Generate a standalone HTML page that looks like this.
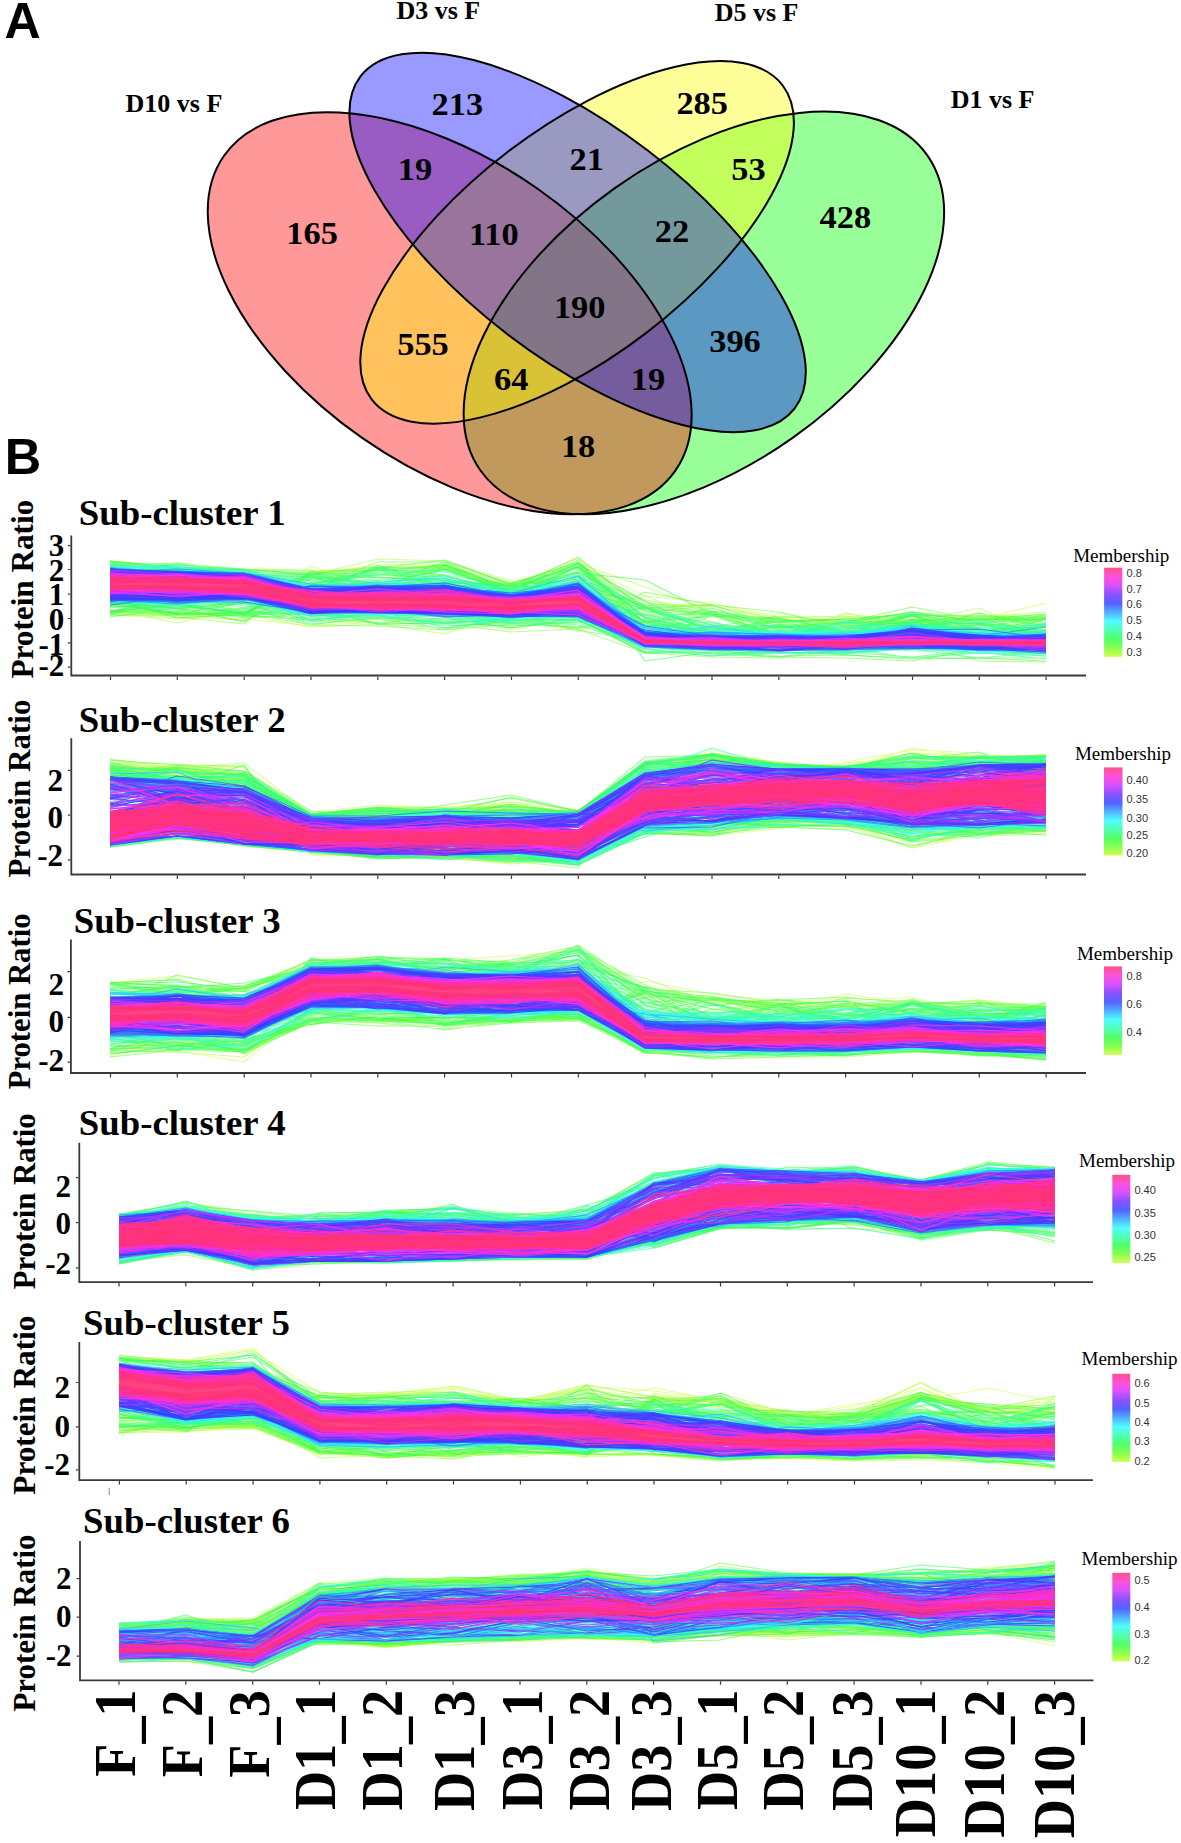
<!DOCTYPE html><html><head><meta charset="utf-8"><style>html,body{margin:0;padding:0;background:#fff;overflow:hidden}svg{display:block}g.l path{fill:none;stroke-width:1.1;stroke-linejoin:round}</style></head><body><svg width="1181" height="1843" viewBox="0 0 1181 1843"><rect width="100%" height="100%" fill="#fff"/><ellipse cx="703.9" cy="312.9" rx="273.4" ry="153.3" transform="rotate(-35.2 703.9 312.9)" fill="#00ff00" fill-opacity="0.4"/>
<ellipse cx="449.7" cy="313.2" rx="275.2" ry="152.4" transform="rotate(34.9 449.7 313.2)" fill="#ff0000" fill-opacity="0.4"/>
<ellipse cx="577.1" cy="242.3" rx="258.6" ry="114.0" transform="rotate(-37.4 577.1 242.3)" fill="#ffff00" fill-opacity="0.4"/>
<ellipse cx="577.6" cy="242.4" rx="273.3" ry="115.6" transform="rotate(37.4 577.6 242.4)" fill="#0000ff" fill-opacity="0.4"/>
<ellipse cx="703.9" cy="312.9" rx="273.4" ry="153.3" transform="rotate(-35.2 703.9 312.9)" fill="none" stroke="#000" stroke-width="2"/>
<ellipse cx="449.7" cy="313.2" rx="275.2" ry="152.4" transform="rotate(34.9 449.7 313.2)" fill="none" stroke="#000" stroke-width="2"/>
<ellipse cx="577.1" cy="242.3" rx="258.6" ry="114.0" transform="rotate(-37.4 577.1 242.3)" fill="none" stroke="#000" stroke-width="2"/>
<ellipse cx="577.6" cy="242.4" rx="273.3" ry="115.6" transform="rotate(37.4 577.6 242.4)" fill="none" stroke="#000" stroke-width="2"/>
<text x="0" y="0" font-size="32.5" style="font-family:'Liberation Serif',serif;font-weight:bold" text-anchor="middle" transform="translate(457.4 115.1) scale(1.06 1)">213</text>
<text x="0" y="0" font-size="32.5" style="font-family:'Liberation Serif',serif;font-weight:bold" text-anchor="middle" transform="translate(702.2 113.9) scale(1.06 1)">285</text>
<text x="0" y="0" font-size="32.5" style="font-family:'Liberation Serif',serif;font-weight:bold" text-anchor="middle" transform="translate(415.0 180.4) scale(1.06 1)">19</text>
<text x="0" y="0" font-size="32.5" style="font-family:'Liberation Serif',serif;font-weight:bold" text-anchor="middle" transform="translate(586.8 170.4) scale(1.06 1)">21</text>
<text x="0" y="0" font-size="32.5" style="font-family:'Liberation Serif',serif;font-weight:bold" text-anchor="middle" transform="translate(748.5 179.9) scale(1.06 1)">53</text>
<text x="0" y="0" font-size="32.5" style="font-family:'Liberation Serif',serif;font-weight:bold" text-anchor="middle" transform="translate(312.1 243.8) scale(1.06 1)">165</text>
<text x="0" y="0" font-size="32.5" style="font-family:'Liberation Serif',serif;font-weight:bold" text-anchor="middle" transform="translate(493.9 245.3) scale(1.06 1)">110</text>
<text x="0" y="0" font-size="32.5" style="font-family:'Liberation Serif',serif;font-weight:bold" text-anchor="middle" transform="translate(672.0 242.4) scale(1.06 1)">22</text>
<text x="0" y="0" font-size="32.5" style="font-family:'Liberation Serif',serif;font-weight:bold" text-anchor="middle" transform="translate(845.4 227.9) scale(1.06 1)">428</text>
<text x="0" y="0" font-size="32.5" style="font-family:'Liberation Serif',serif;font-weight:bold" text-anchor="middle" transform="translate(579.7 318.1) scale(1.06 1)">190</text>
<text x="0" y="0" font-size="32.5" style="font-family:'Liberation Serif',serif;font-weight:bold" text-anchor="middle" transform="translate(423.0 354.7) scale(1.06 1)">555</text>
<text x="0" y="0" font-size="32.5" style="font-family:'Liberation Serif',serif;font-weight:bold" text-anchor="middle" transform="translate(735.0 351.7) scale(1.06 1)">396</text>
<text x="0" y="0" font-size="32.5" style="font-family:'Liberation Serif',serif;font-weight:bold" text-anchor="middle" transform="translate(511.2 390.1) scale(1.06 1)">64</text>
<text x="0" y="0" font-size="32.5" style="font-family:'Liberation Serif',serif;font-weight:bold" text-anchor="middle" transform="translate(648.0 390.0) scale(1.06 1)">19</text>
<text x="0" y="0" font-size="32.5" style="font-family:'Liberation Serif',serif;font-weight:bold" text-anchor="middle" transform="translate(578.1 456.6) scale(1.06 1)">18</text>
<text x="125.5" y="112.2" font-size="26.0" style="font-family:'Liberation Serif',serif;font-weight:bold" text-anchor="start" fill="#000" >D10 vs F</text>
<text x="396.4" y="19.3" font-size="26.0" style="font-family:'Liberation Serif',serif;font-weight:bold" text-anchor="start" fill="#000" >D3 vs F</text>
<text x="714.7" y="20.8" font-size="26.0" style="font-family:'Liberation Serif',serif;font-weight:bold" text-anchor="start" fill="#000" >D5 vs F</text>
<text x="950.7" y="107.6" font-size="26.0" style="font-family:'Liberation Serif',serif;font-weight:bold" text-anchor="start" fill="#000" >D1 vs F</text>
<text x="4.5" y="38.0" font-size="50.0" style="font-family:'Liberation Sans',sans-serif;font-weight:bold" text-anchor="start" fill="#000" >A</text>
<text x="4.7" y="474.2" font-size="50.5" style="font-family:'Liberation Sans',sans-serif;font-weight:bold" text-anchor="start" fill="#000" >B</text>
<text x="78.8" y="524.7" font-size="36.8" style="font-family:'Liberation Serif',serif;font-weight:bold" text-anchor="start" fill="#000" >Sub-cluster 1</text>
<text x="0" y="0" font-size="31.20" style="font-family:'Liberation Serif',serif;font-weight:bold" transform="translate(32.5 678.5) rotate(-90)">Protein Ratio</text>
<text x="64.3" y="556.1" font-size="31.0" style="font-family:'Liberation Serif',serif;font-weight:bold" text-anchor="end" fill="#000" >3</text>
<text x="64.3" y="581.0" font-size="31.0" style="font-family:'Liberation Serif',serif;font-weight:bold" text-anchor="end" fill="#000" >2</text>
<text x="64.3" y="604.6" font-size="31.0" style="font-family:'Liberation Serif',serif;font-weight:bold" text-anchor="end" fill="#000" >1</text>
<text x="64.3" y="629.6" font-size="31.0" style="font-family:'Liberation Serif',serif;font-weight:bold" text-anchor="end" fill="#000" >0</text>
<text x="64.3" y="654.8" font-size="31.0" style="font-family:'Liberation Serif',serif;font-weight:bold" text-anchor="end" fill="#000" >-1</text>
<text x="64.3" y="676.2" font-size="31.0" style="font-family:'Liberation Serif',serif;font-weight:bold" text-anchor="end" fill="#000" >-2</text>
<g class="l">
<path d="M110 614l67-21 67 22 67-43 67-5 67-1 66 25 67-5 67 28 67-11 67 14 67 0 66-2 67 1 67-1M110 612l67 3 67 4 67 7 67-5 67-3 66 12 67-13 67 23 67-37 67 14 67 14 66-2 67-10 67-16M110 615l67 4 67-4 67-49 67 22 67-24 66 19 67-19 67 32 67 7 67 18 67-4 66 0 67 3 67 15M110 607l67 6 67 1 67-40 67-9 67-1 66 29 67-31 67 63 67 17 67-7 67-21 66 9 67 1 67 0" stroke="#ccff32" stroke-opacity="0.50"/>
<path d="M110 614l67 2 67 4 67-24 67 7 67-17 66-3 67-20 67 44 67 35 67-15 67 7 66-19 67 10 67 1M110 614l67 4 67-3 67 12 67-3 67 10 66-24 67 22 67-27 67 27 67-13 67 6 66 2 67-7 67-4M110 609l67 14 67-15 67-36 67-5 67 2 66 19 67-31 67 54 67 31 67-29 67 13 66-3 67-3 67-3M110 561l67 6 67 2 67 6 67-16 67 2 66 20 67 7 67 17 67 1 67 14 67 12 66-18 67 3 67 1M110 602l67 6 67 8 67-43 67-5 67-3 66 23 67-20 67 44 67-6 67 12 67-2 66 6 67-14 67 28M110 579l67-16 67 6 67 1 67 26 67-13 66 1 67-21 67 24 67 24 67 25 67-23 66 12 67-1 67 12M110 614l67 4 67-3 67 5 67 5 67-15 66 17 67-6 67-25 67 26 67 20 67-7 66-13 67-5 67-5M110 604l67 10 67 0 67-35 67-10 67-5 66 32 67-8 67 16 67 1 67 37 67-25 66 7 67-11 67 26" stroke="#a4ff32" stroke-opacity="0.52"/>
<path d="M110 599l67 18 67 7 67-53 67-1 67 5 66 10 67-9 67 24 67 11 67 9 67 2 66 0 67 11 67-14M110 611l67 2 67-1 67-3 67 14 67 1 66 8 67-3 67 24 67 4 67 1 67-8 66-7 67 18 67 1" stroke="#7dff32" stroke-opacity="0.54"/>
<path d="M110 612l67 3 67-14 67 8 67 5 67 16 66-6 67 4 67-6 67 12 67-13 67 3 66 2 67-7 67-3M110 615l67 0 67-7 67 17 67 1 67 4 66-11 67 11 67 12 67 12 67 3 67 1 66 3 67-12 67 7M110 565l67-2 67 11 67 14 67-19 67-2 66 24 67-31 67 69 67 6 67-10 67-2 66-11 67 6 67 7M110 610l67 2 67 5 67-43 67-7 67 2 66 18 67 0 67 18 67 7 67 18 67-1 66-15 67 6 67-5M110 568l67-3 67 5 67 1 67 10 67-17 66 32 67-29 67 69 67-9 67-11 67 6 66 1 67 14 67-18M110 613l67-9 67 14 67-27 67-21 67 1 66 16 67-29 67 51 67 5 67 14 67-6 66-15 67 13 67-2M110 599l67 10 67 12 67-50 67 18 67-23 66 18 67-3 67 26 67 6 67 22 67 6 66-20 67-4 67-1M110 599l67 5 67 11 67-40 67-5 67 17 66 11 67-1 67 36 67-3 67-9 67-1 66 2 67 1 67 12M110 600l67 15 67 1 67 4 67-7 67-7 66 18 67-5 67 34 67-3 67 6 67-1 66 4 67-1 67 3M110 562l67 7 67 4 67 14 67-25 67 0 66 21 67-17 67 36 67 11 67 9 67 12 66-7 67-8 67 1M110 604l67 10 67-1 67-29 67-14 67-5 66 32 67-27 67 45 67 7 67 14 67-3 66-4 67-14 67 10M110 613l67-24 67 24 67 12 67-9 67 7 66-4 67 8 67-35 67 13 67 7 67 15 66 3 67 6 67-5M110 603l67 12 67-3 67 1 67 11 67 4 66-9 67-14 67 15 67 7 67 7 67-4 66-14 67 0 67 6M110 613l67 0 67-10 67 18 67-2 67 10 66-8 67 7 67-13 67-1 67 20 67-10 66-4 67-2 67 18M110 561l67 7 67 5 67 7 67-3 67 4 66 5 67-18 67 55 67 11 67-4 67 12 66-23 67 16 67 1" stroke="#56ff32" stroke-opacity="0.55"/>
<path d="M110 599l67 16 67-2 67-39 67 9 67 4 66-3 67-5 67 32 67 4 67 3 67 13 66-2 67-2 67-9M110 617l67-9 67 14 67-40 67 3 67-2 66 1 67-22 67 61 67-12 67 11 67-3 66-4 67 21 67-4M110 612l67-8 67-6 67-22 67 10 67-21 66 23 67-16 67 36 67 6 67 11 67 3 66 3 67-18 67 14M110 613l67-5 67-5 67-17 67-18 67-8 66 25 67-12 67 7 67 34 67 9 67-4 66-5 67 6 67-1M110 599l67 19 67-4 67-36 67-3 67-6 66 23 67-15 67 31 67-3 67 21 67 5 66-6 67-2 67 7M110 562l67 6 67 2 67 4 67-1 67 3 66 15 67-10 67 59 67-24 67 21 67-10 66-5 67 11 67-15M110 565l67 0 67 4 67 7 67 21 67-31 66 23 67-25 67 54 67 15 67-9 67 9 66-6 67 3 67 9M110 561l67 6 67 3 67 3 67-3 67-4 66 22 67-13 67 48 67 15 67-1 67-16 66-5 67 23 67-15M110 603l67 11 67-1 67-24 67 10 67-31 66 18 67-7 67 44 67-7 67 3 67 23 66-20 67-3 67-5M110 611l67-6 67 8 67-31 67 2 67-15 66 22 67-1 67 27 67 17 67-7 67 1 66-12 67 27 67-7M110 605l67-1 67 11 67-7 67 16 67-1 66 3 67-4 67-2 67 16 67-1 67-5 66-10 67 0 67-3M110 612l67 0 67-13 67-26 67 4 67 6 66 1 67-17 67 44 67 14 67 11 67-11 66 4 67-4 67 11" stroke="#32ff36" stroke-opacity="0.57"/>
<path d="M110 563l67 8 67 0 67 6 67 6 67 1 66 7 67-28 67 98 67-9 67-4 67 7 66 3 67 0 67 0M110 615l67-19 67 12 67-19 67-5 67-9 66 24 67-32 67 39 67 26 67-11 67-2 66 10 67 5 67 0M110 600l67 11 67-17 67 2 67-31 67 24 66 0 67-25 67 37 67 33 67-7 67-5 66 2 67 3 67 7M110 567l67 2 67 4 67 5 67 11 67-14 66 20 67-29 67 52 67 14 67 1 67 4 66-7 67-6 67 9M110 611l67-5 67 7 67-37 67 9 67-7 66 18 67-14 67 26 67 20 67 9 67-15 66-10 67 10 67-3M110 605l67 8 67 1 67-30 67-15 67 16 66 4 67-10 67 56 67-23 67 17 67-6 66 3 67 7 67-1M110 601l67 1 67-3 67 17 67-1 67 6 66 1 67-13 67 24 67-1 67 5 67 1 66 1 67-2 67-7M110 565l67 3 67 4 67 3 67 9 67-2 66 4 67 1 67 49 67-22 67 21 67 2 66-8 67-6 67-4M110 606l67-1 67 7 67 7 67-3 67 10 66-4 67 6 67-21 67 23 67 1 67 1 66-17 67 17 67-6M110 603l67 11 67-11 67 21 67-6 67 5 66-2 67-5 67 18 67 4 67-5 67-1 66-8 67 10 67 3M110 601l67 4 67-1 67 11 67-5 67 2 66 7 67 6 67 21 67 4 67 2 67 3 66 3 67-5 67 1M110 566l67 2 67 2 67 19 67-3 67-17 66 24 67-8 67 36 67 11 67-2 67 4 66-18 67 18 67-8M110 607l67-1 67 5 67 4 67 0 67 6 66 2 67-6 67 34 67 2 67 0 67-2 66-2 67 9 67-6M110 602l67 2 67-10 67 20 67 2 67-1 66 3 67 2 67 33 67-1 67 5 67-9 66 10 67-6 67 7M110 601l67 8 67-7 67-15 67 2 67-7 66 12 67-21 67 60 67-4 67 3 67-9 66-4 67 6 67 6M110 600l67 13 67 3 67 1 67 6 67-5 66 10 67-10 67 35 67 0 67-1 67 1 66-4 67 0 67 2M110 578l67-7 67 3 67 15 67-21 67 7 66 21 67-29 67 61 67 5 67 4 67-6 66-1 67 1 67 8M110 600l67 3 67 7 67-27 67-9 67 6 66 14 67-28 67 56 67-14 67 21 67 7 66-14 67 7 67 2M110 565l67 6 67 1 67 12 67 0 67-22 66 31 67-9 67 41 67 1 67 0 67 8 66-8 67 4 67-4M110 607l67 0 67-5 67 12 67-1 67 3 66 2 67-1 67 32 67 1 67-3 67 7 66-6 67-2 67 5M110 612l67-15 67 16 67 2 67-3 67 5 66 7 67-10 67 38 67 1 67-9 67 8 66 5 67-7 67-6M110 593l67 9 67 2 67 9 67-1 67 11 66-5 67-1 67 5 67-7 67 21 67 2 66-8 67 9 67-20" stroke="#32ff5d" stroke-opacity="0.59"/>
<path d="M110 567l67-1 67 9 67 13 67-16 67 0 66 18 67 1 67 18 67 20 67 4 67-7 66-2 67 15 67-2M110 567l67 1 67 6 67 15 67-22 67 15 66 4 67 1 67 41 67 6 67-8 67 15 66 0 67-17 67 10M110 603l67 1 67-4 67-12 67-2 67-2 66 6 67-4 67 35 67 15 67-10 67 11 66-22 67 8 67 7M110 568l67 4 67 1 67 5 67 5 67 4 66 9 67-10 67 48 67-6 67 7 67 1 66-9 67 7 67-10M110 576l67-3 67-3 67 15 67 16 67-18 66 12 67-11 67 41 67 0 67 10 67 0 66-6 67 8 67-12M110 568l67 0 67 6 67 7 67-1 67 0 66 6 67-19 67 51 67 19 67-1 67-1 66-23 67 18 67 3M110 607l67-2 67-6 67 14 67-2 67 4 66 4 67 2 67 25 67 8 67-3 67-6 66 6 67-2 67 2M110 603l67 5 67-13 67 25 67-8 67 4 66 4 67-1 67-5 67 18 67-14 67 14 66-7 67 14 67-8M110 611l67-9 67 12 67-30 67-9 67 2 66 12 67-8 67 49 67 3 67 3 67-4 66-9 67 14 67-14M110 607l67-4 67-5 67-24 67 4 67 1 66 14 67-11 67 44 67 8 67 3 67-6 66-3 67 2 67 6M110 563l67 12 67-4 67 13 67 3 67 1 66 3 67-9 67 44 67 12 67 4 67-20 66 8 67-11 67 14M110 598l67 1 67 3 67 11 67 5 67 4 66-2 67 0 67 29 67 7 67-6 67 1 66-4 67 2 67 4M110 600l67 4 67 11 67-2 67 0 67 7 66-4 67 0 67 9 67 6 67 5 67 0 66-16 67 11 67-4" stroke="#32ff85" stroke-opacity="0.61"/>
<path d="M110 569l67-2 67 6 67 7 67 2 67 3 66 6 67 3 67 21 67 23 67-5 67 2 66-12 67 13 67-1M110 564l67 7 67 2 67 15 67-18 67 0 66 23 67-1 67 25 67 6 67 10 67 2 66-10 67 9 67-11M110 602l67-9 67 13 67 10 67 2 67-2 66 5 67-6 67 34 67 7 67-3 67 0 66-5 67 3 67 2M110 569l67 1 67 3 67 16 67-6 67-2 66 10 67-18 67 35 67 22 67 2 67 10 66-17 67 3 67 13M110 600l67 3 67-5 67 24 67-8 67 2 66 7 67 0 67-16 67 31 67-13 67 7 66-5 67 3 67 9M110 566l67 5 67 2 67 15 67-7 67 16 66-1 67-19 67 31 67 17 67 10 67 0 66-5 67 5 67-5M110 599l67 4 67-9 67 26 67-6 67 3 66 11 67-8 67 14 67-1 67 1 67-7 66 3 67 3 67 0M110 567l67 2 67 4 67 15 67-2 67-4 66 6 67 3 67 35 67 4 67-5 67 11 66-10 67 3 67 8M110 569l67 1 67 3 67 14 67 1 67-8 66 14 67-22 67 66 67-4 67-1 67 1 66-4 67 3 67 2" stroke="#32ffac" stroke-opacity="0.63"/>
<path d="M110 568l67 2 67 4 67 12 67 0 67-3 66 14 67-12 67 42 67 9 67-5 67 11 66-16 67 8 67 5M110 602l67 2 67-5 67 11 67 5 67 9 66-7 67 0 67 29 67 5 67-4 67 6 66-5 67 5 67 3M110 569l67 7 67-2 67 15 67-3 67 3 66 3 67-5 67 42 67 3 67 3 67-1 66-8 67-4 67 9M110 568l67 3 67 4 67 15 67 1 67 3 66 2 67-20 67 57 67 1 67 1 67-2 66-7 67 11 67 0M110 600l67-10 67 10 67 13 67 0 67 2 66 5 67-4 67 32 67 2 67-1 67 1 66-3 67 3 67 2M110 568l67-1 67 3 67 16 67 0 67 2 66 9 67-16 67 51 67 8 67-3 67 0 66-2 67 1 67-1M110 578l67-7 67 2 67 16 67-6 67 2 66 10 67-8 67 41 67 6 67 1 67 2 66-7 67 6 67 0M110 569l67 3 67 1 67 14 67 1 67-2 66 12 67-16 67 54 67-3 67 3 67-8 66 2 67 1 67 7M110 600l67 4 67-3 67 15 67-5 67 17 66-9 67-9 67 28 67 4 67-10 67 3 66 1 67-8 67-3" stroke="#32ffd3" stroke-opacity="0.65"/>
<path d="M110 568l67-4 67 8 67 15 67-3 67-8 66 19 67-7 67 47 67-4 67 2 67-2 66-1 67 10 67-7M110 568l67-1 67 11 67 8 67 2 67-4 66 13 67-20 67 61 67 1 67-6 67-10 66 7 67 1 67 7M110 602l67-1 67-2 67 14 67 2 67-3 66 3 67 3 67 10 67 7 67-4 67 4 66-2 67 3 67 0M110 601l67 5 67-10 67 17 67-1 67 4 66 1 67-1 67 11 67 8 67-1 67 1 66-6 67 8 67-4M110 602l67-12 67 7 67 16 67 0 67 2 66 1 67 2 67 24 67 8 67-4 67 3 66-1 67 5 67-3" stroke="#32fffa" stroke-opacity="0.66"/>
<path d="M110 597l67 3 67 0 67-15 67-2 67 5 66 13 67-15 67 41 67 13 67-3 67-4 66-3 67 7 67 1M110 569l67 2 67 3 67 14 67-6 67-4 66 18 67-15 67 51 67-5 67 9 67 1 66-8 67 8 67-4M110 601l67-1 67-1 67 17 67-4 67 2 66 3 67-6 67 14 67 10 67 0 67-3 66 1 67 4 67-1M110 567l67 6 67 0 67 13 67-3 67 3 66 13 67-18 67 53 67-8 67 10 67 2 66-9 67 5 67 2M110 591l67 9 67-2 67-9 67-3 67 9 66-1 67-9 67 54 67-2 67 0 67-2 66-10 67 11 67 0M110 602l67-2 67-2 67-7 67-5 67 1 66 6 67-7 67 49 67-2 67 2 67 5 66-10 67 5 67-2M110 602l67 0 67 1 67 7 67 3 67 2 66 1 67 0 67 31 67 2 67 4 67-1 66-4 67 3 67 2M110 568l67 4 67 1 67 17 67-5 67 5 66 7 67-13 67 54 67-3 67 1 67 3 66-5 67 1 67 2" stroke="#32dcff" stroke-opacity="0.68"/>
<path d="M110 569l67 2 67 2 67 11 67 7 67-4 66 8 67-10 67 43 67 9 67 3 67-1 66-13 67 14 67-6M110 600l67 0 67 0 67-13 67 0 67 1 66 5 67-17 67 57 67 3 67 3 67-3 66-7 67 4 67 3M110 599l67 1 67-1 67-12 67-2 67 3 66 7 67-10 67 50 67 2 67-2 67 0 66-4 67 7 67-1M110 600l67 2 67-3 67 14 67-2 67 2 66 4 67-1 67 27 67 6 67 2 67-2 66-3 67 1 67 7M110 569l67 3 67 2 67 15 67-2 67-4 66 14 67-12 67 45 67 8 67 2 67-3 66-7 67 5 67 7M110 602l67-1 67-6 67-9 67-1 67 6 66 4 67-10 67 50 67-3 67 2 67 3 66-7 67 6 67 1M110 599l67 1 67-2 67 11 67 3 67 2 66 2 67 1 67 27 67 3 67 3 67 0 66-2 67 2 67-5" stroke="#32b5ff" stroke-opacity="0.70"/>
<path d="M110 568l67 6 67 2 67 13 67 3 67-2 66 4 67-8 67 47 67 3 67 1 67-1 66-6 67 8 67-1M110 600l67 4 67-6 67-12 67 1 67-1 66 11 67-11 67 49 67-3 67 3 67 2 66-7 67 7 67 3M110 572l67 3 67 0 67 17 67-5 67 2 66 5 67-10 67 51 67-2 67 5 67-1 66-1 67 3 67-3M110 568l67 4 67 2 67 15 67-2 67 0 66 8 67-9 67 51 67 2 67-2 67 2 66-6 67 2 67 5M110 599l67-7 67 7 67-10 67 5 67-5 66 6 67-12 67 54 67-3 67 4 67-2 66 5 67-4 67 3M110 571l67 0 67 3 67 14 67-1 67 6 66 3 67-5 67 44 67 1 67 3 67-1 66 0 67 1 67-4M110 572l67-3 67 4 67 18 67-3 67 3 66 5 67-8 67 45 67 0 67 1 67 2 66-6 67 6 67-9M110 599l67 2 67-2 67-7 67-6 67 3 66 7 67-13 67 53 67 1 67-1 67 2 66-3 67 1 67 2M110 569l67 4 67 0 67 16 67-2 67-2 66 16 67-17 67 48 67 2 67 5 67-3 66-3 67 5 67-1M110 571l67 1 67 2 67 16 67-3 67 1 66 8 67-13 67 50 67 1 67 4 67-4 66 7 67-4 67 0M110 597l67 4 67-2 67-9 67-2 67 0 66 10 67-4 67 42 67 1 67-2 67 1 66-6 67 10 67-6M110 594l67 4 67 1 67-8 67-3 67-1 66 8 67 0 67 36 67 9 67-3 67 1 66-6 67 5 67 1M110 592l67 8 67-2 67 12 67 2 67 0 66 6 67-8 67 34 67 4 67 2 67-1 66-1 67 1 67-4" stroke="#328dff" stroke-opacity="0.72"/>
<path d="M110 605l67-9 67 1 67-8 67-3 67 6 66 3 67-8 67 49 67 2 67-1 67 0 66-7 67-1 67 9M110 592l67 4 67 2 67 12 67 2 67 0 66 5 67-2 67 20 67 4 67-3 67 1 66-4 67 5 67-1M110 572l67-1 67 7 67 16 67-8 67 4 66 5 67-1 67 38 67 5 67 0 67 4 66-12 67 9 67 1M110 596l67 3 67 1 67-10 67 0 67-4 66 10 67-9 67 47 67 2 67-1 67 6 66-10 67 4 67 4M110 593l67 5 67 1 67 12 67-1 67 7 66-2 67 2 67 29 67 3 67 2 67-3 66-2 67 3 67 2M110 599l67 1 67-4 67-5 67-6 67 2 66 6 67-6 67 47 67 3 67 1 67 2 66-11 67 8 67-3M110 573l67-1 67 1 67 16 67-1 67-1 66 10 67-7 67 45 67 7 67-6 67 3 66-9 67 6 67 2M110 601l67-7 67 5 67 7 67 4 67 3 66 1 67 2 67 29 67 4 67 1 67-1 66-3 67 4 67 0M110 600l67 2 67-6 67 16 67-2 67 0 66 5 67 0 67 32 67 1 67 3 67-2 66-1 67 0 67-1M110 570l67 1 67 5 67 13 67-1 67 0 66 8 67-4 67 48 67-2 67-3 67 2 66-7 67 9 67-2M110 599l67-6 67 6 67-8 67-4 67 1 66 8 67-9 67 48 67 3 67-1 67-1 66-6 67 7 67 1M110 596l67 7 67-4 67 13 67-2 67 1 66 5 67 0 67 29 67 4 67 1 67 0 66-6 67 5 67 2M110 602l67-12 67 5 67 18 67 0 67 1 66 2 67-4 67 35 67 3 67 0 67-1 66 0 67-2 67 1M110 576l67-4 67 2 67 15 67-1 67-1 66 14 67-9 67 34 67 10 67 2 67 4 66-14 67 9 67 3M110 596l67 2 67 1 67-10 67 3 67-3 66 8 67-14 67 53 67 0 67 3 67-2 66-2 67 4 67-2M110 599l67-2 67 1 67-7 67-2 67-1 66 9 67-11 67 49 67 2 67 2 67-2 66-7 67 6 67 1M110 573l67-1 67 4 67 13 67-2 67-1 66 9 67-6 67 47 67 1 67 2 67-2 66-6 67 5 67 0M110 598l67 3 67-2 67-9 67-2 67 2 66 7 67-8 67 48 67 0 67 4 67-4 66-6 67 10 67-2M110 600l67 1 67 1 67 10 67-2 67 4 66 1 67 0 67 32 67 1 67 2 67-5 66 3 67 1 67 1M110 570l67 1 67 3 67 19 67-7 67 2 66 13 67-12 67 56 67-1 67 6 67-4 66 1 67 0 67-1M110 600l67 0 67-1 67 12 67-1 67 6 66-1 67 0 67 31 67 4 67-5 67 3 66-2 67 2 67-3M110 570l67 2 67 6 67 13 67 3 67-6 66 8 67-6 67 46 67 2 67 1 67 0 66-1 67-1 67 2M110 600l67 0 67-1 67-10 67-2 67-4 66 13 67-10 67 60 67 3 67 1 67-1 66-3 67 0 67 6M110 596l67-3 67 1 67 18 67 0 67 2 66 1 67 0 67 27 67 4 67 2 67 1 66-1 67 0 67 2M110 600l67 1 67-2 67-10 67 4 67-5 66 8 67-4 67 44 67 3 67-2 67 0 66-3 67 5 67 0M110 597l67-4 67 4 67-6 67-6 67 7 66 4 67-10 67 46 67 4 67 1 67 2 66-10 67 9 67 1M110 596l67 5 67-3 67-9 67-2 67 3 66 10 67-13 67 52 67-1 67-1 67 3 66-10 67 7 67-3M110 599l67 1 67-2 67-6 67 3 67-8 66 9 67-7 67 50 67-1 67 1 67-1 66-5 67 5 67 2M110 599l67 1 67-4 67 17 67 0 67-3 66 6 67-5 67 22 67 5 67-1 67 3 66-10 67 6 67 0M110 576l67-4 67 2 67 18 67-1 67 2 66 4 67-10 67 50 67 5 67-4 67 4 66-12 67 7 67 1" stroke="#3266ff" stroke-opacity="0.74"/>
<path d="M110 600l67-2 67 0 67 10 67 4 67 1 66 3 67 0 67 14 67 9 67-3 67 3 66-9 67 7 67 1M110 600l67-3 67 2 67-13 67 2 67-1 66 9 67-4 67 46 67 0 67 2 67-4 66-2 67 4 67-3M110 596l67 4 67-6 67-5 67 5 67-3 66 5 67-2 67 41 67 7 67-5 67 2 66-5 67 8 67-3M110 598l67-5 67 5 67 12 67 0 67 0 66 5 67-5 67 25 67 2 67 2 67-1 66-9 67 9 67 1M110 591l67 8 67-1 67-9 67 5 67-7 66 8 67-9 67 48 67 7 67-5 67 6 66-8 67 6 67-1M110 599l67 1 67-2 67 16 67-4 67 3 66 3 67 0 67 26 67 5 67 1 67-2 66 2 67 0 67 0M110 569l67 5 67 0 67 19 67-3 67-3 66 11 67-11 67 53 67-1 67-2 67 2 66-6 67 8 67-2M110 599l67-4 67 3 67 11 67 4 67 0 66 2 67-3 67 24 67 2 67-1 67 4 66-13 67 8 67 1M110 572l67 2 67 3 67 15 67-5 67 0 66 12 67-15 67 52 67 4 67 1 67 0 66-2 67 3 67-7M110 599l67-4 67 1 67-5 67-4 67-2 66 12 67-7 67 47 67 0 67 2 67 0 66-10 67 6 67 4M110 570l67 7 67-2 67 18 67-4 67 4 66 4 67-5 67 43 67 0 67 6 67-5 66-6 67 12 67-5M110 594l67-4 67 8 67-7 67 3 67-6 66 14 67-15 67 50 67 2 67 2 67-3 66-8 67 7 67 3M110 600l67 0 67-4 67 14 67 1 67 3 66 3 67-2 67 24 67-3 67 0 67 1 66-7 67 10 67-2M110 600l67 0 67-2 67 15 67-2 67 2 66 3 67 0 67 27 67 3 67 2 67 1 66-5 67 5 67-2M110 569l67 4 67 4 67 18 67-8 67 4 66 6 67-4 67 44 67 5 67-2 67-3 66-6 67 8 67 0M110 596l67 4 67-3 67 13 67-1 67 1 66 5 67-9 67 37 67 1 67 4 67-3 66 1 67 4 67-1M110 591l67-1 67 9 67-7 67-6 67 9 66 1 67-5 67 46 67 2 67 1 67-4 66-2 67 4 67 0M110 574l67 0 67 0 67 20 67-6 67 1 66 9 67-11 67 48 67 4 67-2 67 2 66 2 67-4 67-1M110 574l67 0 67 1 67 14 67 5 67-6 66 8 67-7 67 48 67 0 67 0 67-1 66 3 67-2 67 0M110 599l67-9 67 1 67 20 67 0 67-1 66 7 67-7 67 36 67 3 67-5 67 4 66-4 67 4 67 0M110 597l67-3 67 0 67 15 67 2 67 0 66 1 67-3 67 36 67 4 67 1 67-6 66 1 67 3 67 0M110 592l67 2 67 4 67 12 67-1 67 4 66 2 67-2 67 31 67 3 67 0 67 0 66-1 67 3 67 3M110 594l67-5 67 6 67-3 67-5 67 0 66 9 67-6 67 47 67 5 67-4 67 2 66-10 67 8 67 3M110 595l67 6 67-6 67 13 67 2 67 2 66 0 67 0 67 21 67 9 67-3 67-2 66-7 67 8 67 0M110 591l67 7 67 0 67-9 67-3 67 9 66 2 67-11 67 53 67 2 67-1 67-2 66-8 67 6 67 4M110 577l67-2 67-1 67 18 67 1 67 1 66 5 67-13 67 49 67 4 67 0 67-2 66 3 67 0 67-4M110 593l67 2 67-3 67 19 67-2 67 0 66 3 67 3 67 27 67 2 67 7 67-5 66-1 67-1 67 7M110 575l67-1 67 1 67 37 67-1 67 0 66 3 67-3 67 25 67 5 67 1 67-4 66-4 67 3 67 0M110 573l67 1 67 1 67 18 67-2 67-3 66 8 67-8 67 47 67 7 67 0 67-1 66-4 67 1 67 1M110 596l67 2 67-2 67-7 67 3 67-2 66 10 67-13 67 52 67 1 67 2 67-5 66 4 67-3 67-1M110 592l67 5 67-1 67-5 67 1 67 5 66 3 67-14 67 53 67 1 67-3 67 4 66-6 67 7 67-4M110 591l67-1 67 3 67 14 67 3 67 2 66 5 67-5 67 31 67 4 67 3 67-4 66-2 67 4 67 2M110 574l67 2 67-1 67 14 67 2 67-5 66 14 67-11 67 44 67 7 67 2 67-4 66-3 67 5 67-3M110 577l67-5 67 2 67 15 67-2 67 0 66 9 67-9 67 53 67 0 67-3 67-1 66-4 67 10 67-4M110 591l67 10 67-3 67-5 67-3 67 1 66 6 67-7 67 42 67 7 67 0 67 1 66-3 67 5 67-3M110 594l67 3 67-2 67-5 67 4 67 2 66 3 67-4 67 51 67 1 67 0 67-2 66 1 67 2 67-3M110 593l67-4 67 8 67-6 67 5 67-7 66 8 67-6 67 46 67 0 67-1 67 2 66-5 67 8 67 0M110 592l67-1 67 2 67 17 67-1 67 4 66-2 67 4 67 22 67 5 67-1 67-2 66-4 67 1 67 3M110 569l67 3 67 3 67 18 67-3 67 3 66 7 67-13 67 53 67 0 67-1 67 3 66-3 67-2 67 2M110 599l67-9 67 3 67 0 67 2 67-5 66 9 67-7 67 48 67 0 67 2 67-4 66-2 67 4 67 1" stroke="#323fff" stroke-opacity="0.76"/>
<path d="M110 597l67-1 67-1 67 17 67-4 67 2 66 2 67-2 67 33 67 3 67-1 67 0 66-2 67 3 67 2M110 598l67 2 67-6 67 12 67 1 67 7 66-2 67-2 67 32 67 3 67 2 67 0 66-2 67-1 67 3M110 576l67-1 67 3 67 17 67-2 67 2 66 2 67-6 67 46 67 4 67 0 67-3 66 1 67 1 67-3M110 599l67-1 67-3 67 18 67-2 67 2 66 0 67 0 67 30 67 3 67-2 67 0 66 2 67 0 67 2M110 592l67 6 67-3 67 14 67-1 67 2 66 2 67 0 67 30 67 6 67-1 67-2 66-1 67 3 67 1M110 593l67 2 67 3 67 10 67 0 67 4 66 3 67-2 67 29 67 5 67 0 67-1 66-2 67 3 67 0M110 578l67-6 67 5 67 16 67-6 67 8 66 5 67-8 67 42 67 5 67 3 67-1 66-8 67 4 67 3M110 599l67-1 67 1 67-10 67 8 67-5 66 5 67-5 67 46 67 1 67-2 67 2 66-8 67 9 67-3M110 592l67-3 67 7 67-5 67 5 67-7 66 10 67-7 67 45 67 2 67 1 67 0 66-1 67 1 67 0M110 597l67-6 67 5 67 15 67 1 67 2 66-2 67-6 67 31 67 5 67-4 67-1 66-6 67 6 67 4M110 574l67 7 67-4 67 17 67 0 67-1 66 4 67-3 67 44 67 4 67 0 67-2 66 1 67-3 67 2M110 570l67 4 67 6 67 12 67 1 67 3 66 3 67-7 67 45 67 5 67 0 67 0 66 0 67-5 67 4M110 575l67 2 67 0 67 15 67-5 67 5 66 6 67-8 67 48 67 3 67 0 67-2 66-5 67 6 67-1M110 595l67 0 67-1 67 16 67 1 67-1 66 4 67 1 67 27 67 3 67-1 67 5 66-6 67 3 67 3M110 590l67 8 67-4 67 14 67 2 67 1 66 3 67 0 67 30 67 2 67 4 67-4 66-1 67 3 67-3M110 590l67 4 67 1 67-3 67-2 67 2 66 6 67-9 67 49 67 2 67-4 67 4 66-3 67 3 67-3M110 594l67-1 67-1 67 18 67-1 67 5 66 1 67-6 67 34 67 1 67 0 67 2 66-3 67 5 67 1M110 590l67 4 67 0 67 19 67-2 67-2 66 4 67 2 67 27 67 2 67 2 67-1 66-1 67 2 67-1M110 596l67-2 67 0 67 14 67 2 67 3 66-2 67-5 67 31 67-1 67 3 67 2 66 0 67 1 67-2" stroke="#4d32ff" stroke-opacity="0.77"/>
<path d="M110 593l67 2 67-2 67 17 67-3 67 2 66 5 67-8 67 40 67 0 67 2 67 0 66-4 67 1 67 3M110 570l67 6 67 5 67 11 67 3 67-2 66 10 67-16 67 53 67-2 67 1 67 1 66 2 67-3 67-2M110 591l67-1 67 6 67-5 67 5 67-6 66 7 67-2 67 45 67 2 67-3 67 2 66-3 67 2 67 1M110 578l67 0 67 1 67 13 67 1 67-2 66 11 67-7 67 45 67-3 67 4 67-3 66 4 67-2 67-1M110 579l67-2 67-1 67 15 67 2 67 3 66 5 67-6 67 41 67 4 67 2 67 0 66-1 67 1 67-2M110 572l67 6 67 1 67 10 67 1 67 4 66 6 67-7 67 44 67 5 67-5 67 4 66-2 67 2 67-2M110 575l67 2 67-3 67 20 67 2 67 1 66 0 67-2 67 44 67 3 67-3 67-3 66 4 67 2 67-1M110 596l67 0 67-3 67 15 67 1 67 5 66-1 67-8 67 39 67 5 67-2 67 0 66-3 67 0 67 0M110 574l67 1 67 3 67 11 67 10 67-6 66 6 67-3 67 42 67 4 67 0 67 0 66-1 67 1 67-1M110 578l67 1 67-1 67 14 67 7 67-2 66 3 67-9 67 48 67 3 67 0 67 0 66-1 67 1 67-2M110 578l67 0 67-1 67 28 67 7 67-3 66 2 67 1 67 33 67-1 67 4 67-3 66-1 67 0 67 7" stroke="#7432ff" stroke-opacity="0.79"/>
<path d="M110 581l67-2 67-3 67 18 67-1 67 2 66 4 67-6 67 47 67 1 67 1 67-2 66 2 67 0 67-1M110 576l67 3 67-3 67 17 67 2 67 2 66 5 67-10 67 45 67 1 67 4 67-1 66-4 67 4 67-4M110 591l67 1 67 0 67 17 67-1 67 0 66 4 67-3 67 34 67 1 67 2 67-2 66-1 67 1 67 0M110 590l67 0 67 5 67 15 67-1 67 1 66 1 67 0 67 31 67 4 67 0 67-1 66-1 67 1 67 2M110 577l67-1 67-2 67 21 67-3 67 0 66 8 67-9 67 47 67-1 67 5 67 0 66-3 67 3 67 0M110 578l67 0 67 4 67 12 67 3 67-3 66 5 67-9 67 52 67 3 67-1 67 3 66-3 67 0 67 1M110 571l67 6 67 1 67 16 67-2 67 4 66 6 67-7 67 44 67 3 67 0 67 0 66-4 67 4 67-1M110 588l67 0 67 5 67 15 67 0 67 4 66-3 67 0 67 34 67 1 67 1 67-1 66 2 67-2 67 3" stroke="#9b32ff" stroke-opacity="0.81"/>
<path d="M110 591l67 2 67-2 67-1 67 6 67-1 66 6 67-6 67 41 67 6 67 0 67 0 66-5 67 3 67 0M110 578l67 2 67 0 67 16 67 1 67-3 66 3 67-3 67 49 67 2 67-1 67 2 66-2 67 0 67 1M110 594l67-5 67 3 67 15 67 3 67-2 66 3 67-4 67 36 67 1 67 0 67 0 66 0 67 0 67 6M110 589l67 1 67 2 67 15 67 0 67 2 66 2 67-4 67 36 67 1 67 2 67-2 66 0 67 0 67 1M110 590l67 7 67-6 67 14 67 7 67-4 66 3 67-1 67 32 67 2 67 0 67 3 66-4 67 1 67 1M110 570l67 4 67 4 67 19 67 2 67-5 66 8 67-5 67 43 67 2 67-3 67 2 66-8 67 9 67-1M110 579l67-1 67-2 67 19 67-3 67-3 66 11 67-3 67 43 67 2 67-2 67 0 66-3 67 4 67-1M110 574l67 3 67 1 67 18 67-2 67 2 66 6 67-5 67 42 67 3 67-1 67-1 66 2 67 0 67-2M110 590l67-1 67 8 67 8 67 5 67-3 66 4 67-2 67 34 67 1 67 4 67-3 66 0 67-1 67 1M110 577l67 1 67 0 67 16 67 2 67-4 66 8 67-6 67 46 67 2 67 0 67 0 66-1 67 1 67-1M110 578l67 0 67-2 67 30 67 3 67 2 66-2 67-4 67 39 67 0 67 0 67 0 66 1 67-1 67 4M110 593l67-4 67 6 67 1 67-4 67 4 66 4 67-2 67 42 67 1 67 1 67-2 66 1 67 1 67-1" stroke="#c332ff" stroke-opacity="0.83"/>
<path d="M110 574l67 6 67 0 67 15 67-6 67 6 66 4 67-3 67 43 67 3 67-2 67 1 66 1 67-3 67 1M110 575l67-1 67 7 67 15 67-2 67-3 66 9 67-10 67 49 67-1 67 4 67-4 66 3 67 1 67-1M110 578l67-3 67 4 67 26 67 3 67 2 66 2 67-4 67 31 67 3 67-1 67-1 66-4 67 6 67-1M110 589l67 1 67 0 67 16 67 3 67 0 66 3 67-5 67 36 67 2 67 0 67-1 66 0 67-1 67 2M110 593l67 3 67-3 67 12 67 3 67 2 66 2 67 0 67 30 67 2 67 0 67 1 66-2 67 1 67 0M110 580l67-3 67 4 67 13 67 3 67-1 66 2 67-4 67 46 67-1 67 3 67-1 66-2 67 3 67-1M110 592l67 4 67-4 67 14 67 4 67-5 66 8 67-7 67 37 67 3 67-1 67 0 66 0 67-1 67 1M110 589l67 3 67-2 67 14 67 3 67 5 66 2 67-8 67 34 67 2 67 0 67 0 66-2 67 2 67 0" stroke="#ea32ff" stroke-opacity="0.85"/>
<path d="M110 589l67 5 67-1 67 14 67 0 67 2 66 3 67 3 67 28 67 1 67 1 67-1 66-1 67 1 67 1M110 580l67-1 67 2 67 16 67-1 67-1 66 6 67-5 67 42 67 4 67 0 67 0 66 0 67 0 67 0M110 590l67-1 67 2 67 4 67 4 67-5 66 6 67-4 67 44 67 2 67 0 67 0 66-2 67 1 67 0M110 577l67-2 67 7 67 15 67-2 67 2 66 3 67-5 67 42 67 5 67 0 67 0 66 0 67 0 67 0" stroke="#ff32ec" stroke-opacity="0.87"/>
<path d="M110 591l67 0 67 4 67 11 67 1 67 2 66 2 67-4 67 36 67 1 67 0 67 0 66-1 67 1 67 0M110 578l67 1 67 0 67 16 67-1 67 2 66 5 67-6 67 45 67 0 67 2 67-2 66 2 67 1 67-1M110 575l67 4 67 7 67 7 67 2 67 3 66 4 67-5 67 43 67 2 67 0 67-1 66 1 67-1 67 1M110 586l67 0 67 5 67 14 67 4 67-3 66 5 67-4 67 33 67 2 67 0 67 0 66-1 67 1 67-1M110 581l67-1 67-1 67 18 67-1 67-2 66 8 67-6 67 44 67 2 67 0 67 0 66 0 67 0 67-1M110 590l67 1 67 1 67 14 67 1 67 3 66-2 67-2 67 36 67 2 67 0 67 0 66 0 67 0 67 1M110 578l67 2 67-2 67 20 67-2 67-3 66 8 67-4 67 41 67 4 67-1 67 1 66 0 67 0 67 0M110 573l67 6 67-2 67 20 67 1 67-5 66 8 67-5 67 42 67 3 67 1 67 0 66 0 67-2 67 1M110 588l67 1 67 1 67 17 67 2 67 0 66 1 67-4 67 36 67 2 67 0 67 0 66-1 67 1 67 1M110 573l67 5 67 4 67 9 67 8 67-1 66 4 67-5 67 43 67 2 67 0 67-1 66-4 67 3 67 1M110 588l67 2 67 3 67 14 67 1 67-1 66 3 67-1 67 34 67 0 67 1 67 0 66-1 67 1 67 1M110 579l67-2 67 1 67 17 67-2 67 3 66 8 67-8 67 44 67 2 67 0 67-2 66 2 67 0 67 0M110 590l67-2 67 3 67 15 67 3 67 0 66 2 67-6 67 39 67 0 67 0 67 0 66 0 67 0 67 2M110 591l67 0 67 0 67 5 67 1 67 0 66 5 67-6 67 44 67 2 67 0 67-1 66 1 67 0 67-1M110 578l67 1 67 4 67 10 67 4 67-1 66 5 67-6 67 45 67 2 67-1 67 1 66-2 67 2 67-1M110 587l67 4 67 1 67 12 67 2 67 2 66 6 67-8 67 38 67 0 67 0 67 1 66-2 67 1 67 1M110 579l67 2 67-1 67 16 67-4 67 3 66 7 67-9 67 46 67 3 67 0 67-1 66 0 67 1 67 0M110 588l67 0 67 4 67 14 67 1 67 3 66 0 67-6 67 38 67 2 67 0 67 0 66 0 67 1 67 0M110 575l67 6 67 1 67 22 67 0 67 0 66 7 67-5 67 37 67 1 67 1 67 0 66-2 67 1 67 0M110 590l67-2 67 4 67 11 67 7 67-2 66 2 67-6 67 38 67 2 67 0 67 1 66-2 67 1 67 1M110 580l67 1 67 0 67 16 67 0 67-2 66 8 67-6 67 45 67 2 67 0 67 0 66 0 67 0 67 0M110 587l67 3 67 4 67 11 67 1 67-1 66 7 67-7 67 37 67 2 67 0 67 0 66 0 67 0 67 0" stroke="#ff32c5" stroke-opacity="0.88"/>
<path d="M110 577l67 2 67 4 67 21 67 2 67 4 66 0 67-4 67 36 67 2 67 0 67 0 66 0 67 0 67 1M110 579l67 1 67 1 67 12 67 2 67-5 66 13 67-6 67 43 67 2 67 0 67 0 66-1 67 1 67-1M110 589l67 0 67 4 67 13 67 0 67 2 66 4 67-6 67 36 67 2 67 0 67 0 66 0 67 0 67 0M110 579l67-1 67 2 67 16 67 2 67-2 66 3 67-2 67 43 67 2 67 0 67-1 66 1 67 0 67 0M110 588l67 2 67 3 67 15 67-1 67-2 66 6 67-6 67 37 67 2 67 1 67-1 66-1 67 1 67 0M110 580l67 0 67 3 67 8 67 6 67-7 66 12 67-6 67 44 67 2 67 0 67 0 66 0 67 0 67-1M110 576l67 4 67 2 67 12 67 6 67-5 66 5 67-3 67 43 67 2 67 0 67 0 66 0 67 0 67-2M110 585l67 2 67 5 67 12 67 5 67-2 66 5 67-8 67 38 67 2 67 0 67 4 66-4 67 0 67 1M110 580l67 0 67 2 67 15 67 2 67-2 66 6 67-5 67 42 67 2 67 0 67-1 66 0 67 1 67 0M110 579l67 1 67 4 67 12 67 2 67-1 66 5 67-6 67 44 67 3 67-1 67 0 66-1 67 1 67 0M110 588l67 0 67 3 67 5 67 3 67-1 66 4 67-5 67 43 67 2 67 0 67 0 66 0 67 0 67 0M110 579l67 0 67 3 67 11 67 2 67 0 66 5 67-3 67 43 67 2 67 0 67-1 66-4 67 6 67-1M110 578l67 1 67 2 67 17 67-2 67 1 66 4 67-3 67 43 67 1 67 1 67-1 66-1 67 1 67-1M110 579l67 1 67 1 67 12 67 0 67 5 66 3 67-4 67 45 67 2 67 0 67 0 66 0 67 0 67 1M110 589l67-1 67 4 67 12 67 1 67 5 66-1 67-4 67 35 67 2 67 0 67 0 66 0 67 0 67 0M110 590l67-2 67 4 67 12 67 3 67 3 66 0 67-5 67 37 67 2 67 0 67 0 66-1 67 1 67 1M110 589l67-1 67 1 67 15 67 6 67-2 66 0 67-2 67 36 67 2 67 0 67 0 66-1 67 1 67 0M110 576l67 5 67 0 67 14 67 2 67-4 66 8 67-4 67 43 67 2 67 0 67 0 66 0 67 0 67 0M110 588l67 0 67 2 67 14 67 2 67 1 66 6 67-9 67 38 67 1 67 1 67 0 66-1 67 1 67 1M110 588l67 0 67 1 67 16 67-1 67 1 66 4 67-4 67 37 67 2 67 0 67 0 66-1 67 1 67 1M110 589l67-3 67 4 67 17 67-1 67 1 66 2 67-6 67 39 67 2 67 0 67 1 66-2 67 0 67 1M110 587l67 2 67 1 67 13 67 5 67-1 66 0 67-3 67 38 67 2 67 0 67 0 66-1 67 1 67 1M110 589l67 0 67 2 67 13 67 1 67 4 66 1 67-2 67 34 67 1 67 1 67 0 66-1 67 0 67 2M110 579l67 2 67 1 67 15 67 1 67 5 66 0 67-7 67 44 67 2 67 0 67 0 66 0 67 0 67-1M110 587l67 5 67-1 67 4 67 2 67-1 66 9 67-8 67 43 67 1 67 1 67 0 66-1 67 1 67-1M110 588l67-1 67 4 67 13 67 2 67 1 66 4 67-5 67 36 67 2 67 0 67 0 66-1 67 2 67-1M110 589l67-1 67 0 67 16 67 3 67-1 66 3 67-5 67 36 67 2 67 0 67-1 66 1 67 0 67 0M110 579l67-1 67 2 67 15 67 2 67 1 66 6 67-8 67 44 67 3 67-1 67-1 66 1 67 0 67 0M110 582l67-3 67 3 67 13 67 0 67 1 66 6 67-6 67 44 67 2 67 0 67 1 66-1 67 0 67 1M110 581l67 2 67-1 67 16 67 1 67-4 66 6 67-1 67 40 67 2 67 0 67 0 66-1 67 1 67 0M110 580l67-1 67 3 67 19 67-1 67-3 66 6 67-4 67 41 67 2 67 0 67 0 66 0 67 1 67 0M110 578l67 0 67 4 67 13 67 2 67 1 66 4 67-6 67 46 67 2 67 0 67 0 66-1 67 1 67 0M110 588l67-1 67 3 67 15 67 0 67 0 66 4 67-6 67 37 67 2 67 0 67-1 66 1 67 0 67-1M110 581l67-2 67 5 67 13 67 0 67 2 66 3 67-4 67 42 67 2 67 0 67 0 66 0 67 0 67 0M110 580l67 2 67 2 67 11 67 2 67-1 66 7 67-6 67 43 67 2 67 0 67 0 66-1 67 1 67 0M110 586l67 0 67 2 67 19 67-3 67 2 66 6 67-6 67 36 67 2 67 0 67 2 66-3 67 1 67 0M110 580l67 1 67 2 67 13 67 2 67-1 66 7 67-6 67 44 67 2 67 0 67 0 66 0 67 0 67 1M110 583l67-3 67 1 67 18 67-3 67 1 66 7 67-8 67 44 67 2 67 0 67 0 66 0 67 0 67 0M110 582l67-3 67 5 67 12 67 3 67-2 66 6 67-5 67 44 67 1 67 1 67 0 66-1 67 1 67 0M110 588l67-2 67 5 67 7 67 1 67-2 66 5 67-5 67 44 67 2 67-1 67 0 66 0 67 0 67 0M110 588l67 1 67-1 67 10 67 2 67-1 66 3 67-3 67 43 67 1 67 1 67 0 66-1 67 1 67 0M110 587l67 1 67 5 67 13 67-1 67 0 66 5 67-7 67 38 67 2 67 0 67 0 66 0 67 0 67 1M110 586l67 1 67 6 67 12 67 0 67 0 66 3 67-5 67 39 67 2 67 0 67 0 66-1 67 1 67 0M110 584l67-5 67 5 67 13 67 1 67 3 66 3 67-7 67 43 67 3 67-1 67 0 66 0 67 0 67 0M110 588l67-1 67 3 67 7 67 2 67-1 66 5 67-6 67 43 67 2 67 1 67 0 66-2 67 0 67 1M110 579l67-1 67 5 67 16 67-1 67-1 66 2 67 1 67 40 67 2 67 0 67 0 66 0 67 1 67-1M110 582l67-4 67 5 67 13 67 3 67-2 66 4 67-3 67 43 67 2 67 1 67 0 66 0 67 0 67-1M110 588l67-1 67 0 67 10 67 2 67-3 66 8 67-7 67 43 67 2 67 0 67 0 66-1 67 2 67-1M110 586l67 0 67 5 67 11 67 6 67-2 66 2 67-4 67 38 67 2 67 0 67 0 66 0 67 0 67 0M110 580l67 0 67 2 67 15 67 4 67-2 66 3 67-6 67 44 67 2 67 0 67 0 66 0 67 0 67 0M110 581l67-2 67 3 67 23 67 3 67-1 66-1 67-2 67 38 67 2 67 0 67 0 66-1 67 1 67 0M110 580l67 2 67 1 67 16 67 1 67-1 66 5 67-7 67 44 67 1 67 0 67 0 66 0 67 1 67 0M110 588l67-1 67 4 67 13 67 3 67 2 66 1 67-6 67 38 67 2 67 0 67 0 66-1 67 1 67 1M110 588l67 1 67 2 67 14 67 0 67 0 66 5 67-5 67 37 67 2 67 0 67-1 66 0 67 0 67 1M110 580l67 0 67 3 67 16 67 1 67 0 66 4 67-5 67 42 67 1 67 1 67-1 66-1 67 1 67 0M110 586l67 0 67 4 67 7 67 2 67 0 66 4 67-5 67 42 67 2 67 1 67-1 66 0 67 0 67 0" stroke="#ff329e" stroke-opacity="0.90"/>
<path d="M110 580l67 1 67 2 67 13 67 2 67 3 66 1 67-4 67 43 67 1 67 0 67 0 66 0 67 1 67-1M110 578l67-1 67 5 67 24 67-1 67 1 66 3 67-4 67 37 67 1 67 0 67 1 66-1 67 0 67 1M110 586l67 3 67 2 67 13 67 3 67-1 66 2 67-4 67 38 67 2 67-1 67 1 66-1 67 1 67-1M110 586l67 0 67 5 67 11 67 3 67 2 66 1 67-3 67 37 67 2 67 0 67-1 66 1 67-1 67 1M110 581l67-3 67 4 67 15 67 0 67 2 66 5 67-7 67 43 67 3 67 0 67-1 66 0 67 1 67-1M110 579l67 4 67-1 67 21 67 1 67 2 66 2 67-4 67 37 67 3 67-1 67 1 66-1 67 1 67 0M110 588l67-1 67-1 67 17 67 2 67-1 66 3 67-2 67 37 67 1 67 1 67 0 66-1 67 0 67 0M110 585l67 2 67 1 67 17 67-2 67 3 66 2 67-5 67 39 67 2 67-1 67 1 66-1 67 1 67-1M110 580l67 2 67 1 67 14 67 1 67 0 66 5 67-5 67 42 67 2 67 1 67-1 66 0 67 0 67 0M110 586l67-1 67 5 67 14 67-2 67 3 66 3 67-5 67 37 67 2 67 0 67 1 66-1 67 0 67 0M110 580l67 2 67 3 67 11 67 4 67-1 66 5 67-6 67 43 67 2 67 0 67 0 66-1 67 0 67 0M110 585l67 2 67 1 67 17 67-2 67 4 66 2 67-5 67 36 67 2 67 0 67 0 66 0 67 1 67-1M110 588l67-1 67 0 67 16 67 2 67-2 66 4 67-3 67 38 67 1 67 1 67-1 66 0 67 1 67 0M110 584l67 4 67-1 67 18 67 1 67-4 66 6 67-3 67 37 67 2 67-1 67 1 66-1 67 0 67 1M110 581l67-1 67 3 67 21 67 1 67-2 66 6 67-5 67 37 67 3 67 0 67 0 66-2 67 2 67-1M110 586l67 1 67-2 67 22 67-3 67 0 66 5 67-6 67 38 67 3 67 0 67-1 66 0 67 1 67-1M110 587l67 0 67 2 67 14 67 1 67 0 66 3 67-5 67 40 67 2 67-1 67 1 66-1 67 0 67 1M110 588l67-2 67 2 67 17 67-1 67 1 66 5 67-6 67 36 67 2 67 1 67-1 66 0 67 1 67-1M110 586l67-1 67 3 67 14 67 2 67 1 66 3 67-3 67 37 67 1 67 1 67 0 66-1 67 0 67 1M110 581l67 1 67 0 67 17 67-1 67-1 66 5 67-5 67 43 67 2 67 1 67-1 66 1 67 0 67-1M110 581l67 0 67 2 67 15 67 4 67-3 66 6 67-4 67 41 67 2 67 0 67-1 66 0 67 0 67 1M110 583l67-1 67-1 67 18 67 0 67-2 66 8 67-6 67 41 67 3 67-1 67 1 66-1 67 1 67-1M110 587l67 0 67 3 67 13 67 2 67 0 66 4 67-6 67 38 67 1 67 1 67-1 66 0 67 0 67 1M110 586l67 1 67 1 67 14 67 3 67 0 66 2 67-3 67 36 67 3 67 0 67-1 66 0 67 1 67-1M110 581l67 3 67-3 67 16 67 2 67 3 66 3 67-4 67 40 67 1 67 0 67 0 66 0 67 0 67 0M110 588l67-3 67 4 67 11 67 6 67-1 66 3 67-6 67 38 67 3 67 0 67 0 66-1 67 1 67-1M110 581l67 1 67-1 67 15 67 4 67 0 66 4 67-6 67 42 67 3 67 0 67-1 66 0 67 1 67-1M110 588l67-1 67 3 67 13 67 2 67-1 66 3 67-3 67 38 67 1 67 1 67-1 66 0 67 0 67 0M110 585l67-1 67 4 67 15 67 2 67 1 66 3 67-4 67 36 67 2 67 1 67 0 66-1 67 1 67 0M110 587l67-1 67 2 67 12 67 5 67-1 66 4 67-6 67 40 67 2 67-1 67 0 66 0 67 0 67 0M110 580l67 3 67 0 67 15 67 3 67-1 66 4 67-5 67 42 67 2 67 0 67 1 66-1 67 0 67 1M110 581l67 2 67 1 67 14 67 3 67-1 66 5 67-6 67 42 67 2 67 0 67-1 66 1 67 0 67 0M110 582l67-1 67 1 67 17 67-1 67 0 66 7 67-5 67 41 67 2 67 0 67-1 66 0 67 0 67 1M110 581l67 1 67 0 67 14 67 4 67-1 66 6 67-6 67 41 67 3 67 0 67-1 66 0 67 0 67 0M110 586l67 0 67 3 67 16 67 0 67-3 66 7 67-8 67 40 67 2 67 1 67-1 66 0 67 0 67 1M110 590l67-3 67 2 67 14 67 2 67-2 66 5 67-6 67 40 67 1 67 1 67 0 66-1 67 0 67 0M110 582l67-3 67 5 67 14 67 1 67 1 66 5 67-6 67 41 67 3 67-1 67 1 66-1 67 0 67 1M110 586l67-2 67 5 67 13 67 4 67-3 66 5 67-7 67 40 67 2 67 0 67 1 66-1 67 1 67-1M110 586l67 0 67 1 67 15 67 1 67 1 66 5 67-6 67 39 67 1 67 0 67 0 66 0 67 0 67 0M110 582l67 0 67 0 67 17 67 1 67-1 66 6 67-7 67 42 67 3 67 0 67-1 66 0 67 1 67 0M110 586l67 0 67 5 67 12 67 3 67 0 66 3 67-6 67 38 67 2 67 0 67 1 66-1 67 1 67-1M110 583l67 6 67-2 67 18 67 1 67-1 66 2 67-4 67 38 67 2 67 0 67 1 66-1 67 1 67-1M110 582l67 0 67 1 67 14 67 5 67-5 66 8 67-6 67 41 67 2 67 0 67 1 66-1 67 1 67 0M110 583l67 2 67 3 67 15 67 1 67-2 66 4 67-3 67 38 67 3 67-1 67 0 66 0 67 0 67 0M110 582l67 1 67 2 67 13 67 2 67 3 66 1 67-3 67 40 67 2 67 0 67-1 66 0 67 1 67-1M110 586l67 0 67-2 67 19 67 0 67-1 66 6 67-6 67 40 67 1 67 0 67 0 66 0 67 0 67 1M110 582l67 1 67 2 67 15 67 0 67-1 66 4 67-3 67 41 67 2 67 0 67 0 66-1 67 1 67-1M110 582l67 0 67 4 67 12 67 1 67 0 66 5 67-1 67 37 67 3 67 0 67 0 66-1 67 1 67 0M110 583l67 1 67 4 67 13 67-1 67-1 66 6 67-6 67 41 67 3 67 0 67-1 66 0 67 1 67 0M110 585l67 0 67 2 67 17 67-1 67 1 66 4 67-7 67 40 67 2 67 0 67 0 66 0 67 0 67 1M110 586l67-1 67 2 67 16 67 0 67-1 66 5 67-5 67 39 67 2 67 1 67 0 66-1 67 0 67 1M110 582l67 0 67 2 67 16 67-1 67 0 66 5 67-5 67 41 67 3 67 0 67 0 66-1 67 1 67-1M110 585l67 2 67-1 67 16 67 2 67 2 66 1 67-4 67 38 67 2 67 0 67 0 66 0 67 0 67 0M110 586l67-4 67 1 67 17 67 1 67-1 66 7 67-6 67 40 67 2 67 0 67 0 66-1 67 1 67 0M110 584l67 1 67 3 67 14 67 1 67-1 66 5 67-4 67 38 67 2 67 0 67 1 66-1 67 0 67 0M110 586l67-1 67 3 67 15 67 1 67-1 66 4 67-3 67 37 67 2 67 0 67 0 66 0 67 0 67 1M110 583l67 1 67 0 67 14 67 3 67 0 66 5 67-7 67 41 67 3 67 0 67 0 66-1 67 0 67 0M110 586l67-1 67 2 67 17 67-2 67 3 66 3 67-5 67 38 67 2 67 0 67 0 66 0 67 0 67 0M110 582l67-1 67 5 67 14 67 0 67 2 66 3 67-5 67 41 67 2 67 0 67 0 66-1 67 1 67-1M110 583l67 2 67 2 67 16 67 0 67 0 66 3 67-5 67 40 67 2 67 0 67 0 66 0 67 0 67 0M110 585l67 1 67 3 67 14 67 0 67 0 66 7 67-7 67 38 67 2 67 0 67 0 66 0 67 1 67-1M110 583l67 0 67 1 67 15 67 1 67-1 66 6 67-5 67 42 67 1 67 0 67 0 66 0 67 0 67 1M110 584l67 0 67 5 67 13 67 2 67-3 66 7 67-5 67 38 67 3 67-1 67 0 66 0 67 0 67 1M110 583l67 1 67 1 67 16 67-1 67 0 66 5 67-2 67 38 67 2 67 0 67 0 66-1 67 1 67 0M110 586l67 0 67 1 67 15 67 2 67-1 66 4 67-6 67 40 67 2 67 0 67 0 66-1 67 1 67 0M110 583l67-1 67 2 67 19 67 1 67-1 66 6 67-9 67 41 67 2 67 0 67 0 66 0 67 1 67 0M110 582l67-1 67 3 67 19 67-2 67-2 66 6 67-6 67 42 67 2 67-1 67 1 66 0 67 0 67-1M110 585l67 0 67 3 67 12 67 4 67 1 66 3 67-8 67 41 67 2 67 0 67 0 66-1 67 1 67 0M110 582l67 1 67 0 67 19 67-1 67 0 66 4 67-7 67 44 67 1 67 0 67 1 66-1 67 0 67 0M110 585l67-2 67 4 67 15 67 0 67 1 66 3 67-3 67 38 67 2 67 0 67 0 66 0 67 0 67 0M110 586l67-2 67 3 67 12 67 2 67-1 66 8 67-8 67 41 67 2 67 0 67 0 66 0 67 0 67 0M110 584l67 1 67 2 67 17 67-2 67 1 66 3 67-5 67 40 67 2 67 0 67 1 66-2 67 1 67 0M110 584l67-3 67 2 67 17 67 0 67 0 66 5 67-4 67 40 67 2 67 0 67 0 66-1 67 1 67-1M110 583l67 1 67 2 67 12 67 5 67-2 66 5 67-4 67 39 67 2 67 0 67 1 66-1 67 0 67 1M110 584l67 0 67 3 67 11 67 4 67 0 66 1 67-2 67 40 67 2 67 0 67 0 66-1 67 1 67-1M110 583l67 1 67 3 67 12 67 2 67-2 66 5 67-4 67 41 67 2 67 0 67 0 66 0 67 0 67 1M110 584l67 1 67 3 67 14 67 2 67-1 66 5 67-6 67 39 67 2 67 0 67 0 66 0 67 0 67 0M110 584l67 0 67 0 67 15 67 3 67-2 66 5 67-7 67 43 67 2 67 0 67 0 66 0 67 0 67-1M110 584l67 0 67 3 67 15 67 1 67 0 66 3 67-5 67 40 67 2 67 1 67-1 66-1 67 1 67 0M110 586l67-1 67 4 67 12 67 2 67 0 66 3 67-6 67 41 67 2 67 0 67 0 66 0 67 0 67 1M110 585l67-1 67 5 67 11 67 2 67 0 66 6 67-6 67 40 67 1 67 0 67 0 66 0 67 0 67 0M110 585l67-2 67 4 67 16 67 1 67 1 66 2 67-6 67 40 67 2 67 0 67 1 66-1 67 0 67 0M110 586l67 0 67 0 67 15 67 5 67-2 66 4 67-4 67 37 67 2 67 0 67 0 66-1 67 1 67 0M110 584l67 0 67 3 67 13 67 3 67-1 66 4 67-4 67 39 67 2 67 0 67 1 66-1 67 0 67 0M110 585l67-1 67 1 67 16 67-2 67 1 66 5 67-4 67 41 67 1 67 0 67 1 66-1 67 0 67 0M110 583l67 3 67 0 67 14 67 2 67 0 66 5 67-4 67 38 67 2 67 0 67 0 66 0 67 0 67 1M110 581l67 4 67 3 67 11 67 3 67 0 66 3 67-6 67 42 67 2 67 0 67 0 66-1 67 1 67 0M110 584l67 0 67 3 67 14 67 2 67 0 66 3 67-5 67 40 67 2 67 0 67 0 66 0 67 0 67 0M110 584l67 1 67 0 67 14 67 3 67-1 66 5 67-5 67 40 67 2 67 0 67 0 66-1 67 1 67 0M110 587l67-1 67-1 67 15 67 3 67-1 66 5 67-6 67 40 67 2 67 0 67 0 66 0 67 0 67 0M110 583l67-1 67 6 67 14 67-2 67 1 66 5 67-6 67 41 67 2 67 0 67 0 66-1 67 1 67 0M110 584l67 3 67-2 67 15 67 2 67 0 66 5 67-5 67 40 67 1 67 0 67 0 66 0 67 0 67 0M110 584l67-1 67 2 67 16 67 1 67 1 66 3 67-5 67 40 67 2 67 0 67 0 66-1 67 1 67-1M110 585l67 0 67 1 67 16 67 2 67-1 66 5 67-4 67 37 67 2 67 0 67 0 66 0 67 0 67 0M110 583l67 2 67 2 67 14 67 0 67 2 66 4 67-8 67 42 67 2 67 0 67 0 66-1 67 1 67 0M110 584l67 1 67 4 67 13 67 0 67 2 66 4 67-6 67 39 67 3 67-1 67 0 66 0 67 1 67-1M110 582l67 1 67 4 67 16 67 0 67-3 66 5 67-3 67 39 67 3 67-1 67 0 66 0 67 0 67 0M110 583l67 1 67 3 67 13 67 2 67 0 66 4 67-5 67 39 67 3 67 0 67-1 66 0 67 1 67-1M110 582l67 2 67 1 67 15 67 2 67 1 66 2 67-5 67 41 67 2 67 0 67-1 66 0 67 1 67 0M110 584l67-2 67 4 67 16 67 1 67 1 66 2 67-4 67 39 67 2 67 0 67 0 66 0 67 0 67 0M110 586l67-2 67 2 67 13 67 3 67 3 66-1 67-3 67 40 67 2 67 0 67 0 66-1 67 1 67 0M110 584l67 0 67 1 67 15 67 2 67-1 66 4 67-4 67 40 67 2 67 0 67 0 66-1 67 1 67 1M110 583l67 0 67 6 67 15 67-2 67 1 66 1 67-4 67 42 67 1 67 0 67 0 66-1 67 1 67 0M110 584l67 0 67 0 67 14 67 6 67-5 66 7 67-6 67 41 67 2 67 0 67 0 66-1 67 1 67 0M110 586l67-5 67 6 67 11 67 4 67 2 66 1 67-6 67 42 67 2 67 0 67 0 66-1 67 1 67 1M110 584l67 0 67 3 67 14 67 1 67 0 66 4 67-6 67 41 67 2 67 0 67 0 66 0 67 0 67 0M110 583l67-1 67 6 67 13 67 1 67 0 66 4 67-4 67 39 67 2 67 0 67 0 66-1 67 1 67 0M110 583l67 2 67 1 67 15 67 1 67 0 66 3 67-3 67 39 67 2 67 0 67 0 66-1 67 1 67 0M110 584l67 0 67 1 67 16 67 0 67 0 66 4 67-6 67 42 67 2 67 0 67 0 66 0 67 0 67 0M110 583l67 0 67 3 67 15 67 1 67 0 66 4 67-7 67 42 67 2 67 0 67 0 66 0 67 0 67 0M110 585l67-1 67 2 67 15 67 2 67-2 66 6 67-7 67 41 67 2 67 0 67 0 66-1 67 1 67 0M110 584l67 0 67 3 67 14 67 1 67 2 66 3 67-5 67 39 67 2 67 0 67 0 66-1 67 1 67 0M110 584l67-1 67 4 67 9 67 6 67 0 66 3 67-3 67 39 67 2 67 0 67 1 66-2 67 1 67 0" stroke="#ff3276" stroke-opacity="0.92"/>
</g>
<path d="M71.3 535.5 V675.5 H1086.0" fill="none" stroke="#3a3a3a" stroke-width="1.8"/>
<path d="M70.4 545.6h-2.5M70.4 569.5h-2.5M70.4 594.2h-2.5M70.4 618.5h-2.5M70.4 642.8h-2.5M70.4 667.1h-2.5M110.5 676.4v3.5M177.3 676.4v3.5M244.2 676.4v3.5M311.0 676.4v3.5M377.8 676.4v3.5M444.6 676.4v3.5M511.5 676.4v3.5M578.3 676.4v3.5M645.1 676.4v3.5M712.0 676.4v3.5M778.8 676.4v3.5M845.6 676.4v3.5M912.5 676.4v3.5M979.3 676.4v3.5M1046.1 676.4v3.5" stroke="#3a3a3a" stroke-width="1.2" fill="none"/>
<text x="1073.2" y="561.9" font-size="19.0" style="font-family:'Liberation Serif',serif;font-weight:normal" text-anchor="start" fill="#000" >Membership</text>
<defs><linearGradient id="g0" x1="0" y1="0" x2="0" y2="1"><stop offset="0.00" stop-color="#ff3276"/><stop offset="0.10" stop-color="#ff32d1"/><stop offset="0.20" stop-color="#d232ff"/><stop offset="0.30" stop-color="#7832ff"/><stop offset="0.40" stop-color="#3247ff"/><stop offset="0.50" stop-color="#32a1ff"/><stop offset="0.60" stop-color="#32fbff"/><stop offset="0.70" stop-color="#32ffa8"/><stop offset="0.80" stop-color="#32ff4e"/><stop offset="0.90" stop-color="#71ff32"/><stop offset="1.00" stop-color="#ccff32"/></linearGradient></defs>
<rect x="1104.1" y="567.7" width="18.2" height="89.2" fill="url(#g0)" opacity="0.85"/>
<text x="1126.6" y="577.1" font-size="11.0" style="font-family:'Liberation Sans',sans-serif;font-weight:normal" text-anchor="start" fill="#333" >0.8</text>
<text x="1126.6" y="592.6" font-size="11.0" style="font-family:'Liberation Sans',sans-serif;font-weight:normal" text-anchor="start" fill="#333" >0.7</text>
<text x="1126.6" y="608.4" font-size="11.0" style="font-family:'Liberation Sans',sans-serif;font-weight:normal" text-anchor="start" fill="#333" >0.6</text>
<text x="1126.6" y="624.1" font-size="11.0" style="font-family:'Liberation Sans',sans-serif;font-weight:normal" text-anchor="start" fill="#333" >0.5</text>
<text x="1126.6" y="639.8" font-size="11.0" style="font-family:'Liberation Sans',sans-serif;font-weight:normal" text-anchor="start" fill="#333" >0.4</text>
<text x="1126.6" y="655.9" font-size="11.0" style="font-family:'Liberation Sans',sans-serif;font-weight:normal" text-anchor="start" fill="#333" >0.3</text>
<text x="78.8" y="731.9" font-size="36.8" style="font-family:'Liberation Serif',serif;font-weight:bold" text-anchor="start" fill="#000" >Sub-cluster 2</text>
<text x="0" y="0" font-size="31.05" style="font-family:'Liberation Serif',serif;font-weight:bold" transform="translate(30.4 877.5) rotate(-90)">Protein Ratio</text>
<text x="63.0" y="790.7" font-size="31.0" style="font-family:'Liberation Serif',serif;font-weight:bold" text-anchor="end" fill="#000" >2</text>
<text x="63.0" y="827.7" font-size="31.0" style="font-family:'Liberation Serif',serif;font-weight:bold" text-anchor="end" fill="#000" >0</text>
<text x="63.0" y="865.7" font-size="31.0" style="font-family:'Liberation Serif',serif;font-weight:bold" text-anchor="end" fill="#000" >-2</text>
<g class="l">
<path d="M110 762l67 14 67-4 67 42 67-5 67 22 66-25 67 7 67 14 67 2 67-2 67-2 66 23 67-13 67-4M110 763l67 12 67 27 67 10 67-7 67 3 66 2 67 2 67-40 67-22 67 13 67 6 66-21 67 10 67-3M110 765l67 5 67 4 67 40 67-5 67 5 66 6 67-8 67-49 67-8 67 14 67-1 66 10 67 3 67-17M110 778l67-12 67 6 67 81 67 5 67-1 66-18 67 24 67-98 67-11 67 33 67-25 66-12 67 3 67 8M110 763l67 0 67 9 67 46 67-10 67-1 66-2 67 9 67-42 67-17 67 13 67-3 66-12 67 2 67 6M110 764l67 4 67 8 67 38 67-7 67 0 66-5 67 8 67-38 67-18 67 12 67-1 66-8 67 1 67-3M110 774l67-9 67 2 67 84 67 4 67 3 66 5 67-4 67-27 67 3 67-6 67-11 66 27 67-11 67-3M110 767l67-1 67 8 67 43 67 0 67-2 66-11 67 10 67-50 67-2 67 2 67 3 66-5 67-3 67-1M110 780l67 2 67-6 67 74 67 4 67 3 66-2 67-9 67-13 67 3 67-13 67 4 66 21 67-15 67-3M110 767l67 8 67 7 67 71 67 5 67-3 66-1 67 10 67-36 67-9 67 8 67 2 66-8 67 12 67 0M110 770l67 12 67-2 67 35 67-4 67 1 66 12 67-12 67-48 67-9 67 8 67 4 66-13 67 14 67-6M110 767l67 2 67 6 67 40 67-5 67 5 66-4 67 1 67-41 67-18 67 10 67 18 66-27 67 3 67 5M110 763l67 18 67 6 67 27 67 8 67-13 66-4 67 9 67-40 67-18 67 12 67-5 66-6 67 0 67 8M110 776l67 7 67-3 67 35 67-5 67 3 66 9 67-8 67 13 67-3 67-6 67 3 66 12 67-6 67 0" stroke="#ccff32" stroke-opacity="0.50"/>
<path d="M110 759l67 9 67-5 67 51 67-5 67 7 66 3 67-8 67 21 67 2 67-15 67 3 66 26 67-21 67 5M110 763l67 4 67 0 67 86 67 5 67-1 66 7 67-5 67-26 67-1 67-17 67 2 66 14 67 5 67-2M110 777l67-8 67 7 67 39 67-7 67 5 66-11 67 12 67-40 67-20 67 15 67-2 66 15 67-24 67-3M110 768l67 0 67 19 67 28 67-1 67-3 66 1 67-1 67 18 67 0 67-4 67 0 66 16 67-10 67 0M110 777l67-7 67 14 67 31 67 1 67-6 66-5 67 8 67 1 67 20 67-24 67-10 66 38 67-14 67 7M110 785l67-15 67 10 67 34 67-4 67 13 66-7 67-2 67-50 67-3 67 2 67 5 66 0 67 9 67-16M110 760l67 10 67 12 67 34 67 3 67-9 66 1 67 1 67-49 67-1 67 6 67 1 66-1 67-3 67 0" stroke="#a4ff32" stroke-opacity="0.52"/>
<path d="M110 773l67-8 67 1 67 86 67 6 67 1 66 2 67 7 67-101 67 36 67-41 67 7 66-12 67 0 67-2M110 773l67-4 67 6 67 80 67 0 67 3 66 0 67 7 67-31 67 1 67-15 67 4 66 17 67-8 67-43M110 773l67 2 67-1 67 41 67-4 67-2 66 15 67-13 67-46 67-10 67 7 67 7 66-8 67-5 67 0M110 846l67-9 67 9 67 6 67 3 67 0 66-2 67 9 67-29 67-19 67 10 67 3 66-3 67 3 67-1M110 771l67-3 67 13 67 35 67-7 67 6 66-2 67-3 67 22 67-11 67 6 67-1 66-1 67 1 67 4M110 768l67 37 67-11 67 20 67-2 67-1 66-2 67 4 67-48 67-5 67 4 67 3 66-9 67 5 67-6M110 847l67-8 67 5 67 8 67 4 67-1 66 3 67 1 67-29 67-2 67-22 67 19 66 7 67 1 67-5" stroke="#7dff32" stroke-opacity="0.54"/>
<path d="M110 770l67-2 67 3 67 40 67 4 67-10 66-10 67 16 67-36 67-22 67 11 67 2 66-7 67-7 67 26M110 771l67 9 67 11 67 28 67-9 67 0 66-12 67 14 67-55 67-2 67 14 67-1 66-14 67 9 67-3M110 775l67 5 67 0 67 34 67-6 67 2 66-4 67 6 67 17 67-4 67 0 67 1 66 14 67-15 67 2M110 764l67 7 67 4 67 76 67 8 67-3 66 4 67 2 67-87 67-20 67 23 67-12 66 2 67-4 67-6M110 765l67 6 67 3 67 44 67-10 67 7 66 3 67-4 67-52 67-8 67 10 67 3 66-8 67-1 67-2M110 772l67 4 67 3 67 35 67-4 67 4 66-8 67 7 67-50 67-6 67 9 67 1 66 4 67-14 67 3M110 767l67 1 67 5 67 46 67-8 67 0 66 5 67-4 67-49 67-8 67 9 67 5 66-11 67-1 67 4M110 768l67 3 67 15 67 29 67-7 67 3 66 13 67-7 67-48 67-10 67 5 67 5 66-2 67-2 67-9M110 777l67 4 67 6 67 57 67 10 67 1 66-2 67 6 67-27 67-2 67-9 67-26 66 45 67-31 67 21M110 845l67-8 67 9 67 6 67 5 67-1 66 6 67-22 67-12 67 5 67-14 67-1 66 8 67 7 67-3M110 768l67 2 67 44 67 0 67-1 67 3 66-6 67 2 67-47 67-2 67 7 67-4 66 2 67-8 67 5M110 780l67-3 67 1 67 39 67-6 67 1 66-2 67 4 67 17 67-10 67-4 67 3 66 10 67-4 67 2M110 844l67-6 67 6 67 6 67 6 67-1 66 3 67 4 67-92 67-6 67 18 67-14 66 6 67-8 67-5" stroke="#56ff32" stroke-opacity="0.55"/>
<path d="M110 760l67 5 67 6 67 43 67-7 67 6 66-16 67 14 67-48 67-8 67 9 67 4 66-15 67 13 67-6M110 805l67-29 67 30 67 30 67-24 67-3 66 8 67-5 67-48 67-10 67 21 67-8 66-11 67 1 67-1M110 768l67 11 67 4 67 34 67-7 67 3 66-3 67 2 67 18 67-8 67 3 67-6 66 18 67-7 67 0M110 845l67-8 67 8 67 7 67-3 67 7 66 2 67 7 67-38 67-5 67-1 67 1 66 20 67-7 67-4M110 778l67 0 67 5 67 31 67 3 67-1 66-12 67 10 67-49 67-9 67 9 67 4 66-4 67-3 67-5M110 779l67 9 67-8 67 71 67 6 67 1 66-2 67 9 67-100 67-9 67 11 67 1 66-6 67 19 67-25M110 766l67 7 67 3 67 39 67 1 67-4 66 2 67-1 67 13 67 6 67-10 67 1 66-9 67-1 67 13M110 845l67-8 67 7 67 6 67 7 67-2 66 4 67 3 67-36 67 0 67-10 67 8 66 1 67 9 67-3M110 778l67 2 67 4 67 39 67-6 67-5 66 5 67-3 67-39 67-17 67 10 67 1 66-2 67-10 67 0" stroke="#32ff36" stroke-opacity="0.57"/>
<path d="M110 847l67-9 67 7 67 6 67 5 67-1 66-3 67 12 67-31 67 1 67-7 67 3 66 16 67-15 67 4M110 779l67-7 67 3 67 40 67-7 67 0 66 14 67-10 67-51 67-7 67 10 67 17 66-23 67 4 67 5M110 777l67-10 67 9 67 38 67 5 67-3 66 5 67-7 67-46 67-3 67 5 67-2 66-2 67-9 67 0M110 783l67-2 67-7 67 76 67 6 67-1 66 0 67 9 67-31 67 3 67-13 67-5 66 16 67 1 67-14M110 775l67 6 67 10 67 25 67 2 67-3 66 3 67-5 67-48 67-5 67 4 67 3 66-11 67 5 67-4M110 845l67-9 67 9 67 6 67 3 67 2 66-1 67 5 67-88 67-9 67 20 67-14 66-1 67-6 67-4M110 775l67 2 67-1 67 40 67-2 67-5 66 11 67-8 67-15 67-36 67 7 67-1 66 5 67-14 67 5" stroke="#32ff5d" stroke-opacity="0.59"/>
<path d="M110 768l67 19 67-22 67 84 67 9 67 0 66-8 67 15 67-32 67-7 67-9 67 8 66 8 67 1 67-9M110 768l67 14 67 5 67 27 67 0 67-3 66 11 67-10 67-50 67-4 67 27 67-19 66-5 67 1 67-3M110 847l67-9 67 0 67 14 67 4 67-1 66 7 67-3 67-30 67 3 67-11 67 1 66 17 67-11 67-13M110 847l67-9 67 6 67-28 67-3 67 2 66 2 67-6 67-47 67-8 67 8 67 3 66-5 67 2 67 1M110 768l67 2 67 14 67 56 67-21 67-9 66 10 67-8 67 20 67-16 67 4 67 3 66 0 67 3 67 0M110 847l67-9 67 7 67 5 67 4 67 1 66 5 67 5 67-33 67-4 67-1 67-3 66 4 67 0 67 0M110 845l67-9 67 3 67 11 67 5 67 0 66 5 67 0 67-30 67-10 67 5 67 1 66 10 67-6 67-2M110 765l67 16 67-1 67 37 67 5 67-10 66 16 67-16 67-48 67 1 67 2 67 0 66-5 67 11 67 4" stroke="#32ff85" stroke-opacity="0.61"/>
<path d="M110 770l67 13 67-10 67 42 67 1 67-7 66-2 67 7 67-46 67-8 67 5 67 3 66 0 67-11 67-1M110 845l67-7 67 6 67-30 67-6 67 6 66 0 67 0 67-52 67-6 67 11 67 0 66-10 67 1 67 13M110 762l67 17 67 3 67 34 67 6 67-7 66-4 67 14 67-48 67 10 67-19 67 0 66-1 67-5 67-3" stroke="#32ffac" stroke-opacity="0.63"/>
<path d="M110 779l67 4 67 25 67 43 67 4 67 1 66-3 67-4 67-24 67-4 67-1 67-2 66 9 67 3 67-4M110 768l67 40 67-2 67 45 67 6 67-2 66 3 67 1 67-31 67-7 67-13 67 11 66 6 67 4 67 2" stroke="#7dff32" stroke-opacity="0.54"/>
<path d="M110 770l67 28 67-23 67 77 67 2 67 3 66-1 67 4 67-27 67-11 67 5 67-4 66 8 67-4 67 4M110 768l67 14 67-4 67 48 67-10 67-4 66-6 67 8 67-48 67-7 67 9 67 0 66 1 67-4 67-1M110 777l67-4 67 13 67 38 67-3 67-5 66-7 67 4 67 16 67-3 67-8 67-10 66 23 67 7 67-16M110 845l67-8 67-1 67 15 67-7 67 8 66 1 67 6 67-34 67 2 67-13 67 8 66 15 67-7 67-10" stroke="#56ff32" stroke-opacity="0.55"/>
<path d="M110 777l67-8 67 22 67 27 67-1 67 6 66-16 67 15 67-52 67 3 67-8 67 2 66-9 67 0 67 4M110 845l67-8 67 7 67 7 67 6 67-2 66 2 67 5 67-39 67 6 67-14 67 0 66 11 67 0 67 0M110 779l67 8 67 1 67 31 67 3 67-9 66 0 67 1 67-41 67-11 67 6 67 0 66-5 67 1 67-3M110 780l67-2 67 18 67 21 67 5 67-7 66 5 67-7 67-37 67-11 67 1 67 2 66-4 67-1 67 1M110 775l67 5 67 1 67 36 67 9 67-12 66 17 67-20 67-34 67-10 67 5 67-3 66-7 67 6 67-2" stroke="#32ff36" stroke-opacity="0.57"/>
<path d="M110 773l67 7 67 5 67 34 67-6 67 3 66 2 67-5 67-43 67-5 67 8 67-4 66 23 67-27 67-4M110 846l67-10 67 8 67 7 67-1 67 5 66-2 67 9 67-92 67-6 67 6 67 10 66-10 67-7 67 0M110 774l67 10 67 7 67 26 67 2 67-3 66 2 67-4 67-43 67-9 67 7 67 0 66 2 67-7 67-1" stroke="#32ff5d" stroke-opacity="0.59"/>
<path d="M110 778l67 5 67-10 67 45 67-8 67 5 66-3 67 2 67-51 67-1 67 6 67-2 66-1 67 9 67-9M110 767l67 12 67 22 67 50 67-7 67 12 66-4 67 8 67-82 67-23 67 15 67-1 66 16 67-27 67-1M110 778l67 4 67 7 67 28 67-6 67 3 66-1 67 1 67-39 67-13 67 5 67 1 66-7 67 5 67-4M110 771l67 7 67 5 67 68 67 3 67 1 66 1 67 8 67-97 67-4 67 4 67 2 66 2 67 5 67-13M110 769l67 7 67 1 67 42 67-8 67 3 66 5 67-5 67-38 67-14 67 9 67 6 66-6 67-3 67-4M110 778l67 5 67 0 67 34 67 3 67-5 66 5 67-6 67-42 67-7 67 0 67 2 66 2 67-3 67-4M110 845l67-8 67 7 67-26 67 2 67-5 66 1 67-3 67-47 67-2 67 4 67 1 66 4 67-10 67-2M110 770l67 16 67 6 67 24 67 5 67-2 66-1 67-4 67 18 67-9 67-7 67 1 66 24 67-17 67-2M110 778l67-1 67 19 67 51 67 9 67-1 66-9 67-1 67-20 67-4 67-3 67-6 66 28 67-13 67-5M110 845l67-9 67 8 67 6 67 4 67-6 66-3 67 3 67-14 67-4 67-12 67 0 66 8 67 0 67-4M110 845l67-8 67 7 67 6 67 5 67 0 66-5 67 11 67-35 67-1 67-6 67-1 66 5 67 5 67 0M110 780l67 4 67 3 67 31 67 6 67 3 66 0 67-13 67-38 67-7 67 3 67-3 66 6 67-10 67-2M110 779l67 0 67 11 67 28 67 4 67-6 66 0 67 12 67-56 67-8 67 4 67 3 66 4 67-10 67-5" stroke="#32ff85" stroke-opacity="0.61"/>
<path d="M110 784l67-13 67 5 67 42 67-8 67 5 66-3 67 0 67 14 67-5 67-2 67 2 66 18 67-12 67-2M110 780l67 3 67 8 67 60 67 7 67-3 66 1 67 3 67-22 67-21 67-5 67 9 66 12 67-2 67-16M110 797l67-16 67 8 67 62 67 4 67 1 66 4 67 2 67-30 67-5 67-7 67-3 66 9 67-2 67 3M110 774l67 19 67-2 67 27 67 0 67-5 66 1 67 0 67-42 67-9 67 6 67 0 66-2 67 5 67-10M110 772l67 9 67-5 67 75 67 4 67 0 66-9 67 14 67-29 67-6 67-9 67 2 66 12 67-5 67 1M110 776l67 8 67 10 67 22 67 4 67-5 66 2 67-4 67 15 67-7 67-5 67-16 66 25 67-19 67 19M110 777l67 12 67 1 67 27 67 1 67 12 66-20 67 3 67 15 67-7 67-13 67 5 66 14 67 1 67-2M110 845l67-9 67 8 67 6 67 4 67-9 66 8 67 6 67-33 67-5 67-7 67 5 66 10 67-4 67-4M110 781l67 2 67 13 67 21 67 5 67-6 66-2 67 3 67-45 67-7 67 3 67 2 66 13 67-18 67-1M110 780l67 13 67 5 67 21 67 2 67 5 66-6 67-6 67-38 67-11 67 7 67-3 66 3 67-7 67-2" stroke="#32ffac" stroke-opacity="0.63"/>
<path d="M110 839l67-2 67 7 67 8 67 3 67 0 66-3 67 9 67-32 67-7 67-10 67 7 66 11 67-2 67-9M110 779l67 6 67 6 67 25 67 7 67-10 66 7 67-8 67-37 67-12 67 5 67 9 66-16 67 2 67 6M110 778l67-8 67 21 67 28 67 2 67-5 66 1 67 4 67-6 67 6 67-5 67 2 66-7 67 14 67-13M110 780l67 4 67 5 67 30 67-4 67 0 66 15 67-16 67-39 67-10 67 14 67-10 66 4 67-18 67 9M110 778l67 3 67 7 67 31 67 3 67-7 66 5 67-6 67 11 67-2 67-5 67 2 66 10 67-4 67-12" stroke="#32ffd3" stroke-opacity="0.65"/>
<path d="M110 780l67 3 67-2 67 43 67-6 67-8 66 3 67 1 67 15 67 0 67-4 67-2 66 10 67-6 67-1M110 845l67-8 67 7 67 6 67 4 67-2 66 1 67 8 67-32 67-8 67-11 67 11 66 14 67 1 67-27M110 846l67-9 67 1 67-20 67 6 67-6 66 0 67-4 67-42 67-24 67 20 67 1 66-13 67 5 67-2M110 845l67-9 67 8 67 7 67 3 67 1 66-1 67-9 67-17 67-12 67-4 67 8 66 14 67-14 67 4M110 793l67-10 67 8 67 28 67 3 67-7 66 3 67-4 67 14 67-3 67-9 67 7 66 3 67 3 67 1M110 780l67 27 67-16 67 59 67 5 67 0 66-2 67 11 67-31 67-10 67-10 67 7 66 4 67 2 67 0M110 778l67 1 67 9 67 62 67 4 67 1 66-3 67 10 67-33 67-17 67 6 67 1 66 5 67 1 67 3M110 796l67-13 67 15 67 20 67 1 67-6 66 13 67-12 67 12 67-3 67-7 67 0 66-10 67 18 67-1M110 779l67 1 67 9 67 29 67 4 67-6 66 2 67-4 67-44 67-5 67 5 67 1 66 6 67-12 67-1M110 780l67 4 67 22 67 12 67 4 67-8 66 6 67-6 67-39 67-11 67 8 67 6 66-6 67-7 67-1" stroke="#32fffa" stroke-opacity="0.66"/>
<path d="M110 796l67-12 67 6 67 28 67 1 67-3 66-2 67-1 67-39 67-11 67 2 67 4 66 1 67-5 67-1M110 845l67-8 67 5 67 10 67-8 67 11 66-11 67 15 67-33 67-14 67 5 67 3 66 7 67-3 67 1M110 845l67-9 67 9 67 5 67 5 67 0 66-3 67 7 67-31 67-3 67-9 67-8 66 17 67-2 67-8M110 844l67-7 67 7 67 7 67 4 67 0 66-2 67 4 67-30 67 3 67-14 67 3 66 4 67 4 67-4M110 843l67-7 67 8 67 6 67 3 67 7 66-8 67 7 67-34 67-4 67-2 67 5 66 6 67-3 67-8" stroke="#32dcff" stroke-opacity="0.68"/>
<path d="M110 774l67-2 67 29 67 16 67 3 67-4 66 2 67-6 67 19 67-6 67-7 67-14 66 21 67-7 67 6M110 780l67 5 67 5 67 28 67 3 67-5 66 7 67-9 67 11 67-4 67-5 67 1 66 6 67 2 67-3M110 779l67 5 67 9 67 25 67 3 67-5 66 3 67 6 67-2 67-2 67-21 67 17 66 7 67 1 67-4" stroke="#32b5ff" stroke-opacity="0.70"/>
<path d="M110 780l67 3 67 4 67 32 67 1 67-4 66 4 67-6 67 12 67-3 67-5 67 2 66 8 67-3 67-3M110 780l67 24 67-7 67 20 67 12 67-13 66 3 67-5 67-41 67 10 67-14 67-1 66 5 67-7 67 5M110 779l67 11 67-2 67 31 67 3 67 5 66-9 67-4 67-40 67-11 67 6 67 4 66 4 67-12 67-2M110 780l67 2 67 9 67 60 67 3 67-4 66 4 67-7 67-21 67-6 67-3 67-3 66 13 67-3 67-12" stroke="#328dff" stroke-opacity="0.72"/>
<path d="M110 798l67-22 67 10 67 30 67 0 67-5 66 2 67 1 67 14 67-1 67-15 67 7 66 8 67-4 67 3M110 780l67 15 67-4 67 26 67 2 67-3 66 9 67-11 67-38 67-3 67-4 67 0 66 2 67-9 67 3M110 777l67 3 67 12 67 27 67-1 67-2 66-1 67-1 67-39 67-10 67 4 67 0 66 0 67-4 67-1M110 845l67-9 67 8 67 0 67 10 67-9 66 6 67 7 67-33 67-2 67-10 67 5 66 0 67 6 67-3" stroke="#3266ff" stroke-opacity="0.74"/>
<path d="M110 778l67 17 67-3 67 31 67-1 67-6 66 2 67-4 67-27 67-27 67 10 67 7 66-2 67-6 67-5" stroke="#7432ff" stroke-opacity="0.79"/>
<path d="M110 780l67 3 67 8 67 59 67 4 67 1 66 0 67 4 67-32 67-6 67-17 67 6 66 3 67-5 67 15" stroke="#32ffac" stroke-opacity="0.63"/>
<path d="M110 777l67 6 67 26 67 41 67-2 67 7 66-4 67 8 67-33 67-1 67-17 67 10 66 5 67-1 67 0M110 845l67-14 67 12 67 2 67 9 67 1 66-3 67 9 67-36 67-4 67-5 67 2 66 6 67 0 67-2M110 778l67 24 67-11 67 30 67 1 67-7 66 4 67-5 67-35 67-16 67 7 67 5 66-3 67 8 67-18" stroke="#32ffd3" stroke-opacity="0.65"/>
<path d="M110 791l67-11 67 10 67 29 67 3 67-3 66 0 67-5 67-36 67-11 67 4 67-1 66 9 67-13 67 2M110 845l67-9 67 7 67-23 67 4 67-8 66 7 67-6 67-42 67-5 67 4 67-5 66 9 67-12 67-2M110 813l67-26 67 23 67 11 67 2 67-7 66 5 67 6 67-1 67-5 67-5 67-7 66 11 67-9 67 7M110 807l67-15 67-2 67 29 67 2 67 3 66 4 67-14 67-33 67-16 67 4 67 0 66 3 67-6 67 1" stroke="#32fffa" stroke-opacity="0.66"/>
<path d="M110 780l67 3 67 18 67 17 67 4 67-6 66 8 67-10 67-39 67-11 67 8 67-2 66 3 67-7 67 11M110 779l67 10 67 6 67 56 67 1 67 3 66-5 67 9 67-32 67-5 67-7 67-15 66 22 67 1 67-1M110 780l67 2 67 20 67 21 67-1 67-4 66 5 67-8 67-39 67-12 67 8 67-3 66 10 67-13 67 10M110 785l67-1 67 10 67 28 67 0 67-2 66 1 67 10 67-10 67-3 67-11 67 5 66 3 67 0 67 0" stroke="#32dcff" stroke-opacity="0.68"/>
<path d="M110 779l67 4 67 17 67 18 67 6 67-8 66 4 67 0 67 4 67-3 67-6 67 2 66 5 67-16 67 11M110 790l67-7 67 8 67 28 67 6 67-9 66 4 67 0 67-41 67-14 67 4 67 3 66 0 67-1 67-6M110 796l67-12 67 14 67 52 67 2 67 3 66-4 67 8 67-33 67-18 67 7 67-12 66 19 67-11 67 10M110 845l67-14 67 13 67 6 67-1 67 3 66-4 67 9 67-37 67 1 67-9 67-7 66 16 67 2 67-4M110 779l67 11 67 1 67 28 67 8 67-1 66-3 67-9 67-38 67-10 67 15 67-8 66 0 67-8 67 0M110 780l67 6 67 18 67 19 67 1 67-4 66 6 67-2 67-36 67-23 67 9 67-4 66 10 67-14 67 4" stroke="#32b5ff" stroke-opacity="0.70"/>
<path d="M110 796l67-12 67 6 67 29 67 1 67-4 66 4 67-5 67-29 67-21 67 5 67 4 66 2 67-11 67-1M110 780l67 4 67 6 67 60 67 4 67-2 66 1 67 6 67-33 67-20 67 9 67 3 66 5 67 0 67-1M110 788l67-5 67 17 67 19 67 8 67-9 66 2 67-6 67-38 67-11 67 4 67 6 66 2 67-2 67-11M110 787l67-4 67 13 67 28 67-1 67-7 66 4 67-4 67-41 67-10 67 5 67-1 66 5 67-9 67 0M110 780l67 4 67 5 67 31 67 2 67-4 66 6 67-7 67-42 67-7 67 1 67 0 66 15 67-18 67 7M110 784l67 20 67-13 67 28 67 4 67-7 66 11 67-13 67-39 67-7 67 2 67 3 66-2 67-5 67-1M110 844l67-8 67 4 67 9 67-1 67-6 66 3 67 1 67-23 67-13 67 2 67 2 66 10 67-7 67 0M110 797l67-14 67 9 67 30 67 5 67-7 66 1 67-5 67-39 67-12 67 7 67 4 66 3 67-14 67 2M110 789l67 0 67 7 67 23 67 8 67-12 66 5 67-6 67-30 67-9 67 1 67-5 66 10 67-15 67 1" stroke="#328dff" stroke-opacity="0.72"/>
<path d="M110 789l67-6 67 7 67 29 67 1 67-4 66 8 67-10 67 12 67-19 67 8 67 2 66 6 67 5 67-9M110 784l67 7 67 5 67 27 67-2 67-5 66 3 67-5 67-38 67-11 67 5 67-1 66 2 67-6 67-1M110 845l67-9 67 3 67 12 67 4 67-8 66-5 67 17 67-34 67-4 67-6 67 2 66 0 67 6 67-2M110 779l67 2 67 10 67 59 67 4 67 1 66-5 67 1 67-26 67-16 67 7 67-3 66 14 67-17 67 13M110 780l67 3 67 8 67 27 67 4 67-7 66 6 67-7 67 7 67-4 67-1 67 3 66-5 67 11 67-3M110 779l67 2 67 9 67 28 67 12 67-14 66 3 67 12 67-6 67-4 67-6 67 3 66 5 67 1 67-1M110 780l67 7 67 4 67 28 67 6 67-2 66-4 67-5 67-40 67-10 67 6 67-1 66 0 67-1 67-4M110 779l67 2 67 13 67 36 67-10 67-4 66 5 67-7 67-38 67-12 67 12 67-7 66 4 67-3 67-5M110 798l67-13 67 5 67 30 67 11 67-15 66 4 67-6 67-38 67-5 67 3 67-5 66 10 67-1 67-14M110 786l67 11 67 6 67 24 67-3 67 0 66-4 67 0 67-37 67 4 67-16 67-2 66 13 67-16 67-1M110 780l67 2 67 9 67 32 67 3 67-10 66 9 67-11 67 11 67-13 67-10 67 6 66 16 67-19 67 7M110 793l67-9 67 9 67 32 67-3 67 5 66-7 67 1 67-40 67-13 67 4 67 0 66-2 67 0 67 1M110 781l67 17 67 10 67 11 67 3 67-6 66 5 67-5 67-40 67 6 67-12 67-1 66 4 67 2 67-10" stroke="#3266ff" stroke-opacity="0.74"/>
<path d="M110 778l67 5 67 8 67 28 67 2 67-4 66 1 67-4 67-38 67-12 67 10 67-5 66 15 67-19 67-1M110 845l67-9 67 6 67 8 67-1 67 6 66-3 67 7 67-33 67-17 67 6 67 1 66-1 67 7 67 0M110 779l67 16 67-4 67 32 67 6 67-13 66 3 67-5 67-40 67-9 67 4 67 0 66 10 67-9 67-6M110 780l67 14 67-3 67 59 67 4 67-4 66 2 67 7 67-43 67 6 67-14 67 9 66 7 67-7 67-1M110 780l67 10 67 1 67 39 67-8 67-6 66 2 67 5 67 2 67-3 67-7 67 3 66 7 67-4 67 0M110 845l67-9 67 8 67 6 67 3 67 2 66-8 67 3 67-27 67-2 67-6 67 2 66 0 67 6 67-1M110 799l67-15 67 7 67 28 67 3 67-4 66 4 67-5 67-41 67-11 67 8 67-4 66 3 67-6 67 0M110 842l67-6 67 6 67 8 67 1 67 4 66-1 67-8 67-21 67-5 67-5 67-5 66 7 67 7 67-3M110 779l67 3 67 8 67 35 67-1 67 1 66 0 67-7 67-39 67-13 67 10 67-7 66 4 67-4 67 7M110 843l67-7 67 7 67-24 67 5 67-3 66 6 67-6 67-39 67-17 67 12 67-8 66 4 67-7 67-1M110 780l67 10 67 0 67 31 67 7 67-12 66 6 67 9 67-51 67-5 67-5 67 1 66 2 67 3 67-11M110 843l67-7 67 5 67 6 67-2 67 9 66-2 67 7 67-34 67-9 67-8 67 1 66 7 67 7 67-1M110 845l67-9 67 8 67-24 67 3 67 3 66-5 67-5 67-38 67-8 67 0 67-1 66 7 67-11 67 1" stroke="#323fff" stroke-opacity="0.76"/>
<path d="M110 777l67 4 67 5 67 33 67-2 67-1 66 7 67-9 67-41 67-8 67 4 67 0 66 4 67-6 67 3M110 777l67 7 67 6 67 28 67 3 67-5 66 4 67-4 67 9 67-4 67-6 67-15 66 24 67-1 67-1M110 788l67 2 67 1 67 59 67-2 67-2 66 5 67 3 67-29 67-4 67-6 67 2 66 6 67 0 67-4M110 780l67 4 67 8 67 38 67-7 67-7 66 4 67 5 67-11 67 2 67-4 67-12 66 20 67 4 67-3M110 777l67 6 67 8 67 32 67-2 67-2 66 1 67-6 67-31 67-2 67-8 67-4 66 1 67 8 67-13M110 815l67-22 67 2 67 54 67-2 67 1 66 1 67 3 67-27 67-5 67-5 67 3 66 5 67-4 67-9M110 804l67-20 67 17 67 17 67 4 67-1 66 4 67-11 67-34 67-5 67 2 67-4 66 7 67-7 67-4M110 813l67-16 67 12 67 37 67 8 67-1 66-1 67-3 67-27 67-4 67-13 67 13 66-3 67 1 67-1" stroke="#4d32ff" stroke-opacity="0.77"/>
<path d="M110 780l67 3 67 7 67 56 67 8 67-9 66 6 67 9 67-35 67-4 67-10 67-11 66 24 67 0 67-4M110 843l67-7 67 8 67 3 67 6 67-10 66 9 67 0 67-31 67 0 67-6 67-5 66 15 67 0 67-3" stroke="#7432ff" stroke-opacity="0.79"/>
<path d="M110 781l67 12 67-2 67 28 67 10 67-14 66 6 67-7 67-40 67-9 67 5 67 2 66 0 67 0 67-5M110 794l67 10 67-14 67 29 67 8 67-12 66 8 67-9 67 11 67-4 67-8 67 4 66 0 67 7 67-1M110 844l67-11 67 7 67 10 67 4 67 1 66-10 67 7 67-26 67-5 67-6 67-5 66 13 67 0 67-10M110 780l67 4 67 28 67 6 67 4 67-6 66 6 67-3 67-39 67-5 67 1 67-2 66-2 67-6 67 6M110 797l67-2 67 15 67 15 67 0 67-3 66-2 67 3 67-43 67 7 67-7 67-11 66 4 67 3 67-12" stroke="#9b32ff" stroke-opacity="0.81"/>
<path d="M110 786l67 2 67 3 67 59 67 3 67 2 66-9 67 9 67-38 67 2 67-5 67 0 66 4 67 6 67-9" stroke="#c332ff" stroke-opacity="0.83"/>
<path d="M110 843l67-16 67 15 67 6 67 0 67 2 66-3 67-2 67-20 67-11 67-9 67 10 66 2 67-14 67 18" stroke="#32fffa" stroke-opacity="0.66"/>
<path d="M110 842l67-6 67 3 67-17 67 9 67-12 66 1 67-3 67-36 67 0 67 0 67-6 66 14 67-23 67 0" stroke="#32dcff" stroke-opacity="0.68"/>
<path d="M110 782l67 14 67-5 67 28 67 5 67-5 66 2 67-1 67-37 67-18 67 8 67-4 66 17 67-21 67 1M110 787l67-3 67 7 67 34 67-1 67 7 66-11 67-6 67 12 67-5 67-19 67 1 66 9 67 11 67-6M110 802l67-18 67 25 67 17 67 2 67-4 66 3 67 5 67-43 67-2 67-10 67 1 66 1 67 2 67-8" stroke="#32b5ff" stroke-opacity="0.70"/>
<path d="M110 788l67 12 67 13 67 6 67 4 67 3 66-4 67 5 67-51 67 9 67-8 67-3 66 5 67 2 67-16M110 786l67 17 67-13 67 29 67 3 67-6 66 4 67-6 67 11 67-10 67-7 67 9 66 5 67-6 67 4M110 781l67 12 67 14 67 16 67 3 67-5 66 4 67 0 67-9 67-4 67-1 67-5 66 14 67 2 67-5M110 845l67-12 67 8 67 5 67 2 67 6 66-11 67 16 67-39 67 2 67-7 67-8 66 16 67-5 67 1M110 845l67-16 67 15 67-1 67 7 67-6 66-1 67 11 67-29 67-17 67 6 67-7 66 10 67-4 67 4M110 780l67 4 67 24 67 13 67 6 67-11 66 4 67 12 67-41 67-4 67-16 67 1 66 8 67 1 67-13M110 844l67-17 67 14 67 9 67-7 67 1 66 2 67 4 67-30 67-15 67 8 67-3 66 6 67-5 67 1M110 843l67-10 67 7 67 6 67 7 67-7 66 2 67 8 67-40 67-12 67 6 67 6 66 2 67-15 67 15M110 794l67 0 67-2 67 33 67-3 67-6 66 13 67-4 67-12 67-2 67-10 67-1 66 23 67 2 67-5" stroke="#328dff" stroke-opacity="0.72"/>
<path d="M110 813l67-10 67-12 67 28 67 4 67 8 66-7 67-2 67-5 67 4 67-6 67-15 66 15 67-11 67 7M110 788l67 14 67 12 67 13 67 3 67-8 66 6 67 4 67-48 67-17 67 7 67 3 66-1 67 7 67-18M110 799l67 5 67 11 67 12 67 2 67-5 66 4 67 3 67-48 67-6 67-3 67-5 66 17 67-6 67-3M110 803l67-5 67 3 67 23 67-2 67 2 66 6 67-11 67-32 67-1 67-16 67 6 66 1 67-6 67-5M110 798l67-16 67 22 67 27 67-4 67-11 66 5 67 6 67-46 67-10 67 3 67-5 66 5 67 7 67-15M110 787l67 11 67 3 67 21 67 4 67-8 66 12 67-11 67-41 67-12 67 5 67-1 66 2 67-4 67 5M110 844l67-19 67 19 67 6 67-2 67 4 66-3 67-5 67-19 67-9 67-16 67 6 66 17 67-4 67-10M110 837l67-15 67 18 67 8 67 6 67-10 66-1 67 13 67-43 67-8 67-4 67-3 66 25 67-6 67-7M110 811l67-6 67-11 67 39 67-8 67-6 66 8 67-6 67 4 67-17 67-6 67 12 66 8 67-17 67 7M110 791l67-6 67 16 67 23 67 4 67-4 66 8 67-12 67-27 67-18 67 2 67 6 66-3 67-14 67 3M110 808l67-18 67 27 67 5 67 6 67-5 66 5 67-8 67-30 67-11 67-6 67 8 66-2 67 6 67-17" stroke="#3266ff" stroke-opacity="0.74"/>
<path d="M110 780l67 4 67 17 67 47 67 1 67 0 66-1 67 11 67-45 67 8 67-10 67 5 66 5 67 2 67-5M110 789l67 11 67 3 67 18 67 4 67-9 66 9 67 2 67-52 67-5 67 0 67 1 66 4 67-9 67 4M110 780l67 15 67-2 67 56 67 4 67-9 66 1 67 14 67-74 67-17 67 7 67 4 66 5 67-19 67 2M110 784l67 16 67-9 67 28 67 8 67-6 66 8 67-13 67-32 67-11 67 1 67-5 66 10 67-14 67 0M110 786l67 7 67-1 67 30 67 0 67-6 66 6 67-6 67-29 67-1 67-12 67 2 66-2 67-8 67 2M110 799l67-13 67 6 67 32 67 4 67-4 66-4 67 2 67-3 67 2 67-13 67 0 66 15 67-14 67 12M110 789l67 10 67-8 67 28 67 5 67 6 66-10 67 0 67-35 67-2 67-5 67-4 66 4 67 1 67-1M110 843l67-10 67 5 67 12 67-6 67 11 66-9 67-2 67-24 67-8 67-10 67-2 66 19 67-5 67 1M110 842l67-17 67 19 67 2 67-3 67 3 66 2 67 5 67-41 67 0 67-6 67-3 66 11 67-1 67 1" stroke="#323fff" stroke-opacity="0.76"/>
<path d="M110 845l67-11 67 7 67 9 67 4 67-10 66 6 67 8 67-33 67-17 67-1 67-1 66 17 67 2 67-4M110 842l67-11 67 9 67 10 67-2 67-5 66 6 67 6 67-71 67-8 67-6 67 3 66 10 67-5 67-13M110 845l67-11 67 5 67 7 67 4 67-7 66-1 67 16 67-46 67 3 67-5 67 7 66 6 67-13 67-7M110 813l67-8 67-4 67 27 67-4 67-6 66 11 67-7 67-34 67-5 67-6 67-5 66 20 67-26 67 9M110 806l67-11 67 0 67 27 67 6 67 1 66-6 67-3 67 3 67-20 67 8 67-3 66 1 67 12 67-10M110 818l67-30 67 29 67 6 67 1 67-4 66 5 67-3 67-38 67-11 67 6 67-4 66-1 67-2 67-7M110 841l67-13 67 16 67 2 67 1 67 4 66-1 67 2 67-64 67-2 67-4 67-6 66-3 67-7 67-1M110 842l67-14 67 12 67 7 67 3 67 3 66-2 67 5 67-35 67-9 67-12 67 8 66 15 67-5 67 3M110 809l67-7 67 2 67 24 67-2 67 1 66-2 67-11 67 2 67 5 67-9 67 5 66-1 67-7 67 0M110 842l67-6 67 7 67 1 67 10 67-8 66-3 67 14 67-38 67 2 67-17 67 4 66 12 67-6 67-2M110 842l67-8 67 6 67 6 67 0 67 0 66-4 67 17 67-47 67-8 67 5 67-1 66 5 67-10 67 5M110 814l67-23 67 0 67 36 67 0 67-4 66 3 67-2 67-36 67-9 67-1 67 1 66 8 67-9 67-6M110 813l67-15 67-3 67 36 67-4 67 0 66-3 67 7 67-11 67-6 67 1 67-7 66 4 67 1 67 1" stroke="#4d32ff" stroke-opacity="0.77"/>
<path d="M110 799l67-6 67-5 67 36 67-2 67-6 66 14 67-5 67-47 67 5 67-13 67 8 66 0 67-12 67 9M110 813l67-16 67 3 67 48 67-8 67 12 66-9 67 6 67-25 67-7 67-18 67 16 66 8 67-5 67 2M110 795l67 6 67-10 67 30 67 10 67-11 66 1 67-1 67-9 67-1 67-10 67 8 66 15 67 2 67-4M110 843l67-7 67 1 67 13 67-7 67 6 66 0 67 10 67-45 67-10 67 8 67-9 66 20 67-15 67 3M110 779l67 20 67 4 67 25 67 1 67-12 66 8 67-3 67-38 67-19 67 15 67-8 66 13 67-20 67 0M110 844l67-15 67 9 67 6 67 10 67-2 66-5 67 1 67-37 67 3 67-5 67-9 66 23 67-4 67-9M110 812l67-13 67 1 67 24 67-2 67 2 66 1 67-11 67 0 67 1 67-8 67 2 66 4 67 6 67-5M110 798l67 8 67 12 67 8 67 5 67-5 66-6 67 7 67-34 67-22 67 7 67 0 66-3 67 5 67-7" stroke="#7432ff" stroke-opacity="0.79"/>
<path d="M110 780l67 8 67 8 67 23 67 13 67-6 66 1 67-2 67-4 67-8 67-11 67 5 66 6 67 5 67 3M110 814l67-12 67 10 67 31 67 0 67 6 66-1 67-2 67-25 67-3 67-7 67 6 66-5 67 3 67 7M110 789l67 0 67 17 67 19 67 4 67-8 66-1 67 11 67-41 67-11 67 2 67-9 66 15 67-18 67 6M110 785l67 13 67 15 67 37 67-4 67-5 66 5 67 8 67-40 67-11 67-2 67 11 66 7 67-14 67 10M110 795l67-1 67 12 67 14 67 10 67-1 66-9 67 10 67-46 67-11 67 2 67-2 66 12 67-13 67 7" stroke="#9b32ff" stroke-opacity="0.81"/>
<path d="M110 792l67-8 67 22 67 43 67-5 67 4 66 4 67-6 67-30 67-6 67-9 67-1 66 23 67-4 67-5M110 781l67 9 67 24 67 30 67 0 67 2 66-2 67 4 67-28 67-14 67-1 67-4 66 20 67-7 67 7M110 841l67-14 67 5 67 16 67 3 67 3 66-8 67 9 67-46 67 0 67-7 67-4 66 16 67 4 67-9M110 843l67-13 67 11 67 0 67 5 67-1 66 7 67-6 67-34 67-9 67-3 67 3 66 13 67-9 67 14M110 845l67-12 67 11 67-13 67-3 67-10 66 11 67 2 67-45 67-15 67 11 67-6 66 14 67-15 67 1M110 786l67 19 67 6 67 19 67 1 67-2 66 3 67-5 67-39 67-1 67-17 67 9 66 8 67-11 67-4M110 839l67-9 67 8 67 6 67-2 67 4 66 0 67-4 67-24 67-5 67-12 67 4 66 8 67-9 67 7M110 815l67-20 67-1 67 32 67 7 67-5 66 0 67 3 67-53 67-5 67 8 67-5 66-1 67-6 67 6" stroke="#c332ff" stroke-opacity="0.83"/>
<path d="M110 793l67-6 67 22 67 24 67-6 67 4 66-9 67 10 67-51 67-7 67 5 67 2 66-1 67 2 67-7" stroke="#ff32ec" stroke-opacity="0.87"/>
<path d="M110 843l67-16 67 11 67 5 67 4 67-4 66 0 67 3 67-27 67-2 67-17 67 10 66 4 67 5 67-10M110 783l67 9 67 21 67 15 67 4 67-5 66 2 67 6 67-48 67-1 67-4 67 0 66 2 67 1 67-6" stroke="#3266ff" stroke-opacity="0.74"/>
<path d="M110 813l67-13 67 11 67 23 67-9 67 1 66 1 67-3 67-44 67 9 67-8 67-11 66 10 67 1 67-5M110 813l67-17 67 17 67 11 67 6 67 0 66-2 67-3 67-40 67 1 67-8 67-6 66 10 67-10 67 9M110 841l67-18 67 21 67 0 67 0 67 5 66-2 67 9 67-43 67-7 67 1 67 6 66 4 67-7 67-2" stroke="#323fff" stroke-opacity="0.76"/>
<path d="M110 837l67-7 67 5 67 8 67 2 67 2 66-7 67 5 67-30 67-10 67-5 67 0 66 20 67-15 67 10M110 805l67-14 67 21 67 13 67 4 67-6 66 0 67 9 67-41 67-11 67 0 67-8 66 6 67 1 67-1M110 843l67-17 67 8 67 12 67-3 67 11 66-3 67-6 67-30 67-11 67-1 67-3 66 9 67 0 67-5M110 838l67-7 67 3 67 12 67 2 67 3 66-10 67 3 67-34 67 0 67-2 67-8 66 15 67-10 67 3M110 815l67-9 67 8 67 15 67 1 67 1 66-9 67 5 67-51 67 11 67-4 67 1 66 3 67-6 67 0M110 813l67-9 67-5 67 29 67 5 67 1 66-2 67 0 67-40 67-3 67-2 67-4 66 6 67-4 67-3" stroke="#4d32ff" stroke-opacity="0.77"/>
<path d="M110 803l67 6 67 2 67 20 67-3 67 1 66-3 67 7 67-44 67-4 67 3 67-16 66 14 67-6 67-4M110 805l67 0 67 3 67 22 67 0 67-1 66 2 67 2 67-42 67-17 67 7 67-6 66 15 67-9 67-7M110 837l67-7 67 0 67 11 67-1 67 1 66 0 67 5 67-36 67-8 67-3 67 0 66 11 67-7 67 5" stroke="#7432ff" stroke-opacity="0.79"/>
<path d="M110 840l67-17 67 8 67 17 67-2 67 0 66 1 67 1 67-39 67 3 67-3 67-2 66 14 67 2 67-15M110 844l67-11 67-1 67 12 67 7 67 1 66-3 67-5 67-32 67 4 67-12 67-3 66 15 67 0 67-4M110 837l67-8 67 10 67 4 67 6 67 6 66-14 67 8 67-30 67-12 67-7 67 17 66-6 67-5 67 3M110 807l67-7 67 15 67 10 67 5 67-4 66 3 67-2 67-48 67-1 67-1 67 5 66-7 67 11 67-16M110 839l67-13 67 12 67 12 67 3 67-10 66 2 67 1 67-35 67-6 67 3 67-10 66 21 67-15 67 8M110 837l67-9 67 10 67 8 67 6 67-8 66 5 67-4 67-31 67-1 67 1 67-15 66 13 67-4 67 3M110 821l67-19 67 10 67 34 67 0 67-2 66-1 67 3 67-34 67 3 67-17 67 2 66 11 67-8 67 12M110 816l67-10 67 1 67 24 67 0 67 0 66-6 67 7 67-39 67-13 67-2 67 3 66-1 67 1 67-5M110 814l67-5 67-3 67 24 67 3 67-8 66 5 67-11 67-26 67-3 67-8 67 0 66 6 67-5 67-7M110 818l67-17 67 13 67 16 67 2 67-3 66 2 67 2 67-40 67-18 67 9 67-1 66 0 67-4 67-1M110 805l67 0 67 8 67 18 67-3 67 2 66-3 67 3 67-36 67-9 67-4 67-1 66 8 67-3 67-8" stroke="#9b32ff" stroke-opacity="0.81"/>
<path d="M110 803l67-9 67 6 67 24 67 6 67 1 66-4 67 6 67-50 67-2 67 3 67-4 66 6 67-5 67-9M110 837l67-17 67 17 67 5 67 2 67 5 66-6 67 12 67-47 67-2 67-4 67 3 66 4 67-4 67 5M110 842l67-13 67 4 67 11 67 1 67-1 66-3 67 3 67-23 67-20 67-2 67 1 66 12 67-11 67 6M110 815l67-10 67 3 67 17 67 4 67 2 66 0 67 1 67-42 67-9 67 4 67-3 66 7 67-11 67-3M110 816l67-12 67 8 67 30 67 2 67 2 66-5 67 10 67-39 67-14 67 2 67 1 66 15 67-13 67-4" stroke="#c332ff" stroke-opacity="0.83"/>
<path d="M110 780l67 25 67 7 67 14 67 0 67 1 66 4 67 1 67-42 67-5 67-5 67 3 66 3 67-5 67-1M110 840l67-14 67 16 67 1 67 5 67-7 66 4 67-1 67-25 67-9 67 2 67-9 66 9 67-3 67-1M110 839l67-10 67 8 67 7 67 1 67-1 66-2 67 2 67-34 67-6 67 3 67 0 66 9 67-12 67 3M110 814l67-12 67 15 67 32 67-6 67 1 66-2 67 9 67-37 67 0 67-2 67-11 66 13 67-15 67 14M110 842l67-19 67 14 67 8 67-3 67-2 66 4 67 8 67-40 67-11 67-2 67-1 66 16 67-11 67 11M110 838l67-14 67 11 67-13 67 7 67 0 66 3 67-2 67-41 67-2 67-4 67 2 66 3 67-7 67 1M110 839l67-15 67 12 67 7 67 2 67-1 66-2 67 2 67-27 67-5 67-13 67 3 66 5 67-7 67 8M110 817l67-12 67 11 67 14 67 4 67-3 66-4 67 6 67-40 67-25 67 13 67 0 66-2 67-1 67-3M110 842l67-18 67 11 67 6 67 2 67-3 66 8 67-3 67-34 67-9 67-5 67 2 66 8 67-5 67 2M110 814l67-8 67 11 67 26 67 0 67 0 66-1 67 2 67-32 67-10 67-4 67 2 66 7 67-2 67 0M110 840l67-8 67 7 67 3 67 1 67-1 66 0 67 4 67-36 67-6 67-8 67 4 66 9 67-5 67 7" stroke="#ea32ff" stroke-opacity="0.85"/>
<path d="M110 841l67-13 67 7 67-9 67 7 67-5 66-5 67 10 67-40 67-7 67-11 67 10 66 4 67-5 67-9M110 841l67-14 67 9 67 7 67-3 67 5 66 4 67-3 67-36 67-9 67 6 67-8 66 10 67-8 67 4M110 814l67-2 67-3 67 23 67-2 67 0 66 1 67-4 67-37 67-3 67-5 67 1 66 7 67-6 67-6M110 813l67-18 67 2 67 35 67-2 67 5 66-4 67 2 67-28 67-4 67-1 67-1 66 20 67-21 67 9M110 815l67-10 67 5 67 21 67-1 67 2 66 2 67-3 67-40 67-4 67-4 67-1 66-5 67 6 67-5M110 814l67-5 67 8 67 17 67-4 67-5 66 8 67 1 67-42 67-20 67 15 67-1 66 6 67-17 67 4M110 819l67-12 67 8 67 14 67 6 67-2 66-3 67 2 67-25 67 2 67-9 67 0 66 9 67-6 67 4M110 839l67-13 67 6 67 11 67 0 67 0 66-2 67 14 67-44 67-3 67-9 67 1 66 10 67-7 67 5M110 814l67-5 67 7 67 16 67-2 67 2 66 0 67-1 67-51 67 9 67-6 67-9 66 18 67-5 67-15" stroke="#ff32ec" stroke-opacity="0.87"/>
<path d="M110 780l67 26 67-2 67 27 67-1 67-1 66 3 67 1 67-47 67-13 67 11 67-7 66 10 67-15 67 4M110 821l67-13 67 10 67 13 67 0 67 1 66 1 67 0 67-48 67 5 67-3 67-2 66 3 67-6 67-6M110 812l67-18 67 17 67 20 67 0 67-1 66 0 67 3 67-39 67-3 67-7 67-1 66 8 67-13 67-8M110 808l67-2 67 9 67 17 67 0 67-3 66-1 67 4 67-39 67-6 67-4 67 4 66 1 67-3 67-3M110 809l67-5 67 10 67 18 67 0 67-1 66-1 67 2 67-39 67-5 67-5 67-2 66 14 67-8 67-10" stroke="#ff32c5" stroke-opacity="0.88"/>
<path d="M110 814l67-8 67 1 67 36 67 4 67 5 66-5 67 9 67-44 67-7 67 4 67-9 66 13 67-11 67 10M110 840l67-6 67 2 67 7 67-1 67-1 66-1 67 6 67-35 67-9 67-5 67 3 66 9 67-8 67 9M110 836l67-12 67 14 67 5 67-1 67 0 66-2 67 5 67-35 67-8 67-5 67 8 66 3 67-6 67 14" stroke="#ff329e" stroke-opacity="0.90"/>
<path d="M110 831l67-6 67 11 67 8 67 1 67-1 66-1 67 2 67-56 67-4 67 0 67 0 66-1 67-2 67-14M110 842l67-11 67 1 67 12 67-1 67-3 66 2 67 4 67-39 67-6 67 4 67-5 66 11 67-11 67 5M110 834l67-4 67 8 67 6 67 1 67-1 66-2 67 4 67-60 67 6 67-14 67 7 66 1 67-3 67-3M110 820l67-19 67 14 67 14 67 6 67-8 66 5 67 0 67-39 67-6 67-9 67-2 66 12 67-6 67-6M110 836l67-11 67 7 67 13 67-4 67 0 66 2 67 0 67-32 67-10 67-1 67 3 66 0 67 2 67 4M110 814l67-7 67 7 67 14 67 7 67-3 66 0 67 2 67-41 67-7 67-6 67 4 66 2 67-4 67-7M110 840l67-19 67 9 67 14 67 1 67-2 66 0 67-1 67-35 67-5 67 3 67-7 66 12 67-9 67 11M110 840l67-17 67 11 67 10 67 2 67 3 66-4 67 1 67-39 67-5 67-3 67-1 66 13 67-9 67 12M110 819l67-25 67 21 67 19 67-2 67 1 66 0 67-1 67-38 67-4 67-4 67-3 66 0 67 1 67 6M110 837l67-14 67 8 67 11 67 1 67 0 66-3 67 1 67-33 67 1 67-12 67 1 66 11 67-11 67 10" stroke="#ff3276" stroke-opacity="0.92"/>
<path d="M110 819l67-11 67 13 67 11 67 2 67-4 66 2 67 0 67-24 67-8 67-1 67-1 66 14 67-11 67 2" stroke="#7432ff" stroke-opacity="0.79"/>
<path d="M110 834l67-7 67 10 67 5 67 0 67-3 66 4 67-1 67-31 67-7 67-5 67 4 66 5 67-5 67 5" stroke="#9b32ff" stroke-opacity="0.81"/>
<path d="M110 814l67-7 67 13 67 16 67 0 67-5 66 1 67 0 67-42 67-3 67-2 67-3 66 7 67-4 67-5M110 816l67-8 67 7 67 18 67 0 67 1 66 1 67-3 67-40 67-3 67-1 67-5 66 10 67-8 67-3M110 833l67-12 67 9 67 14 67-1 67-4 66-1 67 5 67-38 67 1 67-6 67-2 66 4 67-3 67 8M110 820l67-10 67 7 67 16 67 1 67 1 66-2 67 0 67-39 67-3 67-4 67-3 66 10 67-9 67 5" stroke="#c332ff" stroke-opacity="0.83"/>
<path d="M110 834l67-13 67 16 67 5 67-2 67 1 66-1 67 2 67-50 67 0 67-2 67-3 66 2 67-1 67-9M110 830l67-9 67 10 67 1 67 3 67-3 66 3 67-2 67-40 67-7 67 1 67 0 66 6 67-7 67-5" stroke="#ea32ff" stroke-opacity="0.85"/>
<path d="M110 840l67-14 67 9 67-6 67 5 67-2 66 0 67 2 67-41 67-4 67-8 67 0 66 8 67-1 67-7M110 831l67-8 67 12 67 6 67 1 67-2 66 3 67 6 67-37 67-10 67-5 67 8 66 11 67-11 67 1M110 838l67-12 67 9 67 9 67-3 67-2 66 2 67 4 67-36 67-5 67-5 67 0 66 11 67-10 67 9M110 792l67 14 67 4 67 21 67-2 67 3 66 0 67 1 67-39 67-6 67-3 67 3 66 2 67-7 67 3M110 818l67-12 67 11 67 17 67-2 67-2 66 1 67 1 67-37 67-5 67-3 67-3 66 8 67-12 67-4M110 833l67-14 67 7 67 16 67-2 67 3 66-2 67 3 67-40 67-1 67-4 67 1 66 6 67-5 67 4M110 814l67-6 67 11 67 12 67 2 67-1 66 1 67 2 67-37 67-9 67-4 67-2 66 10 67-8 67-1" stroke="#ff32ec" stroke-opacity="0.87"/>
<path d="M110 831l67-8 67 10 67 10 67-2 67 1 66-1 67 0 67-24 67-15 67-3 67-1 66 10 67-6 67-4M110 839l67-17 67 8 67 14 67-2 67 2 66-1 67 2 67-37 67-4 67-7 67 2 66 8 67-10 67 6M110 816l67-12 67 12 67 16 67 1 67-5 66 6 67 1 67-23 67-11 67-4 67-2 66 15 67-10 67 10M110 817l67-10 67 12 67 13 67-5 67-5 66 8 67 1 67-38 67-7 67-3 67 4 66 0 67 0 67-5M110 838l67-15 67 9 67 9 67 0 67-1 66 2 67-1 67-34 67-10 67 0 67 1 66 8 67-8 67 5M110 820l67-11 67 8 67 17 67 0 67-1 66 1 67 0 67-42 67-4 67-4 67 0 66 8 67-1 67-10M110 823l67-16 67 10 67 23 67 2 67 1 66-4 67 4 67-34 67-9 67-3 67 2 66 16 67-14 67 1M110 834l67-13 67 10 67 11 67 0 67-3 66 4 67 0 67-44 67-11 67-1 67 2 66 6 67-8 67-5M110 837l67-19 67 16 67 5 67 3 67-1 66 0 67 2 67-38 67-5 67-1 67-1 66 14 67-10 67 2" stroke="#ff32c5" stroke-opacity="0.88"/>
<path d="M110 835l67-14 67 12 67 10 67 1 67-3 66 1 67 1 67-33 67-5 67-3 67-6 66 15 67-10 67 4M110 815l67-6 67 4 67 18 67 1 67 1 66-2 67 2 67-38 67-12 67 5 67-2 66 2 67-5 67 3M110 835l67-15 67 12 67 15 67-2 67-4 66 2 67 1 67-34 67-9 67-2 67 0 66 7 67-3 67-1M110 816l67-9 67 8 67 17 67 2 67 0 66-2 67 2 67-41 67-4 67-4 67-1 66 4 67-3 67-7M110 818l67-9 67-7 67 32 67 0 67-2 66-1 67 0 67-40 67 0 67-5 67-1 66 8 67-10 67-5M110 839l67-20 67 16 67 8 67-1 67-4 66 1 67 5 67-34 67-11 67-1 67 0 66 5 67-2 67 0M110 832l67-11 67 6 67 17 67-2 67-2 66 0 67 3 67-37 67-5 67-6 67 1 66 7 67 0 67-2M110 836l67-17 67 8 67 15 67-1 67-1 66 0 67 5 67-33 67-12 67 1 67-8 66 14 67-8 67 3M110 820l67-9 67 6 67 15 67 2 67-3 66 0 67 4 67-40 67-5 67-6 67 4 66 5 67-10 67 2M110 818l67-8 67 9 67 14 67 2 67-3 66 0 67 2 67-40 67-3 67-4 67-5 66 7 67-3 67-2" stroke="#ff329e" stroke-opacity="0.90"/>
<path d="M110 835l67-12 67 16 67 5 67-2 67 1 66-2 67 6 67-40 67-2 67-6 67 0 66 7 67-5 67 2M110 837l67-14 67 11 67 8 67-1 67-2 66 2 67 1 67-36 67-5 67-2 67 1 66 5 67-3 67 6M110 816l67-11 67 13 67 16 67 1 67-2 66-1 67 3 67-44 67-3 67-4 67-4 66 11 67-4 67-7M110 820l67-16 67 11 67 19 67-3 67 0 66-3 67 7 67-42 67-3 67-9 67 0 66 14 67-11 67-5M110 832l67-10 67 13 67 5 67 3 67 0 66-1 67 2 67-33 67-8 67-3 67-1 66 7 67-7 67 5M110 823l67-15 67 5 67 19 67 3 67-3 66 1 67 3 67-44 67-3 67-6 67 1 66 8 67-11 67 1M110 835l67-12 67 14 67 4 67 2 67-2 66 0 67 1 67-35 67-7 67-1 67 3 66 8 67-6 67-2M110 815l67-6 67 0 67 26 67-3 67-1 66 2 67-1 67-36 67-10 67 1 67 0 66 5 67-11 67 2M110 838l67-14 67 10 67 6 67 4 67 0 66-5 67 11 67-40 67-9 67-7 67 5 66 10 67-9 67-2M110 813l67-7 67 12 67 14 67 0 67 1 66 0 67 2 67-42 67-4 67-2 67 1 66 2 67-4 67-5M110 815l67-5 67 9 67 23 67 0 67 0 66-2 67 3 67-37 67-1 67-9 67-1 66 13 67-6 67 1M110 816l67-7 67 10 67 13 67 3 67-4 66 2 67 1 67-27 67-7 67-3 67-2 66 12 67-6 67 4M110 837l67-17 67 11 67 10 67 0 67-1 66-1 67 7 67-37 67-8 67 2 67-5 66 12 67-9 67 1M110 815l67-8 67 10 67 27 67-2 67-3 66 0 67 6 67-39 67-5 67-2 67-4 66 16 67-8 67 6M110 814l67-8 67 6 67 14 67 9 67-1 66-3 67 2 67-41 67-3 67-5 67-2 66 8 67-8 67-1M110 836l67-11 67 7 67 12 67 0 67-4 66 6 67-4 67-34 67-4 67-11 67 7 66 10 67-9 67 4M110 833l67-12 67 14 67 9 67-1 67-3 66 3 67 0 67-36 67-6 67-2 67-1 66 12 67-6 67 2M110 834l67-11 67 5 67 14 67 1 67 4 66-5 67 0 67-34 67-8 67-5 67 4 66 4 67-5 67 8M110 819l67-11 67 5 67 18 67 5 67-4 66 1 67 0 67-41 67-1 67-6 67-2 66 8 67-8 67 0M110 824l67-14 67 9 67 14 67 0 67-2 66 3 67 3 67-30 67-3 67-10 67-1 66 14 67-5 67 5M110 838l67-19 67 13 67 7 67 4 67-2 66-1 67 5 67-38 67-4 67-4 67-3 66 14 67-11 67 3M110 835l67-16 67 11 67 12 67 1 67-3 66 1 67 3 67-36 67-4 67-4 67-3 66 7 67-4 67 8M110 834l67-14 67 14 67 6 67 0 67 1 66-3 67 5 67-40 67-3 67-3 67-2 66 10 67-3 67-1M110 818l67-17 67 19 67 11 67 3 67-3 66 4 67 1 67-37 67-10 67-3 67 1 66 4 67 1 67-6M110 829l67-10 67 12 67 8 67 1 67 3 66-4 67 5 67-41 67-1 67-4 67 0 66 11 67-5 67-6M110 814l67-7 67 12 67 14 67 1 67-2 66 1 67 2 67-35 67-9 67-4 67 0 66 6 67-7 67-7M110 837l67-13 67 9 67 7 67 2 67 0 66 0 67 2 67-40 67-7 67-1 67-3 66 19 67-14 67 10M110 820l67-6 67 2 67 15 67 4 67-2 66-2 67 1 67-36 67-7 67-6 67 0 66 7 67-10 67 7M110 822l67-13 67 11 67 13 67 0 67-2 66 2 67 4 67-43 67-6 67-3 67 1 66 9 67-9 67-1M110 837l67-12 67 6 67 11 67-2 67 2 66 1 67 3 67-42 67-3 67-3 67-3 66 12 67-6 67 0M110 831l67-9 67 7 67 12 67-1 67 1 66-3 67 2 67-36 67-4 67-1 67-1 66 8 67-7 67 7M110 819l67-10 67 6 67 26 67-1 67 1 66-5 67 7 67-37 67-7 67-3 67-1 66 13 67-6 67 3M110 839l67-18 67 10 67 11 67-1 67-1 66 1 67 3 67-36 67-10 67-2 67 0 66 11 67-10 67 1M110 816l67-7 67 12 67 11 67 1 67-1 66 0 67 1 67-39 67-2 67-5 67-2 66 8 67-10 67 4M110 819l67-10 67 5 67 20 67 0 67-1 66-1 67 2 67-43 67 0 67-5 67 0 66 4 67 0 67-2" stroke="#ff3276" stroke-opacity="0.92"/>
<path d="M110 835l67-12 67 4 67 14 67 2 67-2 66 0 67 2 67-40 67-4 67-1 67 1 66 7 67-8 67 3M110 818l67-9 67 10 67 17 67-3 67 2 66-2 67 1 67-41 67-1 67-3 67-2 66 2 67-2 67 2M110 825l67-14 67 8 67 17 67 0 67-1 66 0 67 3 67-39 67-4 67-9 67 3 66 8 67-8 67 2M110 825l67-15 67 10 67 14 67 0 67 0 66 1 67-1 67-36 67-8 67-3 67 1 66 9 67-9 67 4M110 830l67-12 67 11 67 7 67-2 67-3 66 5 67 2 67-38 67-7 67-2 67-4 66 6 67 4 67-10" stroke="#ea32ff" stroke-opacity="0.85"/>
<path d="M110 817l67-8 67 10 67 15 67 1 67-3 66-2 67 4 67-37 67-4 67-11 67 5 66 9 67-12 67 7M110 832l67-13 67 7 67 15 67-1 67 1 66 0 67 0 67-35 67-3 67-7 67-1 66 6 67-7 67 9M110 829l67-11 67 9 67 14 67 0 67 0 66-1 67 2 67-37 67-6 67-4 67 0 66 11 67-8 67 4M110 831l67-12 67 9 67 11 67 0 67-2 66-1 67 5 67-33 67-8 67-2 67-3 66 5 67-6 67 6" stroke="#ff32ec" stroke-opacity="0.87"/>
<path d="M110 821l67-12 67 11 67 14 67 0 67 0 66 1 67 0 67-38 67-8 67-2 67-4 66 12 67-9 67 4M110 825l67-16 67 2 67 32 67 1 67-3 66-3 67 3 67-41 67-3 67-3 67 1 66 8 67-3 67 2M110 819l67-5 67 3 67 17 67 2 67-5 66 3 67 3 67-41 67-5 67-3 67 0 66 4 67-4 67-6M110 832l67-11 67 9 67 10 67-1 67 1 66-4 67 6 67-40 67-4 67-6 67 1 66 14 67-13 67 5M110 832l67-11 67 10 67 5 67-3 67 2 66-1 67 4 67-40 67-3 67-10 67 7 66 3 67-5 67-3M110 832l67-13 67 13 67 6 67-1 67 1 66 0 67 2 67-35 67-6 67-4 67 0 66 6 67 0 67-4M110 823l67-10 67 10 67 14 67-3 67 0 66-2 67 7 67-44 67-2 67-8 67 2 66 11 67-10 67 2M110 831l67-12 67 11 67 10 67-2 67 2 66-1 67 0 67-33 67-7 67-4 67-2 66 13 67-7 67 8M110 823l67-13 67 13 67 13 67-1 67 1 66-2 67-1 67-37 67-3 67-5 67-2 66 11 67-9 67 3M110 829l67-10 67 7 67 10 67 3 67-2 66 3 67 2 67-38 67-7 67-2 67-2 66 12 67-6 67-2" stroke="#ff32c5" stroke-opacity="0.88"/>
<path d="M110 822l67-13 67 8 67 15 67 2 67 0 66-3 67 4 67-40 67-6 67-3 67-1 66 3 67-6 67-5M110 811l67-3 67 13 67 11 67 3 67-1 66-3 67 4 67-39 67-5 67-8 67 4 66 5 67-3 67-3M110 833l67-10 67 5 67 14 67-1 67 1 66-1 67-1 67-36 67-3 67-3 67 0 66 5 67-3 67-1M110 830l67-15 67 17 67 9 67 0 67-2 66 2 67-1 67-39 67-1 67-3 67-1 66 14 67-10 67 0M110 824l67-12 67 5 67 17 67 1 67 0 66-1 67 3 67-37 67-4 67-9 67 2 66 6 67-7 67-1M110 820l67-11 67 8 67 16 67 3 67-4 66-1 67 5 67-40 67-3 67-4 67-2 66 6 67-5 67-1M110 821l67-8 67 8 67 15 67-5 67 2 66-2 67 5 67-33 67-4 67-2 67-2 66 9 67-6 67 0M110 831l67-14 67 10 67 13 67-5 67 5 66-4 67 5 67-38 67-6 67-3 67-2 66 15 67-14 67 0M110 830l67-10 67 9 67 9 67 3 67-3 66 0 67 2 67-35 67-7 67-3 67-2 66 10 67-8 67 6M110 821l67-13 67 14 67 12 67 1 67-2 66 0 67 3 67-39 67-2 67-7 67-4 66 14 67-9 67 0M110 836l67-19 67 12 67 11 67 0 67-1 66 0 67 1 67-39 67-3 67-5 67 0 66 10 67-8 67 7M110 833l67-13 67 6 67 11 67 1 67 0 66 0 67 3 67-35 67-8 67-1 67-5 66 12 67-8 67 4" stroke="#ff329e" stroke-opacity="0.90"/>
<path d="M110 821l67-11 67 8 67 14 67 3 67-3 66-1 67 5 67-40 67-6 67-5 67 1 66 6 67-5 67-4M110 829l67-12 67 12 67 10 67 1 67-2 66 5 67 2 67-43 67-1 67-3 67-3 66 9 67-3 67 2M110 833l67-11 67 11 67 7 67 1 67-3 66 0 67 6 67-41 67-1 67-5 67 0 66 10 67-7 67-6M110 821l67-8 67 7 67 15 67 1 67-2 66-1 67 0 67-39 67-4 67-1 67-2 66 7 67-7 67-7M110 837l67-14 67 8 67 9 67-1 67 4 66-1 67 1 67-34 67-9 67-7 67 4 66 5 67-5 67 6M110 832l67-10 67 6 67 12 67 1 67 1 66-1 67 2 67-38 67-3 67-2 67-6 66 11 67-6 67 4M110 819l67-10 67 7 67 25 67-3 67 3 66-2 67 1 67-33 67-7 67-7 67 2 66 14 67-11 67 2M110 817l67-6 67 11 67 15 67-5 67 6 66-3 67 0 67-39 67-5 67-6 67 5 66 3 67-8 67-1M110 817l67-7 67 16 67 7 67 3 67-3 66-1 67 4 67-44 67-3 67-3 67 0 66 10 67-9 67-1M110 830l67-9 67 8 67 6 67-1 67-2 66 3 67 0 67-40 67-5 67-7 67 1 66 11 67-6 67-3M110 833l67-16 67 14 67 7 67 2 67-3 66 3 67 1 67-34 67-8 67-6 67 1 66 11 67-7 67 1M110 833l67-15 67 12 67 11 67-2 67 0 66 1 67 0 67-34 67-5 67-4 67 0 66 9 67-7 67-4M110 817l67-2 67 9 67 8 67 4 67-4 66 1 67 4 67-43 67-3 67-4 67-3 66 8 67-5 67-3M110 830l67-9 67 10 67 8 67 1 67 3 66-8 67 8 67-37 67-7 67-5 67 0 66 16 67-13 67 2M110 831l67-10 67 10 67 10 67-2 67 0 66 0 67 2 67-36 67-3 67-7 67 2 66 7 67-11 67 2M110 830l67-10 67 6 67 15 67-1 67 0 66-2 67 1 67-32 67-7 67-5 67 1 66 8 67-5 67 1M110 837l67-19 67 12 67 10 67 1 67-3 66 1 67 2 67-38 67-4 67-3 67-2 66 7 67-4 67 1M110 833l67-14 67 10 67 11 67 0 67-2 66 1 67 3 67-39 67-6 67-2 67-3 66 15 67-9 67 7M110 816l67-6 67 8 67 20 67-4 67 0 66 0 67 3 67-40 67-4 67-5 67 1 66 6 67-7 67 0M110 822l67-15 67 14 67 12 67 3 67-2 66 4 67-4 67-36 67-9 67 1 67-2 66 9 67-8 67-6M110 826l67-6 67 9 67 10 67 1 67-2 66 1 67 1 67-33 67-7 67-4 67-3 66 15 67-6 67-3M110 821l67-8 67 9 67 13 67 2 67-4 66-1 67 2 67-36 67-9 67 0 67-1 66 9 67-9 67-3M110 823l67-14 67 12 67 13 67 1 67-2 66 2 67 3 67-43 67-1 67-10 67 0 66 11 67-6 67 0M110 822l67-12 67 9 67 17 67 0 67-1 66 0 67 1 67-36 67-9 67-2 67-2 66 6 67 1 67-7M110 830l67-10 67 8 67 10 67 1 67-1 66 1 67 1 67-36 67-5 67 0 67-3 66 0 67 0 67 1M110 829l67-10 67 7 67 13 67 2 67-3 66 1 67 1 67-36 67-4 67-5 67 0 66 6 67-3 67-8M110 820l67-13 67 11 67 18 67 0 67-2 66-1 67 1 67-37 67-3 67-4 67 3 66-2 67-1 67-1M110 824l67-8 67 13 67 11 67-2 67 2 66-1 67 4 67-44 67 0 67-5 67 0 66 8 67-7 67 2M110 820l67-6 67 6 67 15 67 1 67 0 66 0 67 0 67-39 67-4 67-7 67 4 66 7 67-11 67 11M110 825l67-7 67 13 67 4 67 2 67-5 66 4 67-1 67-36 67-2 67-9 67 0 66 9 67-9 67-3M110 822l67-11 67 10 67 18 67-1 67-1 66 4 67 1 67-39 67-5 67-5 67 2 66 7 67-6 67 3M110 829l67-12 67 8 67 16 67 0 67-3 66-1 67 4 67-40 67-2 67-8 67 2 66 7 67-5 67-1M110 822l67-12 67 12 67 18 67 2 67-1 66 0 67 0 67-35 67-8 67-6 67 4 66 5 67-3 67 5M110 836l67-19 67 8 67 15 67-2 67-1 66 4 67-2 67-37 67-7 67-6 67-1 66 4 67-3 67-2M110 820l67-8 67 11 67 12 67 0 67-3 66 2 67 5 67-43 67-7 67-1 67 3 66 7 67-8 67-1M110 821l67-11 67 10 67 17 67-1 67-2 66 1 67 1 67-37 67-4 67-3 67-3 66 4 67-1 67-6M110 829l67-9 67 9 67 11 67-1 67 0 66-3 67 2 67-34 67-7 67-1 67-3 66 5 67-2 67 0M110 828l67-11 67 9 67 14 67 1 67-2 66 0 67 1 67-36 67-7 67-4 67-1 66 11 67-5 67 0" stroke="#ff3276" stroke-opacity="0.92"/>
<path d="M110 826l67-13 67 10 67 13 67 0 67-1 66 0 67 3 67-39 67-6 67-2 67-3 66 8 67-5 67-7" stroke="#9b32ff" stroke-opacity="0.81"/>
<path d="M110 830l67-14 67 10 67 13 67-1 67-1 66 0 67 3 67-37 67-6 67-4 67 0 66 9 67-6 67-4M110 829l67-13 67 6 67 13 67 0 67 1 66-2 67 3 67-39 67-5 67-2 67 1 66 5 67-6 67-4M110 831l67-15 67 14 67 9 67 0 67-2 66 1 67 2 67-35 67-8 67-3 67-1 66 8 67-10 67 4" stroke="#c332ff" stroke-opacity="0.83"/>
<path d="M110 821l67-9 67 11 67 13 67 2 67-2 66-1 67 3 67-35 67-6 67-10 67 3 66 10 67-9 67 1M110 822l67-8 67 5 67 16 67 1 67-1 66 0 67 3 67-37 67-5 67 0 67-6 66 9 67-4 67-2M110 834l67-17 67 10 67 12 67-1 67-2 66 1 67 3 67-39 67-7 67-3 67-2 66 15 67-13 67 6M110 826l67-12 67 13 67 10 67 2 67-4 66 1 67 1 67-37 67-4 67-3 67 2 66 3 67-3 67-1M110 828l67-14 67 6 67 16 67 2 67 0 66-1 67 0 67-35 67-5 67-5 67-1 66 9 67-8 67 2" stroke="#ea32ff" stroke-opacity="0.85"/>
<path d="M110 823l67-6 67 5 67 12 67 6 67-4 66 0 67 1 67-39 67-7 67 0 67-3 66 11 67-7 67 1M110 827l67-6 67 4 67 13 67 0 67 0 66-3 67 4 67-38 67-3 67-9 67 0 66 9 67-5 67 2M110 831l67-14 67 8 67 14 67 0 67-2 66 1 67 2 67-37 67-9 67 0 67-1 66 7 67-5 67 1M110 830l67-16 67 8 67 15 67 0 67-3 66 1 67 4 67-39 67-5 67-4 67 0 66 8 67-8 67 4M110 821l67-7 67 8 67 14 67 0 67 2 66-1 67 3 67-37 67-6 67-5 67 2 66 10 67-12 67 2M110 822l67-5 67 9 67 11 67 1 67-2 66 0 67 0 67-32 67-5 67-7 67 0 66 4 67-4 67-3" stroke="#ff32ec" stroke-opacity="0.87"/>
<path d="M110 832l67-13 67 9 67 11 67 1 67 0 66-3 67 3 67-37 67-7 67-3 67-2 66 8 67-2 67 0M110 831l67-13 67 8 67 14 67-3 67 0 66-1 67 3 67-36 67-7 67-4 67 3 66 3 67-5 67 3M110 827l67-11 67 5 67 17 67 0 67 0 66 0 67 2 67-40 67-4 67-4 67-5 66 12 67-3 67 0M110 827l67-16 67 14 67 13 67-2 67-1 66 1 67 2 67-35 67-11 67-1 67 2 66 6 67-3 67 3" stroke="#ff32c5" stroke-opacity="0.88"/>
<path d="M110 823l67-14 67 17 67 14 67-1 67-2 66 0 67 2 67-37 67-3 67-11 67 3 66 7 67-3 67-2M110 829l67-14 67 11 67 12 67 2 67 0 66 0 67-5 67-31 67-5 67-8 67 2 66 7 67-8 67 1M110 826l67-11 67 7 67 15 67-3 67 1 66-1 67 1 67-39 67-1 67-5 67 0 66 9 67-10 67-2M110 827l67-12 67 9 67 13 67 0 67-1 66 0 67 4 67-41 67-2 67-3 67-3 66 10 67-4 67 0M110 829l67-11 67 10 67 10 67 1 67-1 66 0 67 3 67-43 67 0 67-6 67 0 66 8 67-7 67 4M110 827l67-13 67 9 67 14 67-1 67 0 66 1 67 1 67-36 67-9 67-4 67 2 66 11 67-8 67 3M110 825l67-10 67 12 67 10 67 0 67-1 66-2 67 4 67-38 67-4 67-7 67 0 66 5 67-3 67 0M110 822l67-9 67 11 67 12 67 1 67 0 66-1 67 1 67-39 67-4 67-2 67-2 66 8 67-4 67 0M110 828l67-13 67 11 67 12 67 0 67-4 66 4 67 0 67-39 67 0 67-5 67-4 66 10 67-6 67-4M110 828l67-12 67 9 67 12 67 1 67 0 66-3 67 4 67-41 67-2 67-6 67-2 66 13 67-11 67 1M110 821l67-9 67 14 67 11 67-1 67 0 66-1 67 5 67-39 67-5 67-2 67-4 66 11 67-8 67 1" stroke="#ff329e" stroke-opacity="0.90"/>
<path d="M110 827l67-8 67 8 67 12 67-1 67 1 66-3 67 4 67-33 67-10 67-5 67 2 66 7 67-6 67 4M110 821l67-9 67 11 67 13 67 0 67-3 66 3 67 1 67-39 67-6 67-5 67 2 66 6 67-3 67-9M110 824l67-10 67 5 67 16 67 1 67-1 66 0 67 2 67-40 67-3 67-1 67-5 66 12 67-12 67-1M110 839l67-22 67 10 67 13 67-2 67 1 66-3 67 4 67-36 67-6 67-3 67-2 66 9 67-4 67-1M110 824l67-13 67 11 67 13 67 1 67 0 66-2 67 0 67-36 67-5 67-5 67 3 66 3 67-2 67 3M110 822l67-11 67 13 67 9 67 3 67 2 66-3 67 4 67-38 67-8 67-5 67 4 66 7 67-7 67-6M110 823l67-9 67 4 67 19 67 1 67-4 66 1 67-1 67-30 67-5 67-8 67 3 66 5 67 0 67-9M110 823l67-7 67 7 67 16 67-2 67-4 66-3 67 6 67-32 67-10 67-4 67-2 66 7 67-1 67 2M110 830l67-11 67 6 67 12 67 4 67-2 66 0 67 3 67-34 67-5 67-14 67 5 66 10 67-13 67 0M110 831l67-15 67 9 67 13 67-1 67 3 66-5 67 5 67-36 67-9 67-1 67 1 66 8 67-8 67 5M110 825l67-14 67 7 67 17 67 2 67 0 66-1 67 2 67-41 67 0 67-5 67-4 66 9 67-8 67 6M110 826l67-13 67 12 67 12 67-2 67 2 66-2 67 0 67-36 67-4 67-4 67 0 66 7 67-3 67-8M110 823l67-9 67 7 67 16 67 1 67 0 66-1 67 3 67-36 67-7 67-7 67 1 66 9 67-4 67-1M110 829l67-14 67 15 67 6 67 0 67 1 66 3 67 1 67-38 67-6 67-4 67 0 66 8 67-7 67-3M110 826l67-14 67 9 67 12 67 2 67 1 66-3 67 4 67-37 67-7 67-5 67 3 66 7 67-9 67 5M110 825l67-12 67 14 67 11 67-3 67 0 66 0 67 2 67-39 67-6 67-3 67 0 66 10 67-6 67 0M110 830l67-16 67 12 67 14 67-1 67 1 66-3 67 2 67-34 67-12 67 1 67-2 66 11 67-11 67 4M110 828l67-10 67 9 67 11 67 3 67-4 66-2 67 6 67-37 67-7 67-5 67-1 66 11 67-6 67 3M110 823l67-7 67 7 67 13 67 2 67-4 66 3 67 3 67-37 67-7 67-6 67-2 66 13 67-11 67 5M110 828l67-14 67 8 67 14 67 0 67 2 66-2 67 4 67-43 67 0 67-6 67 1 66 4 67-3 67-1M110 830l67-17 67 13 67 13 67 0 67 0 66 0 67 1 67-39 67-1 67-7 67-1 66 7 67-4 67-2M110 825l67-8 67 4 67 18 67 0 67 0 66-1 67 0 67-38 67-2 67-6 67 1 66 8 67-10 67 0M110 825l67-7 67 6 67 12 67 1 67 2 66-3 67 3 67-37 67-8 67-2 67 0 66 10 67-9 67-1M110 827l67-11 67 11 67 10 67 1 67-2 66 2 67 1 67-34 67-7 67-4 67-3 66 8 67-3 67 1M110 831l67-15 67 11 67 10 67 2 67-2 66 0 67 2 67-37 67-7 67-1 67-2 66 8 67-9 67 3M110 828l67-13 67 11 67 12 67-2 67 3 66-2 67 1 67-37 67-3 67-7 67 1 66 10 67-6 67-2M110 828l67-12 67 4 67 16 67 3 67-4 66-1 67 5 67-39 67-6 67-1 67-1 66 6 67-3 67-3M110 832l67-13 67 6 67 14 67-3 67 1 66 1 67-2 67-36 67-3 67-3 67-3 66 9 67-3 67-4M110 828l67-13 67 10 67 13 67-2 67 1 66-1 67 3 67-35 67-8 67-6 67 4 66 7 67-8 67-5M110 830l67-17 67 11 67 12 67 2 67-1 66-2 67 5 67-38 67-8 67-1 67 1 66 4 67-4 67-2M110 828l67-14 67 8 67 16 67 0 67-2 66 2 67 2 67-38 67-5 67-6 67 1 66 7 67-6 67 0M110 829l67-14 67 6 67 16 67-2 67 2 66 0 67 1 67-36 67-3 67-9 67 1 66 7 67-11 67 10M110 827l67-13 67 9 67 14 67 2 67 0 66-4 67 4 67-39 67-4 67-7 67 3 66 8 67-5 67 1M110 826l67-9 67 9 67 11 67-1 67 0 66 0 67 2 67-40 67-1 67-8 67 3 66 6 67-9 67 8M110 828l67-14 67 14 67 8 67-1 67 2 66 1 67 0 67-36 67-6 67-2 67-2 66 7 67-7 67-4M110 825l67-14 67 15 67 9 67 3 67-1 66 1 67 1 67-35 67-8 67-8 67 5 66 8 67-7 67 2M110 827l67-9 67 6 67 13 67 1 67-1 66 0 67 0 67-32 67-11 67-5 67 2 66 10 67-5 67 3M110 824l67-8 67 13 67 7 67 0 67 0 66 2 67 1 67-43 67-1 67-6 67 1 66 9 67-8 67 3M110 828l67-7 67 3 67 11 67 2 67 1 66-2 67 2 67-35 67-7 67-6 67 2 66 5 67-4 67 6" stroke="#ff3276" stroke-opacity="0.92"/>
</g>
<path d="M71.3 738.2 V874.5 H1086.0" fill="none" stroke="#3a3a3a" stroke-width="1.8"/>
<path d="M70.4 770.4h-2.5M70.4 815.1h-2.5M70.4 859.8h-2.5M110.5 875.4v3.5M177.3 875.4v3.5M244.2 875.4v3.5M311.0 875.4v3.5M377.8 875.4v3.5M444.6 875.4v3.5M511.5 875.4v3.5M578.3 875.4v3.5M645.1 875.4v3.5M712.0 875.4v3.5M778.8 875.4v3.5M845.6 875.4v3.5M912.5 875.4v3.5M979.3 875.4v3.5M1046.1 875.4v3.5" stroke="#3a3a3a" stroke-width="1.2" fill="none"/>
<text x="1074.9" y="760.2" font-size="19.0" style="font-family:'Liberation Serif',serif;font-weight:normal" text-anchor="start" fill="#000" >Membership</text>
<defs><linearGradient id="g1" x1="0" y1="0" x2="0" y2="1"><stop offset="0.00" stop-color="#ff3276"/><stop offset="0.10" stop-color="#ff32d1"/><stop offset="0.20" stop-color="#d232ff"/><stop offset="0.30" stop-color="#7832ff"/><stop offset="0.40" stop-color="#3247ff"/><stop offset="0.50" stop-color="#32a1ff"/><stop offset="0.60" stop-color="#32fbff"/><stop offset="0.70" stop-color="#32ffa8"/><stop offset="0.80" stop-color="#32ff4e"/><stop offset="0.90" stop-color="#71ff32"/><stop offset="1.00" stop-color="#ccff32"/></linearGradient></defs>
<rect x="1104.0" y="767.4" width="18.5" height="88.1" fill="url(#g1)" opacity="0.85"/>
<text x="1126.6" y="784.1" font-size="11.0" style="font-family:'Liberation Sans',sans-serif;font-weight:normal" text-anchor="start" fill="#333" >0.40</text>
<text x="1126.6" y="802.5" font-size="11.0" style="font-family:'Liberation Sans',sans-serif;font-weight:normal" text-anchor="start" fill="#333" >0.35</text>
<text x="1126.6" y="821.5" font-size="11.0" style="font-family:'Liberation Sans',sans-serif;font-weight:normal" text-anchor="start" fill="#333" >0.30</text>
<text x="1126.6" y="839.4" font-size="11.0" style="font-family:'Liberation Sans',sans-serif;font-weight:normal" text-anchor="start" fill="#333" >0.25</text>
<text x="1126.6" y="857.4" font-size="11.0" style="font-family:'Liberation Sans',sans-serif;font-weight:normal" text-anchor="start" fill="#333" >0.20</text>
<text x="73.7" y="933.2" font-size="36.8" style="font-family:'Liberation Serif',serif;font-weight:bold" text-anchor="start" fill="#000" >Sub-cluster 3</text>
<text x="0" y="0" font-size="30.70" style="font-family:'Liberation Serif',serif;font-weight:bold" transform="translate(30.4 1089.3) rotate(-90)">Protein Ratio</text>
<text x="64.0" y="994.5" font-size="31.0" style="font-family:'Liberation Serif',serif;font-weight:bold" text-anchor="end" fill="#000" >2</text>
<text x="64.0" y="1031.7" font-size="31.0" style="font-family:'Liberation Serif',serif;font-weight:bold" text-anchor="end" fill="#000" >0</text>
<text x="64.0" y="1071.1" font-size="31.0" style="font-family:'Liberation Serif',serif;font-weight:bold" text-anchor="end" fill="#000" >-2</text>
<g class="l">
<path d="M110 1056l67-14 67 7 67-25 67-15 67-26 66 40 67-10 67-32 67 13 67 7 67-2 66 21 67-18 67 8M110 983l67-7 67 12 67-27 67-4 67 3 66-4 67-5 67 40 67 10 67-1 67 24 66-15 67 15 67-23M110 1033l67 18 67 11 67-53 67 9 67 10 66-11 67 3 67-33 67 11 67 8 67-5 66-4 67 18 67-7M110 1057l67-23 67 19 67-33 67 1 67-2 66 2 67-2 67 9 67-18 67-3 67-13 66 10 67-4 67 7" stroke="#ccff32" stroke-opacity="0.50"/>
<path d="M110 1051l67 1 67 5 67-46 67 8 67-2 66 4 67-5 67 37 67 3 67 1 67 0 66-5 67 0 67 8M110 983l67 8 67 0 67-28 67-4 67 15 66-7 67-1 67 12 67 27 67-5 67 6 66-1 67-5 67 9M110 1051l67-18 67 21 67-45 67 11 67-3 66 4 67-14 67-14 67 16 67-4 67 20 66-20 67 10 67-3" stroke="#a4ff32" stroke-opacity="0.52"/>
<path d="M110 1054l67-8 67 1 67-48 67 10 67 15 66-8 67-8 67-14 67 8 67 6 67-3 66-1 67-3 67 17" stroke="#7dff32" stroke-opacity="0.54"/>
<path d="M110 1052l67-14 67 4 67-20 67 4 67 0 66-4 67-6 67 18 67-21 67-4 67 6 66-16 67 21 67-7M110 1029l67 21 67-1 67-28 67 2 67 6 66-6 67-2 67-34 67 11 67 15 67-8 66 6 67-6 67 12M110 998l67-2 67-8 67-28 67 0 67 8 66 5 67-28 67 44 67 4 67 10 67 20 66 9 67-13 67-10M110 1050l67 1 67-8 67-22 67-1 67 10 66-9 67-3 67-15 67-7 67 12 67 0 66-7 67 5 67 7M110 1041l67 2 67 3 67-88 67 11 67-9 66 2 67-14 67 55 67-5 67 7 67-2 66 10 67-9 67 9M110 1038l67-1 67 3 67-18 67 0 67-5 66 5 67-12 67 40 67 1 67-3 67 7 66-4 67 2 67 2M110 1050l67-5 67 4 67-39 67 2 67 12 66-2 67-8 67 38 67 7 67-2 67-2 66-3 67 3 67 4M110 1034l67 1 67 10 67-28 67 2 67 4 66-4 67-9 67-3 67-9 67 19 67-13 66 27 67-28 67 13M110 1057l67-7 67-9 67-76 67-3 67 2 66 8 67-8 67 24 67 16 67 16 67-2 66-14 67 2 67 3M110 984l67 8 67-1 67-32 67 1 67 10 66-6 67-15 67 47 67 3 67 4 67 5 66-6 67 15 67 1M110 1023l67 21 67 3 67-38 67 3 67 13 66-2 67-3 67-23 67 23 67-16 67 9 66-11 67 17 67-13M110 1053l67-3 67-29 67-2 67 1 67-11 66 1 67 9 67-27 67 4 67 13 67 4 66-11 67 2 67 0M110 982l67 4 67 0 67-25 67-4 67 2 66 10 67-14 67 97 67 5 67-2 67-3 66-2 67 6 67 1M110 982l67 5 67 5 67-32 67 3 67 4 66-7 67-14 67 59 67 15 67-6 67-16 66 4 67 15 67-10M110 1040l67 9 67-2 67-31 67-2 67 11 66-5 67 0 67 33 67 4 67-5 67-1 66-1 67 4 67 3M110 983l67 11 67-6 67-19 67-10 67 12 66-11 67-10 67 68 67-2 67-17 67 17 66-5 67-4 67 0M110 991l67-5 67 1 67-27 67 3 67 5 66-4 67-13 67 46 67 0 67 14 67 2 66 14 67-25 67 5M110 1052l67-19 67 17 67-30 67 2 67 0 66-1 67-5 67-29 67 13 67 5 67 14 66-16 67 7 67 10M110 983l67-4 67 17 67-27 67-4 67 8 66-11 67-14 67 43 67 15 67-7 67 9 66 3 67-7 67 2M110 1003l67-28 67 13 67 37 67-10 67 9 66-12 67 8 67 28 67 8 67-1 67-4 66 0 67 0 67 3M110 1050l67-34 67 38 67-32 67-3 67-2 66 2 67-6 67-22 67 34 67-25 67-3 66 7 67 17 67-14M110 1051l67-10 67-6 67-27 67 3 67 14 66-12 67-2 67-9 67 17 67-8 67-7 66-4 67 16 67 6M110 1050l67-13 67 12 67-27 67-5 67 6 66-2 67-2 67 28 67 3 67 6 67-1 66-16 67 12 67 7M110 988l67 1 67 0 67-29 67 5 67 11 66-1 67-27 67 37 67 32 67 6 67-20 66 1 67 7 67-1M110 1045l67 5 67 2 67-34 67-4 67-2 66 4 67 3 67-29 67 41 67-31 67 7 66 6 67 3 67 12" stroke="#56ff32" stroke-opacity="0.55"/>
<path d="M110 1046l67-1 67 7 67-39 67 7 67 5 66-5 67-4 67 37 67-12 67 12 67 1 66-3 67 3 67 5M110 1033l67 14 67-7 67-20 67-12 67 15 66-10 67 4 67-6 67 25 67-18 67 0 66 12 67-6 67-16M110 984l67 1 67 23 67-40 67-2 67 8 66-9 67-2 67 49 67-12 67 11 67 7 66-15 67 18 67-3M110 1042l67 0 67 8 67-32 67 1 67 5 66-26 67 13 67 41 67 0 67 2 67 2 66-9 67 7 67 6M110 994l67-7 67 2 67-22 67-1 67 9 66-4 67-25 67 79 67-27 67 6 67-3 66 12 67 23 67-22M110 1039l67 5 67 1 67-27 67 3 67-4 66 1 67-4 67 38 67 1 67-1 67 2 66-3 67 2 67 2M110 992l67 4 67-7 67-22 67-4 67 0 66 3 67-11 67 61 67 18 67-20 67-8 66 14 67 0 67-11M110 1046l67 4 67-18 67-20 67 7 67 2 66-27 67 23 67-24 67 44 67-26 67 9 66-17 67 17 67-17M110 989l67-3 67 5 67 34 67-18 67 12 66-8 67 4 67 36 67 7 67-7 67 3 66-5 67 4 67 1M110 1049l67-2 67 3 67-30 67-12 67 15 66-6 67 0 67 35 67 1 67-1 67 0 66-3 67 6 67-1M110 983l67-3 67 20 67-34 67-10 67 11 66-4 67-1 67 26 67 29 67 0 67-7 66 7 67-5 67 15M110 992l67-1 67-5 67-20 67-2 67 5 66-5 67 20 67 7 67 8 67 7 67 16 66-6 67-1 67-1M110 984l67-2 67 7 67-24 67 1 67-7 66 27 67-27 67 39 67 23 67-6 67 21 66-19 67-7 67 1M110 1031l67 17 67 4 67-30 67-15 67 13 66 2 67-4 67 31 67 4 67 1 67 1 66-7 67 5 67 6" stroke="#32ff36" stroke-opacity="0.57"/>
<path d="M110 1034l67 12 67 4 67-90 67 1 67 9 66-4 67 10 67 15 67 28 67-13 67 21 66-15 67 0 67-5M110 990l67 4 67 5 67-22 67-10 67-8 66 11 67-6 67 56 67-1 67 15 67-10 66-20 67 5 67-3M110 1005l67-9 67 5 67-38 67-4 67 15 66-10 67-11 67 79 67 4 67-33 67 12 66-11 67-1 67 7M110 1031l67 8 67 12 67-42 67 8 67 1 66-6 67 7 67 3 67 4 67-20 67 10 66-2 67 6 67-7M110 985l67 8 67-5 67-16 67-9 67-5 66 5 67-3 67 73 67-12 67-16 67-4 66 33 67-23 67-3M110 1032l67 6 67 8 67-82 67-5 67 4 66 10 67-24 67 43 67 31 67-5 67-2 66-6 67 10 67 2M110 1023l67 19 67-1 67-70 67-12 67 14 66-5 67-13 67 50 67 19 67-18 67 17 66-11 67 1 67 1M110 985l67 10 67 0 67-29 67-8 67 2 66 5 67-9 67 37 67 10 67 15 67-4 66-11 67 24 67-12M110 1038l67 12 67-7 67-23 67-9 67 2 66 9 67-12 67-18 67 17 67 11 67 8 66-16 67 4 67 4M110 1034l67-14 67 23 67-19 67-7 67 8 66-11 67 0 67 27 67 10 67 2 67 2 66-4 67 4 67 1M110 985l67 4 67 9 67-28 67 0 67-2 66-1 67 5 67 15 67 16 67 20 67 13 66-27 67 10 67-9M110 1025l67 14 67 5 67-32 67 2 67-3 66-8 67 15 67 33 67-5 67 7 67-1 66-3 67 3 67 1M110 1045l67-12 67-8 67-62 67 3 67 10 66 1 67-5 67 31 67 10 67 9 67 2 66-16 67 3 67-2M110 987l67 1 67-5 67-15 67-6 67 6 66 3 67-7 67 64 67-19 67 8 67-14 66 7 67-5 67 17" stroke="#32ff5d" stroke-opacity="0.59"/>
<path d="M110 995l67-9 67 13 67-31 67-1 67 8 66 0 67-25 67 72 67-17 67 19 67-4 66-17 67 14 67 2M110 1037l67-1 67 16 67-42 67-3 67 15 66-2 67-9 67 2 67 4 67 6 67 8 66-30 67 13 67 22M110 1040l67-6 67 4 67-76 67 5 67-6 66 12 67-1 67 51 67-20 67 18 67-5 66-2 67 17 67-23M110 1033l67 1 67 2 67-22 67-13 67 4 66 7 67-10 67 47 67 3 67 3 67-4 66-7 67 7 67 6M110 993l67 2 67 2 67-28 67-4 67 18 66-11 67-2 67 39 67 12 67 0 67 0 66 0 67-4 67-9M110 1044l67-5 67 3 67-36 67-11 67 31 66-14 67 1 67 37 67 1 67-2 67 3 66-3 67 2 67 5M110 993l67-1 67 8 67 13 67 6 67-4 66-3 67-2 67 2 67 7 67-3 67-7 66 1 67 14 67-8M110 1048l67-12 67 6 67-84 67 17 67 0 66-6 67 6 67 45 67 4 67-1 67-7 66-2 67 10 67-4M110 1000l67-9 67 4 67-29 67 7 67 1 66-3 67-11 67 30 67 14 67 15 67-3 66-3 67 9 67 0M110 1032l67 3 67 4 67-72 67-8 67 16 66 3 67-26 67 48 67 28 67-19 67 12 66-5 67 2 67 3M110 1035l67 2 67 5 67-27 67-5 67 8 66-2 67-6 67-12 67 34 67-19 67 8 66-2 67-5 67-2M110 1049l67-15 67 4 67-34 67 10 67-1 66-17 67 17 67 0 67 0 67 23 67-16 66-12 67 8 67 5M110 1054l67-8 67-9 67-72 67-2 67 24 66-12 67-15 67 57 67 3 67 5 67-9 66-10 67 10 67 6M110 1000l67-11 67 11 67-33 67 0 67 7 66-2 67-1 67 39 67 8 67 1 67-5 66 7 67 4 67-5" stroke="#32ff85" stroke-opacity="0.61"/>
<path d="M110 989l67 16 67-6 67-36 67-2 67 13 66-4 67 1 67 39 67 10 67 2 67-9 66-8 67 8 67 3M110 996l67 0 67 3 67-31 67-1 67 4 66 2 67-6 67 53 67 0 67-7 67 6 66-6 67 18 67-3M110 1038l67-2 67 0 67-25 67-23 67 29 66 2 67-7 67 38 67 4 67 1 67-3 66-5 67 4 67 2M110 1005l67-17 67 10 67-31 67-4 67 1 66 6 67 4 67 36 67 14 67 0 67 0 66-19 67 13 67-8" stroke="#32ffac" stroke-opacity="0.63"/>
<path d="M110 989l67 10 67 0 67-33 67-1 67 11 66-5 67-22 67 63 67 13 67-8 67 7 66-7 67 18 67-16M110 1039l67-12 67 9 67-30 67 3 67 7 66-17 67 19 67-6 67 13 67 0 67 0 66-6 67-13 67 11M110 993l67 1 67 4 67-30 67 6 67 2 66 1 67-8 67 46 67-3 67 9 67-13 66 8 67 9 67 5M110 993l67 12 67-9 67-31 67 0 67-1 66 7 67-5 67 54 67 9 67-5 67-4 66-2 67-2 67 12M110 1034l67-3 67 8 67-34 67-10 67 18 66-1 67-1 67 35 67 6 67 0 67 2 66-7 67 4 67 2M110 1042l67-5 67-2 67-14 67-11 67 6 66-5 67-14 67 27 67-6 67-4 67 11 66-5 67-3 67 4M110 997l67-1 67 4 67-31 67-3 67 0 66 0 67 2 67 50 67-6 67 3 67-7 66 15 67-14 67 3M110 994l67 2 67 3 67-25 67-7 67 18 66-16 67-10 67 57 67 0 67 7 67-4 66 6 67-2 67 0M110 1040l67 0 67-7 67-59 67 3 67-1 66-5 67 1 67 44 67 14 67-7 67 0 66-7 67 7 67-1M110 994l67-1 67 16 67-8 67 9 67 3 66-2 67 2 67-8 67 30 67-10 67 0 66-7 67 7 67 0" stroke="#32ffd3" stroke-opacity="0.65"/>
<path d="M110 1029l67 21 67-6 67-32 67-8 67 8 66 6 67-8 67 40 67-7 67 8 67-1 66-2 67 4 67 2M110 1040l67-4 67 13 67-37 67-6 67 7 66 0 67-2 67 36 67 5 67-1 67-1 66 0 67-3 67 6M110 1039l67-1 67-5 67-24 67 3 67-4 66 1 67 0 67 4 67 9 67-3 67 6 66-11 67 9 67-3M110 998l67-2 67 2 67-29 67-2 67 5 66 2 67 8 67 35 67-3 67 11 67 0 66-4 67 2 67 2M110 1035l67-1 67 2 67-31 67 2 67 5 66 0 67-1 67 0 67 5 67 2 67-1 66 4 67-3 67 3M110 1027l67 11 67-1 67-35 67 7 67 5 66 2 67-7 67 16 67-2 67 2 67-16 66 10 67 6 67-14M110 1026l67 11 67-16 67-12 67-8 67 7 66 6 67-14 67 17 67 2 67 3 67 6 66 2 67-14 67 3M110 993l67 3 67 1 67 14 67-1 67 4 66-2 67-1 67 14 67-1 67 1 67 1 66-7 67 9 67-6M110 1032l67 2 67 4 67-31 67 1 67-7 66 4 67 5 67 38 67 3 67 2 67-2 66-3 67 3 67 3M110 1030l67 8 67-3 67-27 67-12 67 18 66 0 67-3 67 4 67 4 67 6 67-6 66-5 67 10 67-5" stroke="#32fffa" stroke-opacity="0.66"/>
<path d="M110 992l67 4 67 0 67-29 67 0 67 12 66-7 67-6 67 48 67 21 67-10 67 0 66 6 67-6 67-10M110 1034l67-6 67 10 67-32 67 3 67 3 66 3 67-4 67 11 67 1 67 0 67 4 66-8 67 10 67-6M110 1033l67 1 67-9 67-18 67 0 67 4 66 1 67-6 67 42 67 5 67-2 67 1 66-4 67 3 67 2M110 1002l67-7 67 4 67-31 67-1 67 8 66-2 67 6 67 42 67 2 67 6 67-7 66-2 67 5 67 1M110 1003l67-7 67 2 67-29 67-3 67 7 66 2 67-10 67 59 67-1 67 6 67-8 66-1 67 2 67 1" stroke="#32dcff" stroke-opacity="0.68"/>
<path d="M110 993l67 1 67 8 67-33 67-2 67 3 66 9 67-15 67 60 67 2 67 2 67 4 66-14 67 4 67 0M110 998l67-2 67 3 67-31 67-1 67 7 66 4 67 0 67 46 67-1 67-1 67 3 66-5 67-2 67 12M110 994l67 2 67-1 67-20 67-5 67 3 66 5 67-7 67 53 67 4 67-3 67 0 66-3 67 2 67-2M110 1002l67-13 67 10 67-32 67 11 67-11 66 5 67-3 67 57 67 2 67-3 67-1 66 7 67-8 67 0M110 1004l67-11 67 10 67-35 67-3 67 10 66-2 67-1 67 46 67 15 67-8 67-4 66 0 67 7 67-6M110 1033l67-5 67 8 67-31 67-9 67 18 66-3 67-1 67 4 67 14 67-5 67 4 66-9 67 12 67-8M110 1034l67 0 67 1 67-26 67-2 67 6 66-1 67-6 67 8 67 5 67 5 67 1 66-9 67 7 67 7M110 1037l67-2 67 3 67-33 67 3 67 6 66-3 67-3 67 16 67 1 67-1 67-1 66-6 67 8 67-4" stroke="#32b5ff" stroke-opacity="0.70"/>
<path d="M110 1033l67 0 67 3 67-31 67 3 67 4 66 0 67-8 67 17 67 5 67-2 67 4 66-7 67 3 67-1M110 1034l67-1 67-1 67-27 67 2 67 6 66-2 67-1 67 11 67 3 67 8 67-7 66-7 67 10 67-4M110 998l67 2 67-1 67-30 67-2 67 5 66 5 67-6 67 57 67-3 67 6 67-6 66 0 67-3 67 0M110 1033l67 3 67-4 67-61 67-4 67 8 66 2 67-9 67 56 67 1 67 1 67 2 66-10 67 7 67-4" stroke="#328dff" stroke-opacity="0.72"/>
<path d="M110 1028l67 5 67 1 67-27 67 0 67-2 66-7 67 12 67 20 67-3 67 2 67-4 66-6 67 10 67-6M110 1001l67-1 67 0 67-31 67-4 67 11 66 1 67-5 67 50 67 9 67-6 67 3 66-4 67 6 67-4M110 1034l67-7 67 8 67-30 67 1 67-1 66-7 67 9 67 18 67-1 67 1 67 7 66-13 67 18 67-12M110 1035l67-1 67 1 67-33 67 3 67 5 66 0 67-5 67 22 67-2 67-3 67 1 66-2 67 3 67-5M110 999l67-5 67 6 67-31 67-3 67 7 66 2 67-6 67 61 67-2 67-2 67-2 66-5 67 7 67-1M110 1032l67-10 67 14 67-35 67 6 67 5 66 0 67-2 67 18 67-4 67 0 67 7 66-8 67-1 67-2M110 1031l67 3 67 1 67-66 67 1 67 4 66 0 67-2 67 52 67 10 67 1 67-11 66-4 67 5 67-4M110 1028l67 5 67 1 67-34 67 7 67 5 66-1 67-12 67 32 67-4 67 0 67 1 66-9 67 10 67-4M110 1001l67-3 67 5 67-34 67-2 67 13 66 3 67-9 67 53 67-2 67 10 67-10 66-2 67 10 67-14M110 998l67-3 67 4 67-30 67 2 67 5 66 1 67-5 67 54 67 0 67-1 67-2 66-4 67 6 67-3M110 1032l67-10 67 10 67-27 67-2 67 9 66-13 67 7 67 42 67 2 67 1 67-2 66-4 67 6 67-1M110 1032l67 1 67 3 67-35 67 2 67 6 66 3 67-2 67 38 67 2 67 0 67 1 66-5 67 5 67 2M110 1025l67 3 67 6 67-31 67 4 67 0 66-5 67 7 67 39 67-2 67 5 67 0 66-4 67 4 67-3M110 1032l67 3 67-3 67-27 67 3 67 6 66-1 67-9 67 17 67 6 67-3 67-4 66 8 67 0 67 1M110 1001l67-5 67 4 67 0 67-6 67 18 66 0 67-2 67 36 67 4 67-1 67-1 66-6 67 4 67 5M110 1000l67 1 67-1 67-33 67 0 67 11 66-3 67-3 67 50 67 6 67-2 67 1 66-6 67 11 67-7M110 1033l67 3 67 1 67-35 67 5 67 5 66-1 67-7 67 43 67-3 67 7 67-3 66-1 67 4 67-5M110 1029l67-3 67 3 67-28 67 7 67 4 66-1 67-4 67 22 67-2 67-3 67 1 66-3 67 10 67-9M110 1033l67 0 67 0 67-27 67 1 67 4 66-5 67 4 67 13 67 6 67-5 67 2 66-6 67 5 67 7M110 1032l67 2 67 1 67-33 67 5 67 6 66-7 67 4 67 18 67 0 67 5 67-8 66 1 67-2 67-1M110 1034l67-2 67-5 67-23 67-8 67 10 66 5 67-1 67 12 67-1 67 7 67-5 66 2 67 4 67-4M110 998l67 2 67 0 67-31 67 6 67-2 66 3 67-4 67 52 67 2 67-3 67 4 66-7 67 15 67-12M110 1036l67-2 67 4 67-33 67-1 67 9 66-1 67-6 67 42 67-4 67 5 67 2 66-5 67 2 67-2M110 1030l67 3 67-2 67-29 67 5 67 5 66-6 67 4 67 18 67 2 67-4 67-2 66 1 67 5 67-7M110 1033l67 1 67 1 67-29 67 1 67 6 66-7 67 2 67 22 67-5 67 0 67 2 66-6 67 3 67-2M110 1005l67-6 67 4 67-33 67 7 67 2 66-4 67-4 67 52 67 3 67 7 67-5 66-1 67-2 67-2M110 997l67-2 67 5 67-27 67-5 67 7 66 0 67 1 67 48 67 2 67 1 67 3 66-10 67 5 67-1M110 998l67 0 67 2 67-31 67 4 67 9 66-7 67 0 67 73 67 2 67-7 67 8 66-6 67 6 67 1M110 998l67-2 67 9 67 1 67-10 67 16 66-1 67-4 67 35 67 7 67-4 67 6 66-4 67 4 67-1M110 1000l67 1 67-2 67-26 67-6 67 7 66 4 67-6 67 52 67 2 67 1 67-1 66-5 67 3 67-1M110 1032l67 1 67 1 67-29 67-6 67 12 66 0 67-1 67 36 67 4 67-2 67 3 66-9 67 2 67 8M110 998l67-2 67 4 67-25 67-5 67 4 66 1 67 0 67 47 67 7 67-5 67 2 66-3 67 1 67-1M110 1032l67 0 67-2 67-25 67-5 67 7 66 5 67-2 67 12 67 1 67 2 67 2 66-3 67 2 67 8M110 1001l67-5 67 4 67-31 67 2 67 6 66-1 67-5 67 53 67 13 67-11 67 3 66-5 67 0 67 7M110 1032l67 1 67 2 67-32 67 4 67 5 66-6 67 4 67 21 67 3 67-9 67 0 66-5 67 5 67-3M110 1030l67 3 67 1 67-29 67 0 67 6 66 1 67-2 67 38 67-2 67 5 67-1 66-8 67 7 67-3M110 1003l67-1 67 0 67 3 67-12 67 14 66-2 67-5 67 48 67 3 67-7 67 3 66 0 67 1 67 3M110 998l67 5 67-5 67-28 67-3 67 9 66-2 67-2 67 55 67-1 67 5 67-9 66 0 67 13 67-12M110 1025l67 8 67-3 67-25 67-4 67 11 66 0 67-2 67 38 67 2 67 1 67-3 66-3 67 4 67 4M110 999l67 0 67 1 67-32 67 0 67 7 66 5 67-5 67 49 67 4 67 6 67-1 66-9 67 5 67-5" stroke="#3266ff" stroke-opacity="0.74"/>
<path d="M110 1031l67-3 67 6 67-33 67 4 67 8 66-8 67 5 67 16 67 6 67-7 67 5 66-10 67 3 67 0M110 1002l67-6 67 8 67-32 67-5 67 11 66-3 67-8 67 61 67 1 67 6 67-9 66 1 67-2 67-2M110 1005l67-9 67 11 67-36 67-4 67 9 66 1 67 1 67 42 67 14 67-2 67-1 66-11 67 4 67 7M110 1022l67 11 67-3 67-30 67 9 67-6 66 5 67-9 67 45 67 6 67-3 67 4 66-10 67 4 67-1M110 999l67 5 67-2 67-33 67-2 67 10 66 1 67 1 67 55 67 1 67-4 67-3 66-7 67 10 67 2M110 1032l67-9 67 8 67-24 67-3 67 8 66-6 67 4 67 17 67 6 67 0 67-8 66-1 67 8 67-9M110 1030l67 4 67 1 67-30 67-1 67 1 66 6 67-4 67 19 67 4 67-5 67 3 66-2 67 6 67-5M110 1032l67-10 67 13 67-28 67 0 67 7 66-13 67 7 67 35 67 1 67-2 67 1 66 4 67 4 67 2M110 999l67 2 67 3 67-27 67-1 67 4 66 1 67-1 67 50 67-5 67 7 67-4 66 3 67-3 67 1M110 1003l67-4 67 5 67-34 67-2 67 7 66 8 67-8 67 50 67 0 67 2 67 8 66-9 67-1 67 8M110 998l67 4 67-2 67-28 67-5 67 9 66 5 67-6 67 72 67 1 67-2 67 4 66-4 67 3 67-2M110 1003l67-5 67 5 67-34 67-2 67 11 66-3 67-3 67 76 67 0 67-4 67-1 66 4 67-6 67 7M110 1031l67-4 67 8 67-30 67-6 67 12 66-10 67 6 67 41 67 2 67 1 67 0 66-4 67-4 67 5M110 1029l67-3 67 7 67-40 67 10 67 9 66-1 67-9 67 41 67 7 67-8 67 5 66-4 67 6 67 4M110 1030l67-2 67 3 67-26 67-2 67-2 66 3 67 1 67 36 67 9 67 1 67-7 66 3 67 3 67 1M110 1004l67-3 67 1 67-33 67-2 67 13 66 1 67-1 67 52 67 1 67-6 67-2 66 0 67 6 67-4M110 1000l67 4 67 2 67-34 67 3 67 2 66-2 67 2 67 53 67-2 67-3 67 5 66-12 67 14 67-3M110 1023l67-2 67 5 67-26 67 3 67-2 66 8 67-2 67 19 67 5 67-6 67 0 66 6 67-4 67 5M110 1005l67 0 67-1 67 1 67 1 67 7 66-5 67-10 67 50 67-1 67-4 67 2 66-6 67 8 67-2M110 1023l67-4 67 17 67-42 67 11 67 7 66 1 67-6 67 20 67 4 67 0 67 4 66-7 67-3 67-3M110 998l67 3 67-1 67-26 67-5 67 5 66 1 67-1 67 60 67-5 67-4 67 8 66-12 67 4 67 3M110 1020l67-1 67 17 67-31 67-6 67 9 66 2 67-10 67 48 67-5 67 1 67-3 66 6 67 1 67 5M110 1021l67 9 67 5 67-41 67 13 67 2 66-9 67 7 67 41 67-3 67 4 67 0 66-6 67 8 67 2M110 1007l67-11 67 5 67-30 67 4 67 0 66 1 67 3 67 44 67 10 67 3 67-4 66-11 67 6 67-4M110 1006l67-11 67 3 67-26 67-3 67 17 66-8 67-2 67 55 67 0 67 1 67-7 66-2 67 12 67-12M110 1030l67 3 67 2 67-35 67-4 67 9 66-4 67 1 67 24 67 6 67-2 67-4 66 1 67-3 67 3M110 1021l67 7 67 2 67-31 67-7 67 17 66 0 67-11 67 32 67-4 67 6 67-4 66 1 67 2 67-8M110 1028l67-5 67 11 67-31 67-9 67 19 66-4 67-11 67 44 67-1 67 0 67 5 66-8 67 10 67-5M110 1006l67-3 67-2 67-32 67 3 67 3 66 4 67 0 67 50 67 2 67-3 67-2 66-5 67 14 67-11M110 1000l67-4 67 14 67-37 67 2 67 9 66-2 67-6 67 58 67-9 67 10 67-2 66-7 67 8 67 0M110 1002l67-1 67 4 67-7 67 2 67 3 66 1 67-4 67 41 67 5 67-4 67 0 66 3 67 2 67 6M110 1008l67-3 67-1 67 0 67-9 67 6 66-4 67 3 67 34 67-2 67 1 67 2 66-15 67 9 67 0M110 1028l67-8 67 10 67-34 67-5 67 15 66-4 67-3 67 25 67 4 67 0 67-2 66-3 67 6 67-5M110 998l67 1 67 11 67-39 67 6 67 2 66-3 67-2 67 51 67 11 67-11 67 0 66 1 67 9 67-12M110 998l67-2 67 6 67-27 67-3 67 11 66-8 67 1 67 52 67-1 67-3 67 3 66 3 67-5 67 8M110 1026l67 5 67 4 67-37 67 3 67 10 66-13 67 12 67 35 67 5 67-5 67-3 66 0 67 5 67-3M110 1024l67 9 67-7 67-32 67-3 67 16 66 0 67-6 67 25 67 5 67 5 67-11 66 1 67 6 67-1M110 999l67-1 67 10 67-37 67 4 67 7 66-1 67-1 67 42 67 10 67-3 67 7 66-8 67 1 67 0M110 1001l67-3 67 2 67-29 67-2 67 14 66-2 67 0 67 52 67 3 67-5 67 1 66-5 67 2 67 3M110 1028l67 4 67-7 67-27 67 2 67 3 66-1 67-4 67 49 67 0 67-5 67 4 66-7 67 7 67 4M110 998l67 3 67 10 67-42 67 4 67 3 66 0 67 1 67 56 67 1 67-1 67 2 66-14 67 13 67-4M110 998l67 4 67 5 67-29 67-8 67 11 66 4 67-9 67 52 67 6 67-5 67 2 66-7 67 3 67 6" stroke="#323fff" stroke-opacity="0.76"/>
<path d="M110 1004l67 1 67 2 67-33 67 1 67 2 66 0 67-1 67 53 67 6 67-8 67 8 66-14 67 7 67 1M110 1022l67-3 67 9 67-34 67-2 67 16 66 3 67-9 67 28 67 2 67 0 67-7 66 7 67-7 67 1M110 1025l67-2 67 6 67-33 67-4 67 7 66 8 67 0 67 24 67 0 67 5 67-2 66-7 67 8 67-6M110 1029l67-4 67 9 67-36 67-6 67 15 66-7 67 2 67 42 67 0 67 0 67-2 66 0 67-1 67 5M110 1004l67-1 67 6 67-6 67-4 67 3 66-5 67 6 67 45 67 2 67-10 67 2 66-1 67 1 67 6M110 1025l67 9 67-7 67-50 67-3 67 8 66-6 67 7 67 47 67 2 67-4 67 1 66 1 67 5 67-1M110 1033l67-13 67 15 67-35 67 0 67 4 66 3 67-9 67 44 67 0 67 4 67 2 66-4 67 2 67-2M110 1007l67-7 67 0 67-28 67 8 67 6 66-11 67 6 67 53 67-3 67 4 67-8 66-1 67 9 67-5M110 1022l67 11 67 2 67-33 67-10 67 9 66-2 67-1 67 44 67 7 67-4 67-3 66-3 67 2 67 10M110 1027l67-4 67 2 67-26 67-8 67 15 66-2 67 6 67 36 67 3 67 0 67-6 66 2 67 3 67-5M110 1005l67-2 67 6 67-37 67 5 67 0 66 3 67 2 67 52 67 2 67 0 67-1 66-8 67 4 67-4M110 1003l67-5 67 13 67-42 67 0 67 9 66 5 67-11 67 60 67-3 67 0 67 5 66-3 67 5 67-11M110 1003l67-1 67-2 67-25 67-1 67 3 66 6 67-11 67 58 67 3 67-6 67 8 66-4 67-5 67-2M110 1007l67-8 67 8 67-13 67 4 67 2 66-4 67 6 67 28 67 5 67-6 67 7 66-8 67 8 67-7M110 1004l67-8 67 13 67-37 67-3 67 7 66-1 67 3 67 48 67 0 67 0 67 3 66-8 67 7 67 5M110 1025l67-4 67 5 67-33 67 4 67 8 66 0 67-6 67 46 67 2 67-6 67 4 66 2 67-5 67 3M110 997l67 4 67 5 67-5 67-4 67 4 66-2 67 1 67 42 67 7 67-3 67-2 66 1 67 6 67-6M110 1001l67-1 67 9 67-29 67-1 67-1 66 4 67-4 67 53 67-1 67 4 67-2 66-1 67 1 67 4M110 1021l67 7 67-4 67-19 67-15 67 13 66 4 67-3 67 41 67-4 67 6 67-1 66 1 67-3 67 2M110 1009l67-3 67-1 67-28 67 1 67 5 66 0 67-3 67 48 67 6 67 2 67-8 66 1 67 6 67-10M110 1028l67-2 67 4 67-36 67 5 67 3 66 7 67 1 67 31 67 0 67 1 67 3 66 0 67 3 67-5M110 1025l67 1 67 10 67-40 67-4 67 8 66 5 67 0 67 38 67 4 67-3 67-1 66-4 67 5 67 3M110 1001l67 0 67 0 67-24 67-9 67 15 66 1 67-3 67 50 67 0 67 2 67 1 66-3 67 2 67-1" stroke="#4d32ff" stroke-opacity="0.77"/>
<path d="M110 1001l67 5 67-5 67-28 67 0 67 9 66 1 67-9 67 66 67 3 67 6 67-2 66-5 67 0 67 5M110 1032l67-10 67 5 67-27 67-11 67 14 66-2 67 2 67 44 67-2 67-4 67 1 66 0 67 2 67-1M110 1006l67-3 67 9 67-33 67-1 67-3 66 5 67-4 67 57 67-7 67 10 67 0 66-13 67 6 67-1M110 1027l67-5 67 4 67-27 67 0 67 7 66-8 67-2 67 48 67 0 67 1 67 1 66-8 67 4 67 6M110 1023l67 4 67 6 67-57 67-3 67 10 66 3 67-8 67 53 67 2 67 3 67-11 66 6 67 5 67-8M110 1020l67-1 67 11 67-40 67 6 67 5 66 4 67-3 67 27 67 5 67-9 67 10 66-4 67-6 67 9M110 1007l67-2 67 3 67-32 67 0 67 6 66-4 67 1 67 54 67-2 67-2 67 7 66-5 67 1 67-2M110 1004l67-6 67 11 67-36 67 3 67 5 66 3 67-10 67 60 67 1 67 2 67-8 66-8 67 12 67-8M110 1024l67-1 67 8 67-32 67 8 67 4 66-14 67 8 67 36 67 0 67 5 67-4 66-3 67 9 67-5M110 1006l67-2 67 2 67-33 67 1 67 7 66-3 67 3 67 49 67 1 67 5 67-5 66-8 67 11 67-2M110 1021l67-1 67 11 67-35 67-4 67 13 66 3 67-1 67 22 67 6 67-4 67 4 66-3 67-3 67 7M110 1006l67 2 67 0 67-31 67-3 67 11 66-3 67-5 67 50 67 8 67 1 67-9 66-1 67 9 67-1M110 1021l67 11 67-2 67-32 67-8 67 16 66-8 67 9 67 33 67 5 67-4 67 0 66 0 67 5 67 3M110 1021l67 12 67-3 67-32 67 4 67 0 66-2 67 4 67 30 67-4 67 6 67-9 66 0 67 10 67-7M110 1006l67 0 67 2 67-33 67-1 67 8 66-1 67-2 67 53 67 4 67 0 67 0 66-9 67 7 67 0M110 1021l67-3 67 6 67-27 67 10 67-8 66-1 67 12 67 23 67 2 67-4 67 5 66-6 67 6 67-2M110 1020l67-1 67 11 67-38 67 5 67 4 66 4 67-6 67 45 67-1 67 4 67-4 66-4 67 4 67 1M110 1025l67-7 67 9 67-29 67 2 67 2 66-3 67 1 67 41 67 1 67 2 67 0 66-6 67 4 67-1M110 1019l67 0 67 10 67-34 67-1 67 10 66-6 67 1 67 42 67 0 67 7 67-7 66-2 67 9 67 1" stroke="#7432ff" stroke-opacity="0.79"/>
<path d="M110 1024l67 4 67 2 67-28 67-10 67 12 66-3 67-1 67 47 67-3 67 0 67-3 66-2 67 6 67 0M110 999l67 2 67 1 67-27 67-1 67 7 66-5 67 5 67 52 67 3 67-7 67 3 66-5 67 8 67-6M110 1024l67-6 67 5 67-28 67-5 67 14 66-5 67-1 67 37 67-4 67-1 67 2 66-11 67 15 67-2M110 1028l67-4 67-1 67-32 67 1 67 11 66 6 67-4 67 36 67 2 67 0 67 1 66-3 67 0 67 6M110 1005l67 1 67 3 67-34 67 4 67 1 66 5 67-7 67 56 67-4 67 1 67 5 66-5 67 4 67-4M110 1025l67-1 67 2 67-34 67 6 67 10 66-7 67 3 67 27 67 4 67 1 67-1 66-1 67 2 67-5M110 1021l67-2 67 6 67-46 67-2 67 3 66-1 67-2 67 58 67-7 67 4 67 4 66-4 67 3 67-1M110 1005l67 0 67 0 67-34 67 5 67 4 66 6 67-5 67 54 67 1 67-3 67-5 66 1 67 7 67-3M110 1017l67 1 67 12 67-32 67-10 67 19 66-5 67 1 67 30 67 2 67-5 67 5 66-3 67-1 67 3M110 1007l67-3 67-4 67-26 67 2 67 10 66-1 67-2 67 51 67 2 67-6 67 6 66-4 67-2 67 4M110 1021l67 12 67-6 67-34 67-3 67 9 66-3 67 2 67 43 67 0 67 1 67 1 66-4 67 2 67 5M110 1030l67-3 67-1 67-33 67 1 67 2 66 5 67-2 67 35 67 0 67-5 67 6 66-6 67 5 67 0M110 1027l67-7 67 10 67-30 67-7 67 19 66-11 67-2 67 42 67 0 67 2 67-1 66-2 67 3 67-1" stroke="#9b32ff" stroke-opacity="0.81"/>
<path d="M110 1000l67 5 67 8 67-34 67-7 67 8 66 3 67 1 67 47 67 5 67 0 67-1 66-4 67 6 67-10M110 1024l67 7 67-6 67-31 67 4 67 1 66-1 67 4 67 32 67 1 67 1 67-11 66 7 67 0 67-5M110 1024l67-7 67 8 67-28 67-6 67 10 66 9 67-11 67 43 67 2 67-1 67-1 66-3 67 3 67 2M110 1004l67 1 67 7 67-35 67-1 67 8 66-1 67 0 67 47 67 5 67-2 67 3 66-5 67 2 67-1M110 1027l67 1 67-4 67-23 67-9 67 6 66 4 67-3 67 41 67 1 67 1 67 1 66-5 67 7 67-3M110 1008l67 0 67 5 67-38 67 3 67 7 66 0 67-6 67 55 67 2 67 0 67-1 66-4 67 3 67-1M110 1006l67 1 67 0 67-27 67 0 67 3 66 4 67-7 67 53 67 3 67-2 67 1 66-8 67 7 67 0M110 1006l67-1 67 6 67-35 67 1 67 6 66-3 67 0 67 55 67 1 67 1 67-1 66-4 67 3 67 0" stroke="#c332ff" stroke-opacity="0.83"/>
<path d="M110 1007l67 2 67 0 67-32 67-3 67 8 66 4 67-5 67 49 67 3 67 2 67 1 66-7 67 7 67-3M110 1008l67-5 67 3 67-26 67-3 67 7 66-3 67-3 67 55 67 2 67 1 67-1 66-3 67 3 67-4M110 1007l67-5 67 6 67-31 67 2 67 3 66 3 67-3 67 52 67 0 67 1 67-6 66 2 67 5 67-3M110 1008l67-2 67 3 67-32 67 1 67 8 66-1 67-4 67 53 67 3 67-8 67 7 66-8 67 8 67-3M110 1027l67-3 67 8 67-44 67 3 67 12 66-3 67-1 67 42 67 3 67-3 67 0 66 6 67-6 67 5M110 1022l67-4 67 7 67-47 67-3 67 6 66-5 67 4 67 54 67 2 67-4 67-1 66 1 67 4 67-6M110 1023l67 0 67 1 67-26 67-8 67 8 66-2 67 4 67 40 67 1 67 4 67 2 66-5 67-2 67 3M110 1008l67-3 67 3 67-31 67 1 67 7 66-1 67-1 67 51 67 2 67 0 67 0 66-5 67 2 67 3M110 1008l67-3 67 9 67-39 67-1 67 11 66 0 67-4 67 46 67 10 67-1 67 0 66-6 67 6 67-3M110 1006l67-4 67 8 67-36 67 3 67 5 66 0 67-2 67 54 67 2 67-1 67 1 66-4 67 3 67-2M110 1007l67 0 67-5 67-25 67 1 67 8 66-2 67-5 67 55 67 2 67-7 67 7 66-11 67 1 67 5M110 1001l67 5 67-1 67-27 67-1 67 4 66 0 67-1 67 64 67-2 67-1 67 2 66-5 67 2 67 2" stroke="#ea32ff" stroke-opacity="0.85"/>
<path d="M110 1024l67-6 67 6 67-28 67-5 67 11 66 1 67-8 67 47 67 3 67-5 67 2 66-3 67 2 67 2M110 1021l67 9 67-5 67-34 67-3 67 13 66 0 67-5 67 46 67 2 67 1 67-3 66-4 67 3 67 4M110 1003l67 3 67 4 67-33 67-2 67 4 66 5 67-4 67 53 67 4 67-6 67-2 66 3 67-2 67 3M110 1023l67-3 67 10 67-36 67-3 67 5 66 1 67 7 67 37 67 0 67 0 67 2 66-6 67 10 67-3M110 1023l67-3 67 4 67-25 67-9 67 11 66-3 67-1 67 45 67-1 67 1 67 0 66-4 67 3 67 0M110 1019l67 3 67 0 67-29 67 1 67 6 66 0 67-4 67 46 67 1 67 5 67-6 66 0 67-1 67 2M110 1025l67 5 67-6 67-31 67 7 67 1 66-5 67 3 67 42 67 3 67-3 67 4 66-8 67 4 67 0M110 1008l67-2 67 4 67-32 67 2 67 6 66-1 67-5 67 54 67 2 67 0 67 0 66-5 67 5 67 0M110 1011l67-5 67 6 67-34 67-5 67 9 66-3 67 3 67 49 67 5 67-1 67 0 66-3 67 3 67-2M110 1020l67 0 67 7 67-33 67-8 67 18 66-6 67 1 67 34 67 3 67-1 67 1 66-4 67 4 67-2M110 1019l67 0 67 7 67-26 67-8 67 8 66-3 67 3 67 43 67-2 67 1 67-1 66-4 67 4 67 3M110 1022l67-3 67 4 67-29 67-5 67 9 66-1 67 3 67 40 67 9 67-8 67-1 66-1 67 2 67 2" stroke="#ff32ec" stroke-opacity="0.87"/>
<path d="M110 1007l67-5 67 8 67-30 67-4 67 11 66-2 67-4 67 53 67 1 67-1 67 2 66-4 67 3 67-1M110 1007l67-1 67 5 67-29 67-7 67 9 66-5 67 3 67 52 67 1 67-1 67 0 66-7 67 9 67 0M110 1007l67 1 67 2 67-31 67-1 67 3 66 5 67-9 67 64 67 0 67 2 67-2 66-3 67 4 67 5M110 1022l67-2 67 8 67-36 67-2 67 10 66-3 67 0 67 46 67 0 67-1 67-1 66-2 67 2 67 3M110 1008l67-1 67 1 67-31 67 1 67 7 66-4 67-1 67 54 67 1 67 2 67-1 66-3 67 3 67-2M110 1026l67-9 67 6 67-31 67 5 67 2 66-1 67-6 67 47 67 2 67 0 67 2 66-5 67 4 67 1M110 1008l67-5 67 4 67-27 67-8 67 17 66-6 67-5 67 57 67 2 67 0 67-1 66-5 67 5 67-1M110 1022l67-3 67 6 67-32 67-1 67 7 66-2 67-1 67 46 67 1 67 0 67 0 66-7 67 5 67 3M110 1022l67-6 67 9 67-34 67-2 67 5 66 5 67-1 67 42 67 1 67-1 67 1 66-3 67 3 67 2M110 1008l67-5 67 5 67-30 67 3 67 7 66-2 67-8 67 51 67 7 67 0 67 1 66-6 67 6 67-3M110 1021l67-2 67 7 67-33 67-4 67 15 66-1 67-8 67 45 67 2 67-1 67-1 66 0 67 1 67 2M110 1008l67-1 67 1 67-31 67-1 67 10 66-2 67 0 67 49 67 3 67-1 67 1 66-4 67 4 67-2M110 1020l67-1 67 5 67-28 67-7 67 6 66 4 67 2 67 42 67-2 67 1 67-1 66-4 67 4 67 2M110 1022l67-4 67 7 67-32 67 1 67 9 66-7 67 8 67 36 67 1 67 0 67-1 66-3 67 8 67 0M110 1018l67 0 67 6 67-35 67 3 67 7 66 0 67-1 67 43 67 2 67 1 67-3 66-3 67 4 67 1M110 1023l67-5 67 2 67-28 67-1 67 9 66-1 67-1 67 43 67 2 67-2 67 0 66-3 67 3 67 2M110 1021l67-4 67 8 67-35 67-2 67 15 66-4 67-4 67 46 67-2 67 2 67 1 66-3 67 2 67 1M110 1018l67 0 67 6 67-27 67-6 67 8 66 0 67 0 67 41 67 1 67 0 67 0 66-3 67 3 67 1M110 1026l67-10 67 9 67-35 67 2 67 5 66 5 67-5 67 42 67 5 67-4 67 1 66-2 67 2 67 3" stroke="#ff32c5" stroke-opacity="0.88"/>
<path d="M110 1019l67-1 67 4 67-31 67-1 67 10 66-2 67-1 67 43 67 2 67-1 67-1 66-2 67 3 67 0M110 1005l67 3 67 3 67-31 67-1 67 8 66-2 67 0 67 50 67 0 67 1 67 1 66-4 67 2 67 0M110 1008l67 0 67 0 67-32 67 3 67 4 66 1 67-1 67 52 67 0 67 2 67-4 66-1 67 2 67-1M110 1009l67-4 67 7 67-33 67 1 67 7 66-4 67 1 67 51 67 2 67-5 67 4 66-5 67 5 67-1M110 1017l67 0 67 9 67-30 67-8 67 9 66-2 67-1 67 48 67 0 67-1 67-1 66-1 67 2 67 1M110 1008l67-3 67 5 67-28 67-1 67 6 66 1 67-5 67 51 67 2 67 0 67 1 66-6 67 7 67-2M110 1010l67-5 67 6 67-34 67 1 67 8 66 2 67-6 67 53 67 1 67 1 67 0 66-5 67 5 67-2M110 1009l67-3 67 5 67-33 67 1 67 6 66 0 67-3 67 54 67-1 67 1 67 0 66-3 67 3 67-2M110 1027l67-11 67 9 67-29 67-7 67 8 66 0 67 0 67 42 67 1 67 3 67-3 66-2 67 4 67 0M110 1021l67-4 67 13 67-40 67-1 67 8 66 0 67 1 67 43 67 0 67 3 67-2 66-4 67 3 67 0M110 1009l67-3 67 5 67-31 67-1 67 7 66-1 67-5 67 55 67 1 67-1 67 0 66-3 67 5 67-1M110 1022l67-3 67 4 67-32 67-2 67 7 66 2 67 0 67 41 67 2 67 0 67 0 66-4 67 4 67-1M110 1021l67-4 67 9 67-36 67 0 67 9 66-2 67 1 67 43 67 0 67 1 67-2 66-2 67 5 67-1M110 1008l67-2 67 5 67-32 67 2 67 4 66-1 67-2 67 58 67 0 67-1 67 1 66-2 67 2 67 1M110 1006l67 0 67 4 67-19 67 1 67 6 66-1 67 5 67 37 67 2 67 1 67 0 66-1 67-1 67 2M110 1010l67-4 67 7 67-35 67 1 67 10 66-4 67-3 67 53 67 1 67 1 67-1 66-4 67 4 67 2M110 1008l67-5 67 9 67-32 67-2 67 7 66 3 67-4 67 51 67 1 67 0 67 1 66-5 67 5 67-2M110 1007l67-2 67 9 67-34 67-1 67 8 66-3 67-2 67 58 67 4 67-3 67 0 66-2 67 2 67 1M110 1007l67-1 67 7 67-33 67-7 67 15 66-3 67 0 67 49 67 3 67 0 67-1 66-3 67 3 67-1M110 1009l67 1 67 1 67-32 67-2 67 7 66 2 67-5 67 49 67 6 67 0 67 0 66-4 67 4 67-2M110 1025l67-9 67 7 67-32 67-3 67 9 66-2 67 2 67 44 67 1 67-2 67 0 66-2 67 3 67 2M110 1018l67 1 67 4 67-32 67 4 67 5 66-6 67 0 67 46 67 0 67 2 67-1 66-2 67 2 67 2M110 1008l67 0 67 3 67-31 67-1 67 5 66 3 67-6 67 59 67 2 67-2 67 1 66-5 67 4 67 0M110 1019l67 4 67 2 67-27 67-10 67 12 66-4 67-3 67 48 67-1 67 1 67 5 66-8 67 3 67 0M110 1008l67 2 67 0 67-27 67-4 67 9 66-2 67-8 67 56 67 2 67 0 67-1 66-2 67 3 67-3M110 1020l67-2 67 4 67-32 67 0 67 5 66 8 67-9 67 46 67 1 67 0 67 0 66-4 67 6 67-1M110 1009l67-3 67 6 67-31 67 0 67 3 66 1 67 1 67 50 67 0 67 2 67-7 66 1 67 4 67 0M110 1018l67-4 67 11 67-33 67-2 67 10 66-5 67 0 67 47 67-1 67-2 67-1 66-1 67 4 67 0M110 1018l67-4 67 6 67-31 67 4 67 14 66-14 67 4 67 38 67 3 67-1 67-1 66-3 67 4 67-2M110 1019l67-1 67 7 67-37 67 2 67 7 66-2 67 0 67 40 67 1 67 0 67 2 66-6 67 5 67-3M110 1021l67-9 67 9 67-32 67 3 67 7 66-2 67-2 67 45 67 2 67-3 67 1 66-2 67 2 67 2M110 1018l67 0 67 7 67-32 67-1 67 5 66 0 67 2 67 41 67 1 67-1 67 0 66-2 67 4 67 0M110 1020l67 0 67 4 67-30 67-5 67 12 66-4 67 1 67 42 67 0 67 2 67-1 66-3 67 2 67 2M110 1016l67-2 67 7 67-28 67-1 67 4 66-1 67-2 67 46 67 1 67 1 67-1 66-2 67 2 67 3M110 1018l67-4 67 9 67-34 67-1 67 8 66-1 67-1 67 47 67 1 67-1 67 0 66-3 67 3 67 0M110 1007l67-1 67 5 67-29 67-2 67 9 66-2 67-5 67 52 67 2 67 1 67-1 66-5 67 6 67-2M110 1007l67 1 67 4 67-31 67-1 67 7 66-2 67-1 67 57 67 0 67 0 67-1 66-2 67 2 67 1M110 1008l67-1 67 1 67-29 67 0 67 7 66 1 67-4 67 52 67 1 67 0 67-1 66-2 67 4 67-3M110 1008l67 0 67 5 67-31 67-2 67 3 66 0 67-3 67 54 67 2 67 0 67 0 66-4 67 4 67-1M110 1020l67-6 67 3 67-27 67-2 67 13 66-5 67-3 67 46 67 2 67-1 67 0 66-3 67 4 67 1M110 1019l67-2 67 5 67-34 67 0 67 11 66-5 67 0 67 47 67 0 67 0 67-1 66-3 67 3 67 1M110 1007l67 0 67 4 67-30 67 0 67 5 66 1 67-1 67 49 67 1 67 0 67 0 66-3 67 4 67-1M110 1010l67-2 67 5 67-34 67 3 67 5 66 3 67-10 67 56 67 1 67-1 67 1 66-4 67 4 67-2M110 1008l67 1 67 3 67-31 67-2 67 7 66 4 67-9 67 55 67 1 67 0 67-1 66-3 67 3 67-1M110 1016l67-1 67 6 67-31 67 3 67 4 66 0 67-1 67 43 67 0 67 3 67-2 66-3 67 4 67-1M110 1008l67 2 67 1 67-23 67 0 67 8 66-1 67-1 67 45 67 1 67 1 67-2 66 0 67 2 67-2M110 1008l67-2 67 6 67-34 67 1 67 6 66 1 67 0 67 48 67 4 67-3 67 1 66-3 67 1 67 1M110 1007l67-2 67 6 67-18 67-2 67 4 66-2 67 3 67 40 67 0 67 1 67 0 66-3 67 3 67 0M110 1007l67 1 67 7 67-34 67-1 67 10 66-3 67 0 67 46 67 4 67-1 67 1 66-3 67 3 67-2M110 1009l67-2 67 5 67-32 67-1 67 5 66 1 67-3 67 57 67 1 67 0 67 1 66-4 67 5 67-1M110 1023l67-5 67 0 67-27 67-3 67 5 66 2 67 0 67 45 67 1 67-1 67 0 66-2 67 3 67 1M110 1015l67 3 67 3 67-35 67 1 67 11 66 0 67-8 67 49 67 1 67-1 67 1 66-4 67 4 67 0M110 1008l67-3 67 8 67-34 67 0 67 6 66 4 67-3 67 50 67-1 67 1 67 1 66-4 67 4 67 0M110 1017l67 0 67 4 67-32 67-3 67 10 66 0 67 1 67 44 67-1 67 1 67-1 66-4 67 4 67 2M110 1009l67-7 67 12 67-31 67-1 67 7 66-1 67 2 67 50 67 1 67 0 67 0 66-4 67 3 67 0M110 1019l67-5 67 8 67-29 67-4 67 10 66-4 67 1 67 43 67 1 67 0 67-1 66-3 67 4 67 3M110 1009l67-3 67 9 67-33 67 0 67 5 66 1 67-4 67 51 67 2 67 0 67 0 66-3 67 2 67 0M110 1019l67-3 67 7 67-31 67-4 67 7 66 0 67 1 67 40 67 0 67 0 67 0 66-4 67 5 67-1M110 1017l67-2 67 6 67-31 67-4 67 9 66 1 67 0 67 39 67 1 67 2 67-2 66-2 67 3 67-1M110 1016l67-2 67 7 67-33 67 1 67 8 66 0 67-4 67 48 67-1 67 0 67 1 66-4 67 2 67 2M110 1009l67-4 67 5 67-28 67-1 67 7 66 0 67-5 67 51 67 3 67 0 67 1 66-5 67 4 67-2M110 1020l67-3 67 5 67-33 67-1 67 7 66 3 67-5 67 47 67 0 67-1 67 2 66-4 67 3 67 1M110 1011l67-5 67 6 67-29 67 1 67 2 66 1 67-3 67 52 67 1 67 1 67-2 66-2 67 4 67-1M110 1010l67-1 67 4 67-31 67-3 67 7 66 3 67-4 67 50 67 1 67 2 67 0 66-5 67 3 67-1M110 1016l67 1 67 5 67-34 67 0 67 10 66-3 67-2 67 48 67-2 67 1 67 1 66-3 67 1 67 2M110 1009l67-2 67 6 67-29 67-4 67 8 66-1 67-4 67 52 67 3 67-1 67 0 66-3 67 2 67 1M110 1013l67-7 67 5 67-30 67 1 67 7 66-6 67 1 67 52 67 1 67 0 67 0 66-4 67 3 67 1" stroke="#ff329e" stroke-opacity="0.90"/>
<path d="M110 1018l67 1 67 4 67-31 67-5 67 9 66-2 67 3 67 43 67 0 67 0 67 0 66-4 67 3 67 2M110 1010l67-3 67 8 67-32 67-2 67 9 66-1 67-5 67 51 67 1 67 1 67 0 66-3 67 3 67-1M110 1009l67 0 67 6 67-28 67-1 67 6 66 6 67-4 67 46 67 0 67 0 67-1 66-2 67 2 67 2M110 1018l67-4 67 9 67-31 67-1 67 4 66 0 67 0 67 40 67 2 67 0 67 1 66-6 67 6 67-2M110 1007l67 4 67-1 67-30 67 1 67 9 66-2 67-6 67 52 67 3 67-1 67 1 66-5 67 5 67 0M110 1012l67-3 67 4 67-33 67 2 67 5 66-3 67-2 67 53 67 1 67 2 67-1 66-5 67 5 67 1M110 1011l67-2 67 4 67-33 67-1 67 6 66 2 67-2 67 51 67 1 67 1 67-2 66-2 67 3 67 1M110 1020l67-3 67 4 67-34 67-1 67 10 66-1 67-1 67 44 67 3 67-3 67 3 66-4 67 3 67 2M110 1020l67-5 67 6 67-34 67-1 67 12 66-4 67 0 67 47 67 0 67-1 67 0 66-3 67 3 67 3M110 1011l67-1 67 4 67-29 67-2 67 5 66 2 67-2 67 47 67 2 67 1 67-1 66-3 67 3 67 0M110 1010l67-2 67 6 67-33 67-1 67 11 66-4 67-2 67 54 67 1 67-1 67 1 66-4 67 3 67 1M110 1008l67-1 67 7 67-35 67 2 67 7 66 0 67-5 67 53 67 1 67 0 67 1 66-5 67 5 67-2M110 1018l67-1 67 3 67-29 67 0 67 6 66-3 67 1 67 44 67 0 67 2 67-2 66-3 67 5 67 1M110 1011l67 0 67 1 67-30 67-3 67 8 66 2 67-2 67 49 67 1 67 0 67 1 66-5 67 4 67-1M110 1019l67-3 67 7 67-32 67-3 67 8 66-3 67-1 67 47 67 0 67 2 67 0 66-5 67 4 67 1M110 1018l67-2 67 3 67-37 67-2 67 6 66 1 67-5 67 53 67 2 67 0 67 0 66-3 67 4 67-1M110 1009l67 1 67 4 67-28 67-5 67 5 66 3 67-4 67 55 67 0 67 1 67-2 66-2 67 1 67 2M110 1007l67 1 67 6 67-32 67-4 67 9 66 2 67-3 67 49 67 1 67 2 67 1 66-6 67 5 67-2M110 1015l67 2 67 4 67-30 67-4 67 10 66-1 67 0 67 43 67 2 67-2 67 1 66-4 67 3 67 2M110 1014l67 2 67 4 67-40 67 0 67 5 66 3 67-4 67 55 67 1 67-1 67 0 66-1 67 1 67 3M110 1010l67-2 67 4 67-30 67-2 67 7 66-1 67 0 67 49 67 1 67 2 67-1 66-5 67 6 67-2M110 1016l67 0 67 3 67-32 67 0 67 10 66-5 67-1 67 46 67-1 67 1 67 0 66-5 67 5 67-1M110 1017l67-3 67 6 67-30 67-6 67 14 66-5 67-1 67 47 67 1 67-1 67 1 66-2 67 2 67 2M110 1007l67 1 67 3 67-32 67 4 67 7 66-3 67-2 67 52 67 1 67-1 67 1 66-5 67 4 67 0M110 1016l67-2 67 6 67-30 67-1 67 8 66-4 67-3 67 48 67 2 67-1 67 0 66-3 67 4 67 0M110 1012l67-6 67 6 67-27 67-6 67 8 66 2 67-1 67 47 67 2 67-1 67 1 66-3 67 3 67-1M110 1013l67-6 67 5 67-27 67-2 67 9 66-4 67 0 67 46 67 4 67-1 67-1 66-3 67 5 67 0M110 1019l67-6 67 6 67-31 67-1 67 9 66 0 67-2 67 45 67 1 67 0 67 1 66-5 67 4 67 1M110 1012l67-3 67 8 67-36 67 2 67 5 66-1 67-2 67 50 67 2 67 1 67-1 66-3 67 4 67-1M110 1018l67-4 67 3 67-33 67 3 67 9 66-4 67 0 67 47 67 0 67 1 67-1 66-3 67 4 67 1M110 1011l67-1 67 4 67-30 67-4 67 5 66 3 67-5 67 53 67 2 67-1 67 0 66-4 67 4 67 0M110 1016l67 0 67 2 67-30 67 1 67 7 66-4 67 0 67 46 67 1 67 0 67 0 66-3 67 4 67 0M110 1011l67-2 67 7 67-27 67-3 67 7 66 0 67-3 67 48 67 1 67 1 67 0 66-4 67 3 67 0M110 1012l67-5 67 8 67-34 67 4 67 6 66-4 67-1 67 50 67 1 67 0 67 0 66-2 67 3 67-1M110 1014l67-1 67 6 67-29 67-1 67 4 66 1 67-2 67 47 67 1 67 0 67 0 66-3 67 3 67 0M110 1012l67-1 67 4 67-29 67-5 67 6 66 2 67 0 67 47 67 1 67 0 67 0 66-4 67 3 67 1M110 1010l67 0 67 3 67-29 67-1 67 5 66 1 67-2 67 49 67 1 67 0 67 0 66-3 67 5 67-3M110 1017l67-3 67 6 67-32 67-2 67 7 66 1 67-3 67 48 67-1 67 1 67 1 66-3 67 3 67 1M110 1010l67 1 67 3 67-26 67-1 67 9 66-4 67-1 67 46 67-1 67 1 67 1 66-4 67 3 67 2M110 1015l67 1 67 4 67-33 67 2 67 4 66-4 67 5 67 44 67 2 67-1 67 0 66-2 67 2 67 1M110 1012l67-5 67 6 67-31 67 0 67 6 66 3 67-6 67 50 67 3 67-2 67 1 66-3 67 3 67-1M110 1014l67-5 67 4 67-30 67-1 67 7 66 1 67-3 67 50 67 1 67 0 67-1 66-3 67 4 67 0M110 1013l67-3 67 5 67-30 67-5 67 10 66 2 67-6 67 52 67 2 67 0 67 0 66-3 67 2 67 1M110 1016l67 1 67 3 67-31 67 0 67 4 66 0 67-3 67 48 67 2 67-1 67 1 66-4 67 3 67 1M110 1016l67-3 67 9 67-36 67 2 67 7 66-4 67 0 67 47 67 2 67 0 67-1 66-4 67 3 67 2M110 1017l67-3 67 5 67-30 67 0 67 6 66-3 67-1 67 48 67 1 67-1 67 1 66-4 67 3 67 0M110 1018l67-3 67 4 67-31 67 1 67 5 66-4 67 5 67 44 67 0 67 1 67 0 66-4 67 4 67 1M110 1017l67-3 67 9 67-34 67-3 67 8 66-1 67-3 67 46 67 2 67-1 67 0 66-2 67 3 67-2M110 1010l67-1 67 5 67-26 67-1 67 8 66-3 67 1 67 44 67 2 67 1 67-1 66-3 67 4 67 1M110 1017l67-2 67 3 67-27 67-5 67 10 66-4 67-3 67 49 67 1 67 1 67 0 66-4 67 3 67 0M110 1017l67-4 67 4 67-28 67-1 67 6 66-1 67-3 67 49 67-1 67 1 67 0 66-4 67 4 67 1M110 1011l67 0 67 5 67-33 67 4 67 4 66 0 67-3 67 49 67 1 67-1 67 0 66-2 67 2 67-1M110 1009l67 1 67 4 67-30 67-2 67 7 66 0 67-2 67 51 67-1 67 1 67 0 66-4 67 4 67-1M110 1012l67-3 67 5 67-29 67 2 67 7 66-2 67-1 67 48 67 1 67 0 67-1 66-4 67 5 67-2M110 1016l67-2 67 3 67-30 67 0 67 8 66 0 67-3 67 46 67 2 67-1 67 0 66-2 67 2 67 1M110 1012l67-5 67 8 67-33 67 5 67 3 66-1 67-2 67 51 67 1 67 0 67 1 66-4 67 4 67 0M110 1011l67-3 67 6 67-28 67-4 67 9 66-1 67-4 67 51 67 0 67 0 67 0 66-3 67 5 67-1M110 1015l67 0 67 5 67-31 67-3 67 8 66-1 67-4 67 50 67 0 67 0 67 0 66-2 67 2 67 2M110 1013l67-1 67 4 67-32 67-3 67 11 66-2 67-5 67 51 67 0 67 2 67-1 66-3 67 5 67-3M110 1016l67 0 67 4 67-35 67-1 67 10 66 0 67-1 67 42 67 2 67 1 67 1 66-4 67 2 67 0M110 1017l67-1 67 3 67-31 67 2 67 6 66-5 67 0 67 47 67 1 67-1 67 2 66-5 67 4 67 0M110 1011l67-1 67 2 67-30 67 1 67 5 66 2 67-3 67 50 67 0 67 0 67 1 66-3 67 2 67 1M110 1013l67-3 67 1 67-27 67 0 67 6 66-1 67 0 67 47 67 2 67 0 67 2 66-6 67 4 67 1M110 1013l67-4 67 8 67-33 67 2 67 5 66-1 67 2 67 46 67 0 67-1 67 2 66-4 67 4 67-2M110 1012l67-2 67 6 67-30 67-4 67 9 66 0 67-5 67 51 67 1 67 0 67 0 66-4 67 5 67 0M110 1011l67-1 67 11 67-36 67-2 67 8 66-5 67 4 67 47 67 0 67 2 67-2 66-4 67 5 67 0M110 1011l67 0 67 4 67-28 67-1 67 11 66-4 67-1 67 47 67 0 67 1 67-1 66-3 67 2 67 2M110 1011l67 0 67 6 67-35 67 3 67 3 66 1 67-2 67 49 67 3 67-1 67 0 66-3 67 2 67 1M110 1013l67-1 67 4 67-34 67 2 67 5 66-1 67-2 67 50 67 1 67 0 67 1 66-4 67 3 67 0M110 1016l67-1 67 4 67-33 67 1 67 5 66-1 67 0 67 48 67 0 67 0 67 1 66-4 67 3 67 1M110 1014l67-2 67 0 67-29 67 1 67 6 66 0 67-3 67 49 67 2 67 0 67 0 66-4 67 4 67-1M110 1016l67-2 67 2 67-30 67-2 67 12 66-1 67-3 67 47 67-1 67 1 67 0 66-3 67 3 67 1M110 1015l67-3 67 5 67-33 67-1 67 8 66-3 67-1 67 51 67 0 67 1 67 0 66-4 67 4 67 0M110 1016l67-2 67 4 67-31 67-1 67 8 66-4 67 0 67 48 67 1 67 0 67 0 66-4 67 4 67 0M110 1016l67-3 67 3 67-33 67 0 67 10 66 0 67-3 67 48 67 1 67 0 67 0 66-4 67 4 67 0M110 1016l67-3 67 6 67-34 67-1 67 8 66-2 67 2 67 45 67 1 67 0 67 2 66-4 67 3 67 1M110 1015l67-1 67 2 67-32 67 0 67 9 66 3 67-4 67 45 67-1 67 1 67 1 66-4 67 4 67 0M110 1015l67-2 67 5 67-29 67-4 67 8 66 1 67-7 67 50 67 1 67 1 67 0 66-4 67 5 67 1M110 1016l67-1 67 0 67-30 67-1 67 6 66-1 67 2 67 47 67 1 67-1 67-1 66-3 67 5 67 0M110 1014l67 0 67 1 67-28 67-5 67 9 66-2 67-2 67 50 67 2 67 0 67-1 66-4 67 4 67 0M110 1015l67-1 67 5 67-33 67-1 67 6 66 1 67 0 67 46 67 0 67 1 67 0 66-3 67 3 67 1M110 1017l67-4 67 4 67-31 67 0 67 9 66-1 67-6 67 51 67 0 67 0 67-1 66-2 67 2 67 2M110 1015l67-1 67 4 67-32 67-2 67 11 66-4 67 0 67 47 67 1 67 0 67 0 66-2 67 3 67 0M110 1015l67-1 67 5 67-35 67-1 67 11 66-3 67-3 67 48 67 0 67 2 67 0 66-3 67 3 67 1M110 1013l67 1 67 2 67-29 67 0 67 5 66 0 67 2 67 44 67 1 67 0 67 0 66-4 67 4 67-2M110 1015l67-3 67 7 67-32 67-4 67 10 66-1 67 0 67 47 67 0 67 0 67-1 66-3 67 3 67 2M110 1014l67-2 67 6 67-32 67 1 67 2 66 0 67 1 67 47 67 2 67-1 67 1 66-3 67 4 67 0M110 1017l67-5 67 6 67-31 67-1 67 4 66 2 67-2 67 48 67 1 67-2 67 2 66-4 67 4 67 0M110 1014l67-3 67 7 67-34 67 2 67 6 66-2 67-3 67 52 67 0 67 0 67-1 66-3 67 3 67 2M110 1015l67-2 67 1 67-27 67-2 67 6 66-2 67 0 67 47 67 3 67-1 67 1 66-4 67 3 67 0M110 1015l67-3 67 5 67-32 67 2 67 9 66-7 67 0 67 49 67 1 67-1 67 0 66-3 67 4 67-1M110 1016l67-4 67 6 67-31 67-1 67 8 66-2 67 1 67 45 67 1 67 0 67-1 66-1 67 2 67 2M110 1013l67 0 67 3 67-30 67-2 67 8 66-1 67-4 67 51 67 1 67-1 67 0 66-3 67 3 67 2M110 1015l67-4 67 7 67-31 67-5 67 9 66 2 67-5 67 49 67 2 67-1 67 0 66-4 67 5 67-1M110 1014l67-2 67 7 67-34 67-3 67 10 66-3 67 4 67 44 67 1 67 0 67 0 66-4 67 4 67 1M110 1018l67-9 67 10 67-32 67-3 67 6 66 2 67-3 67 50 67 0 67-1 67 2 66-3 67 3 67-1M110 1014l67-3 67 6 67-31 67-3 67 10 66 0 67-3 67 48 67 0 67 1 67-1 66-1 67 1 67 0M110 1013l67-1 67 6 67-31 67-3 67 6 66 2 67-2 67 46 67 3 67 0 67 0 66-5 67 4 67 1M110 1014l67-1 67 6 67-37 67 5 67 4 66 1 67-5 67 50 67 1 67 1 67 0 66-4 67 4 67 0M110 1012l67-2 67 5 67-30 67-1 67 9 66 0 67-1 67 45 67 1 67 1 67-1 66-2 67 3 67-1M110 1015l67-1 67 2 67-33 67 4 67 5 66-2 67 1 67 48 67 0 67 0 67-1 66-2 67 3 67 0M110 1014l67-2 67 4 67-32 67 1 67 8 66 0 67-4 67 49 67 1 67 0 67-1 66-3 67 4 67 0M110 1015l67-3 67 4 67-31 67 1 67 5 66 1 67-5 67 50 67 2 67-1 67 0 66-3 67 3 67 0M110 1016l67-5 67 5 67-30 67-2 67 8 66 1 67-3 67 48 67 2 67-1 67 0 66-4 67 3 67 2M110 1012l67 0 67 5 67-32 67 0 67 9 66-2 67-3 67 48 67 1 67 0 67 0 66-3 67 4 67 0M110 1016l67-4 67 5 67-32 67 1 67 5 66 1 67 1 67 45 67 0 67 0 67 1 66-5 67 4 67 0M110 1015l67-4 67 8 67-35 67 2 67 3 66 3 67 1 67 46 67-1 67-1 67 2 66-3 67 3 67 0M110 1013l67-1 67 5 67-30 67-2 67 6 66 0 67-2 67 49 67 1 67 1 67-1 66-4 67 4 67-1M110 1014l67-2 67 3 67-28 67-3 67 8 66-2 67 2 67 44 67 4 67-2 67 0 66-3 67 4 67-1" stroke="#ff3276" stroke-opacity="0.92"/>
</g>
<path d="M70.9 939.5 V1073.0 H1086.0" fill="none" stroke="#3a3a3a" stroke-width="1.8"/>
<path d="M70.0 971.7h-2.5M70.0 1017.3h-2.5M70.0 1062.2h-2.5M110.5 1073.9v3.5M177.3 1073.9v3.5M244.2 1073.9v3.5M311.0 1073.9v3.5M377.8 1073.9v3.5M444.6 1073.9v3.5M511.5 1073.9v3.5M578.3 1073.9v3.5M645.1 1073.9v3.5M712.0 1073.9v3.5M778.8 1073.9v3.5M845.6 1073.9v3.5M912.5 1073.9v3.5M979.3 1073.9v3.5M1046.1 1073.9v3.5" stroke="#3a3a3a" stroke-width="1.2" fill="none"/>
<text x="1076.9" y="960.2" font-size="19.0" style="font-family:'Liberation Serif',serif;font-weight:normal" text-anchor="start" fill="#000" >Membership</text>
<defs><linearGradient id="g2" x1="0" y1="0" x2="0" y2="1"><stop offset="0.00" stop-color="#ff3276"/><stop offset="0.10" stop-color="#ff32d1"/><stop offset="0.20" stop-color="#d232ff"/><stop offset="0.30" stop-color="#7832ff"/><stop offset="0.40" stop-color="#3247ff"/><stop offset="0.50" stop-color="#32a1ff"/><stop offset="0.60" stop-color="#32fbff"/><stop offset="0.70" stop-color="#32ffa8"/><stop offset="0.80" stop-color="#32ff4e"/><stop offset="0.90" stop-color="#71ff32"/><stop offset="1.00" stop-color="#ccff32"/></linearGradient></defs>
<rect x="1104.0" y="966.4" width="18.0" height="88.6" fill="url(#g2)" opacity="0.85"/>
<text x="1126.6" y="980.0" font-size="11.0" style="font-family:'Liberation Sans',sans-serif;font-weight:normal" text-anchor="start" fill="#333" >0.8</text>
<text x="1126.6" y="1007.6" font-size="11.0" style="font-family:'Liberation Sans',sans-serif;font-weight:normal" text-anchor="start" fill="#333" >0.6</text>
<text x="1126.6" y="1036.3" font-size="11.0" style="font-family:'Liberation Sans',sans-serif;font-weight:normal" text-anchor="start" fill="#333" >0.4</text>
<text x="78.8" y="1134.5" font-size="36.8" style="font-family:'Liberation Serif',serif;font-weight:bold" text-anchor="start" fill="#000" >Sub-cluster 4</text>
<text x="0" y="0" font-size="30.70" style="font-family:'Liberation Serif',serif;font-weight:bold" transform="translate(34.7 1289.2) rotate(-90)">Protein Ratio</text>
<text x="71.0" y="1197.0" font-size="31.0" style="font-family:'Liberation Serif',serif;font-weight:bold" text-anchor="end" fill="#000" >2</text>
<text x="71.0" y="1233.9" font-size="31.0" style="font-family:'Liberation Serif',serif;font-weight:bold" text-anchor="end" fill="#000" >0</text>
<text x="71.0" y="1274.0" font-size="31.0" style="font-family:'Liberation Serif',serif;font-weight:bold" text-anchor="end" fill="#000" >-2</text>
<g class="l">
<path d="M119 1214l67-11 67 9 66 7 67 1 67-4 67-1 67-6 67 37 66-23 67 7 67-2 67 10 67-10 67 0M119 1262l67-11 67 14 66-4 67 0 67-2 67-1 67 0 67-34 66 2 67-2 67-9 67 20 67-5 67 1" stroke="#a4ff32" stroke-opacity="0.52"/>
<path d="M119 1262l67-12 67 19 66-54 67-3 67-3 67 14 67-7 67 29 66-17 67-27 67 28 67 3 67-6 67 9M119 1261l67-6 67 13 66-6 67 1 67-3 67 0 67-1 67-17 66-15 67 1 67-8 67 11 67-3 67-24M119 1215l67-6 67 5 66 8 67-5 67-2 67 0 67-5 67-36 66-6 67 4 67-4 67 12 67-15 67 4M119 1216l67-14 67 13 66 4 67-8 67-3 67 6 67-4 67-33 66-9 67 4 67-1 67 11 67-9 67-4M119 1257l67-7 67 14 66-2 67-1 67-2 67 0 67-2 67-16 66-17 67-3 67 3 67 7 67-6 67 10" stroke="#7dff32" stroke-opacity="0.54"/>
<path d="M119 1264l67-12 67 18 66-7 67 0 67-2 67-2 67 0 67-17 66-14 67 0 67-10 67 20 67-13 67 8M119 1214l67-4 67 7 66 6 67-11 67-5 67 17 67-9 67-39 66-12 67 8 67-5 67 13 67-18 67 6M119 1256l67-4 67 16 66-55 67-1 67 2 67 4 67 3 67 18 66-12 67 2 67-8 67 19 67-10 67 4M119 1217l67-10 67 8 66 8 67-10 67-5 67 9 67 7 67-49 66 7 67-11 67 4 67 5 67-11 67 0M119 1259l67-7 67 14 66-5 67 0 67-1 67-3 67 1 67-16 66-17 67-5 67-2 67 12 67-4 67 17M119 1260l67-14 67 20 66-5 67-1 67 1 67-4 67 0 67-13 66-17 67-21 67 11 67 17 67-9 67-27M119 1256l67-6 67 16 66-43 67-2 67-2 67 5 67 10 67 7 66-15 67-4 67 3 67 8 67-19 67 9M119 1216l67-9 67 11 66 4 67-1 67 4 67-2 67-7 67 21 66-12 67-1 67-5 67 12 67-7 67-2" stroke="#56ff32" stroke-opacity="0.55"/>
<path d="M119 1262l67-11 67 15 66-46 67-9 67 5 67 6 67-12 67 38 66-19 67-4 67-8 67 22 67-15 67 17M119 1258l67-8 67 16 66-50 67-1 67-1 67 7 67-12 67-27 66 3 67-18 67 2 67 11 67-16 67 3M119 1215l67-13 67 16 66-2 67 4 67-16 67 35 67-33 67 39 66-17 67 0 67-8 67 11 67-1 67 5M119 1262l67-19 67 22 66-1 67-3 67 0 67-2 67-1 67-15 66-16 67 1 67-6 67 16 67-9 67-6M119 1216l67-6 67 8 66 17 67-22 67 1 67 6 67-9 67-38 66-5 67 7 67-1 67 8 67-9 67-3M119 1216l67-6 67 8 66-4 67 5 67 0 67-1 67 0 67-31 66-18 67 9 67-6 67 10 67-11 67-3M119 1257l67-6 67 13 66-41 67-4 67 2 67 1 67-6 67 28 66-19 67-23 67 14 67 21 67-12 67 12M119 1259l67-9 67 14 66-3 67-1 67-1 67-2 67 0 67-15 66-16 67-6 67-1 67 11 67-6 67 3M119 1215l67-5 67 15 66-4 67 0 67 1 67-1 67 3 67-41 66-17 67 6 67-4 67 23 67-28 67 6" stroke="#32ff36" stroke-opacity="0.57"/>
<path d="M119 1263l67-11 67 14 66-42 67-12 67 20 67-18 67 3 67 30 66-19 67-1 67-27 67 37 67-21 67 8M119 1216l67-10 67 5 66 6 67-5 67 1 67 11 67-4 67 20 66-13 67-5 67-4 67 18 67-7 67-4M119 1215l67-4 67 4 66 7 67-8 67-1 67 1 67 6 67-45 66-8 67 11 67-8 67 12 67-9 67-4M119 1216l67 9 67-6 66 3 67-6 67 2 67 2 67-3 67 23 66-16 67 4 67-7 67 13 67-9 67 2M119 1217l67-9 67 13 66 12 67-16 67-4 67 7 67-1 67 21 66-16 67-4 67-1 67 11 67-3 67 1M119 1261l67-11 67 15 66-44 67 8 67-5 67-1 67-18 67-20 66-17 67 4 67-2 67 12 67-13 67 0M119 1257l67-6 67 17 66-42 67-12 67-5 67 9 67 0 67-42 66-7 67 13 67-1 67-1 67-10 67-1M119 1215l67-9 67 12 66 18 67-17 67-11 67 15 67 12 67 8 66-19 67-3 67 2 67 12 67-11 67-1M119 1259l67-19 67 24 66-2 67 0 67-3 67-2 67 0 67-18 66-13 67-1 67-5 67 2 67-6 67 13M119 1215l67-6 67 8 66 45 67-1 67-1 67-5 67 3 67-26 66-5 67-8 67-1 67 13 67-3 67-9" stroke="#32ff5d" stroke-opacity="0.59"/>
<path d="M119 1257l67-7 67 16 66-42 67-13 67 10 67-3 67-8 67-32 66-11 67 3 67 3 67 7 67 4 67-14M119 1215l67-8 67 22 66-16 67-1 67 10 67 1 67-3 67-36 66-17 67 5 67-1 67 11 67-18 67 6M119 1264l67-14 67 14 66-3 67 1 67-1 67-4 67 2 67-28 66-7 67-1 67-3 67 15 67-7 67 5M119 1215l67-5 67 6 66 8 67 11 67-11 67-2 67-9 67-32 66-13 67 2 67-4 67 16 67-10 67-3M119 1257l67-7 67 16 66-47 67 0 67-1 67 5 67-5 67 22 66-13 67-3 67-2 67 12 67-7 67 6M119 1263l67-13 67 12 66 0 67-12 67 11 67-3 67 0 67-18 66-16 67-1 67-3 67 15 67-8 67 5M119 1257l67-6 67 13 66-3 67 1 67-3 67-2 67 0 67-15 66-17 67-2 67-10 67 20 67-17 67 11M119 1259l67-8 67 13 66-2 67-1 67-2 67-2 67 0 67-35 66 2 67-5 67 0 67 15 67-9 67-1M119 1258l67-8 67 16 66-43 67-2 67 12 67-10 67-5 67-36 66-14 67 4 67-5 67 14 67-13 67 2" stroke="#32ff85" stroke-opacity="0.61"/>
<path d="M119 1258l67-8 67 19 66-8 67 2 67-2 67-2 67-2 67-9 66-20 67-8 67-2 67 15 67-3 67-8M119 1214l67-10 67 15 66-1 67 7 67-16 67 7 67 2 67-44 66-9 67 4 67 5 67 8 67-10 67-4M119 1257l67-14 67 25 66-49 67-2 67-11 67 14 67-7 67-34 66-11 67 3 67 4 67 6 67-12 67 1M119 1257l67-14 67 15 66-37 67-11 67-1 67 7 67 1 67 27 66-19 67-5 67-2 67 15 67-8 67-12M119 1215l67-6 67 11 66-5 67 4 67 0 67-5 67 4 67-35 66-15 67 3 67-2 67 12 67-11 67-1M119 1258l67-9 67 21 66-46 67-6 67-1 67 7 67-11 67-21 66-23 67 3 67 1 67 12 67-12 67-3M119 1257l67-7 67 16 66-44 67-5 67-5 67 6 67 1 67 20 66-16 67-4 67-1 67 13 67-3 67-12M119 1217l67-16 67 24 66-1 67-3 67-8 67 8 67-1 67-46 66-5 67 2 67 2 67 8 67-16 67 4M119 1216l67-6 67 10 66 1 67-7 67 9 67 2 67-6 67-32 66-18 67 6 67-2 67 9 67-11 67-1" stroke="#32ffac" stroke-opacity="0.63"/>
<path d="M119 1262l67-10 67 16 66-8 67-1 67 0 67 0 67-2 67-11 66-22 67 5 67-1 67 11 67-10 67-9M119 1257l67-7 67 16 66-41 67-10 67 7 67-2 67-9 67-26 66-19 67 5 67 1 67 11 67-14 67-1M119 1258l67-8 67 14 66-43 67-3 67-2 67 4 67-4 67 26 66-19 67-1 67-4 67 15 67-5 67 2M119 1215l67-5 67 5 66 7 67-2 67-6 67 6 67 5 67 21 66-22 67-2 67-6 67 18 67-9 67 0" stroke="#32ffd3" stroke-opacity="0.65"/>
<path d="M119 1257l67-6 67 17 66-7 67 1 67-2 67-4 67 2 67-17 66-16 67-3 67-6 67 14 67-4 67 1M119 1260l67-10 67 16 66-5 67 0 67-2 67-1 67-1 67-13 66-21 67 2 67-8 67 14 67-5 67-2" stroke="#32fffa" stroke-opacity="0.66"/>
<path d="M119 1262l67-11 67 17 66-48 67 7 67-19 67 15 67-12 67-33 66-12 67 5 67 0 67 10 67-14 67 9M119 1216l67-1 67 4 66-1 67 1 67 1 67 4 67-7 67 15 66-6 67-6 67-3 67 13 67-5 67 3" stroke="#32dcff" stroke-opacity="0.68"/>
<path d="M119 1217l67-7 67 9 66 6 67-7 67 4 67-1 67-1 67-37 66-14 67 3 67 12 67-2 67-3 67-9" stroke="#32ff5d" stroke-opacity="0.59"/>
<path d="M119 1217l67-9 67 16 66 0 67-4 67 1 67 5 67-9 67 24 66-16 67-11 67 4 67 4 67 7 67-5" stroke="#32ff85" stroke-opacity="0.61"/>
<path d="M119 1216l67-6 67 6 66 6 67-1 67-6 67 10 67-5 67-34 66-17 67 2 67 0 67 11 67-8 67-5M119 1256l67-6 67 15 66-4 67 0 67-2 67-2 67 0 67-15 66-18 67-2 67-4 67 13 67-11 67 4M119 1217l67-7 67 11 66 0 67-1 67 4 67 0 67-10 67-29 66-17 67 8 67 0 67 6 67-5 67-8M119 1245l67 5 67 12 66-1 67-3 67 1 67-5 67 2 67-17 66-18 67 1 67-5 67 16 67-7 67 1M119 1220l67-8 67 9 66-1 67 8 67-4 67 0 67-3 67 19 66-16 67-9 67 3 67 9 67-3 67-1M119 1256l67-13 67 21 66-40 67 0 67 11 67-12 67 1 67-36 66-10 67-4 67-2 67 10 67-9 67-2" stroke="#32ffac" stroke-opacity="0.63"/>
<path d="M119 1219l67-12 67 14 66-1 67 7 67 0 67-4 67-4 67-25 66-25 67 2 67 2 67 9 67-14 67 1M119 1259l67-9 67 14 66-40 67-8 67 16 67-9 67-3 67-15 66-19 67-14 67 2 67 10 67-2 67-12M119 1230l67-22 67 12 66 0 67-1 67 6 67-2 67-8 67 27 66-17 67-3 67-8 67 12 67 0 67 10M119 1219l67-9 67 7 66 7 67-3 67 3 67-2 67 3 67-40 66-18 67 6 67 10 67-1 67-11 67 11M119 1228l67-13 67 6 66 3 67-5 67 3 67 9 67-12 67 17 66-13 67-4 67-1 67 15 67-9 67-10" stroke="#32ffd3" stroke-opacity="0.65"/>
<path d="M119 1258l67-7 67 13 66-40 67-4 67-2 67 13 67-26 67 25 66-7 67-2 67-3 67 12 67-6 67-16M119 1256l67-5 67 10 66-37 67-3 67-14 67 11 67 0 67-35 66-16 67 4 67 0 67 15 67-16 67 0M119 1217l67-7 67 8 66 4 67 6 67-6 67 2 67-4 67-26 66-26 67 4 67 1 67 9 67-10 67-4M119 1217l67-12 67 17 66 0 67-4 67 7 67-4 67-2 67-43 66-7 67 3 67-1 67 9 67-10 67-1M119 1256l67-6 67 14 66-3 67-2 67 0 67-2 67 0 67-17 66-16 67-3 67-5 67 14 67-8 67 0M119 1251l67-1 67 15 66-4 67 0 67-8 67 2 67 1 67-71 66-15 67 2 67 0 67 10 67-11 67 6M119 1253l67-3 67 13 66-2 67-3 67 1 67-2 67 0 67-24 66-10 67-7 67 2 67 13 67-6 67-3M119 1220l67-9 67 10 66 13 67-8 67-3 67 7 67-9 67-37 66-15 67 3 67 2 67 8 67-9 67-4M119 1217l67-8 67 14 66 5 67-6 67 5 67 6 67-8 67-43 66-13 67 3 67 2 67 8 67-8 67-4M119 1251l67-1 67 14 66-8 67 0 67-5 67 4 67 1 67-23 66-10 67-6 67-10 67 18 67 0 67-3" stroke="#32fffa" stroke-opacity="0.66"/>
<path d="M119 1254l67-4 67 13 66-38 67-5 67 0 67 12 67-18 67 25 66-16 67-3 67-1 67 1 67 4 67 1M119 1258l67-8 67 14 66-42 67-2 67 2 67 8 67-11 67-35 66-15 67 3 67 1 67 9 67-5 67-7M119 1222l67-12 67 11 66 40 67 0 67-2 67-2 67 0 67-18 66-15 67-4 67-4 67 14 67-6 67-1M119 1256l67-6 67 14 66-3 67 0 67-2 67-2 67 0 67-17 66-17 67-4 67-3 67 6 67 2 67-1M119 1217l67-7 67 11 66 3 67-3 67 2 67 6 67-8 67 15 66-12 67-3 67-3 67 5 67 2 67-2M119 1220l67-10 67 11 66 3 67-3 67 3 67-1 67-1 67-38 66-16 67 7 67-1 67 11 67-14 67-1M119 1247l67-1 67 17 66-36 67-6 67 3 67 8 67 2 67 5 66-28 67 9 67-4 67 14 67-5 67-4" stroke="#32dcff" stroke-opacity="0.68"/>
<path d="M119 1243l67-2 67 26 66-6 67 0 67-6 67 2 67 0 67-55 66-27 67-4 67 1 67 18 67-19 67-2M119 1256l67-6 67 14 66-3 67 0 67-5 67 1 67 0 67-18 66-16 67-3 67 1 67 1 67-13 67 15M119 1217l67-9 67 12 66 1 67 0 67 0 67 0 67-3 67-34 66-15 67 3 67 5 67 5 67-9 67-3M119 1223l67-13 67 14 66-2 67-1 67 1 67 1 67-1 67-38 66-15 67 3 67 2 67 8 67-9 67-3M119 1217l67 3 67 2 66 39 67 0 67-3 67-1 67 0 67-23 66-11 67-3 67-3 67 10 67-2 67 1M119 1220l67-10 67 11 66 3 67-4 67 4 67-1 67-4 67 20 66-22 67 2 67-3 67 14 67-4 67-3M119 1258l67-8 67 14 66-43 67-1 67 3 67 2 67-5 67 20 66-17 67-2 67-4 67-6 67 1 67 13M119 1247l67 3 67 7 66-33 67-4 67 12 67-7 67-5 67-27 66-24 67 11 67-6 67 10 67-3 67-11M119 1256l67-6 67 14 66-11 67 4 67 2 67-2 67-1 67-27 66-13 67 3 67-5 67 17 67-12 67-1" stroke="#32b5ff" stroke-opacity="0.70"/>
<path d="M119 1215l67-5 67 10 66 2 67 0 67 3 67 13 67-10 67-34 66-25 67 3 67 2 67 7 67 1 67-12M119 1256l67-6 67 7 66-33 67-3 67 10 67-7 67-3 67 9 66-4 67-22 67 16 67 10 67-8 67 0M119 1257l67-7 67 14 66-42 67 10 67-13 67 4 67-8 67-30 66-14 67 4 67 7 67 0 67-10 67 1M119 1257l67-11 67 12 66-35 67-2 67 4 67-4 67-1 67-37 66-15 67 4 67 6 67 4 67-1 67-5M119 1254l67-3 67 13 66-36 67-9 67 2 67 3 67-3 67-32 66-21 67 4 67 10 67 0 67-5 67-7M119 1217l67-9 67 15 66 0 67-2 67 8 67-8 67-1 67-32 66-19 67 3 67 1 67 9 67-1 67-4M119 1217l67-7 67 10 66 2 67 4 67 1 67-3 67-4 67-36 66-15 67 2 67 6 67 5 67-11 67-1M119 1217l67-7 67 13 66 4 67-6 67 2 67-1 67-1 67 19 66-33 67 14 67-4 67 13 67-6 67-1M119 1257l67-7 67 14 66-3 67 0 67-7 67 2 67 1 67-17 66-17 67-3 67-10 67 20 67-12 67 3M119 1256l67-10 67 18 66-39 67 3 67 4 67-3 67-8 67 19 66-17 67-8 67-3 67 18 67-12 67 4" stroke="#328dff" stroke-opacity="0.72"/>
<path d="M119 1256l67-6 67 14 66-3 67 0 67-6 67 2 67 0 67-17 66-16 67-7 67 4 67 12 67-8 67-8M119 1217l67-5 67 13 66-2 67 11 67-8 67 0 67-5 67 21 66-30 67 7 67-2 67 15 67-8 67 2M119 1217l67-7 67 11 66 9 67-9 67 0 67 7 67-5 67 17 66-24 67-1 67-12 67 27 67-6 67-3M119 1225l67-16 67 16 66-4 67 0 67 4 67-2 67-4 67-34 66-10 67-3 67 9 67 1 67 1 67-13M119 1254l67-4 67 14 66-3 67-5 67 1 67 0 67 0 67-18 66-15 67-2 67-18 67 26 67-6 67-2" stroke="#3266ff" stroke-opacity="0.74"/>
<path d="M119 1254l67-4 67 14 66-38 67-7 67 11 67-6 67-3 67-32 66-19 67 7 67-3 67 8 67-8 67-4M119 1256l67-6 67 15 66-4 67 0 67-2 67-2 67 0 67-18 66-23 67 4 67-7 67 17 67-6 67-1M119 1258l67-13 67 19 66-36 67-8 67 7 67-4 67-2 67 17 66-15 67-5 67-7 67 19 67-6 67-1M119 1217l67-3 67 10 66 9 67-14 67 14 67-9 67-3 67 20 66-17 67-13 67 5 67 15 67-15 67 7M119 1256l67-6 67 14 66-39 67 4 67-1 67 8 67-4 67-48 66-15 67 2 67 3 67 8 67-2 67-10M119 1256l67-6 67 14 66-34 67 1 67-10 67 8 67-7 67 18 66-26 67-4 67 6 67 14 67-6 67-2" stroke="#323fff" stroke-opacity="0.76"/>
<path d="M119 1220l67 0 67 8 66-5 67 7 67 2 67-3 67-8 67-18 66-34 67 6 67-1 67 9 67-10 67 7" stroke="#32fffa" stroke-opacity="0.66"/>
<path d="M119 1254l67-4 67 10 66 1 67 0 67-7 67 3 67-1 67-26 66-16 67-9 67 11 67 14 67-6 67-1M119 1219l67-5 67 16 66-3 67 4 67-2 67-3 67 0 67-35 66-7 67-12 67 13 67-3 67-6 67-5" stroke="#32dcff" stroke-opacity="0.68"/>
<path d="M119 1217l67-6 67 11 66 39 67 0 67-4 67 0 67 0 67-18 66-16 67-3 67-3 67 13 67-12 67 5M119 1217l67-7 67 16 66-2 67-2 67 2 67-1 67 5 67 11 66-26 67 7 67-3 67 1 67 5 67-2M119 1253l67-3 67 10 66-36 67 4 67-4 67 0 67-2 67 18 66-17 67-5 67-2 67 14 67-7 67-15M119 1217l67-6 67 15 66 1 67-6 67 5 67-1 67-3 67-33 66-19 67 6 67-2 67 8 67-8 67-4M119 1216l67-5 67 10 66 8 67-8 67 8 67-1 67-6 67-37 66-6 67-7 67 2 67 8 67-10 67-2M119 1217l67 0 67 13 66 5 67-5 67 0 67-2 67-3 67 11 66-17 67 0 67-3 67 9 67-10 67 2M119 1222l67-8 67 12 66-1 67-3 67-2 67 5 67 2 67 12 66-16 67-4 67-3 67 14 67-6 67 0M119 1256l67-11 67 19 66-6 67 0 67-3 67 2 67 0 67-18 66-16 67-14 67 7 67 3 67 5 67 2M119 1217l67-7 67 13 66 5 67-7 67 3 67 1 67-4 67-36 66 1 67-6 67-6 67 12 67-13 67 3M119 1218l67-6 67 16 66 29 67 4 67-2 67-2 67 0 67-19 66-23 67 3 67-2 67 13 67-5 67-2M119 1217l67-7 67 15 66 0 67-3 67 7 67-5 67-3 67-36 66-16 67 17 67-12 67 8 67-2 67-11M119 1218l67-3 67 6 66 13 67-5 67 1 67-2 67-7 67-35 66-17 67 5 67 6 67 2 67 1 67-10M119 1217l67-3 67 12 66 32 67 3 67-2 67-3 67 1 67-24 66-18 67-6 67-4 67 15 67-5 67 6" stroke="#32b5ff" stroke-opacity="0.70"/>
<path d="M119 1257l67-7 67 12 66-36 67 1 67-6 67 3 67-3 67 14 66-12 67-4 67-3 67 12 67-4 67-11M119 1220l67-10 67 15 66 1 67-2 67 3 67 4 67-10 67-25 66-27 67 5 67 3 67 6 67-10 67-3M119 1217l67-7 67 17 66 0 67-3 67 2 67 1 67-6 67 10 66-20 67 3 67 2 67 14 67-17 67 12M119 1256l67-9 67 9 66 3 67 2 67-2 67-3 67-1 67-22 66-26 67 11 67-2 67-3 67 11 67-1M119 1217l67-6 67 13 66 10 67-12 67 6 67-3 67-2 67 13 66-25 67 8 67-3 67 12 67-3 67-1M119 1218l67-8 67 11 66 3 67-1 67 0 67 10 67-12 67-23 66-25 67-1 67 2 67 10 67-9 67-3M119 1257l67-7 67 14 66-40 67 4 67 1 67-5 67 9 67-46 66-18 67 6 67 1 67 8 67-5 67-2M119 1257l67-7 67 12 66-32 67-4 67 1 67 0 67-5 67-38 66-11 67-1 67 3 67 12 67-8 67-9M119 1256l67-6 67 14 66-3 67 0 67-2 67-3 67-4 67-13 66-16 67-4 67-10 67 7 67 5 67 3M119 1251l67-6 67 19 66-3 67 0 67-7 67-1 67 0 67-22 66-21 67 10 67-4 67 9 67-18 67 16M119 1256l67-7 67 11 66 1 67-4 67-3 67 2 67-3 67-14 66-16 67-4 67-18 67 29 67-13 67 5M119 1256l67-6 67 14 66-37 67-7 67 16 67-11 67 1 67-33 66-24 67 3 67 7 67 6 67-6 67 3M119 1217l67-6 67 12 66 4 67-2 67 9 67-10 67 7 67-1 66-7 67-4 67-2 67 7 67 0 67-1M119 1221l67-7 67 12 66-1 67 1 67-2 67-1 67-2 67 8 66-16 67 6 67-8 67 19 67-13 67-3M119 1217l67-5 67 18 66 4 67-12 67 14 67-5 67-10 67-27 66-15 67 1 67-7 67 20 67-20 67 0" stroke="#328dff" stroke-opacity="0.72"/>
<path d="M119 1217l67-6 67 10 66 3 67-3 67-1 67 4 67-3 67 18 66-16 67-13 67 0 67 20 67-7 67 0M119 1254l67-8 67 7 66 8 67-3 67 0 67-5 67 3 67-25 66-7 67-5 67-6 67 8 67 3 67-7M119 1217l67-7 67 15 66 6 67-5 67 5 67-2 67-4 67-26 66-29 67 13 67 1 67 2 67 3 67-1M119 1217l67-6 67 10 66 11 67-12 67 9 67 0 67-4 67 14 66-22 67-5 67 5 67 10 67-15 67 1M119 1223l67-12 67 15 66-2 67-3 67 10 67 0 67-2 67 6 66-12 67-4 67-12 67 23 67-18 67 10M119 1256l67-9 67 6 66-28 67-4 67 3 67 1 67-4 67-31 66-10 67-5 67 1 67 10 67-12 67 1M119 1255l67-5 67 11 66-36 67-4 67 14 67-6 67-1 67 10 66-24 67 6 67-4 67 10 67-4 67-10M119 1217l67-3 67 13 66 6 67-8 67-1 67 11 67-3 67-47 66-1 67-5 67-5 67 12 67-12 67-2M119 1256l67-10 67 16 66-28 67-12 67 5 67 2 67-9 67 18 66-25 67-10 67 8 67 16 67-4 67-1M119 1256l67-12 67 16 66-30 67-9 67 14 67-5 67-5 67-40 66-9 67-2 67 6 67 3 67-4 67-9M119 1252l67-5 67 16 66-31 67-3 67 6 67-5 67-8 67 6 66-11 67 2 67-7 67 14 67-12 67 0M119 1219l67-8 67 9 66 4 67 11 67-5 67 4 67-13 67 12 66-22 67 6 67-5 67 16 67-4 67-12M119 1217l67-7 67 15 66 2 67 2 67 3 67-2 67 1 67 8 66-16 67-16 67 9 67 15 67-13 67-6M119 1223l67-9 67 9 66 7 67 2 67-8 67 3 67 1 67 7 66-14 67-6 67 0 67 1 67 8 67-6" stroke="#3266ff" stroke-opacity="0.74"/>
<path d="M119 1217l67-7 67 11 66 5 67-4 67 4 67-1 67 5 67 9 66-15 67-12 67 1 67 1 67 10 67-1M119 1256l67-11 67 20 66-4 67 0 67-2 67-4 67 2 67-19 66-19 67-5 67 3 67 8 67 0 67-2M119 1217l67-6 67 10 66 7 67-2 67-2 67 5 67-8 67 13 66-11 67-7 67-2 67 16 67-6 67-3M119 1217l67 1 67 3 66 3 67-3 67 6 67-2 67-4 67-27 66-23 67 10 67-3 67 5 67-9 67-4M119 1217l67-7 67 11 66 4 67-3 67 3 67 0 67 0 67 3 66-14 67 6 67-3 67 8 67-1 67-7M119 1256l67-6 67 14 66-3 67 0 67-2 67-6 67 4 67-33 66-2 67-14 67-1 67 21 67-13 67 4M119 1217l67-6 67 15 66 0 67 9 67-7 67-6 67-1 67 19 66-20 67-8 67-4 67 22 67-6 67-2M119 1223l67-12 67 12 66 1 67-3 67 5 67 3 67-4 67 10 66-21 67 5 67-2 67 5 67-16 67 14" stroke="#323fff" stroke-opacity="0.76"/>
<path d="M119 1221l67-11 67 13 66 1 67 3 67 1 67-2 67-5 67-36 66-14 67 1 67 2 67 8 67-9 67 4M119 1251l67-7 67 10 66 7 67-4 67 2 67-5 67-3 67-27 66-18 67-3 67 10 67 17 67-13 67 6" stroke="#4d32ff" stroke-opacity="0.77"/>
<path d="M119 1219l67-7 67 9 66 7 67-1 67-3 67 0 67-3 67 12 66-10 67-3 67-9 67 13 67-15 67 10M119 1251l67-2 67 11 66 1 67 0 67-2 67-2 67-1 67-16 66-17 67-15 67 8 67 16 67-17 67 7M119 1229l67-12 67 8 66 1 67-4 67 8 67 2 67-9 67-29 66-22 67 0 67 6 67 6 67-10 67-3M119 1217l67-3 67 16 66-2 67-2 67-1 67 1 67 5 67-1 66-7 67-4 67-4 67 10 67-10 67 2" stroke="#7432ff" stroke-opacity="0.79"/>
<path d="M119 1257l67-8 67 16 66-4 67-2 67-2 67-2 67 0 67-18 66-14 67-10 67 3 67 12 67-13 67 8" stroke="#c332ff" stroke-opacity="0.83"/>
<path d="M119 1255l67-8 67 15 66-10 67-3 67 8 67 0 67-2 67-27 66-19 67 10 67-8 67 19 67-22 67 7M119 1251l67-3 67 14 66-35 67-3 67 4 67 4 67-11 67-28 66-9 67-1 67-9 67 17 67-4 67-13M119 1217l67 1 67 9 66 2 67-5 67 0 67 0 67 5 67-25 66-20 67-12 67 2 67 22 67-16 67-1M119 1252l67-11 67 15 66-1 67 0 67-4 67 3 67 3 67-18 66-27 67-6 67 7 67 4 67 0 67 5M119 1220l67-4 67 5 66 5 67 1 67 6 67 3 67-1 67-43 66-18 67 10 67-9 67 16 67-15 67-4M119 1220l67 1 67 4 66 9 67-12 67 14 67-12 67 0 67-33 66-13 67 3 67 5 67 9 67-7 67-5" stroke="#328dff" stroke-opacity="0.72"/>
<path d="M119 1219l67-3 67 7 66 4 67-3 67-1 67 7 67 4 67-41 66-24 67 3 67 12 67-2 67-1 67-7M119 1252l67-4 67 10 66 3 67-7 67 0 67 3 67 0 67-18 66-19 67-7 67 3 67 12 67-20 67 14M119 1247l67 3 67 14 66-5 67-6 67 2 67 1 67-1 67-21 66-26 67 12 67-4 67 2 67-9 67 13M119 1256l67-9 67 12 66-4 67-4 67-1 67 2 67 1 67-68 66-13 67 2 67 0 67 8 67-5 67 7M119 1256l67-11 67 14 66-28 67 1 67 2 67-10 67 6 67-40 66-8 67-9 67 8 67 2 67 1 67-10M119 1256l67-9 67 15 66-4 67-6 67 2 67 0 67 1 67-15 66-17 67-15 67 0 67 8 67-10 67 16M119 1221l67-4 67 6 66 7 67 2 67-7 67 12 67-12 67 14 66-31 67-5 67 10 67 2 67-6 67 8M119 1225l67-8 67 8 66 10 67-8 67 3 67-5 67 5 67-28 66-24 67 1 67 0 67 3 67 6 67-17M119 1224l67-4 67 5 66 6 67 6 67-10 67 0 67 7 67-31 66-34 67 16 67-9 67 8 67 1 67-5M119 1225l67-15 67 14 66 8 67 0 67-5 67 6 67-1 67-10 66-11 67 3 67-4 67 9 67-5 67 9M119 1218l67-4 67 14 66 0 67-1 67 7 67 0 67-10 67 4 66-16 67-7 67 1 67 21 67-17 67 7" stroke="#3266ff" stroke-opacity="0.74"/>
<path d="M119 1249l67-3 67 18 66-3 67 0 67-8 67-1 67 5 67-20 66-29 67 0 67-4 67 27 67-13 67 4M119 1256l67-8 67 15 66-10 67 2 67-1 67 2 67 0 67-24 66-19 67-11 67 1 67 19 67 2 67-7M119 1251l67-3 67 8 66-24 67-1 67-1 67 0 67 0 67 3 66-29 67 12 67-11 67 15 67-5 67-1M119 1245l67 0 67 19 66-6 67-4 67 1 67 2 67 0 67-33 66-17 67 5 67 4 67 2 67-5 67-8M119 1248l67 1 67 13 66-6 67 5 67-3 67-3 67-1 67-28 66-11 67 2 67-7 67 13 67-4 67 3M119 1223l67-7 67 11 66 27 67-2 67 0 67-4 67 4 67-19 66-26 67-5 67 9 67 4 67-2 67 1" stroke="#323fff" stroke-opacity="0.76"/>
<path d="M119 1255l67-5 67 11 66-1 67 1 67-7 67-2 67-1 67-15 66-13 67-13 67 7 67 4 67 0 67-4M119 1217l67-3 67 14 66-4 67 5 67-5 67 1 67-4 67-32 66-10 67-3 67 7 67 4 67-8 67-3M119 1247l67-3 67 11 66 6 67-1 67-1 67-10 67 8 67-24 66-17 67-4 67-2 67 3 67 3 67-6M119 1224l67-13 67 11 66 12 67-7 67 1 67-4 67 10 67-51 66-4 67 0 67 2 67 3 67-10 67 11M119 1220l67-6 67 8 66 12 67-12 67 7 67 1 67 1 67-46 66-10 67 2 67-2 67 21 67-17 67-6M119 1254l67-10 67 9 66 4 67-3 67 2 67-2 67 1 67-30 66-7 67-13 67 7 67 8 67 4 67-13M119 1252l67-3 67 10 66-25 67-5 67 4 67-5 67 5 67 4 66-27 67-1 67 2 67 4 67-5 67 9M119 1228l67-6 67 6 66-3 67 5 67-3 67 1 67 2 67-38 66-15 67 1 67 0 67 4 67-4 67-3M119 1221l67-8 67 13 66-2 67 13 67-3 67-10 67 8 67-35 66-28 67 13 67-4 67 11 67-4 67-12M119 1253l67-11 67 21 66-4 67 0 67-12 67 6 67-1 67-28 66-6 67-16 67 14 67 8 67-12 67 10M119 1223l67-5 67 3 66 8 67 2 67 1 67 2 67-3 67-27 66-20 67 4 67-14 67 10 67-8 67-1M119 1221l67-6 67 16 66 1 67 3 67-5 67 1 67-9 67-26 66-22 67 6 67 4 67 5 67-15 67 4M119 1253l67-9 67 20 66-14 67 6 67-6 67 4 67-2 67-15 66-30 67 3 67 5 67 12 67-19 67 6M119 1224l67-6 67 10 66 7 67 2 67 1 67-1 67-6 67-46 66-5 67 8 67-8 67 7 67-10 67 8M119 1221l67-2 67 10 66 1 67 6 67-5 67 6 67-9 67-33 66-26 67 6 67 5 67 2 67 0 67 2M119 1250l67-1 67 6 66 6 67-11 67 0 67 2 67-5 67-20 66-20 67-4 67 2 67 10 67-10 67 5" stroke="#4d32ff" stroke-opacity="0.77"/>
<path d="M119 1220l67-6 67 7 66 9 67 1 67 0 67-3 67 1 67-44 66-9 67-2 67 6 67 3 67-1 67-12M119 1228l67-12 67 15 66-6 67-4 67 10 67 0 67-5 67-41 66-8 67-1 67 6 67 6 67-12 67-2M119 1246l67 2 67 10 66-25 67-3 67-5 67 11 67-5 67-32 66-24 67-2 67 13 67 5 67-10 67-7M119 1247l67-2 67 8 66-26 67 0 67 8 67-5 67-3 67 7 66-30 67 15 67-11 67 7 67 2 67-6M119 1246l67-4 67 14 66-27 67 6 67-10 67 11 67-1 67-11 66-22 67 8 67 3 67 15 67-4 67-3M119 1253l67-7 67 10 66-26 67-1 67 7 67 0 67-9 67-23 66-35 67 14 67 5 67-3 67-1 67-7M119 1247l67-6 67 10 66-24 67 4 67-7 67 12 67-8 67-6 66-16 67 3 67-3 67 12 67 4 67 0" stroke="#7432ff" stroke-opacity="0.79"/>
<path d="M119 1226l67-15 67 10 66 6 67 6 67 1 67-6 67 0 67-34 66-20 67 3 67-3 67 19 67-19 67-4M119 1249l67-9 67 12 66-2 67 11 67-6 67 2 67-8 67-44 66-26 67-1 67 2 67 8 67-15 67 0M119 1248l67-2 67 13 66-6 67 8 67-8 67-2 67-1 67-26 66-15 67-7 67 0 67 14 67-8 67 1M119 1225l67-11 67 9 66 12 67 2 67-10 67 6 67-8 67-38 66 1 67 0 67-3 67 1 67-10 67-3M119 1248l67-9 67 19 66-7 67 3 67-4 67 5 67-3 67-16 66-26 67-8 67-1 67 14 67-2 67-5M119 1218l67-1 67 14 66 0 67 7 67-5 67 2 67-6 67-25 66-23 67 4 67-6 67 6 67 0 67-6M119 1244l67 0 67 6 66 1 67-2 67 1 67 0 67-1 67-27 66-16 67-8 67 5 67 25 67-16 67 4" stroke="#9b32ff" stroke-opacity="0.81"/>
<path d="M119 1227l67-17 67 11 66 3 67 1 67 2 67 2 67-8 67 14 66-24 67 9 67-12 67 23 67-7 67-14M119 1222l67-11 67 11 66 34 67-6 67 3 67-4 67-2 67-24 66-5 67-3 67-12 67 20 67-6 67-8M119 1251l67-3 67 11 66-10 67 6 67 2 67-8 67 2 67-29 66 1 67-12 67-6 67 13 67-1 67-2M119 1248l67-2 67 8 66-3 67 10 67-13 67 8 67-5 67-27 66-6 67-8 67 1 67 12 67-12 67 0M119 1246l67-4 67 13 66-2 67 2 67-6 67 0 67 0 67-20 66-22 67 3 67-2 67 7 67-2 67-6M119 1246l67-1 67 14 66-32 67 0 67 3 67 7 67-11 67-20 66-19 67 1 67 2 67 2 67-2 67-10" stroke="#c332ff" stroke-opacity="0.83"/>
<path d="M119 1246l67-3 67 12 66 0 67 0 67-4 67 1 67-4 67-25 66-22 67 1 67 1 67 27 67-24 67 5" stroke="#ff32ec" stroke-opacity="0.87"/>
<path d="M119 1225l67-6 67 7 66-1 67 10 67 0 67-6 67 0 67-21 66-21 67 0 67-1 67 5 67-9 67 2" stroke="#3266ff" stroke-opacity="0.74"/>
<path d="M119 1246l67-3 67 14 66-6 67-1 67 1 67-3 67 3 67-32 66 0 67-14 67 2 67 15 67-16 67 16M119 1229l67-9 67 10 66 4 67-9 67 11 67 2 67-9 67-31 66-11 67-6 67 5 67 7 67-9 67-3" stroke="#323fff" stroke-opacity="0.76"/>
<path d="M119 1229l67-5 67 5 66 3 67 3 67 2 67 0 67 0 67-41 66-18 67 2 67 6 67 7 67-14 67-1M119 1229l67-9 67 8 66-3 67-1 67 10 67 4 67-3 67-37 66-13 67 1 67 2 67-1 67 3 67-6" stroke="#4d32ff" stroke-opacity="0.77"/>
<path d="M119 1246l67-6 67 15 66 5 67-10 67 9 67-8 67 0 67-22 66-23 67 12 67-13 67 9 67-6 67 2M119 1246l67 3 67 9 66-10 67 8 67-6 67-2 67 1 67-24 66-18 67-1 67-6 67 12 67-7 67 4M119 1230l67-15 67 18 66 3 67-1 67 0 67 1 67-6 67-26 66-19 67 1 67 1 67 2 67-1 67-8" stroke="#7432ff" stroke-opacity="0.79"/>
<path d="M119 1254l67-10 67 5 66-18 67-6 67 11 67 0 67-2 67-10 66-20 67-3 67 1 67 13 67-11 67 3M119 1250l67-6 67 10 66-23 67 6 67-9 67 8 67-6 67-24 66-23 67 5 67-2 67 4 67-9 67 4M119 1226l67-9 67 15 66 0 67 7 67-4 67 3 67-3 67-12 66-8 67 4 67-8 67 12 67-11 67-1M119 1247l67-6 67 21 66-12 67-1 67 1 67 0 67 0 67-25 66-19 67-5 67 2 67 22 67-3 67-3M119 1249l67-6 67 11 66-11 67 7 67 1 67-3 67 1 67-26 66-20 67 6 67-8 67 12 67-7 67 4M119 1224l67-3 67 10 66 5 67-3 67 2 67 2 67-6 67-25 66-19 67 3 67-6 67 11 67-7 67-8M119 1230l67-15 67 17 66 7 67-5 67 2 67 0 67-2 67-30 66-20 67 3 67 0 67 5 67-2 67-3M119 1244l67-2 67 7 66-14 67-4 67 7 67-11 67 9 67-35 66-15 67-4 67 5 67 12 67-12 67-10" stroke="#9b32ff" stroke-opacity="0.81"/>
<path d="M119 1249l67-5 67 10 66-29 67 12 67-3 67 2 67-3 67-5 66-25 67 0 67 5 67 8 67-10 67 5M119 1228l67-11 67 13 66 3 67-4 67 6 67 4 67-5 67-28 66-25 67 4 67 3 67 5 67-8 67 3M119 1228l67-8 67 4 66 8 67 5 67-3 67 1 67 0 67-30 66-20 67 3 67 1 67 0 67-3 67-5M119 1227l67-7 67 12 66 1 67 2 67 0 67-3 67 3 67-38 66-10 67 1 67-7 67 8 67-9 67 7M119 1247l67-6 67 14 66-2 67-4 67 1 67-2 67 0 67-41 66-28 67 6 67 2 67 3 67-3 67-1M119 1226l67-5 67 14 66 2 67-4 67 2 67 3 67-3 67-28 66-24 67 4 67 0 67 9 67-5 67-9M119 1247l67-4 67 8 66-2 67 2 67 7 67-10 67 0 67-25 66-17 67 6 67-11 67 13 67-2 67-7M119 1228l67-6 67 6 66 7 67-3 67 3 67 5 67-5 67-30 66-18 67-2 67 1 67 7 67-10 67 3M119 1245l67-5 67 18 66-8 67 1 67-2 67 0 67-3 67-25 66-17 67-3 67 1 67 10 67-8 67 6M119 1243l67-5 67 12 66-2 67 0 67 0 67-2 67 1 67-24 66-24 67 3 67-2 67 10 67-7 67 1M119 1242l67 1 67 7 66 2 67-6 67 3 67 0 67-1 67-28 66-22 67 3 67-1 67 13 67 0 67-11" stroke="#c332ff" stroke-opacity="0.83"/>
<path d="M119 1253l67-8 67 8 66-2 67-1 67-2 67-1 67 1 67-44 66-20 67 4 67-1 67 3 67-2 67-7M119 1227l67-6 67 8 66-5 67 14 67-1 67-1 67-4 67-27 66-28 67 9 67-2 67 6 67-9 67-1M119 1248l67-8 67 12 66-2 67 1 67-5 67 3 67-3 67-22 66-22 67 0 67 7 67 14 67-17 67 11M119 1250l67-6 67 16 66-24 67-1 67-1 67 2 67 1 67-35 66-17 67 1 67 0 67 10 67-11 67 5M119 1249l67-7 67 10 66 0 67-4 67 3 67-4 67 7 67-23 66-25 67 2 67-3 67 11 67-7 67-2M119 1247l67 0 67 4 66-17 67 2 67-1 67 3 67-2 67-35 66-15 67 1 67-3 67 15 67-12 67-2M119 1246l67-7 67 19 66-4 67-6 67 0 67-1 67 3 67-28 66-15 67-5 67 9 67 4 67-6 67-1M119 1230l67-8 67 6 66 9 67-2 67 4 67-10 67 8 67-30 66-27 67 11 67-5 67 2 67 4 67-8M119 1228l67-12 67 13 66 6 67 4 67-4 67 3 67-9 67-22 66-21 67 1 67-2 67 8 67-1 67-5M119 1251l67-12 67 16 66-7 67 0 67-2 67-1 67 1 67-24 66-15 67 6 67-14 67 17 67-11 67 1M119 1227l67-5 67 9 66 7 67-2 67 1 67-1 67-1 67-29 66-25 67 5 67 2 67 10 67-10 67-5" stroke="#ea32ff" stroke-opacity="0.85"/>
<path d="M119 1247l67-5 67 13 66-3 67-2 67 0 67-2 67 1 67-27 66-10 67-10 67 0 67 10 67-4 67 3M119 1252l67-9 67 3 66 4 67 4 67-1 67 2 67-6 67-26 66-19 67-1 67 2 67 9 67-5 67 3M119 1228l67-7 67 14 66 0 67 0 67 2 67-1 67-1 67-37 66-10 67-2 67-1 67 3 67-1 67 3M119 1248l67-9 67 12 66-3 67 2 67-1 67-1 67 2 67-27 66-20 67 5 67-2 67 10 67-11 67 8M119 1230l67-10 67 10 66 6 67 2 67 0 67 1 67-9 67-22 66-23 67 3 67-3 67 9 67-9 67-1M119 1228l67-12 67 13 66 7 67-1 67-2 67 3 67 1 67-30 66-24 67 2 67 2 67 1 67-1 67-2M119 1242l67-2 67 14 66-5 67 0 67-1 67 0 67 1 67-22 66-21 67 1 67-5 67 7 67 0 67-8M119 1245l67-8 67 15 66-13 67-2 67 0 67 1 67-6 67-28 66-17 67-1 67-1 67 7 67-5 67-1M119 1230l67-4 67 6 66 4 67-1 67 1 67-3 67 1 67-28 66-17 67 0 67-4 67 6 67-3 67-5M119 1232l67-9 67 7 66 3 67-5 67 11 67-1 67-6 67-24 66-22 67-1 67-2 67 16 67-16 67-1M119 1248l67-9 67 11 66-2 67 1 67-2 67-1 67 0 67-24 66-13 67-8 67 8 67 3 67-6 67 0" stroke="#ff32ec" stroke-opacity="0.87"/>
<path d="M119 1227l67-8 67 6 66 10 67-6 67 6 67 2 67-3 67-40 66-7 67-1 67-1 67 9 67-11 67-5M119 1248l67-4 67 13 66-5 67-3 67 1 67 3 67-6 67-18 66-15 67-11 67-2 67 21 67-16 67 5M119 1246l67-4 67 13 66 0 67-7 67 2 67 3 67-4 67-23 66-9 67-13 67 1 67 10 67 5 67-6M119 1247l67-11 67 21 66-9 67 1 67 2 67 3 67-4 67-27 66-18 67-4 67-1 67 17 67-10 67 1M119 1245l67-7 67 12 66 0 67-1 67-1 67 4 67 2 67-30 66-17 67-5 67 1 67 15 67-7 67-7" stroke="#ff32c5" stroke-opacity="0.88"/>
<path d="M119 1225l67-5 67 9 66 7 67 2 67 1 67-6 67-1 67-28 66-18 67 2 67-9 67 10 67-1 67-7M119 1246l67-5 67 15 66-21 67 1 67 0 67 2 67-1 67-27 66-23 67 2 67-4 67 10 67-8 67 3M119 1228l67-4 67 13 66 13 67-5 67 0 67 3 67 0 67-25 66-19 67-4 67 8 67 4 67-6 67-2" stroke="#ff329e" stroke-opacity="0.90"/>
<path d="M119 1229l67-13 67 17 66 1 67 3 67-2 67 3 67-3 67-32 66-16 67-1 67-2 67 8 67-4 67-6M119 1227l67-8 67 15 66 0 67 3 67 0 67 1 67-2 67-29 66-22 67 2 67-2 67 11 67-3 67-5M119 1228l67-5 67 10 66 2 67 4 67-9 67 6 67-1 67-28 66-20 67 0 67-4 67 3 67 3 67 0" stroke="#ff3276" stroke-opacity="0.92"/>
<path d="M119 1230l67-6 67 11 66 3 67 0 67 1 67-2 67-3 67-29 66-14 67 0 67-3 67 7 67-4 67-6" stroke="#ea32ff" stroke-opacity="0.85"/>
<path d="M119 1245l67-10 67 16 66-4 67 5 67-6 67-1 67 0 67-24 66-17 67-2 67-1 67 10 67-4 67-6M119 1230l67-7 67 7 66 19 67-1 67 1 67-3 67 2 67-30 66-16 67-3 67 1 67 12 67-13 67 5M119 1245l67-8 67 13 66-3 67 1 67-3 67 1 67 0 67-28 66-17 67 0 67-3 67 15 67-8 67-2" stroke="#ff32ec" stroke-opacity="0.87"/>
<path d="M119 1231l67-8 67 11 66 2 67 2 67-2 67 2 67-4 67-30 66-17 67 1 67-3 67 9 67-4 67-2M119 1231l67-12 67 9 66 8 67 1 67-1 67 1 67 0 67-28 66-21 67 1 67-2 67 3 67-3 67 0M119 1248l67-9 67 9 66-2 67 2 67 0 67 1 67-3 67-26 66-14 67-5 67 0 67 17 67-16 67 10M119 1233l67-13 67 12 66 5 67 1 67-7 67 7 67-4 67-32 66-12 67-5 67 4 67 9 67-10 67-2M119 1231l67-10 67 10 66 9 67-1 67-1 67 2 67-1 67-18 66-15 67-6 67 0 67 12 67-7 67-3M119 1245l67-5 67 12 66-2 67 0 67-5 67 2 67-2 67-21 66-20 67-3 67-3 67 14 67-5 67-3M119 1232l67-11 67 17 66 0 67-2 67 1 67 2 67-3 67-29 66-31 67 12 67-4 67 11 67-8 67-1M119 1245l67-8 67 9 66 3 67-5 67 4 67-1 67 0 67-26 66-21 67 0 67 0 67 11 67-1 67-7M119 1232l67-15 67 12 66 8 67 0 67-1 67 3 67-2 67-33 66-16 67-3 67-2 67 6 67 3 67-5M119 1241l67-2 67 11 66-8 67-2 67-1 67-1 67 2 67-33 66-21 67 4 67-2 67 6 67-4 67-1M119 1246l67-4 67 7 66-1 67 1 67-1 67-2 67 0 67-23 66-21 67-2 67 0 67 14 67-5 67-1" stroke="#ff32c5" stroke-opacity="0.88"/>
<path d="M119 1228l67-8 67 10 66 8 67-8 67 7 67-4 67 1 67-26 66-21 67 2 67-4 67 8 67-7 67 0M119 1229l67-9 67 12 66 4 67 6 67-3 67-1 67-4 67-28 66-18 67 1 67-4 67 10 67-21 67 10M119 1231l67-12 67 9 66 3 67 6 67 2 67-1 67-5 67-26 66-17 67-4 67 2 67 6 67 0 67-10M119 1224l67 0 67 10 66 2 67-12 67 0 67 9 67 4 67-28 66-21 67-1 67-7 67 14 67-9 67 1M119 1230l67-13 67 18 66 1 67-1 67 2 67 1 67 0 67-31 66-16 67-3 67 1 67 5 67-11 67 4M119 1227l67-8 67 11 66 7 67 4 67-3 67 0 67 0 67-33 66-16 67-1 67-6 67 14 67-9 67 0M119 1244l67-4 67 10 66-6 67 5 67-1 67 1 67-2 67-24 66-19 67-4 67 3 67 8 67-5 67-3M119 1245l67-8 67 14 66-2 67-4 67 3 67 0 67-1 67-24 66-22 67-3 67 3 67 13 67-10 67 4M119 1245l67-13 67 22 66-3 67-2 67-2 67 1 67 0 67-29 66-21 67 1 67 2 67 9 67-4 67-1M119 1244l67-10 67 15 66 1 67-1 67-2 67 0 67 0 67-27 66-17 67-2 67 0 67 9 67-9 67 1M119 1230l67-6 67 9 66 8 67-3 67-2 67 2 67 0 67-29 66-15 67-5 67-3 67 7 67-2 67-12M119 1226l67-5 67 14 66 7 67-1 67-4 67 0 67 1 67-29 66-21 67 1 67-2 67 10 67-1 67-12M119 1231l67-7 67 10 66 4 67-1 67 3 67-1 67-3 67-23 66-26 67 1 67 0 67 10 67-7 67 1M119 1243l67-4 67 12 66-3 67-1 67-1 67 0 67 0 67-29 66-11 67-4 67-2 67 9 67-4 67-5" stroke="#ff329e" stroke-opacity="0.90"/>
<path d="M119 1230l67-7 67 13 66-1 67-1 67 3 67 1 67-4 67-30 66-15 67-5 67 2 67 9 67-7 67-2M119 1231l67-13 67 12 66 8 67 0 67 0 67-5 67 0 67-27 66-21 67 2 67 0 67 8 67-8 67 1M119 1247l67-5 67 8 66 1 67-2 67-1 67 0 67-1 67-27 66-15 67-7 67 7 67 8 67-7 67 5M119 1242l67 1 67 3 66 4 67-5 67 5 67-3 67 2 67-26 66-15 67-7 67 1 67 13 67-10 67 0M119 1228l67-5 67 7 66 9 67-1 67 0 67 0 67 2 67-44 66-9 67 0 67 1 67 7 67-7 67 1M119 1223l67 0 67 15 66 11 67 1 67-3 67-1 67 1 67-30 66-12 67-3 67-3 67 13 67-5 67-3M119 1230l67-8 67 12 66 2 67 1 67 2 67-1 67-2 67-29 66-19 67 1 67-1 67 5 67-5 67-7M119 1245l67-1 67 7 66-2 67-1 67 0 67-2 67 0 67-25 66-6 67-13 67 0 67 7 67-3 67-4M119 1244l67-5 67 13 66-5 67-1 67 0 67 1 67 0 67-28 66-12 67-5 67-1 67 12 67-10 67 2M119 1246l67-5 67 8 66 1 67-1 67 0 67-2 67-2 67-24 66-16 67-4 67-1 67 14 67-4 67-1M119 1225l67-3 67 13 66 1 67 1 67 2 67-1 67-1 67-28 66-20 67-1 67 1 67 6 67-7 67-3M119 1231l67-16 67 17 66 4 67 4 67-3 67 0 67-2 67-30 66-18 67 2 67-4 67 10 67-10 67 2M119 1227l67-4 67 10 66 5 67 2 67-1 67 1 67-4 67-14 66-21 67-3 67 5 67 7 67-8 67-3M119 1227l67-5 67 14 66 5 67-5 67 2 67 0 67-2 67-13 66-21 67 0 67-1 67 10 67-8 67 4M119 1230l67-3 67 5 66 5 67 4 67-3 67-1 67-2 67-31 66-15 67 1 67-3 67 6 67-3 67-3M119 1230l67-6 67 12 66 12 67 0 67 0 67-1 67 1 67-31 66-12 67-6 67 3 67 9 67-7 67-2M119 1242l67-5 67 12 66-1 67-1 67-1 67 1 67-4 67-25 66-17 67 0 67-2 67 10 67-3 67-2M119 1241l67-3 67 9 66 3 67-6 67 4 67-1 67-1 67-25 66-15 67-9 67 8 67 6 67-10 67 2M119 1230l67-10 67 9 66 7 67 1 67 0 67 1 67-3 67-28 66-20 67 0 67-2 67 15 67-9 67-5M119 1233l67-9 67 8 66 18 67-3 67 0 67-1 67-1 67-29 66-12 67-4 67-3 67 16 67-7 67-2M119 1232l67-9 67 9 66 14 67 0 67 1 67 1 67-1 67-27 66-16 67-5 67 1 67 12 67-8 67 4M119 1246l67-10 67 12 66-1 67 0 67-1 67 3 67-2 67-26 66-15 67-6 67 0 67 9 67-5 67 2M119 1229l67-5 67 12 66 0 67 1 67 2 67-2 67 0 67-27 66-22 67 2 67-2 67 4 67-4 67-1M119 1241l67-1 67 11 66-2 67-2 67 0 67-1 67 1 67-24 66-18 67-4 67 1 67 12 67-13 67 3M119 1244l67-4 67 12 66-8 67 5 67-5 67 4 67-2 67-28 66-16 67-5 67 3 67 13 67-7 67-2M119 1243l67-3 67 9 66 2 67-5 67 1 67 0 67-2 67-25 66-19 67-4 67 2 67 13 67-6 67-5M119 1232l67-6 67 6 66 4 67 0 67-1 67 5 67-3 67-28 66-17 67-4 67 1 67 5 67-6 67 1M119 1229l67-5 67 11 66 2 67 3 67-2 67-2 67 1 67-32 66-17 67-1 67 2 67 3 67-3 67 0M119 1230l67-10 67 18 66-2 67 2 67-1 67 1 67-2 67-31 66-15 67 1 67 0 67 6 67-7 67 1M119 1242l67-6 67 13 66-2 67 0 67 0 67-3 67 2 67-26 66-20 67 3 67-5 67 15 67-7 67-4M119 1231l67-6 67 12 66 3 67-2 67 0 67 1 67 0 67-33 66-17 67-1 67 0 67 9 67 0 67-4" stroke="#ff3276" stroke-opacity="0.92"/>
<path d="M119 1234l67-10 67 13 66 5 67-2 67 2 67-1 67-5 67-22 66-20 67-2 67-2 67 8 67-8 67 1" stroke="#ea32ff" stroke-opacity="0.85"/>
<path d="M119 1231l67-7 67 10 66 2 67 5 67-4 67 4 67-7 67-24 66-17 67-6 67 0 67 9 67-8 67 3M119 1240l67-6 67 12 66 1 67-3 67 2 67 0 67-2 67-27 66-20 67 0 67 0 67 13 67-8 67-4M119 1241l67-5 67 9 66 1 67-1 67 2 67-2 67-1 67-29 66-16 67-1 67-1 67 10 67-8 67 3M119 1238l67-6 67 11 66-4 67 1 67-1 67-3 67 4 67-27 66-21 67-1 67 5 67 4 67-7 67 0M119 1241l67-6 67 17 66-6 67-1 67-2 67 3 67-1 67-29 66-17 67-2 67-1 67 12 67-10 67 1M119 1241l67-10 67 16 66 0 67-3 67 0 67-1 67 2 67-28 66-18 67-3 67 2 67 9 67-7 67-1" stroke="#ff32ec" stroke-opacity="0.87"/>
<path d="M119 1240l67-4 67 9 66 4 67 0 67 0 67-2 67-1 67-26 66-17 67-4 67 2 67 13 67-9 67-3M119 1234l67-15 67 12 66 7 67 0 67 1 67-3 67 0 67-16 66-17 67-2 67-3 67 10 67-7 67 0M119 1232l67-10 67 9 66 17 67 1 67-2 67 1 67-3 67-27 66-13 67-8 67 3 67 10 67-7 67 4M119 1232l67-2 67 7 66 0 67 2 67 0 67 0 67-4 67-18 66-16 67-6 67 3 67 12 67-5 67 0M119 1229l67-7 67 10 66 7 67 0 67-2 67 3 67-2 67-29 66-22 67 2 67 1 67 8 67-11 67 7M119 1236l67-7 67 2 66 6 67 1 67 3 67-2 67 0 67-31 66-18 67 1 67 3 67 4 67-3 67-1M119 1245l67-12 67 12 66 2 67-1 67-1 67 2 67-1 67-29 66-11 67-5 67 0 67 7 67-1 67-10M119 1243l67-7 67 13 66-6 67 2 67 4 67-2 67-1 67-27 66-19 67-5 67 4 67 6 67-2 67 1M119 1233l67-6 67 5 66 9 67-1 67-1 67 0 67-1 67-29 66-19 67-2 67 4 67 4 67-5 67 1M119 1234l67-10 67 12 66 10 67-1 67-1 67 1 67-1 67-27 66-11 67-5 67-5 67 19 67-11 67-4M119 1239l67-6 67 16 66-3 67-1 67 3 67-3 67-2 67-34 66-17 67-1 67 2 67 9 67-8 67-5" stroke="#ff32c5" stroke-opacity="0.88"/>
<path d="M119 1240l67-3 67 8 66 3 67-2 67 0 67 3 67-2 67-24 66-19 67-5 67 3 67 9 67-7 67-2M119 1237l67-15 67 11 66 6 67-2 67 0 67 2 67-9 67-11 66-19 67-1 67 1 67 12 67-5 67 0M119 1234l67-8 67 6 66 19 67-7 67 3 67-1 67-3 67-24 66-18 67-4 67 1 67 11 67-5 67-7M119 1239l67-1 67 9 66-2 67 3 67-2 67 0 67 0 67-27 66-18 67-1 67 1 67 3 67 1 67-3M119 1241l67-3 67 9 66-1 67 4 67-6 67 1 67-1 67-36 66-11 67-10 67 2 67 7 67-7 67 3M119 1241l67-4 67 14 66-3 67-1 67 0 67 0 67 0 67-29 66-21 67 4 67-4 67 17 67-10 67 9M119 1241l67-7 67 17 66-3 67-2 67-1 67 2 67-3 67-35 66-19 67 1 67 2 67 6 67-3 67-10M119 1240l67-5 67 12 66-1 67-1 67 4 67-2 67 1 67-31 66-17 67-2 67-2 67 17 67-12 67 2M119 1233l67-7 67 12 66 1 67 0 67 0 67 2 67-5 67-28 66-19 67 4 67-6 67 10 67-7 67 0M119 1233l67-7 67 7 66 13 67 0 67 2 67-3 67-2 67-25 66-19 67 0 67-3 67 14 67-11 67 3M119 1245l67-11 67 13 66-3 67 1 67-2 67 6 67-6 67-24 66-17 67 0 67-3 67 8 67-5 67-2M119 1240l67-5 67 13 66-2 67-2 67 4 67-1 67-2 67-30 66-15 67-7 67 5 67 11 67-11 67 0M119 1239l67-6 67 14 66-1 67-2 67-1 67 1 67-1 67-27 66-16 67-2 67 0 67 8 67-7 67 5M119 1236l67 0 67 13 66-5 67 0 67 1 67-1 67 1 67-29 66-15 67-6 67 0 67 9 67-6 67 3M119 1243l67-7 67 8 66-1 67 3 67 1 67 0 67-4 67-30 66-17 67-4 67-1 67 8 67-6 67 2" stroke="#ff329e" stroke-opacity="0.90"/>
<path d="M119 1234l67-7 67 9 66 3 67-1 67 1 67 2 67-5 67-28 66-17 67 1 67-5 67 9 67-5 67 0M119 1230l67-8 67 14 66 3 67-1 67 2 67-1 67-1 67-27 66-20 67-3 67-1 67 8 67-7 67 3M119 1233l67-13 67 14 66 3 67-1 67 4 67-3 67 0 67-27 66-22 67 3 67-4 67 8 67-6 67-1M119 1244l67-7 67 11 66-12 67 2 67 4 67-5 67 0 67-17 66-18 67-2 67-1 67 12 67-9 67-2M119 1245l67-2 67 5 66-9 67 0 67-3 67 1 67-1 67-16 66-16 67-5 67 2 67 8 67-9 67 3M119 1230l67-4 67 12 66-1 67 2 67 1 67 0 67-2 67-15 66-22 67 0 67 2 67 5 67-6 67-2M119 1241l67-5 67 13 66-5 67 2 67 1 67-3 67 0 67-28 66-18 67 1 67-3 67 20 67-14 67-2M119 1234l67-12 67 14 66 3 67-1 67 1 67 2 67-2 67-29 66-17 67-2 67-3 67 12 67-9 67-1M119 1231l67-8 67 8 66 5 67 4 67 0 67 2 67-2 67-31 66-16 67-6 67 1 67 7 67-1 67-5M119 1243l67-6 67 9 66 4 67-7 67 2 67 0 67 0 67-26 66-20 67-2 67-1 67 16 67-10 67 4M119 1233l67-9 67 13 66 9 67 3 67-5 67 3 67-1 67-31 66-13 67-4 67 0 67 9 67-6 67 2M119 1232l67-8 67 10 66 6 67-3 67 3 67-2 67 3 67-32 66-16 67-1 67-3 67 11 67-7 67-4M119 1239l67-6 67 15 66-1 67-1 67 0 67-1 67 0 67-24 66-19 67-4 67 0 67 13 67-10 67-1M119 1232l67-6 67 11 66 1 67-1 67 0 67 3 67-1 67-30 66-17 67 0 67-1 67 5 67-5 67-2M119 1231l67-5 67 11 66 3 67-1 67 3 67-5 67-1 67-24 66-21 67 1 67-2 67 9 67-8 67 2M119 1233l67-11 67 15 66 2 67 0 67 1 67-1 67-1 67-28 66-17 67-4 67 2 67 1 67 3 67-4M119 1242l67-8 67 9 66-5 67 1 67-2 67 4 67-6 67-21 66-26 67 1 67 3 67 8 67-5 67-6M119 1242l67-2 67 1 66 4 67-1 67 1 67 1 67 2 67-29 66-23 67-1 67 6 67 4 67-5 67-2M119 1233l67-10 67 13 66 5 67-3 67 1 67-2 67 0 67-27 66-14 67-6 67 5 67 3 67-7 67 3M119 1238l67-2 67 11 66-1 67 2 67 0 67-2 67-2 67-24 66-18 67-7 67 1 67 11 67-9 67 0M119 1235l67-13 67 18 66-4 67 2 67 3 67-1 67 0 67-32 66-16 67 0 67-3 67 9 67-5 67 0M119 1242l67-5 67 8 66 3 67 0 67-2 67 1 67-2 67-28 66-17 67-1 67-1 67 7 67-10 67 7M119 1243l67-6 67 10 66 0 67-2 67-2 67 2 67-1 67-23 66-21 67-2 67 0 67 8 67-5 67 2M119 1233l67-7 67 15 66-4 67 6 67-2 67-2 67-4 67-28 66-13 67-2 67-3 67 10 67-8 67 3M119 1240l67-10 67 10 66 6 67-1 67-1 67 1 67-2 67-27 66-15 67-5 67 2 67 7 67-9 67 2M119 1240l67-5 67 10 66 1 67-2 67 1 67-1 67-2 67-22 66-20 67-3 67-2 67 13 67-3 67-7M119 1239l67-5 67 12 66-8 67 3 67-2 67 4 67-6 67-23 66-22 67 1 67-3 67 12 67-6 67-5" stroke="#ff3276" stroke-opacity="0.92"/>
<path d="M119 1239l67-3 67 8 66 0 67 0 67 1 67-2 67 1 67-28 66-21 67-1 67 3 67 9 67-7 67 0M119 1236l67-4 67 16 66-4 67 0 67 1 67-1 67-1 67-29 66-21 67 3 67-5 67 10 67-5 67 0" stroke="#ff32ec" stroke-opacity="0.87"/>
<path d="M119 1239l67-4 67 10 66 3 67-3 67-1 67-1 67 1 67-31 66-19 67 1 67 3 67 9 67-8 67 5M119 1235l67-7 67 13 66-1 67 0 67 2 67 0 67-2 67-29 66-19 67 2 67-1 67 10 67-1 67-6M119 1236l67-3 67 13 66-1 67-1 67 0 67 0 67-1 67-28 66-19 67 1 67-2 67 15 67-10 67-1M119 1234l67-4 67 11 66 1 67-2 67 1 67 1 67-2 67-23 66-23 67-3 67 0 67 11 67-6 67-2M119 1235l67-4 67 10 66 0 67-3 67 3 67 0 67-3 67-25 66-17 67-2 67 0 67 4 67-4 67 1M119 1240l67-10 67 18 66-7 67 3 67 2 67-1 67-4 67-25 66-16 67-4 67-2 67 15 67-14 67 3M119 1240l67-8 67 11 66 2 67-1 67-1 67 0 67-1 67-25 66-18 67-3 67 0 67 8 67-5 67-5M119 1236l67-2 67 5 66 4 67 1 67-3 67 2 67-2 67-29 66-17 67-4 67 3 67 6 67-2 67 1M119 1239l67-7 67 6 66 4 67 1 67-2 67 1 67 0 67-28 66-15 67-4 67-2 67 8 67-4 67 1M119 1236l67-4 67 11 66 0 67-2 67 3 67 1 67-2 67-25 66-22 67-1 67 1 67 6 67-5 67-2" stroke="#ff32c5" stroke-opacity="0.88"/>
<path d="M119 1233l67-4 67 11 66 9 67-5 67 2 67-2 67 1 67-24 66-19 67-5 67 0 67 8 67-8 67 3M119 1236l67-4 67 11 66-2 67 2 67-2 67 0 67-2 67-21 66-17 67-4 67-1 67 9 67-6 67 4M119 1239l67-8 67 15 66-1 67 0 67 0 67-1 67 0 67-29 66-17 67-3 67 2 67 14 67-13 67 3M119 1243l67-7 67 8 66 3 67-2 67 0 67-1 67 0 67-24 66-20 67-4 67-2 67 14 67-6 67-3M119 1233l67-4 67 7 66 4 67 0 67 3 67-2 67-2 67-28 66-17 67 1 67-4 67 9 67-3 67-4M119 1238l67-1 67 4 66 0 67 1 67 1 67-1 67 3 67-28 66-18 67-6 67 1 67 13 67-4 67-4M119 1238l67-10 67 11 66 4 67-2 67-1 67 1 67 0 67-28 66-18 67-3 67-1 67 13 67-12 67 2M119 1237l67-9 67 7 66 7 67-3 67 5 67-2 67-3 67-24 66-19 67-5 67 4 67 4 67-8 67-2M119 1232l67 0 67 5 66 5 67-2 67 4 67-2 67 1 67-29 66-20 67 0 67-3 67 10 67-3 67-2M119 1240l67-10 67 14 66 2 67-2 67-1 67-1 67 1 67-28 66-16 67-4 67 3 67 7 67-9 67 2M119 1233l67-2 67 9 66 1 67 1 67-1 67-1 67 3 67-28 66-18 67-3 67-1 67 10 67-6 67-1M119 1234l67-1 67 6 66 5 67 0 67-2 67 1 67-2 67-24 66-22 67 0 67-3 67 11 67-5 67 1M119 1237l67-7 67 11 66 1 67-2 67 1 67 1 67-2 67-26 66-18 67 1 67-1 67 5 67-5 67-1M119 1237l67-6 67 8 66 2 67 1 67 1 67-1 67-1 67-27 66-16 67-4 67-1 67 11 67-9 67 4" stroke="#ff329e" stroke-opacity="0.90"/>
<path d="M119 1237l67-7 67 11 66-1 67 0 67 0 67 0 67-2 67-25 66-23 67 2 67-1 67 10 67-11 67-3M119 1235l67-6 67 12 66 3 67-3 67 1 67-1 67-1 67-21 66-19 67-2 67 2 67 12 67-16 67 8M119 1241l67-5 67 11 66 1 67-5 67 3 67-3 67 2 67-27 66-18 67-2 67-2 67 10 67-4 67-4M119 1239l67-3 67 8 66 2 67 0 67-1 67 2 67-1 67-34 66-8 67-10 67 7 67 4 67-10 67 1M119 1239l67-9 67 12 66 4 67-2 67 0 67-1 67 0 67-29 66-14 67-4 67 0 67 12 67-11 67 5M119 1233l67-5 67 13 66 0 67-1 67 1 67 2 67-4 67-19 66-17 67-7 67 1 67 13 67-11 67 1M119 1242l67-6 67 3 66 3 67 1 67 1 67 1 67-1 67-30 66-13 67-4 67 3 67 7 67-8 67-3M119 1240l67-8 67 10 66 1 67 2 67-1 67 1 67 1 67-29 66-17 67-5 67-1 67 17 67-10 67 1M119 1240l67-7 67 10 66 3 67-2 67 1 67 0 67 1 67-29 66-18 67-6 67 5 67 10 67-8 67-6M119 1236l67-4 67 8 66 5 67-1 67-1 67-1 67 0 67-25 66-18 67-2 67-3 67 15 67-7 67-3M119 1238l67-10 67 9 66 2 67 2 67-1 67 0 67 0 67-27 66-21 67 1 67 2 67 2 67 0 67 1M119 1239l67-12 67 10 66 5 67-4 67 1 67 3 67-1 67-31 66-20 67 2 67-1 67 5 67 0 67-5M119 1238l67-10 67 8 66 4 67 2 67-1 67 0 67-2 67-26 66-18 67-3 67 4 67 6 67-9 67 5M119 1238l67-4 67 8 66 4 67-2 67 1 67 1 67-4 67-27 66-16 67-4 67 3 67 7 67-8 67-2M119 1239l67-5 67 9 66 6 67-7 67 4 67-1 67 1 67-28 66-20 67-2 67 0 67 8 67-5 67 0M119 1241l67-5 67 9 66 0 67-2 67 2 67 0 67-4 67-26 66-18 67 1 67-3 67 7 67-2 67 2M119 1234l67-5 67 12 66-1 67 1 67 1 67-1 67-2 67-26 66-19 67-4 67 5 67 7 67-12 67 2M119 1235l67-1 67 9 66 2 67 2 67-3 67 1 67-6 67-26 66-20 67-1 67 2 67 10 67-11 67 1M119 1233l67-6 67 11 66 6 67-2 67 1 67-2 67 1 67-29 66-17 67-6 67 1 67 12 67-3 67-1M119 1235l67-9 67 16 66-1 67 0 67-1 67 2 67 0 67-29 66-17 67-5 67 3 67 8 67-12 67 5M119 1238l67-8 67 13 66 2 67-3 67-2 67 2 67-1 67-27 66-22 67 3 67-2 67 9 67-6 67 1M119 1237l67-4 67 4 66 3 67 4 67 0 67 0 67-3 67-26 66-21 67-3 67 2 67 9 67-5 67 0M119 1240l67-5 67 8 66 0 67-2 67 2 67-1 67 1 67-27 66-19 67 0 67 1 67 6 67-5 67-2M119 1237l67-8 67 11 66 7 67-2 67-2 67 0 67 2 67-32 66-14 67-5 67 2 67 9 67-8 67 3M119 1239l67-6 67 7 66 2 67 0 67 4 67-2 67 1 67-28 66-21 67-3 67 0 67 13 67-5 67-6M119 1237l67-8 67 12 66 2 67 0 67-1 67 2 67-3 67-28 66-15 67-6 67 1 67 11 67-6 67-3M119 1239l67-10 67 8 66 6 67 2 67-3 67 1 67-1 67-31 66-16 67 0 67-2 67 11 67-9 67-2M119 1241l67-9 67 9 66 1 67 1 67 3 67-5 67 0 67-26 66-17 67-5 67 0 67 10 67-4 67-3M119 1236l67-3 67 9 66 2 67 0 67-2 67 0 67-1 67-27 66-19 67-3 67 2 67 10 67-7 67 0M119 1239l67-10 67 16 66-3 67 1 67-2 67 1 67-2 67-26 66-17 67-4 67 1 67 10 67-8 67-1M119 1238l67-6 67 9 66 2 67 0 67 0 67 0 67-2 67-26 66-19 67-2 67-1 67 7 67-4 67 2M119 1238l67-6 67 11 66 2 67-1 67-4 67 2 67-1 67-27 66-20 67 0 67 4 67 5 67-5 67 0M119 1237l67-7 67 11 66-3 67 5 67-1 67 2 67-5 67-23 66-19 67-4 67 1 67 11 67-11 67-2M119 1238l67-8 67 14 66-2 67 1 67-2 67 2 67-2 67-26 66-16 67-1 67-2 67 7 67-4 67-3" stroke="#ff3276" stroke-opacity="0.92"/>
</g>
<path d="M79.3 1142.8 V1282.2 H1093.0" fill="none" stroke="#3a3a3a" stroke-width="1.8"/>
<path d="M78.4 1177.6h-2.5M78.4 1222.6h-2.5M78.4 1267.8h-2.5M119.0 1283.1v3.5M185.8 1283.1v3.5M252.7 1283.1v3.5M319.5 1283.1v3.5M386.3 1283.1v3.5M453.1 1283.1v3.5M520.0 1283.1v3.5M586.8 1283.1v3.5M653.6 1283.1v3.5M720.5 1283.1v3.5M787.3 1283.1v3.5M854.1 1283.1v3.5M921.0 1283.1v3.5M987.8 1283.1v3.5M1054.6 1283.1v3.5" stroke="#3a3a3a" stroke-width="1.2" fill="none"/>
<text x="1079.0" y="1167.2" font-size="19.0" style="font-family:'Liberation Serif',serif;font-weight:normal" text-anchor="start" fill="#000" >Membership</text>
<defs><linearGradient id="g3" x1="0" y1="0" x2="0" y2="1"><stop offset="0.00" stop-color="#ff3276"/><stop offset="0.10" stop-color="#ff32d1"/><stop offset="0.20" stop-color="#d232ff"/><stop offset="0.30" stop-color="#7832ff"/><stop offset="0.40" stop-color="#3247ff"/><stop offset="0.50" stop-color="#32a1ff"/><stop offset="0.60" stop-color="#32fbff"/><stop offset="0.70" stop-color="#32ffa8"/><stop offset="0.80" stop-color="#32ff4e"/><stop offset="0.90" stop-color="#71ff32"/><stop offset="1.00" stop-color="#ccff32"/></linearGradient></defs>
<rect x="1112.3" y="1174.8" width="18.0" height="88.2" fill="url(#g3)" opacity="0.85"/>
<text x="1134.4" y="1194.0" font-size="11.0" style="font-family:'Liberation Sans',sans-serif;font-weight:normal" text-anchor="start" fill="#333" >0.40</text>
<text x="1134.4" y="1216.5" font-size="11.0" style="font-family:'Liberation Sans',sans-serif;font-weight:normal" text-anchor="start" fill="#333" >0.35</text>
<text x="1134.4" y="1238.6" font-size="11.0" style="font-family:'Liberation Sans',sans-serif;font-weight:normal" text-anchor="start" fill="#333" >0.30</text>
<text x="1134.4" y="1261.1" font-size="11.0" style="font-family:'Liberation Sans',sans-serif;font-weight:normal" text-anchor="start" fill="#333" >0.25</text>
<text x="83.0" y="1335.2" font-size="36.8" style="font-family:'Liberation Serif',serif;font-weight:bold" text-anchor="start" fill="#000" >Sub-cluster 5</text>
<text x="0" y="0" font-size="31.25" style="font-family:'Liberation Serif',serif;font-weight:bold" transform="translate(34.7 1494.7) rotate(-90)">Protein Ratio</text>
<text x="70.0" y="1398.0" font-size="31.0" style="font-family:'Liberation Serif',serif;font-weight:bold" text-anchor="end" fill="#000" >2</text>
<text x="70.0" y="1436.7" font-size="31.0" style="font-family:'Liberation Serif',serif;font-weight:bold" text-anchor="end" fill="#000" >0</text>
<text x="70.0" y="1474.5" font-size="31.0" style="font-family:'Liberation Serif',serif;font-weight:bold" text-anchor="end" fill="#000" >-2</text>
<g class="l">
<path d="M119 1425l67 5 67-3 67 26 67-6 67 12 66-17 67 12 67 2 67 3 67 0 67 2 66-1 67 3 67 6M119 1422l67 9 67-4 67 24 67-5 67-14 66 25 67-9 67-54 67 20 67 4 67-2 66-23 67 15 67-6M119 1358l67 2 67 7 67 32 67-3 67 21 66-17 67-15 67 12 67 1 67 14 67 7 66-18 67-13 67 14M119 1424l67 7 67-7 67 21 67 12 67-2 66-6 67-4 67-52 67 11 67 12 67-10 66-18 67 33 67-25M119 1433l67-1 67-11 67-25 67 2 67-4 66 10 67-18 67 5 67 9 67 15 67-11 66-8 67 48 67-36M119 1417l67-7 67 17 67-25 67-5 67-8 66 13 67-12 67 7 67 6 67 8 67 17 66-35 67 18 67-1M119 1356l67 7 67-12 67 42 67 1 67-2 66 19 67-11 67-12 67 13 67 11 67 3 66-17 67 12 67 0M119 1432l67-6 67-2 67 29 67 5 67-6 66-7 67 12 67-57 67 12 67 13 67-3 66-27 67 15 67-11M119 1431l67-5 67-2 67-21 67-10 67-5 66 18 67-19 67 21 67-9 67 14 67 1 66-32 67 43 67-21M119 1356l67 4 67-12 67 57 67-8 67-10 66 14 67-10 67 22 67-7 67 17 67-6 66-29 67 27 67 8" stroke="#ccff32" stroke-opacity="0.50"/>
<path d="M119 1421l67-2 67-21 67 54 67 3 67 1 66-13 67 11 67-55 67 1 67 11 67 4 66-22 67 14 67-2M119 1415l67 8 67 5 67 26 67-9 67-14 66 20 67 6 67-3 67 4 67 0 67 1 66-2 67 5 67 4M119 1358l67 2 67 5 67 34 67-5 67-2 66 9 67-16 67 12 67 10 67 5 67 2 66-18 67 14 67-6M119 1432l67-6 67-7 67-22 67-3 67 30 66-13 67-15 67 2 67 10 67 16 67-9 66-4 67 33 67-47M119 1427l67 4 67-2 67-32 67 8 67-4 66-1 67-12 67 20 67-15 67 21 67 0 66-17 67 14 67 29M119 1362l67-1 67-11 67 56 67-12 67-8 66 14 67 0 67-3 67 3 67 27 67-15 66-29 67 30 67-1M119 1357l67 5 67 12 67 21 67-3 67 0 66 8 67-10 67 65 67 6 67-5 67 3 66-5 67 6 67 6M119 1416l67 9 67-5 67 38 67-3 67-1 66-3 67 4 67-57 67 4 67 15 67 0 66-20 67 15 67 2M119 1429l67 0 67-16 67-20 67 3 67-1 66 5 67 8 67-7 67 16 67-3 67 1 66-1 67-2 67 17M119 1426l67 3 67-1 67 25 67 1 67 2 66-7 67 6 67-1 67 3 67 1 67 1 66-1 67-2 67 12" stroke="#a4ff32" stroke-opacity="0.52"/>
<path d="M119 1407l67 21 67-2 67-3 67 29 67 5 66-4 67-1 67-45 67-3 67 11 67 12 66-10 67-8 67-13M119 1417l67 10 67 1 67 14 67-3 67 14 66 1 67 0 67-53 67-1 67 26 67-16 66-12 67 10 67 0M119 1407l67 21 67-3 67 30 67-10 67 11 66-3 67 1 67 0 67 5 67-5 67 1 66 3 67-1 67 4M119 1426l67 2 67-1 67 27 67 2 67 3 66-11 67 1 67 6 67 4 67-2 67 3 66-17 67 17 67 8M119 1430l67-2 67-5 67 28 67 7 67-5 66-1 67 0 67-54 67 5 67 12 67 3 66-21 67 13 67-6M119 1360l67 1 67 6 67 25 67 6 67-1 66 7 67-12 67 22 67 24 67-23 67-6 66-16 67 15 67 1M119 1433l67-4 67-11 67 30 67 6 67 3 66-9 67 7 67-49 67-6 67 21 67-7 66-17 67 11 67 11" stroke="#7dff32" stroke-opacity="0.54"/>
<path d="M119 1360l67 2 67 1 67 52 67-19 67-2 66 8 67-7 67 19 67-3 67-1 67 13 66-14 67 15 67-8M119 1420l67 8 67-11 67-9 67-12 67-2 66 18 67-19 67 6 67 29 67-9 67 8 66-30 67 8 67 8M119 1427l67-5 67 0 67 29 67 5 67-13 66-1 67 13 67-55 67-4 67 30 67-11 66-17 67 17 67-8M119 1431l67-9 67 4 67 26 67 4 67-11 66 7 67 2 67-36 67-7 67 12 67 6 66-32 67 34 67 7M119 1410l67 13 67 1 67 22 67 12 67-6 66-6 67 2 67 3 67 9 67-3 67 3 66-2 67 4 67-1M119 1426l67 6 67-30 67 49 67 3 67 2 66-26 67 22 67-56 67 20 67-5 67 2 66-4 67 13 67-8M119 1358l67 7 67 3 67 33 67-5 67 8 66 22 67-41 67 69 67 6 67-5 67 0 66-1 67 7 67 0M119 1355l67 8 67 20 67 20 67 11 67-16 66 2 67-2 67 27 67-15 67 7 67 0 66-22 67 17 67 3M119 1431l67-7 67-8 67-20 67-1 67 17 66-11 67-3 67 12 67 3 67 2 67 6 66-28 67 15 67 2M119 1421l67-4 67-3 67 34 67-17 67 23 66 0 67-2 67-46 67-8 67 24 67 4 66-14 67 16 67-15M119 1413l67 16 67-3 67 2 67 25 67-3 66-7 67-13 67 15 67 13 67-1 67 2 66-2 67 2 67 8" stroke="#56ff32" stroke-opacity="0.55"/>
<path d="M119 1414l67 14 67-7 67 25 67 9 67-14 66 3 67 8 67-35 67-14 67 28 67-14 66-1 67 10 67 3M119 1359l67 10 67-2 67 30 67 4 67 0 66 0 67 8 67-7 67-4 67 32 67-14 66-21 67 24 67-5M119 1425l67 0 67-18 67-5 67-5 67-5 66 15 67-10 67 6 67 34 67-20 67-4 66-21 67 33 67-12M119 1433l67-11 67-6 67 33 67-6 67-1 66 9 67-8 67-44 67 24 67 4 67-12 66 7 67-2 67-8M119 1411l67 16 67-9 67-23 67 7 67 2 66-6 67 11 67 4 67 19 67-17 67 22 66-5 67-20 67 16M119 1409l67 15 67 0 67 29 67 2 67-1 66-10 67-1 67 9 67 4 67-1 67 4 66-3 67 0 67-5M119 1417l67 3 67 2 67-1 67 22 67 11 66-6 67-1 67-43 67 0 67 14 67 13 66-30 67 3 67 5M119 1427l67 0 67-9 67 35 67-2 67-4 66 5 67 1 67-50 67 13 67 23 67-16 66-10 67-1 67 0M119 1360l67 3 67 5 67 32 67 17 67-2 66-13 67 8 67 1 67 3 67 0 67 7 66-20 67 30 67-2M119 1415l67 7 67-6 67 27 67 12 67-9 66 1 67 7 67-39 67-14 67 18 67-3 66-6 67 12 67-16M119 1360l67 8 67-11 67 44 67-1 67-5 66 15 67-3 67-6 67 17 67 11 67-9 66-21 67 13 67 18M119 1418l67 3 67-6 67 36 67 5 67-5 66-9 67 6 67 6 67 4 67-8 67 7 66-4 67 4 67 4M119 1428l67-7 67-2 67 32 67-4 67 8 66-8 67 5 67-39 67-20 67 32 67-7 66-6 67-1 67 20M119 1408l67 13 67-5 67 25 67 9 67-2 66-7 67 13 67 0 67 3 67-2 67 3 66-3 67 6 67 5M119 1359l67 3 67-7 67 75 67 27 67-4 66-1 67 1 67-9 67 16 67-5 67 1 66-2 67 1 67 5" stroke="#32ff36" stroke-opacity="0.57"/>
<path d="M119 1425l67 2 67-6 67 29 67-21 67 21 66-3 67-11 67-6 67-13 67 3 67 0 66-7 67 9 67-15M119 1423l67 0 67-5 67 27 67 10 67-4 66 0 67 3 67-12 67 16 67 0 67-3 66-7 67-2 67 21M119 1393l67 27 67 4 67-22 67-5 67 0 66 8 67-4 67 4 67 0 67 24 67 4 66-36 67 19 67 13M119 1358l67 12 67 1 67 38 67-6 67-5 66 5 67 3 67-1 67 16 67 3 67 2 66-20 67 34 67-11M119 1427l67-4 67 1 67-23 67 4 67-2 66 5 67-15 67 20 67-9 67 18 67-4 66-19 67 13 67 5M119 1361l67 7 67 0 67 29 67 1 67 4 66 0 67 6 67-12 67 27 67 7 67-10 66-7 67 3 67 23M119 1357l67 8 67-10 67 43 67 3 67 3 66 6 67-12 67 11 67 10 67 15 67-9 66-25 67 31 67-19M119 1364l67 0 67-2 67 50 67-6 67 8 66-8 67 2 67 14 67 19 67-11 67-9 66-8 67 5 67 0M119 1418l67 2 67-1 67 24 67 5 67-4 66 7 67-16 67-33 67 19 67-6 67 8 66-23 67 27 67-5M119 1418l67-4 67 0 67-19 67 13 67-5 66 4 67-5 67 3 67 11 67 8 67-10 66-1 67 12 67 9M119 1371l67-4 67-3 67 46 67-12 67-1 66 12 67-5 67 8 67 6 67 22 67-19 66-16 67 1 67 23M119 1424l67-2 67 0 67 30 67-8 67 2 66 0 67-5 67-37 67 34 67-11 67 3 66 4 67-12 67 14M119 1414l67 17 67-35 67 12 67-4 67-2 66 6 67-19 67 15 67 16 67 23 67-22 66 14 67-6 67 0M119 1361l67 17 67-2 67 65 67 14 67-5 66-3 67 6 67-12 67 17 67-1 67-2 66 2 67 1 67 1" stroke="#32ff5d" stroke-opacity="0.59"/>
<path d="M119 1408l67 13 67-5 67 30 67 1 67 0 66-5 67 7 67 1 67 9 67-4 67 3 66-7 67 7 67 2M119 1418l67 3 67-3 67 28 67 1 67-4 66 0 67-1 67 8 67 7 67-2 67 1 66-3 67 9 67-3M119 1402l67 9 67 7 67 24 67-1 67 6 66 0 67-5 67-28 67-19 67 46 67-13 66-29 67 33 67-16M119 1411l67 14 67-10 67 25 67 7 67-3 66-1 67 8 67-38 67 2 67 15 67-1 66-2 67 2 67-23M119 1366l67 6 67-19 67 50 67-1 67 2 66-2 67 6 67 5 67-9 67 29 67-5 66-28 67 23 67 6M119 1358l67 10 67-1 67 37 67-1 67-2 66 8 67 9 67-8 67 9 67 7 67 3 66-30 67 16 67 8M119 1407l67 12 67-2 67 29 67 0 67-2 66-2 67 6 67 2 67 6 67-2 67 4 66-5 67 4 67 8M119 1411l67 17 67-10 67-13 67-1 67-1 66 15 67-14 67 3 67 11 67 13 67-9 66-1 67 10 67-7M119 1424l67 5 67-16 67 33 67 5 67-21 66 13 67 5 67-34 67 4 67 9 67 0 66 5 67 8 67-19" stroke="#32ff85" stroke-opacity="0.61"/>
<path d="M119 1405l67 20 67-7 67 26 67 5 67-3 66 4 67-3 67-25 67-6 67 0 67 14 66-30 67 31 67 1M119 1413l67 12 67-10 67 32 67-1 67-11 66 9 67 9 67-49 67 8 67 13 67 15 66-22 67 20 67-9M119 1364l67 8 67 4 67 31 67-2 67 0 66 4 67-2 67 3 67-1 67 20 67 7 66-35 67 20 67 8M119 1427l67-7 67-6 67 29 67 2 67-2 66-2 67 10 67-39 67-8 67 25 67-12 66 3 67 6 67-2M119 1365l67 6 67-5 67 39 67-1 67-2 66 4 67 5 67 2 67 9 67 4 67-3 66-11 67 17 67-10M119 1364l67 7 67-4 67 36 67 3 67 1 66 0 67 9 67-1 67 9 67 7 67-4 66-3 67 3 67-4" stroke="#32ffac" stroke-opacity="0.63"/>
<path d="M119 1405l67 18 67-7 67-9 67-2 67-7 66 9 67 3 67 4 67 9 67 9 67-2 66 0 67-13 67 12M119 1406l67 15 67 1 67 21 67 5 67-4 66-1 67 8 67-47 67 10 67 12 67-1 66-12 67 14 67-5M119 1409l67 11 67-2 67-11 67 0 67-12 66 11 67 7 67 0 67 8 67 10 67-5 66-12 67 13 67-24M119 1365l67 1 67 2 67 34 67-1 67-8 66 14 67 1 67 4 67 10 67 0 67 6 66-14 67 11 67-2M119 1407l67 9 67-2 67 27 67 6 67-2 66-2 67 4 67 3 67 8 67-4 67 2 66-3 67 0 67 6" stroke="#32ffd3" stroke-opacity="0.65"/>
<path d="M119 1409l67 10 67-5 67-7 67-1 67-1 66 4 67 1 67 18 67-5 67 7 67 0 66-16 67 14 67 1M119 1406l67 17 67-7 67 28 67-5 67 4 66-1 67 6 67-4 67 14 67-4 67 1 66-5 67 6 67 6M119 1408l67 12 67-6 67 27 67 7 67-5 66 2 67 2 67 3 67 7 67-6 67 4 66-4 67 12 67-13M119 1409l67 12 67-5 67 30 67-2 67 1 66-1 67 5 67-34 67 3 67 13 67-4 66-11 67 12 67-4M119 1404l67 18 67-8 67 27 67 4 67-2 66 0 67 6 67 1 67 6 67-2 67 2 66-3 67 3 67 3M119 1391l67 29 67-7 67 30 67 1 67 1 66-3 67 1 67 8 67 6 67-3 67 1 66-4 67 3 67 7M119 1408l67 13 67-5 67 21 67 6 67 0 66 1 67 6 67-38 67 11 67 10 67-3 66-13 67 13 67 0M119 1365l67 5 67-5 67 41 67 1 67-4 66 13 67 3 67-7 67 10 67 6 67-3 66-10 67 17 67-5" stroke="#32fffa" stroke-opacity="0.66"/>
<path d="M119 1408l67-2 67 6 67 30 67 2 67 3 66-5 67 5 67-33 67 9 67 12 67-8 66-2 67 6 67-10M119 1408l67 11 67-4 67 30 67-4 67 1 66 0 67 6 67 3 67 5 67-2 67 2 66-4 67 5 67 0M119 1409l67 13 67-6 67 29 67-2 67 3 66-2 67 4 67 1 67 8 67-6 67 4 66-2 67 3 67-2M119 1406l67 14 67-10 67-6 67 2 67-3 66 3 67 7 67 2 67 7 67 18 67-13 66-6 67 11 67-4" stroke="#32dcff" stroke-opacity="0.68"/>
<path d="M119 1364l67 9 67 2 67 33 67-1 67-2 66 3 67 8 67 5 67-7 67 18 67-7 66-5 67 15 67-9M119 1364l67 6 67-3 67 38 67 2 67-3 66 4 67-4 67 9 67 8 67 13 67-9 66-9 67 11 67 2M119 1363l67 9 67-1 67 45 67-10 67-1 66 3 67-2 67 5 67 7 67 13 67-2 66-2 67 4 67-2M119 1406l67 13 67-8 67 34 67 2 67-2 66-3 67-3 67 11 67 5 67-1 67 1 66-3 67-4 67 11M119 1365l67 8 67-5 67 75 67 1 67-7 66 7 67 3 67-21 67-4 67 9 67-1 66-12 67 13 67-3" stroke="#32b5ff" stroke-opacity="0.70"/>
<path d="M119 1398l67 10 67 5 67 27 67-1 67 3 66 0 67 6 67-34 67 7 67 13 67-6 66-11 67 13 67-3M119 1406l67 11 67-4 67 29 67 2 67-10 66 8 67 2 67-22 67 2 67 7 67 9 66-23 67 13 67 2M119 1404l67 15 67-4 67 22 67 7 67-2 66-1 67 2 67-18 67-2 67 8 67-2 66 4 67-2 67-3M119 1405l67 11 67-2 67 23 67 7 67-1 66-10 67 5 67-24 67 13 67 4 67-2 66-7 67 9 67-3M119 1366l67 6 67-1 67 38 67 5 67-10 66 4 67 3 67 6 67 4 67 9 67-2 66-5 67 5 67 1M119 1367l67 6 67-5 67 40 67 4 67-4 66 0 67 3 67 8 67 10 67 2 67-1 66-13 67 13 67 9M119 1406l67 10 67-3 67-7 67 1 67 0 66 3 67-4 67 7 67 24 67-10 67 3 66-12 67 13 67-3M119 1364l67 11 67-7 67 36 67 1 67 0 66 4 67 8 67-1 67 5 67 13 67-4 66 4 67-3 67-3M119 1367l67 11 67-11 67 43 67-5 67 2 66 3 67 1 67 3 67 8 67 9 67-4 66-2 67 4 67 0M119 1406l67 13 67-6 67 29 67-1 67 0 66-3 67 8 67-19 67-4 67 13 67-3 66-8 67 9 67-7" stroke="#328dff" stroke-opacity="0.72"/>
<path d="M119 1406l67 14 67-6 67 26 67-5 67 7 66-5 67 10 67-19 67-2 67 5 67-1 66-5 67 10 67-8M119 1365l67 7 67-3 67 37 67 1 67-2 66 4 67 0 67 6 67 7 67 8 67 1 66-12 67 17 67-3M119 1406l67 11 67-3 67 25 67 5 67-2 66-2 67 7 67 2 67 8 67-3 67 0 66-1 67 3 67 3M119 1404l67 15 67-6 67 29 67 1 67-5 66 4 67 2 67 5 67-2 67 6 67 2 66-5 67 6 67 3M119 1400l67 3 67 11 67-7 67 0 67 8 66-1 67-6 67 40 67 9 67-3 67-3 66 2 67 4 67-5M119 1399l67 20 67-6 67 21 67 9 67-2 66-2 67 9 67-32 67 7 67 16 67-9 66-9 67 6 67 5M119 1411l67-1 67 3 67 30 67-5 67 3 66 1 67 5 67-3 67 12 67-2 67 2 66-4 67 1 67 6M119 1409l67 11 67-6 67 26 67 3 67 0 66-8 67 13 67-34 67 7 67 17 67 2 66-20 67 11 67 10M119 1403l67 17 67-18 67 35 67 6 67-3 66-1 67 9 67-33 67 7 67 8 67 2 66-7 67 12 67-6M119 1405l67 14 67-5 67 23 67 1 67 1 66 3 67 5 67 2 67 6 67-4 67-3 66 4 67 1 67 6M119 1366l67 7 67-2 67 38 67-2 67-2 66 4 67 5 67 0 67 9 67 15 67-8 66-2 67 2 67-4M119 1367l67 7 67-1 67 34 67 0 67-3 66 5 67 2 67 20 67-8 67 14 67-1 66-15 67 15 67-11M119 1365l67 12 67-9 67 64 67 11 67-2 66-1 67-4 67 13 67 5 67-4 67 4 66-6 67 4 67 2M119 1398l67 21 67-7 67 27 67 2 67-1 66-6 67 13 67 2 67 1 67 1 67-1 66 2 67 4 67-5M119 1406l67 3 67 0 67-2 67 9 67-9 66 2 67 0 67 4 67 12 67 11 67-2 66-9 67 6 67 2M119 1405l67 15 67-7 67 24 67 1 67 8 66-8 67 6 67 5 67 7 67-2 67-1 66 0 67 3 67 3M119 1406l67 13 67-11 67 3 67-5 67 8 66-6 67 2 67 12 67 3 67 10 67-5 66 4 67-6 67 8M119 1405l67 10 67 0 67 24 67 1 67 2 66 0 67 6 67-25 67 0 67 9 67 4 66-12 67 11 67-5M119 1367l67 9 67-3 67 43 67-3 67-8 66 3 67 3 67 4 67 17 67 0 67-3 66-8 67 17 67-9M119 1365l67 9 67 3 67 29 67 1 67-2 66 6 67 1 67 38 67-3 67 7 67-4 66-1 67 7 67 2M119 1364l67 12 67 0 67 66 67 0 67-5 66 5 67-2 67-26 67 9 67 12 67 5 66-19 67 10 67 6M119 1365l67 8 67-1 67 34 67 7 67-8 66 5 67 1 67 38 67 7 67-2 67-2 66-2 67 6 67 4M119 1399l67 15 67-4 67 6 67-3 67-7 66 6 67-5 67 11 67 17 67-5 67-1 66-8 67 10 67 2M119 1407l67 9 67-3 67 19 67 11 67-1 66-7 67 1 67 11 67 9 67-2 67 0 66-1 67 3 67-6M119 1404l67 15 67-8 67-4 67 6 67-8 66 3 67 9 67 9 67-5 67 11 67-1 66-15 67 15 67 6M119 1405l67 3 67 2 67 31 67 2 67-1 66 1 67 4 67 2 67 3 67-2 67 5 66-2 67 3 67 3M119 1406l67 13 67-10 67 32 67 2 67-10 66 4 67 3 67 9 67 7 67-5 67 0 66 0 67-4 67 9M119 1365l67 11 67-7 67 47 67-8 67-3 66 4 67 1 67 9 67 3 67 14 67-5 66-11 67 15 67-2" stroke="#3266ff" stroke-opacity="0.74"/>
<path d="M119 1364l67 13 67-6 67 67 67 1 67-7 66 10 67 5 67 2 67 6 67-3 67-2 66 3 67 3 67-3M119 1366l67 7 67-3 67 39 67-2 67 0 66 2 67 9 67-3 67 17 67 3 67-3 66-1 67-2 67 4M119 1397l67 22 67-4 67-4 67 6 67-12 66 7 67 1 67 0 67 12 67 8 67-3 66-8 67 7 67 5M119 1406l67 13 67-19 67 34 67 7 67-4 66 5 67 4 67 3 67 5 67-1 67 0 66 0 67-3 67 8M119 1368l67 10 67-10 67 42 67 5 67-5 66-1 67 8 67 3 67 17 67-6 67 2 66-9 67 12 67-8M119 1405l67 4 67 0 67 29 67 4 67-3 66 4 67-7 67 13 67 5 67 0 67-6 66 5 67-5 67 11M119 1405l67 4 67 0 67 28 67 7 67-9 66 7 67 4 67 3 67-4 67 7 67 0 66 1 67 3 67-1M119 1391l67 29 67-14 67 30 67 2 67 4 66 0 67-3 67-21 67 5 67 15 67-4 66-4 67 0 67 2M119 1396l67 9 67 7 67 25 67 5 67-2 66 1 67 4 67 1 67 10 67-2 67-1 66-1 67 2 67 1M119 1403l67 11 67-1 67 28 67-2 67-9 66 5 67 7 67-15 67 0 67 3 67 4 66-13 67 11 67 3M119 1400l67 10 67-6 67 35 67-1 67 4 66 0 67 3 67 2 67 0 67 5 67 2 66-1 67 3 67-6M119 1405l67 14 67-14 67 33 67 2 67-3 66 3 67-2 67 11 67 1 67 4 67 1 66-4 67 4 67 2M119 1405l67 15 67-8 67 29 67 0 67-2 66-1 67-2 67-17 67 12 67 1 67 2 66-4 67 0 67 3M119 1405l67 13 67-5 67 28 67-1 67-4 66 5 67-5 67 12 67 3 67-1 67 3 66-2 67-2 67 6M119 1366l67 8 67 0 67 35 67 0 67 0 66 5 67 7 67-7 67 9 67 17 67-8 66-11 67 14 67 4M119 1367l67 6 67 1 67 33 67 4 67 1 66 3 67-1 67 15 67 8 67-7 67 5 66-9 67 7 67-4M119 1367l67 6 67-1 67 35 67 1 67 4 66 2 67-2 67 18 67 5 67 2 67-1 66-4 67 2 67 1M119 1393l67 11 67 8 67 23 67 7 67 0 66-6 67 11 67 2 67 7 67-7 67 3 66-4 67 8 67-2M119 1370l67 12 67-13 67 40 67 9 67-11 66 8 67 0 67 5 67 13 67 0 67-3 66-1 67 4 67 2M119 1405l67 3 67 5 67 25 67 5 67-5 66-8 67 15 67 0 67 9 67 0 67-6 66-1 67 1 67 7M119 1405l67 4 67-6 67 29 67 0 67 3 66-5 67 12 67-26 67 22 67-7 67 7 66-10 67 7 67-5M119 1396l67 18 67-6 67 6 67 1 67-10 66 9 67-1 67 8 67 6 67 10 67-7 66-3 67 12 67-8M119 1368l67 12 67-9 67 70 67-3 67-1 66-1 67 10 67 3 67 3 67-2 67-3 66 3 67 1 67 3M119 1405l67 5 67 4 67 25 67 1 67 0 66 3 67 3 67-22 67 6 67 1 67-1 66 4 67 4 67-2M119 1406l67 5 67-2 67 29 67-5 67 3 66 8 67-1 67 6 67 7 67-2 67 1 66-5 67-2 67 11M119 1405l67 11 67-17 67 38 67 1 67-2 66 7 67-2 67-16 67 9 67-1 67-3 66-9 67 19 67-10M119 1395l67 18 67-2 67 2 67-6 67-1 66 5 67 2 67 6 67 15 67 5 67-10 66 5 67 1 67 0M119 1396l67 22 67-12 67 10 67-5 67-7 66 4 67 8 67-1 67 21 67-2 67 6 66-14 67 6 67-4M119 1398l67 13 67-3 67 1 67-2 67-2 66 12 67-4 67 16 67 5 67-1 67 7 66-11 67 1 67 0M119 1369l67 4 67-4 67 45 67 1 67-7 66 3 67-1 67 19 67-1 67 3 67-1 66-9 67 19 67-3M119 1399l67 2 67 12 67 21 67-1 67-2 66 0 67 16 67-3 67 5 67 1 67-3 66 5 67-6 67 13M119 1395l67 24 67-18 67 13 67 4 67-11 66 3 67 0 67 7 67 21 67-7 67 9 66-8 67 1 67 4M119 1393l67 21 67-1 67 26 67-5 67 5 66 2 67-5 67-15 67 2 67 8 67-1 66-2 67 5 67-4M119 1395l67 10 67-1 67 5 67 8 67-12 66 7 67 2 67 6 67 10 67 10 67-7 66-5 67 8 67 4M119 1367l67 9 67-4 67 38 67-2 67 1 66 0 67 8 67 0 67 16 67 1 67-5 66 5 67 2 67-3M119 1373l67 0 67 2 67 60 67 8 67-10 66 6 67 8 67 1 67 8 67-7 67-1 66-3 67 10 67-4M119 1404l67 3 67 5 67 29 67 1 67-2 66-8 67 10 67 6 67 2 67 0 67 3 66-6 67 2 67 4M119 1370l67 7 67-2 67 42 67-5 67 3 66-3 67-1 67 14 67 4 67 8 67 0 66-11 67 11 67-5M119 1402l67 11 67 0 67 25 67-5 67 5 66-7 67 16 67 2 67 7 67-6 67 3 66-9 67 5 67 5M119 1395l67 20 67-7 67 33 67-3 67-7 66 1 67 15 67-3 67 0 67 5 67 2 66 1 67-4 67 9M119 1398l67 11 67-9 67 35 67 8 67-7 66-4 67 9 67 2 67 2 67 5 67-1 66-4 67 11 67 3M119 1367l67 9 67-3 67 41 67-5 67-4 66 7 67 1 67 12 67-2 67 17 67-6 66 0 67 3 67-3M119 1366l67 9 67-2 67 35 67 3 67-1 66 8 67-4 67 30 67 4 67 6 67-7 66 4 67 2 67 2M119 1373l67 3 67-2 67 41 67-4 67-2 66 8 67-6 67 20 67-3 67 5 67-3 66-9 67 11 67 3M119 1373l67 3 67-6 67 38 67 5 67 2 66-5 67 7 67 7 67 10 67 2 67 3 66-7 67 2 67 7M119 1366l67 12 67-5 67 36 67 3 67-1 66-2 67 2 67 12 67 14 67-2 67 1 66-2 67-1 67 2M119 1390l67 25 67-13 67 11 67 8 67-10 66 2 67 4 67 3 67 4 67 10 67 5 66-13 67 5 67-2M119 1366l67 10 67-5 67 36 67 0 67 4 66 5 67-3 67 2 67 19 67 5 67-7 66-11 67 13 67 0M119 1399l67 19 67-19 67 35 67 7 67-5 66 6 67-4 67 7 67 9 67 0 67-7 66-3 67 3 67 0M119 1369l67 4 67-4 67 39 67 10 67-5 66-1 67 10 67 3 67 4 67 8 67-1 66-9 67 12 67-4M119 1402l67 4 67 3 67-1 67 8 67-4 66-2 67 2 67 6 67 10 67 6 67 6 66-9 67 4 67-2M119 1366l67 15 67-6 67 37 67 0 67 0 66 4 67 4 67 12 67-2 67 9 67-5 66 0 67 3 67-4" stroke="#323fff" stroke-opacity="0.76"/>
<path d="M119 1406l67 13 67-12 67 28 67 8 67-4 66 0 67 2 67-26 67 8 67 13 67-5 66 2 67 6 67 1M119 1368l67 10 67-9 67 38 67 7 67-4 66-1 67 2 67 32 67 9 67-1 67 3 66-2 67 4 67-9M119 1403l67 16 67-15 67 28 67 10 67 0 66-4 67 1 67 7 67 3 67-2 67 4 66 1 67-3 67 10M119 1393l67 12 67 8 67 28 67 0 67 0 66-4 67 10 67-3 67 4 67 0 67 7 66-9 67 7 67-6M119 1398l67 17 67-14 67 30 67 10 67-8 66 3 67 8 67-14 67-9 67 11 67 8 66-19 67 17 67-4M119 1405l67-2 67 10 67 19 67 8 67-8 66 10 67 5 67 1 67 4 67-3 67 4 66 0 67-4 67-2M119 1370l67 12 67-8 67 35 67 3 67 2 66-1 67 7 67 5 67 8 67 1 67 2 66-2 67 1 67-1M119 1393l67 26 67-16 67 36 67-2 67-6 66 4 67-1 67 12 67 3 67-2 67 5 66 0 67-4 67-2M119 1403l67 3 67-2 67 31 67 7 67-4 66-6 67 6 67 11 67 7 67-8 67 5 66-5 67 6 67-7M119 1396l67 16 67-5 67 25 67 1 67-3 66-1 67 10 67 9 67 4 67-1 67-1 66-2 67 2 67 9M119 1370l67 7 67-8 67 38 67 3 67-3 66 2 67 6 67 3 67 19 67 0 67 2 66-17 67 11 67-4M119 1398l67 5 67 1 67 37 67-7 67 6 66-9 67 9 67 4 67 4 67 4 67 3 66-8 67 8 67-2M119 1370l67 9 67-7 67 46 67-3 67-8 66 10 67 0 67-4 67 23 67 1 67 0 66-8 67 5 67 3M119 1402l67 5 67 5 67 5 67-4 67-3 66 0 67 6 67 10 67 6 67 7 67-2 66-11 67 14 67-11M119 1369l67 6 67-3 67 42 67 6 67-13 66 7 67 7 67 5 67 4 67 12 67-4 66-11 67 4 67 1M119 1365l67 16 67-5 67 35 67 3 67-5 66 8 67-1 67 14 67 0 67 4 67-4 66 3 67 2 67 4M119 1398l67 4 67 2 67 10 67 5 67-6 66-3 67 8 67 9 67-1 67 4 67 10 66-11 67 6 67 1M119 1369l67 6 67-4 67 47 67 0 67-4 66 2 67-2 67 17 67 7 67 2 67 0 66-8 67 6 67 2M119 1370l67 12 67-4 67 39 67 0 67-11 66 7 67 3 67-1 67 16 67 2 67-3 66 2 67 5 67-3M119 1366l67 19 67-11 67 44 67 2 67-6 66-1 67 3 67 4 67 16 67 4 67-6 66-8 67 11 67 3M119 1368l67 10 67-9 67 50 67-8 67-6 66 8 67 7 67 23 67 4 67 7 67-7 66 2 67-3 67 5M119 1395l67 9 67-2 67 29 67 1 67-2 66 5 67 11 67-4 67 13 67-3 67-6 66 2 67 3 67-5" stroke="#4d32ff" stroke-opacity="0.77"/>
<path d="M119 1394l67 19 67-13 67 37 67 0 67-4 66-2 67 6 67 11 67 1 67 3 67-2 66-3 67 0 67 5M119 1371l67 8 67-2 67 40 67-6 67-1 66 0 67 10 67 9 67 9 67 1 67 0 66-11 67 7 67 5M119 1367l67 18 67-13 67 66 67-6 67 0 66 4 67-3 67-11 67 17 67-4 67 1 66-5 67 5 67 5M119 1370l67 6 67 1 67 31 67 4 67 4 66-7 67 5 67 4 67 19 67-3 67 4 66-6 67 9 67 0M119 1365l67 7 67 2 67 45 67-2 67-2 66-3 67 5 67 13 67-7 67 12 67 1 66-2 67 6 67-5M119 1367l67 10 67-5 67 44 67 5 67-5 66-6 67 11 67 21 67 8 67-2 67 5 66-6 67 2 67 1M119 1368l67 18 67-17 67 47 67 0 67 2 66-2 67-1 67 11 67 3 67 12 67-3 66-5 67 4 67 3M119 1401l67 11 67-15 67 39 67-5 67 4 66 1 67 0 67 7 67 8 67-3 67-1 66 5 67 0 67 0M119 1392l67 19 67-8 67 28 67 9 67-9 66 4 67 1 67 7 67 2 67 7 67-2 66-6 67 3 67 5M119 1366l67 15 67-7 67 41 67-1 67-7 66 10 67 1 67 25 67 6 67 4 67-4 66-1 67 7 67-7M119 1367l67 10 67-2 67 42 67-6 67-3 66 8 67 6 67 9 67 7 67 0 67 2 66-6 67-2 67 8M119 1372l67 10 67-6 67 40 67-4 67 4 66-1 67 5 67 10 67 8 67-2 67 3 66-6 67 7 67-5M119 1396l67 7 67 7 67 21 67 4 67-2 66 5 67 8 67-16 67-2 67 6 67 3 66-3 67 5 67 0M119 1396l67 10 67-4 67 27 67 7 67 3 66-5 67 2 67-5 67-3 67 8 67 3 66-5 67 6 67-9M119 1371l67 16 67-10 67 41 67-1 67-2 66 1 67 3 67 12 67 6 67 3 67 0 66-11 67 9 67 1" stroke="#7432ff" stroke-opacity="0.79"/>
<path d="M119 1392l67 9 67 5 67 32 67 2 67-12 66 14 67-6 67 7 67 13 67-9 67 8 66-9 67 0 67 13M119 1386l67 22 67-9 67 38 67-4 67 2 66-6 67 8 67 6 67 2 67 4 67 1 66-5 67 5 67 5M119 1399l67 6 67-2 67 32 67-2 67-2 66-1 67 5 67-6 67 10 67 0 67-2 66-3 67 6 67-1M119 1394l67 10 67-8 67 35 67 1 67 6 66-6 67 6 67 2 67 7 67 5 67-3 66 0 67-1 67-1M119 1392l67 10 67 0 67 29 67 4 67 2 66-7 67 4 67 8 67 9 67-2 67-1 66-3 67 7 67-5M119 1393l67 13 67-11 67 36 67 1 67 3 66-5 67 7 67 7 67 0 67 9 67-7 66-2 67 12 67 3M119 1367l67 16 67-10 67 34 67 5 67 4 66-4 67 7 67 4 67 3 67 11 67-2 66-1 67 6 67-1M119 1372l67 13 67-4 67 34 67 0 67 2 66-3 67 3 67 14 67-1 67 6 67 4 66-8 67 7 67 1M119 1370l67 9 67-8 67 41 67 1 67-6 66 6 67 4 67 14 67 6 67 0 67-1 66-4 67 8 67 1M119 1399l67 3 67-2 67 31 67 7 67 0 66-3 67 1 67 7 67 5 67-2 67 5 66-6 67 3 67 0M119 1394l67 7 67-4 67 20 67-3 67 2 66 2 67-1 67 8 67 14 67 0 67 1 66-6 67 5 67 1M119 1371l67 6 67 0 67 40 67 0 67 0 66-1 67 6 67 6 67 4 67 8 67-8 66-5 67 12 67-3M119 1391l67 10 67 1 67 37 67-1 67-5 66 2 67 3 67 7 67 5 67-4 67 1 66 3 67-3 67-1" stroke="#9b32ff" stroke-opacity="0.81"/>
<path d="M119 1398l67 3 67-7 67 41 67-2 67-4 66 4 67 3 67 7 67 6 67-2 67 3 66-6 67 6 67 3M119 1392l67 11 67-4 67 32 67 2 67-1 66-1 67 11 67 0 67 10 67-1 67-3 66-4 67 5 67 5M119 1393l67 20 67-15 67 38 67 1 67-6 66-1 67 6 67-9 67 11 67 2 67 0 66-6 67 6 67 0M119 1390l67 13 67 4 67 4 67 7 67-1 66-4 67 8 67 10 67 3 67 5 67 1 66-5 67 3 67-4M119 1372l67 5 67 1 67 39 67 0 67-4 66 4 67 4 67 8 67 9 67 1 67-2 66-10 67 13 67 0M119 1391l67 10 67-1 67 33 67 0 67-3 66 1 67 10 67 4 67 0 67 1 67 3 66-4 67 3 67 7M119 1387l67 20 67-8 67 36 67 3 67-8 66-1 67 6 67-4 67 7 67 2 67-2 66-6 67 5 67 4M119 1368l67 11 67 3 67 36 67 3 67-10 66 5 67 6 67 9 67 7 67 2 67-2 66-4 67 4 67 2M119 1367l67 12 67-2 67 36 67 1 67 3 66 0 67 4 67 10 67 2 67 7 67 1 66-6 67 1 67-2M119 1392l67 11 67-2 67 30 67 4 67-2 66-1 67 9 67-1 67 4 67 5 67 1 66 1 67-2 67 1M119 1392l67 19 67-9 67 32 67-2 67 3 66-4 67 11 67 2 67-1 67 6 67 0 66-4 67 5 67-4M119 1394l67 6 67 0 67 29 67 7 67-4 66-1 67 7 67-14 67 3 67 12 67 0 66-15 67 16 67 0M119 1405l67-3 67 2 67 32 67 2 67-4 66-2 67 7 67 6 67-1 67 7 67-3 66 0 67 2 67-2M119 1393l67 15 67 1 67 22 67 12 67-5 66-10 67 8 67 6 67 8 67 3 67-4 66-4 67 2 67 5" stroke="#c332ff" stroke-opacity="0.83"/>
<path d="M119 1374l67 5 67-1 67 41 67-4 67-7 66 10 67 0 67 3 67 17 67 1 67 1 66-4 67 5 67-1M119 1369l67 11 67-1 67 39 67-2 67-7 66 6 67 2 67 14 67-3 67 12 67 0 66-15 67 15 67 0M119 1375l67 7 67-6 67 38 67 9 67-9 66 3 67-3 67 28 67 3 67 3 67 2 66-4 67 1 67-1M119 1375l67 5 67-5 67 42 67 3 67-3 66-2 67-1 67 10 67 13 67 4 67 0 66-10 67 6 67 4M119 1376l67-1 67 1 67 40 67 2 67-1 66-1 67 1 67 8 67 12 67 3 67-4 66-4 67 6 67 2M119 1372l67 12 67-6 67 41 67-1 67-3 66 2 67 0 67 24 67 7 67-2 67 4 66-5 67 6 67-1M119 1376l67 4 67-4 67 44 67-3 67-3 66 2 67 0 67 15 67 6 67 3 67 1 66-9 67 7 67-5M119 1370l67 13 67-2 67 31 67 7 67-4 66-1 67 6 67 9 67 9 67 2 67-6 66-1 67 7 67-2M119 1370l67 15 67-9 67 33 67 8 67-5 66 4 67 6 67 6 67 8 67 4 67-5 66-2 67 8 67 0M119 1372l67 5 67-1 67 41 67 4 67-5 66 0 67 6 67 8 67 7 67 4 67-3 66-4 67 6 67 1M119 1370l67 13 67-5 67 40 67-7 67 6 66-5 67 5 67 14 67 6 67 4 67-1 66-10 67 10 67-1M119 1396l67 8 67-5 67 29 67 2 67 0 66 0 67 5 67 6 67 4 67 2 67 1 66-3 67 2 67 0M119 1372l67 9 67-5 67 41 67 0 67 0 66-1 67 4 67 12 67 6 67 2 67 0 66-5 67 5 67-4M119 1370l67 16 67-5 67 33 67 1 67-6 66 9 67 2 67 7 67 10 67-1 67 5 66-7 67 6 67-6" stroke="#ea32ff" stroke-opacity="0.85"/>
<path d="M119 1371l67 12 67-3 67 37 67 0 67-1 66-1 67 8 67 8 67 7 67-5 67 9 66-6 67 5 67-1M119 1370l67 3 67 7 67 38 67 3 67-5 66 1 67 3 67 9 67 9 67-3 67 2 66-2 67-1 67 1M119 1369l67 11 67 0 67 39 67-6 67 0 66 4 67 5 67 8 67 8 67 3 67-1 66-10 67 10 67-1M119 1398l67 3 67-2 67 19 67 2 67-3 66-1 67 3 67 13 67 7 67-1 67 3 66-7 67 6 67-1M119 1389l67 26 67-21 67 34 67 5 67 0 66 0 67 2 67 5 67 5 67 4 67-2 66 1 67-1 67 2M119 1372l67 15 67-7 67 40 67-5 67-1 66 5 67 4 67 7 67 9 67-1 67 2 66-9 67 9 67 0" stroke="#ff32ec" stroke-opacity="0.87"/>
<path d="M119 1372l67 10 67-4 67 40 67 1 67-3 66 1 67 5 67 9 67 9 67 0 67 0 66-6 67 6 67 0M119 1371l67 9 67-3 67 41 67 0 67-1 66 0 67 6 67 18 67 6 67-2 67 1 66-2 67 4 67 3M119 1375l67 9 67-12 67 49 67-5 67 4 66-1 67 1 67 11 67 7 67 3 67-4 66-3 67 0 67 6M119 1370l67 13 67-10 67 42 67 1 67-1 66 4 67-1 67 13 67 8 67-1 67 3 66-4 67 2 67 2M119 1395l67 6 67-5 67 35 67 1 67 0 66-1 67 4 67 9 67 1 67 3 67-1 66 1 67 0 67-2M119 1390l67 8 67 1 67 36 67 1 67-2 66-3 67 3 67-2 67 5 67 2 67 1 66-9 67 9 67-1M119 1393l67 10 67-4 67 35 67-3 67 4 66-6 67 13 67 1 67 12 67-8 67 1 66-6 67 5 67 0M119 1396l67 7 67-6 67 33 67 0 67-2 66 0 67 7 67 7 67 2 67 3 67 0 66-2 67 2 67 0M119 1390l67 13 67-8 67 34 67 1 67 5 66-5 67 5 67 3 67 9 67 0 67-2 66-3 67 8 67-4M119 1395l67 4 67-4 67 33 67 2 67 7 66-5 67 5 67 2 67 4 67 3 67 2 66-2 67-1 67 0M119 1391l67 13 67-6 67 32 67 6 67-4 66-1 67 4 67 4 67 5 67 7 67-5 66 0 67 1 67 0M119 1388l67 16 67-6 67 32 67 3 67-5 66 6 67 2 67 5 67 3 67 6 67-3 66-4 67 4 67 0M119 1369l67 16 67-6 67 38 67 3 67-6 66-1 67 10 67 7 67 10 67-3 67 3 66-6 67 6 67 0M119 1374l67 10 67-8 67 43 67-1 67 1 66 2 67-1 67 11 67 7 67 4 67-4 66-2 67 5 67-1M119 1370l67 14 67-6 67 38 67-1 67 0 66 1 67 9 67 5 67 10 67-1 67 1 66-6 67 6 67 1M119 1390l67 20 67-9 67 26 67 3 67 4 66-1 67 1 67 7 67 4 67 0 67 2 66 0 67-1 67 5M119 1372l67 9 67-5 67 39 67 2 67-2 66 1 67 6 67 4 67 5 67 7 67 0 66-4 67 7 67-1M119 1390l67 16 67-10 67 35 67-1 67 3 66-1 67 9 67-1 67 5 67 2 67 0 66-4 67 2 67 2M119 1374l67 8 67-6 67 40 67 3 67-3 66 2 67 1 67 12 67 1 67 7 67 1 66-4 67 4 67-1M119 1368l67 15 67-6 67 42 67-1 67 2 66 0 67 2 67 10 67 7 67 2 67 1 66-6 67 4 67 1M119 1393l67 6 67 1 67 30 67 2 67 1 66-3 67 3 67 9 67 3 67 5 67-3 66-2 67 4 67-1M119 1373l67 10 67-5 67 39 67 2 67-3 66 2 67 1 67 5 67 15 67 1 67-1 66-3 67 4 67 0M119 1368l67 9 67 4 67 32 67 7 67-3 66 2 67 2 67 9 67 8 67 2 67-2 66-2 67 3 67 3M119 1393l67 7 67-1 67 22 67-3 67-3 66 2 67 6 67 8 67 7 67-4 67 7 66-6 67 6 67-1M119 1386l67 16 67 0 67 15 67 3 67-10 66 6 67 5 67 11 67 6 67 3 67-1 66-6 67 7 67-2M119 1394l67 8 67-2 67 30 67 1 67 8 66-9 67 4 67 5 67 5 67 3 67-1 66-2 67 2 67 2M119 1377l67 5 67-1 67 35 67 3 67-4 66 2 67 4 67 11 67 6 67-1 67 4 66-4 67 4 67-1" stroke="#ff32c5" stroke-opacity="0.88"/>
<path d="M119 1374l67 3 67 1 67 42 67-1 67-5 66 3 67 5 67 11 67 5 67 2 67 0 66-7 67 7 67 2M119 1372l67 14 67-11 67 43 67 3 67-7 66 4 67 3 67 11 67 7 67 1 67 1 66-5 67 5 67-1M119 1394l67 6 67-6 67 26 67-2 67-1 66 5 67-2 67 13 67 5 67 1 67 1 66-5 67 6 67-3M119 1389l67 11 67 0 67 30 67 2 67-1 66 1 67 7 67 1 67 4 67 4 67-1 66-2 67 1 67 1M119 1375l67 8 67-6 67 42 67 3 67-5 66-1 67 5 67 9 67 9 67 2 67 1 66-6 67 4 67 1M119 1387l67 14 67-8 67 36 67 2 67 1 66-4 67 6 67 7 67 3 67 2 67 2 66-5 67 3 67 1M119 1375l67 8 67-5 67 41 67 2 67-4 66 2 67 3 67 8 67 9 67 1 67-3 66-2 67 6 67 0M119 1391l67 9 67-5 67 36 67-2 67 0 66 0 67 5 67 7 67 3 67 3 67-3 66 0 67 4 67 0M119 1374l67 7 67 2 67 46 67-1 67 5 66-2 67 4 67-3 67 6 67 2 67 1 66-5 67 5 67 0M119 1394l67 7 67-9 67 37 67 1 67 3 66-5 67 6 67 6 67 4 67 2 67 1 66-2 67 2 67-1M119 1394l67 6 67-1 67 31 67 0 67-3 66 2 67 5 67 7 67 3 67 3 67 1 66-5 67 4 67 1M119 1393l67 6 67 0 67 31 67-4 67 3 66-1 67 4 67 8 67 5 67 2 67 1 66-5 67 2 67 1M119 1374l67 11 67-6 67 38 67 1 67-3 66 2 67 7 67 8 67 7 67 1 67 2 66-9 67 8 67 0M119 1390l67 6 67-2 67 35 67 2 67 0 66 1 67 1 67 6 67 5 67 2 67 0 66-4 67 4 67 0M119 1392l67 5 67-3 67 36 67 2 67-3 66 0 67 1 67 0 67 8 67 0 67 4 66-7 67 6 67-1M119 1372l67 8 67-6 67 46 67 0 67-1 66-1 67 2 67 12 67 8 67-2 67 2 66-4 67 7 67-2M119 1390l67 11 67-5 67 33 67-1 67 3 66-1 67 6 67 4 67 4 67 2 67 1 66-4 67 4 67-1M119 1391l67 9 67-5 67 21 67 4 67-3 66 3 67 3 67 11 67 5 67-6 67 7 66-4 67 4 67 2M119 1390l67 9 67-2 67 31 67 4 67-2 66-2 67 3 67 10 67 4 67 1 67 2 66-4 67 3 67-2M119 1372l67 9 67-3 67 40 67 2 67-6 66 9 67 2 67 7 67 7 67 3 67-1 66-5 67 4 67 1M119 1390l67 8 67-4 67 35 67 0 67-1 66 2 67 4 67 7 67 2 67 3 67 0 66-3 67 4 67 2M119 1391l67 10 67-4 67 24 67-3 67-2 66 3 67 8 67 3 67 9 67 1 67 1 66-6 67 7 67-1M119 1372l67 12 67-1 67 37 67-1 67-1 66 2 67 0 67 3 67 15 67 1 67 1 66-6 67 6 67 1M119 1390l67 10 67-4 67 32 67 2 67-2 66 1 67 16 67-3 67 1 67 2 67 1 66-3 67 4 67-1M119 1373l67 10 67-2 67 37 67 3 67-8 66 4 67 5 67 10 67 6 67 2 67 1 66-6 67 5 67 0M119 1373l67 12 67-7 67 42 67 0 67-3 66 2 67-2 67 15 67 7 67 4 67-2 66-5 67 5 67-1M119 1390l67 11 67-6 67 34 67 2 67-2 66-1 67 7 67 4 67 4 67 2 67 2 66-4 67 2 67 0M119 1390l67 11 67-6 67 24 67 0 67-1 66 0 67 4 67 8 67 9 67 3 67-2 66-5 67 5 67 2M119 1378l67 9 67-5 67 36 67 2 67-6 66 5 67 2 67 12 67 5 67 2 67 0 66-5 67 2 67 5M119 1371l67 15 67-7 67 38 67 5 67-3 66-1 67 4 67 17 67 5 67 3 67-1 66-2 67 3 67-2M119 1393l67 4 67-4 67 32 67 7 67-3 66-1 67 7 67 6 67 8 67-3 67 1 66-4 67 4 67-2M119 1388l67 7 67-4 67 39 67 1 67-2 66 0 67 5 67 7 67 3 67 1 67 0 66-3 67 4 67-1M119 1375l67 6 67 0 67 38 67 1 67-2 66-1 67 4 67 14 67 5 67 2 67-1 66-6 67 5 67 0M119 1377l67 3 67-4 67 41 67 4 67-3 66 0 67 4 67 9 67 8 67 3 67 0 66-6 67 5 67 0M119 1373l67 10 67 0 67 46 67 1 67-5 66 5 67 3 67 7 67 5 67 1 67 0 66-3 67 2 67 0M119 1385l67 12 67-1 67 35 67 1 67-4 66-2 67 8 67 6 67 4 67 1 67 1 66-1 67 2 67 0M119 1385l67 13 67-7 67 39 67 0 67 1 66-5 67 4 67 2 67 7 67 3 67-2 66-6 67 6 67 4M119 1389l67 10 67-6 67 34 67 3 67 1 66-2 67 5 67-3 67 8 67 1 67 1 66-5 67 6 67 0M119 1376l67 11 67-13 67 46 67 0 67-2 66-1 67 5 67 11 67 7 67 2 67 0 66-5 67 4 67 0M119 1372l67 18 67-6 67 36 67 1 67 0 66-1 67 3 67 7 67 9 67 2 67 0 66-6 67 6 67 0M119 1376l67 9 67-5 67 50 67-2 67 3 66-4 67 6 67 9 67 2 67 2 67-1 66-1 67 2 67 0M119 1388l67 12 67-4 67 33 67-1 67-1 66 2 67 3 67 8 67 2 67 2 67 2 66-3 67 4 67-1M119 1387l67 13 67-7 67 37 67 0 67-1 66 0 67 2 67 7 67 6 67 1 67 0 66-3 67 5 67 0M119 1375l67 8 67 1 67 38 67 1 67-4 66-1 67 4 67 8 67 9 67 2 67 0 66-6 67 6 67-1M119 1373l67 15 67-7 67 41 67-2 67-5 66 3 67 4 67 8 67 9 67 2 67 0 66-5 67 6 67 0M119 1388l67 11 67-5 67 25 67 4 67-6 66 1 67 2 67 12 67 7 67 2 67 0 66-5 67 5 67 0M119 1373l67 11 67-2 67 38 67 1 67-1 66 0 67 2 67 8 67 9 67 1 67 1 66-4 67 3 67 1M119 1390l67 9 67-3 67 22 67 2 67-5 66 6 67 8 67 4 67 4 67 4 67 0 66-4 67 5 67 0M119 1372l67 8 67 1 67 39 67 0 67-2 66 1 67 4 67 10 67 7 67 2 67-1 66-6 67 6 67-2M119 1385l67 18 67-8 67 32 67 4 67-3 66-1 67 4 67 7 67 6 67 3 67-2 66-2 67 4 67-2M119 1377l67 6 67 0 67 38 67 1 67 2 66-4 67 5 67 7 67 8 67 3 67-2 66-6 67 7 67-1M119 1386l67 12 67-4 67 33 67 1 67 0 66 0 67 0 67 3 67 8 67 3 67-1 66-3 67 3 67 0M119 1386l67 13 67-6 67 27 67 0 67-4 66 3 67 2 67 13 67 6 67 1 67 1 66-5 67 5 67 0M119 1377l67 7 67-5 67 40 67 4 67-4 66-3 67 5 67 12 67 6 67 3 67 0 66-6 67 7 67-2M119 1391l67 8 67-1 67 32 67-1 67-4 66 3 67 2 67 11 67 2 67 2 67 0 66-4 67 6 67-2M119 1375l67 10 67-2 67 36 67 3 67-2 66-1 67 6 67 6 67 9 67 2 67 0 66-1 67 0 67 1M119 1390l67 9 67-10 67 32 67-2 67 1 66-1 67 5 67 10 67 5 67 4 67-3 66-4 67 7 67-1M119 1380l67 7 67-6 67 37 67 4 67-2 66 0 67 6 67 9 67 4 67 3 67-1 66-4 67 4 67 1M119 1374l67 16 67-7 67 38 67 4 67-3 66-3 67 7 67 6 67 8 67 0 67 1 66-5 67 7 67-3M119 1376l67 7 67 2 67 36 67-2 67-2 66 3 67 6 67 8 67 5 67 3 67-1 66-4 67 4 67 2M119 1391l67 11 67-7 67 33 67 2 67 1 66-2 67 3 67 6 67 5 67 2 67 1 66-3 67 2 67 1M119 1387l67 7 67-5 67 39 67 0 67 1 66-1 67 4 67 0 67 7 67 3 67-1 66-3 67 3 67 1M119 1376l67 10 67-2 67 36 67 2 67-1 66 0 67 3 67 8 67 8 67 1 67 0 66-3 67 5 67-1" stroke="#ff329e" stroke-opacity="0.90"/>
<path d="M119 1375l67 15 67-8 67 37 67 2 67 0 66 2 67 3 67 6 67 8 67 0 67 2 66-6 67 6 67-1M119 1380l67 6 67-7 67 42 67-1 67-1 66 1 67 6 67 8 67 4 67 4 67 1 66-8 67 6 67 1M119 1378l67 9 67-2 67 34 67 4 67-5 66 1 67 6 67 6 67 9 67 1 67 1 66-5 67 5 67-1M119 1380l67 8 67-4 67 35 67 6 67-9 66 5 67 3 67 7 67 8 67 2 67 1 66-6 67 5 67-4M119 1378l67 5 67 1 67 43 67 1 67 0 66-3 67 8 67 6 67 3 67 4 67 0 66-4 67 2 67 2M119 1389l67 8 67-4 67 36 67 1 67-2 66-2 67 5 67 6 67 5 67 3 67 0 66-3 67 5 67-1M119 1372l67 11 67 1 67 36 67 3 67-4 66 1 67 6 67 7 67 8 67 0 67 1 66-5 67 5 67 0M119 1388l67 11 67-3 67 30 67 0 67 5 66-4 67 5 67 9 67 2 67 3 67 0 66-5 67 4 67 1M119 1389l67 10 67-4 67 32 67 1 67-2 66 0 67 6 67 7 67 4 67 2 67-1 66-2 67 3 67 0M119 1388l67 12 67-4 67 33 67-2 67 2 66 0 67 6 67 5 67 3 67 2 67 0 66-5 67 5 67 0M119 1387l67 8 67-2 67 34 67 2 67-5 66 5 67 3 67 6 67 5 67 1 67 2 66-4 67 3 67 0M119 1392l67 6 67-5 67 33 67 2 67-2 66 1 67 5 67 9 67 2 67 2 67 0 66-4 67 5 67-1M119 1385l67 13 67-3 67 30 67 0 67-1 66 4 67 7 67 4 67 3 67 2 67 2 66-4 67 4 67-1M119 1377l67 12 67-11 67 42 67 3 67-3 66 1 67 4 67 10 67 5 67 1 67 2 66-6 67 4 67 1M119 1380l67 5 67 3 67 33 67 0 67-3 66 4 67 6 67 5 67 6 67 4 67-2 66-3 67 4 67 0M119 1385l67 13 67-4 67 31 67 4 67-1 66 0 67 3 67 8 67 4 67 2 67-1 66-2 67 4 67-1M119 1386l67 14 67-9 67 38 67-2 67-1 66-1 67 8 67 6 67 3 67 3 67 0 66-4 67 4 67 1M119 1387l67 11 67-4 67 33 67 3 67-2 66 1 67 1 67 6 67 8 67 1 67 0 66-4 67 4 67-1M119 1382l67 14 67-2 67 33 67 2 67-4 66 4 67 3 67 5 67 6 67 3 67 0 66-6 67 5 67 0M119 1377l67 9 67-2 67 36 67 5 67-5 66 0 67 7 67 7 67 5 67 3 67 0 66-5 67 5 67 0M119 1383l67 12 67-2 67 35 67-1 67 0 66-2 67 6 67 6 67 6 67 1 67 0 66-4 67 4 67 2M119 1378l67 9 67-3 67 35 67 3 67-3 66 3 67 3 67 8 67 7 67 3 67-1 66-6 67 5 67 2M119 1383l67 15 67-9 67 39 67 1 67-2 66-1 67 7 67 8 67 1 67 3 67 1 66-5 67 5 67-2M119 1385l67 9 67-6 67 39 67 1 67-5 66 2 67 5 67 8 67 5 67 3 67 0 66-3 67 3 67-2M119 1387l67 11 67-5 67 35 67-1 67 2 66-3 67 8 67 4 67 6 67 1 67 0 66-2 67 2 67-1M119 1379l67 8 67-5 67 40 67 0 67 1 66-1 67 3 67 8 67 7 67 3 67-1 66-4 67 2 67 2M119 1378l67 9 67-2 67 38 67-1 67-2 66 3 67 3 67 7 67 7 67 3 67-1 66-4 67 3 67 2M119 1380l67 8 67 1 67 33 67-3 67-1 66 3 67 7 67 7 67 5 67 2 67-1 66-2 67 2 67 2M119 1385l67 5 67-3 67 36 67 0 67-3 66 4 67 2 67 6 67 8 67 2 67 0 66-4 67 4 67 0M119 1389l67 4 67-3 67 38 67 0 67-3 66 4 67-1 67 10 67 5 67 2 67 0 66-6 67 6 67-1M119 1386l67 11 67 0 67 33 67-2 67-1 66-3 67 6 67 7 67 7 67 1 67-1 66-2 67 4 67-1M119 1379l67 5 67 0 67 38 67 3 67-2 66-1 67 3 67 9 67 5 67 2 67 0 66-1 67 2 67 0M119 1374l67 14 67-4 67 39 67-2 67 0 66-1 67 5 67 8 67 8 67 2 67 1 66-6 67 5 67 0M119 1381l67 7 67-6 67 43 67-1 67-8 66 6 67 5 67 8 67 5 67 1 67 1 66-4 67 5 67-1M119 1377l67 11 67-1 67 33 67 5 67-4 66 2 67-1 67 12 67 7 67 1 67 0 66-5 67 5 67 0M119 1388l67 8 67-2 67 32 67 2 67-1 66 0 67 4 67 8 67 4 67 3 67-2 66-2 67 2 67 1M119 1378l67 12 67-5 67 37 67 0 67-1 66 1 67 2 67 8 67 10 67-1 67 1 66-4 67 4 67-1M119 1378l67 8 67-1 67 38 67-1 67-3 66 1 67 11 67 1 67 9 67 1 67 1 66-4 67 3 67 0M119 1378l67 11 67-11 67 44 67 1 67-3 66 2 67 4 67 7 67 8 67 1 67 0 66-4 67 5 67-2M119 1386l67 10 67-7 67 36 67 2 67 1 66-1 67 4 67 9 67 3 67 1 67 2 66-5 67 5 67-1M119 1386l67 7 67-1 67 35 67 3 67-2 66-1 67 3 67 9 67 4 67 2 67-1 66-5 67 6 67 1M119 1389l67 4 67-4 67 38 67 0 67 2 66-3 67 4 67 6 67 7 67 1 67 0 66-5 67 6 67 0M119 1379l67 9 67 0 67 31 67 2 67 2 66-2 67 4 67 8 67 7 67 4 67-1 66-5 67 6 67-2M119 1372l67 18 67-6 67 38 67-1 67-2 66 2 67 5 67 7 67 8 67 2 67 0 66-5 67 4 67 0M119 1378l67 10 67-5 67 39 67 1 67-6 66 3 67 5 67 11 67 4 67 3 67 0 66-4 67 3 67 1M119 1377l67 11 67-5 67 38 67 3 67-3 66 2 67 2 67 9 67 7 67 2 67-1 66-5 67 5 67 1M119 1385l67 9 67 1 67 34 67-2 67-1 66 4 67-1 67 10 67 4 67 1 67 0 66-4 67 5 67 0M119 1380l67 11 67-4 67 36 67-1 67-3 66 0 67 8 67 8 67 5 67 2 67 1 66-4 67 4 67 1M119 1382l67 11 67-3 67 38 67-2 67-4 66 7 67 0 67 8 67 5 67 1 67 3 66-4 67 3 67 0M119 1380l67 9 67-2 67 33 67 3 67-4 66 3 67 2 67 11 67 5 67 3 67 0 66-5 67 5 67 0M119 1387l67 11 67-7 67 32 67 3 67 0 66 3 67 0 67 7 67 5 67 3 67 0 66-4 67 5 67 1M119 1378l67 9 67-1 67 36 67-1 67-2 66 3 67 5 67 9 67 5 67 1 67 0 66-4 67 3 67 1M119 1378l67 12 67-4 67 37 67 1 67-1 66 0 67 2 67 13 67 5 67 1 67 1 66-3 67 2 67-1M119 1384l67 13 67-3 67 34 67 1 67-3 66-1 67 4 67 9 67 4 67 2 67 1 66-5 67 4 67 2M119 1379l67 12 67-6 67 36 67-1 67 2 66 2 67 2 67 11 67 5 67 2 67 1 66-4 67 4 67-1M119 1383l67 16 67-9 67 35 67 0 67 1 66 1 67 3 67 6 67 5 67 2 67 0 66-5 67 5 67-1M119 1385l67 13 67-10 67 36 67 4 67-6 66 3 67 2 67 8 67 4 67 4 67-2 66-2 67 4 67 0M119 1376l67 14 67-6 67 38 67 3 67-4 66 2 67 1 67 9 67 7 67 2 67 1 66-4 67 5 67-2M119 1382l67 5 67-4 67 40 67-1 67-3 66 3 67 4 67 8 67 7 67 1 67 0 66-4 67 4 67 1M119 1387l67 6 67-2 67 37 67-1 67-1 66 2 67 0 67 9 67 5 67 3 67-1 66-2 67 3 67-1M119 1376l67 17 67-7 67 37 67 0 67-1 66-1 67 7 67 8 67 4 67 2 67 0 66-5 67 7 67-1M119 1378l67 10 67-6 67 41 67 0 67 0 66-2 67 7 67 8 67 4 67 3 67-2 66-1 67 3 67 0M119 1387l67 9 67-5 67 33 67 3 67-4 66 3 67 3 67 7 67 6 67 3 67-1 66-3 67 4 67 0M119 1382l67 12 67-5 67 36 67-1 67-1 66 1 67 5 67 8 67 5 67 2 67 0 66-2 67 3 67 0M119 1384l67 10 67-2 67 30 67 1 67-4 66 5 67 1 67 10 67 5 67 4 67-2 66-5 67 7 67-2M119 1388l67 8 67-5 67 33 67 3 67-4 66 3 67 3 67 8 67 5 67 2 67 0 66-2 67 3 67 0M119 1378l67 12 67-8 67 40 67 2 67-2 66 2 67 4 67 6 67 7 67 3 67-2 66-4 67 5 67 0M119 1378l67 12 67-5 67 40 67-2 67-1 66-1 67 4 67 10 67 5 67 3 67 0 66-2 67 2 67 0M119 1379l67 13 67-6 67 36 67 1 67-5 66 2 67 4 67 12 67 5 67 3 67-1 66-3 67 2 67 0M119 1384l67 10 67-3 67 32 67 4 67 0 66-2 67 4 67 8 67 6 67 1 67 0 66-5 67 6 67 0M119 1379l67 9 67 0 67 34 67 3 67-4 66 3 67 3 67 11 67 5 67 0 67 0 66-3 67 5 67-1M119 1379l67 9 67 0 67 34 67 2 67-2 66 2 67 3 67 10 67 3 67 3 67-1 66-3 67 4 67-1M119 1381l67 12 67-6 67 36 67 1 67-4 66 3 67 5 67 8 67 4 67 2 67 2 66-7 67 5 67 2M119 1383l67 12 67-9 67 40 67 0 67 1 66-1 67 3 67 8 67 7 67-1 67 3 66-5 67 4 67-2M119 1382l67 13 67-6 67 34 67 3 67-2 66 2 67 6 67 4 67 6 67 3 67-1 66-5 67 6 67-2M119 1383l67 10 67-1 67 31 67 4 67-5 66 2 67 6 67 4 67 8 67 2 67-1 66-5 67 5 67-2M119 1386l67 7 67-1 67 34 67-2 67-3 66 4 67 5 67 7 67 5 67 4 67-2 66-2 67 1 67 1M119 1380l67 9 67-3 67 37 67 0 67-6 66 5 67 7 67 8 67 5 67 1 67 0 66-3 67 3 67-1M119 1381l67 7 67-3 67 36 67 4 67-4 66 4 67 2 67 6 67 8 67 3 67-1 66-4 67 3 67 1M119 1383l67 5 67-5 67 42 67 0 67-2 66 1 67 4 67 7 67 6 67 1 67 1 66-4 67 4 67 1M119 1384l67 10 67 1 67 31 67 0 67 1 66-1 67 0 67 9 67 6 67 2 67 0 66-5 67 5 67-1M119 1387l67 2 67-6 67 41 67 2 67-2 66 2 67 2 67 10 67 5 67 1 67 0 66-4 67 3 67 3M119 1385l67 3 67-2 67 39 67 1 67 0 66-4 67 7 67 7 67 4 67 3 67 1 66-5 67 4 67 0M119 1381l67 10 67-6 67 41 67-2 67 3 66-1 67 2 67 6 67 8 67 2 67-1 66-1 67 2 67 0M119 1379l67 8 67-1 67 38 67 0 67-2 66 0 67 2 67 11 67 6 67 1 67 1 66-6 67 6 67-1M119 1378l67 12 67-3 67 37 67 3 67-1 66-3 67 7 67 7 67 5 67 4 67-1 66-5 67 4 67-2M119 1387l67 4 67 2 67 32 67 3 67-6 66 5 67 2 67 6 67 7 67 3 67-2 66-3 67 5 67 0M119 1382l67 8 67-5 67 39 67 0 67-1 66 0 67 5 67 4 67 9 67 1 67 1 66-4 67 4 67 0M119 1384l67 6 67 0 67 37 67-1 67 0 66-1 67 3 67 8 67 4 67 4 67 0 66-4 67 4 67 0M119 1382l67 9 67-1 67 35 67-2 67 0 66 1 67 2 67 8 67 7 67 1 67 2 66-5 67 3 67 1M119 1379l67 12 67-7 67 40 67 0 67 0 66 0 67 4 67 8 67 5 67 2 67 0 66-4 67 4 67 1M119 1384l67 6 67-2 67 37 67 2 67-2 66 1 67 3 67 8 67 5 67 3 67-1 66-5 67 5 67-1M119 1381l67 16 67-8 67 35 67 3 67-5 66 0 67 6 67 7 67 6 67 2 67 1 66-5 67 4 67 1M119 1381l67 9 67-3 67 39 67 1 67-5 66 4 67 5 67 5 67 6 67 1 67 1 66-4 67 4 67 0M119 1383l67 7 67-2 67 38 67-2 67-1 66 2 67 3 67 9 67 3 67 4 67 0 66-3 67 2 67 0M119 1381l67 7 67 0 67 37 67 2 67-4 66 0 67 4 67 9 67 6 67 1 67 0 66-6 67 7 67-1M119 1381l67 13 67-9 67 38 67 3 67-5 66 3 67 4 67 8 67 5 67 2 67 1 66-4 67 3 67 1M119 1378l67 12 67-3 67 38 67 2 67-3 66 0 67 4 67 10 67 4 67 1 67 1 66-4 67 4 67-1M119 1385l67 5 67 1 67 33 67 0 67-2 66 3 67 5 67 6 67 6 67 3 67-2 66-5 67 5 67 0M119 1380l67 8 67 2 67 32 67 3 67-1 66 2 67 1 67 7 67 8 67 2 67-1 66-3 67 5 67-1M119 1380l67 9 67 2 67 33 67 1 67-2 66 0 67 5 67 8 67 6 67 1 67 0 66-4 67 5 67 0M119 1381l67 14 67-8 67 36 67 0 67 1 66 0 67 2 67 11 67 5 67 1 67 0 66-3 67 5 67-3M119 1380l67 10 67 1 67 31 67 2 67 0 66-3 67 5 67 9 67 7 67 2 67 1 66-9 67 6 67 2M119 1379l67 11 67-4 67 38 67 0 67 0 66-1 67 7 67 7 67 4 67 2 67 1 66-4 67 3 67 1M119 1382l67 10 67-1 67 33 67-1 67 2 66 2 67 3 67 6 67 5 67 3 67-1 66-3 67 4 67-1M119 1380l67 10 67 0 67 35 67-1 67 1 66-2 67 4 67 10 67 5 67 1 67 0 66-3 67 3 67 1M119 1381l67 9 67-2 67 35 67 3 67-4 66 3 67 2 67 7 67 6 67 3 67 1 66-4 67 4 67 0M119 1385l67 6 67-2 67 35 67-3 67 1 66 2 67 3 67 9 67 5 67 4 67-1 66-5 67 4 67 1M119 1383l67 5 67-1 67 36 67-1 67 3 66-2 67 3 67 9 67 6 67 3 67-1 66-5 67 6 67 0M119 1381l67 9 67-3 67 36 67 1 67 2 66-3 67 4 67 12 67 3 67 0 67 1 66-4 67 3 67 1M119 1386l67 7 67-6 67 37 67 0 67 0 66-1 67 4 67 8 67 6 67 2 67 2 66-5 67 4 67 0M119 1377l67 12 67-1 67 35 67 3 67-1 66-2 67 5 67 8 67 6 67 1 67 0 66-3 67 3 67 0" stroke="#ff3276" stroke-opacity="0.92"/>
</g>
<path d="M79.3 1342.0 V1480.2 H1093.0" fill="none" stroke="#3a3a3a" stroke-width="1.8"/>
<path d="M78.4 1382.5h-2.5M78.4 1426.8h-2.5M78.4 1469.9h-2.5M119.4 1481.1v3.5M186.2 1481.1v3.5M253.1 1481.1v3.5M319.9 1481.1v3.5M386.7 1481.1v3.5M453.5 1481.1v3.5M520.4 1481.1v3.5M587.2 1481.1v3.5M654.0 1481.1v3.5M720.9 1481.1v3.5M787.7 1481.1v3.5M854.5 1481.1v3.5M921.4 1481.1v3.5M988.2 1481.1v3.5M1055.0 1481.1v3.5" stroke="#3a3a3a" stroke-width="1.2" fill="none"/>
<text x="1081.5" y="1365.1" font-size="19.0" style="font-family:'Liberation Serif',serif;font-weight:normal" text-anchor="start" fill="#000" >Membership</text>
<defs><linearGradient id="g4" x1="0" y1="0" x2="0" y2="1"><stop offset="0.00" stop-color="#ff3276"/><stop offset="0.10" stop-color="#ff32d1"/><stop offset="0.20" stop-color="#d232ff"/><stop offset="0.30" stop-color="#7832ff"/><stop offset="0.40" stop-color="#3247ff"/><stop offset="0.50" stop-color="#32a1ff"/><stop offset="0.60" stop-color="#32fbff"/><stop offset="0.70" stop-color="#32ffa8"/><stop offset="0.80" stop-color="#32ff4e"/><stop offset="0.90" stop-color="#71ff32"/><stop offset="1.00" stop-color="#ccff32"/></linearGradient></defs>
<rect x="1112.3" y="1373.8" width="18.0" height="88.1" fill="url(#g4)" opacity="0.85"/>
<text x="1134.4" y="1387.3" font-size="11.0" style="font-family:'Liberation Sans',sans-serif;font-weight:normal" text-anchor="start" fill="#333" >0.6</text>
<text x="1134.4" y="1406.8" font-size="11.0" style="font-family:'Liberation Sans',sans-serif;font-weight:normal" text-anchor="start" fill="#333" >0.5</text>
<text x="1134.4" y="1426.3" font-size="11.0" style="font-family:'Liberation Sans',sans-serif;font-weight:normal" text-anchor="start" fill="#333" >0.4</text>
<text x="1134.4" y="1445.2" font-size="11.0" style="font-family:'Liberation Sans',sans-serif;font-weight:normal" text-anchor="start" fill="#333" >0.3</text>
<text x="1134.4" y="1464.8" font-size="11.0" style="font-family:'Liberation Sans',sans-serif;font-weight:normal" text-anchor="start" fill="#333" >0.2</text>
<text x="83.0" y="1533.3" font-size="36.8" style="font-family:'Liberation Serif',serif;font-weight:bold" text-anchor="start" fill="#000" >Sub-cluster 6</text>
<text x="0" y="0" font-size="30.90" style="font-family:'Liberation Serif',serif;font-weight:bold" transform="translate(34.7 1711.5) rotate(-90)">Protein Ratio</text>
<text x="71.5" y="1588.5" font-size="31.0" style="font-family:'Liberation Serif',serif;font-weight:bold" text-anchor="end" fill="#000" >2</text>
<text x="71.5" y="1626.9" font-size="31.0" style="font-family:'Liberation Serif',serif;font-weight:bold" text-anchor="end" fill="#000" >0</text>
<text x="71.5" y="1665.7" font-size="31.0" style="font-family:'Liberation Serif',serif;font-weight:bold" text-anchor="end" fill="#000" >-2</text>
<g class="l">
<path d="M119 1624l67-3 67 29 66-58 67-12 67 0 67-2 67-7 67 8 66 20 67-25 67 1 67 4 67-9 67-4M119 1625l67 0 67-2 66 19 67 6 67-7 67 1 67-4 67 5 66-8 67 0 67-1 67 2 67-5 67 4M119 1625l67-6 67-1 66-35 67-5 67 2 67-2 67-10 67 12 66-9 67 24 67-19 67 3 67-12 67-1M119 1625l67-6 67 3 66 18 67 7 67-5 67-1 67-3 67 2 66-5 67-1 67-1 67 3 67-30 67 26M119 1626l67-4 67 5 66-34 67-15 67 2 67 1 67-5 67 62 66-6 67 5 67-4 67 4 67-6 67-2M119 1625l67-4 67 9 66 10 67-24 67 27 67-4 67-3 67-1 66-1 67-3 67 2 67 5 67-9 67 10M119 1629l67-11 67 3 66-34 67-3 67-4 67 6 67-13 67 5 66-7 67 2 67 1 67-5 67 10 67-6M119 1648l67-25 67 0 66 2 67 22 67-5 67-3 67-6 67 7 66-5 67-7 67 3 67 5 67-4 67 4M119 1631l67-6 67 11 66-44 67-3 67 0 67 11 67-23 67 62 66-4 67 0 67-13 67 11 67-1 67 14M119 1624l67 3 67-5 66-26 67-11 67-3 67-5 67-6 67 14 66-15 67 7 67-2 67-1 67 2 67-11M119 1625l67 4 67-9 66-32 67-8 67-2 67 0 67-6 67 69 66-9 67 4 67-14 67 14 67-2 67 2M119 1658l67 1 67 9 66-26 67 2 67-7 67 3 67-3 67 4 66-14 67 9 67-28 67 28 67-10 67 1M119 1631l67-12 67 3 66-28 67-13 67 0 67-4 67-5 67 66 66-4 67-9 67-17 67 27 67-9 67 4M119 1628l67-10 67 6 66-33 67-7 67 1 67 0 67-14 67 14 66-12 67 3 67 1 67 1 67-7 67-9M119 1624l67 1 67 5 66-43 67-7 67 8 67-6 67-10 67 14 66-12 67 0 67 0 67 9 67-11 67-4M119 1660l67 0 67 3 66-28 67 11 67-5 67-3 67-1 67-2 66-1 67-1 67-3 67 6 67-7 67-20M119 1625l67-6 67 7 66-39 67 12 67-18 67 9 67-19 67 17 66-11 67-1 67 0 67 1 67 1 67-12M119 1625l67-5 67 23 66-47 67-16 67 3 67-5 67-4 67 11 66-13 67 3 67 0 67 2 67-4 67-6M119 1632l67-3 67 6 66 8 67 1 67-5 67-2 67-24 67 24 66-9 67 4 67-6 67 7 67 0 67 6M119 1625l67 0 67 9 66 8 67-2 67 2 67-6 67-6 67-50 66-4 67-1 67 2 67 4 67-4 67-7M119 1624l67-5 67 8 66 15 67-10 67 9 67-1 67-6 67 6 66-10 67-12 67 13 67 2 67-9 67 5M119 1628l67-2 67-2 66-32 67-4 67-6 67-6 67 2 67 9 66-10 67 1 67-1 67-1 67-2 67 2M119 1660l67-2 67 7 66-77 67-5 67-1 67 5 67-16 67 64 66-6 67-2 67-5 67 7 67-5 67 2M119 1631l67-8 67 13 66-43 67-7 67 0 67 1 67-15 67 11 66-12 67 5 67 1 67 1 67-1 67-6" stroke="#ccff32" stroke-opacity="0.50"/>
<path d="M119 1625l67-6 67 3 66-35 67-5 67 7 67-10 67-7 67 34 66-40 67 9 67 0 67-1 67 17 67-27M119 1660l67-2 67 14 66-30 67 2 67-2 67-9 67 4 67 1 66-3 67-8 67 0 67 7 67-2 67 0M119 1631l67-3 67-6 66-26 67-15 67 0 67-7 67 0 67 67 66-11 67 10 67-7 67 2 67-3 67-3M119 1629l67-6 67 0 66 18 67 5 67-6 67 0 67-2 67 2 66-4 67-7 67 2 67 5 67-5 67 6M119 1625l67-4 67 2 66-7 67-35 67 0 67 0 67-9 67 8 66-1 67-5 67 2 67 7 67-12 67 4" stroke="#a4ff32" stroke-opacity="0.52"/>
<path d="M119 1625l67-2 67-2 66 22 67-1 67-3 67-1 67-2 67-57 66-8 67 6 67-2 67-2 67-4 67-8M119 1630l67-10 67-1 66 25 67-3 67-1 67 0 67-4 67-17 66 17 67 0 67-1 67 2 67-5 67 4M119 1630l67-10 67 16 66-48 67-9 67 0 67-3 67 2 67 3 66-4 67-3 67 22 67-23 67 29 67-41M119 1662l67-1 67 11 66-32 67 4 67 1 67-5 67-5 67 1 66 0 67-2 67 0 67-1 67-2 67 11M119 1625l67-5 67 2 66 20 67 4 67-4 67-7 67 4 67 1 66-16 67 8 67-2 67 4 67-31 67 23M119 1660l67-1 67 8 66-27 67 3 67-5 67 2 67-5 67 6 66-12 67-3 67 3 67 7 67-3 67 7M119 1623l67 23 67-17 66-35 67-5 67-8 67-2 67-1 67 62 66-12 67 5 67 0 67 0 67-9 67 12M119 1628l67 17 67-12 66 8 67 0 67-3 67-2 67-1 67-46 66-10 67-2 67 1 67 4 67-10 67-3" stroke="#7dff32" stroke-opacity="0.54"/>
<path d="M119 1631l67-6 67-5 66-36 67-3 67-1 67-5 67-2 67 70 66-8 67-1 67 0 67 1 67-1 67-9M119 1631l67-4 67-4 66-36 67-5 67 11 67-17 67-4 67 7 66-9 67 4 67 2 67 4 67-7 67-8M119 1625l67 4 67-9 66-33 67-3 67-3 67-3 67-1 67 9 66-23 67 10 67 1 67 9 67-8 67-9M119 1662l67-1 67 7 66-29 67 8 67-6 67-22 67 18 67 3 66-10 67 3 67-8 67 8 67-15 67 21" stroke="#56ff32" stroke-opacity="0.55"/>
<path d="M119 1630l67-10 67 3 66-36 67-6 67 9 67-11 67-9 67 72 66-2 67-14 67 0 67 11 67-4 67-5M119 1628l67-8 67 11 66-37 67-6 67 0 67-8 67-10 67 13 66-14 67 5 67 0 67-1 67 28 67-34M119 1630l67-5 67-5 66-32 67-9 67 0 67-1 67-6 67 34 66-34 67 4 67 0 67-3 67 4 67-10M119 1623l67-3 67 4 66 21 67-2 67-2 67-2 67-22 67 25 66-8 67-3 67 2 67-15 67 9 67 10M119 1623l67 6 67 6 66 6 67-1 67-14 67 14 67-6 67 6 66-6 67-7 67 1 67 5 67 0 67 5M119 1629l67-12 67 11 66-40 67 1 67-2 67-4 67-9 67 11 66-14 67 7 67-2 67-2 67-3 67-5M119 1660l67-6 67 14 66-26 67 2 67-5 67 1 67-14 67 9 66-14 67 13 67-20 67 22 67-11 67 5M119 1629l67-9 67 9 66 13 67 3 67-4 67-5 67-2 67 2 66-5 67-18 67 10 67 9 67-7 67 0M119 1628l67-7 67 14 66 5 67 5 67-6 67-3 67 2 67 2 66-9 67-1 67-6 67 10 67-7 67 6M119 1629l67-2 67 20 66-55 67 3 67-6 67-3 67-11 67 10 66 6 67-13 67-3 67-3 67-1 67 3M119 1632l67-11 67 18 66-43 67-9 67-3 67-6 67-1 67 5 66-5 67-3 67 3 67 3 67 0 67-4M119 1627l67-3 67 0 66-30 67-10 67-2 67 8 67-11 67 5 66-13 67 3 67 4 67 4 67-9 67-6" stroke="#32ff36" stroke-opacity="0.57"/>
<path d="M119 1631l67-16 67 21 66-53 67 22 67-24 67-1 67-8 67 4 66-7 67 5 67 1 67-10 67 5 67-3M119 1624l67 10 67 19 66-68 67 0 67-8 67 2 67-7 67 8 66-9 67 4 67 3 67-5 67-3 67-2M119 1625l67-4 67 12 66 10 67 0 67-27 67-2 67 24 67-2 66-5 67-2 67 2 67 4 67-3 67-7M119 1632l67-13 67 15 66-40 67-14 67 4 67-1 67-12 67 9 66-11 67 6 67 1 67-3 67-3 67 1" stroke="#32ff5d" stroke-opacity="0.59"/>
<path d="M119 1631l67-11 67 16 66-43 67-13 67 5 67 2 67-11 67 12 66-15 67 2 67 9 67-2 67-3 67-5M119 1625l67-3 67-1 66-33 67-7 67 1 67 3 67-4 67 6 66-9 67 0 67-2 67-3 67 3 67 8" stroke="#32ff85" stroke-opacity="0.61"/>
<path d="M119 1630l67-2 67-4 66-32 67-9 67 5 67-7 67-5 67 9 66-14 67 3 67 3 67 1 67 2 67-18M119 1624l67-3 67 9 66 10 67 1 67-1 67-1 67-4 67 1 66-7 67-1 67-5 67 12 67-6 67 2" stroke="#32ffac" stroke-opacity="0.63"/>
<path d="M119 1628l67-8 67 5 66 17 67-2 67 1 67-4 67 0 67-2 66-5 67-6 67 9 67 4 67-4 67 7M119 1627l67-6 67 13 66-42 67-5 67-2 67 0 67-11 67 66 66-9 67-4 67 6 67 4 67-5 67-6M119 1625l67-4 67 21 66-55 67-9 67 7 67-6 67-7 67 16 66-18 67 4 67 3 67-3 67-3 67-3M119 1629l67 1 67 3 66-30 67-14 67 0 67 8 67-16 67-2 66 5 67-6 67-2 67-2 67 3 67 0" stroke="#32ffd3" stroke-opacity="0.65"/>
<path d="M119 1623l67-3 67 15 66-48 67-6 67 8 67-8 67-3 67 1 66-10 67 5 67 3 67 1 67-2 67-7" stroke="#32fffa" stroke-opacity="0.66"/>
<path d="M119 1662l67-3 67 13 66-30 67-1 67 1 67-2 67-3 67-58 66-5 67 2 67 1 67-8 67 4 67-8" stroke="#32dcff" stroke-opacity="0.68"/>
<path d="M119 1631l67-7 67 7 66-41 67-5 67 5 67-11 67-3 67 65 66-6 67-11 67-2 67-4 67 12 67 7" stroke="#32b5ff" stroke-opacity="0.70"/>
<path d="M119 1629l67-8 67 5 66-35 67-10 67-3 67 5 67-8 67 6 66-6 67 2 67 1 67 1 67 0 67-12M119 1632l67-3 67-7 66-26 67 3 67-12 67-7 67 13 67-5 66-16 67 6 67 7 67-6 67 0 67-11M119 1629l67 0 67-2 66-33 67-6 67 6 67-12 67-6 67 7 66-7 67 2 67-1 67 7 67-5 67-4" stroke="#ccff32" stroke-opacity="0.50"/>
<path d="M119 1631l67-7 67 6 66-40 67-3 67 11 67 8 67-32 67 8 66-6 67 0 67 0 67 8 67-8 67-9M119 1625l67-2 67 8 66-37 67-5 67-5 67 0 67-8 67 10 66-6 67-1 67-4 67 3 67-3 67-3M119 1630l67-5 67 8 66-34 67-12 67 0 67-4 67-6 67 7 66 12 67-18 67-3 67 7 67-5 67-6M119 1636l67-7 67 7 66-41 67-5 67-2 67-1 67-8 67 9 66-9 67 2 67-4 67 5 67-2 67-6" stroke="#a4ff32" stroke-opacity="0.52"/>
<path d="M119 1660l67-2 67 14 66-32 67 0 67-20 67 20 67-8 67 6 66-7 67-13 67 9 67 6 67-5 67-4M119 1626l67-2 67 12 66 6 67 3 67-6 67-21 67 16 67-53 66-2 67 8 67-10 67-7 67 2 67-2M119 1631l67 0 67 1 66 7 67 2 67-3 67-2 67-2 67 1 66-7 67-1 67-3 67 10 67-9 67 1M119 1626l67-1 67 11 66-42 67-8 67 3 67-3 67-11 67 11 66-4 67-4 67-1 67 4 67-2 67-4" stroke="#7dff32" stroke-opacity="0.54"/>
<path d="M119 1629l67-6 67 5 66 12 67 5 67-6 67-2 67-1 67-1 66-5 67-14 67 13 67 3 67-6 67-2M119 1637l67-15 67 7 66-35 67-12 67-1 67 3 67-8 67 9 66-6 67 15 67-17 67 27 67-26 67-5M119 1632l67-3 67 4 66 7 67 1 67-4 67-1 67-2 67 2 66-5 67-7 67-2 67 3 67 0 67-1M119 1658l67 0 67 8 66-27 67-12 67 10 67-18 67 15 67 1 66-11 67 0 67-13 67 20 67-7 67 5" stroke="#56ff32" stroke-opacity="0.55"/>
<path d="M119 1629l67-2 67 4 66 9 67 1 67-3 67-1 67-3 67 1 66-4 67-7 67 0 67 9 67-6 67 2M119 1646l67-19 67-3 66 15 67 4 67-2 67-2 67-5 67 1 66-7 67-1 67-3 67 8 67-15 67 12M119 1628l67 9 67-2 66-42 67-4 67-7 67 0 67-7 67 23 66-18 67-4 67 1 67 1 67 2 67-12M119 1629l67 3 67 4 66 5 67 0 67-2 67-3 67 1 67-2 66-7 67-8 67 3 67 9 67-4 67 6M119 1629l67-2 67 9 66 5 67 0 67-1 67-3 67-3 67 3 66-7 67-6 67-2 67 12 67-9 67 0M119 1632l67-3 67 6 66-39 67-1 67 0 67-9 67-6 67 11 66-13 67-1 67 0 67 7 67-5 67-2M119 1630l67 0 67 6 66-40 67-7 67 16 67-19 67-7 67 56 66-5 67-5 67-2 67 10 67-10 67-2M119 1631l67 6 67 8 66-48 67 1 67-8 67-4 67-7 67 9 66-4 67-6 67 11 67-7 67-3 67-3M119 1631l67-2 67 7 66-37 67-10 67 2 67-4 67-5 67 53 66-10 67-10 67 7 67 10 67-13 67 5" stroke="#32ff36" stroke-opacity="0.57"/>
<path d="M119 1660l67-1 67 10 66-29 67 2 67-4 67-2 67-2 67 3 66-19 67 15 67-4 67 4 67-3 67 7M119 1647l67-19 67-1 66-38 67-1 67 0 67 8 67 4 67-10 66-12 67-1 67 2 67 1 67 0 67-6M119 1631l67 4 67-1 66-38 67-9 67 2 67-2 67-8 67 8 66-9 67-1 67 1 67 5 67 0 67-7M119 1634l67-5 67 9 66-42 67-6 67 4 67-8 67-7 67 11 66-10 67 2 67-4 67 6 67-6 67-2" stroke="#32ff5d" stroke-opacity="0.59"/>
<path d="M119 1630l67-5 67 10 66 7 67 1 67-5 67-1 67-2 67-9 66 3 67-4 67 2 67 5 67-6 67 0M119 1631l67-2 67 6 66-39 67-6 67-1 67-5 67-5 67 11 66-11 67 9 67-9 67 4 67 10 67-30M119 1629l67 0 67 4 66-39 67-4 67 0 67-4 67 9 67 41 66-8 67-3 67-2 67 5 67-4 67 0M119 1632l67-3 67 6 66-42 67-6 67 4 67-7 67-5 67 28 66-31 67 8 67-7 67 6 67-3 67 6M119 1632l67-2 67 6 66-38 67-10 67 2 67-4 67 13 67-12 66-8 67 1 67-2 67 5 67-3 67-5M119 1632l67-1 67 21 66-56 67-6 67 2 67-6 67-7 67 15 66-12 67-3 67-2 67 7 67 7 67 2" stroke="#32ff85" stroke-opacity="0.61"/>
<path d="M119 1629l67-2 67 12 66-45 67-5 67 0 67-5 67-8 67 9 66-8 67-1 67 1 67 1 67-2 67 16M119 1659l67-1 67 10 66-29 67 2 67-4 67-10 67 7 67 3 66-8 67-1 67-4 67 8 67-6 67-12M119 1632l67-4 67 15 66-5 67 0 67 1 67-17 67 12 67 1 66-6 67-9 67 7 67 5 67-20 67 15M119 1631l67-4 67 9 66 2 67 2 67-3 67-14 67 11 67 1 66-7 67-2 67-14 67 18 67-4 67 1M119 1659l67-2 67 9 66-26 67-5 67 2 67-2 67-1 67 1 66-23 67 12 67-1 67 5 67-4 67-2M119 1659l67-4 67 11 66-27 67-4 67 2 67-5 67-16 67 10 66 3 67-4 67-3 67 3 67-2 67 1M119 1659l67-5 67 14 66-29 67-11 67 9 67-8 67 3 67-44 66-9 67-1 67 2 67 4 67 7 67-16" stroke="#32ffac" stroke-opacity="0.63"/>
<path d="M119 1632l67-8 67 19 66-48 67-10 67 3 67-2 67-3 67 5 66-7 67-4 67 0 67-4 67 7 67-5M119 1629l67 12 67 6 66-8 67 1 67-6 67 3 67-2 67 0 66-8 67 0 67-5 67 11 67-16 67 11M119 1630l67-5 67 0 66-31 67-9 67 3 67-1 67 1 67-6 66-5 67 1 67 2 67 3 67-7 67-2M119 1659l67 0 67 7 66-37 67 3 67 2 67 2 67-2 67 2 66-17 67 5 67 0 67 9 67-8 67 10M119 1631l67-2 67 4 66-37 67-3 67-4 67-3 67-9 67 8 66-7 67-2 67 1 67 7 67-8 67 2M119 1631l67-3 67-1 66 13 67 1 67-20 67 15 67-1 67 5 66-10 67-5 67-3 67 12 67-9 67 6M119 1629l67 0 67 6 66-41 67-6 67 3 67-4 67-8 67 6 66-6 67-1 67 0 67 24 67-23 67 9M119 1632l67-4 67 14 66-2 67 1 67-19 67 15 67-3 67 1 66-2 67-5 67-8 67 13 67-9 67 0M119 1632l67 2 67 1 66-39 67 2 67-9 67-2 67 3 67-3 66-8 67 11 67-9 67 1 67 4 67-10M119 1659l67-1 67 3 66-21 67-3 67 0 67-1 67-14 67 13 66-6 67-4 67-16 67 24 67-17 67 8M119 1653l67 2 67 12 66-28 67-10 67-2 67 9 67-3 67 2 66-7 67-7 67 1 67 11 67-9 67 0M119 1658l67 0 67 4 66-23 67 1 67-3 67-2 67-1 67-3 66-2 67-20 67 15 67 8 67-8 67 2" stroke="#32ffd3" stroke-opacity="0.65"/>
<path d="M119 1631l67-4 67 25 66-12 67 1 67-1 67-4 67-2 67 1 66-17 67 10 67-4 67 8 67-6 67-1M119 1632l67-4 67 8 66 3 67 1 67-3 67-1 67-6 67 5 66-6 67-5 67-1 67 10 67-9 67-17" stroke="#32fffa" stroke-opacity="0.66"/>
<path d="M119 1630l67-2 67 7 66 4 67 3 67-6 67 0 67-2 67 5 66-9 67-7 67 0 67 10 67-8 67 0M119 1631l67-2 67 7 66-40 67-8 67 1 67-2 67-10 67 10 66-8 67-2 67 3 67 2 67-2 67 4M119 1631l67-2 67 14 66-4 67 1 67-2 67-2 67-2 67-10 66 5 67-19 67 14 67 9 67-8 67 3M119 1632l67-3 67 7 66-40 67-6 67 0 67-4 67-9 67 11 66-9 67-1 67 0 67 4 67-3 67-3M119 1631l67-3 67 2 66 9 67-5 67 3 67-2 67-15 67 2 66 7 67-5 67 0 67-2 67-6 67 10M119 1659l67-5 67 12 66-27 67 1 67-3 67-2 67-1 67-38 66-13 67-5 67-1 67 3 67 7 67-12M119 1631l67-2 67 12 66-46 67-2 67-5 67-1 67-8 67 56 66-7 67-3 67-3 67 10 67-6 67-2" stroke="#32dcff" stroke-opacity="0.68"/>
<path d="M119 1629l67-8 67 7 66 12 67 0 67-3 67-1 67-2 67 2 66-4 67-7 67-8 67 16 67-6 67 4M119 1632l67-4 67 9 66-36 67-13 67 1 67-2 67 4 67-5 66-6 67-2 67-1 67 6 67-5 67 3M119 1631l67-2 67 17 66-50 67-8 67-3 67 0 67-6 67 18 66-18 67-3 67 2 67 3 67-3 67 13M119 1629l67 4 67 2 66-25 67-19 67-2 67 3 67-13 67 9 66-10 67 0 67-1 67 6 67-4 67-2M119 1646l67-2 67-9 66-40 67-5 67-1 67-2 67-2 67 1 66-5 67 8 67-12 67 12 67-12 67-1" stroke="#32b5ff" stroke-opacity="0.70"/>
<path d="M119 1631l67-2 67 11 66-45 67 9 67-5 67-6 67-14 67 10 66-9 67-2 67-1 67 6 67-5 67 3M119 1634l67-5 67 6 66-39 67-5 67 2 67-6 67-8 67 9 66-8 67 0 67 10 67-6 67 6 67-2" stroke="#323fff" stroke-opacity="0.76"/>
<path d="M119 1631l67 2 67-1 66-35 67-4 67-3 67-3 67-5 67 6 66-4 67-6 67-1 67 7 67 0 67-3" stroke="#ccff32" stroke-opacity="0.50"/>
<path d="M119 1639l67-12 67 9 66 4 67 0 67-11 67 7 67-13 67-35 66-6 67 2 67-6 67 9 67-8 67-3M119 1632l67-1 67 17 66-52 67 1 67-5 67 1 67-14 67 46 66-2 67-2 67-2 67 13 67-7 67-1" stroke="#56ff32" stroke-opacity="0.55"/>
<path d="M119 1635l67-6 67 6 66-40 67-6 67 4 67-7 67-7 67 14 66-9 67-6 67 2 67 4 67-6 67-1M119 1631l67 3 67 2 66-40 67 4 67-10 67-4 67 8 67-6 66 3 67-13 67 0 67 12 67-3 67-5M119 1632l67-2 67 6 66-40 67 4 67 3 67-18 67-6 67 52 66-10 67 0 67 0 67 11 67-15 67-4M119 1633l67-4 67 17 66-8 67-2 67-5 67 4 67-1 67-10 66 4 67-6 67 0 67 10 67-12 67-9" stroke="#32ff5d" stroke-opacity="0.59"/>
<path d="M119 1642l67-12 67 6 66-40 67 5 67-12 67-3 67-7 67 11 66-12 67 0 67 0 67 6 67-4 67-5M119 1634l67 2 67 12 66-52 67-6 67 1 67-5 67-7 67 9 66 4 67-14 67 10 67-4 67-3 67-4M119 1631l67 2 67 6 66-45 67-4 67-1 67 7 67-9 67 11 66-16 67-4 67 10 67 4 67-11 67-2M119 1657l67 0 67 9 66-37 67 4 67 4 67-2 67-7 67 1 66-10 67 1 67 2 67 9 67-16 67 2M119 1645l67 0 67-9 66-27 67-9 67-11 67-2 67-3 67 51 66-7 67-14 67 4 67 2 67 4 67 1M119 1659l67-5 67 10 66-31 67 1 67 3 67-11 67 8 67-5 66-12 67 5 67-11 67 7 67-1 67-1" stroke="#32ff85" stroke-opacity="0.61"/>
<path d="M119 1637l67-8 67 10 66-43 67-6 67-1 67-2 67-8 67 56 66-12 67 0 67-5 67 5 67-12 67 13M119 1658l67 0 67 8 66-27 67 1 67-12 67 0 67 6 67 1 66-6 67-5 67-2 67 1 67-1 67-3M119 1632l67-3 67 20 66-10 67-3 67-10 67 10 67-2 67 1 66-7 67-16 67 1 67 19 67-10 67 2M119 1632l67-3 67 6 66 4 67-7 67 4 67-1 67-1 67-3 66-3 67-4 67-15 67 24 67-22 67 13M119 1641l67-11 67 5 66-35 67-10 67 6 67-2 67-15 67 21 66-13 67-5 67-4 67 12 67-5 67-8M119 1632l67 10 67-6 66 4 67-15 67 12 67-17 67 14 67-2 66-17 67 0 67 0 67 4 67 2 67-7M119 1634l67 3 67 7 66-45 67-10 67 1 67-2 67-1 67 3 66-10 67 1 67-3 67 13 67-7 67 0" stroke="#32ffac" stroke-opacity="0.63"/>
<path d="M119 1632l67 5 67-1 66-40 67-6 67-1 67-2 67-9 67 10 66-8 67-2 67 0 67 6 67-4 67 12M119 1630l67 3 67 3 66 3 67 2 67-8 67 2 67-9 67-4 66 6 67-6 67-2 67 6 67-14 67 14M119 1644l67-15 67 5 66-38 67-4 67-6 67 7 67-14 67 56 66-7 67-4 67-2 67 11 67-10 67 2M119 1645l67-8 67 6 66-4 67-2 67 0 67-4 67-4 67 2 66-2 67-4 67-3 67 10 67-18 67 4M119 1634l67-2 67 7 66-38 67-11 67-1 67-2 67-8 67 21 66-14 67-2 67-3 67 3 67-4 67-3M119 1635l67-6 67 16 66-12 67 7 67-8 67-11 67 13 67-5 66 0 67-4 67-15 67 22 67-21 67 11M119 1645l67-16 67 8 66-40 67 9 67-9 67 0 67-12 67 21 66-11 67-7 67-9 67 20 67-19 67 7" stroke="#32ffd3" stroke-opacity="0.65"/>
<path d="M119 1631l67 6 67-2 66 5 67 0 67-3 67-2 67-1 67 1 66-11 67 0 67-3 67 11 67-10 67 2M119 1633l67-4 67 12 66-46 67 12 67-16 67 1 67-8 67 4 66-8 67-2 67 0 67 23 67-20 67 0M119 1658l67-4 67 10 66-28 67 4 67-3 67-2 67-5 67 1 66-2 67-7 67-8 67 11 67-2 67-5M119 1632l67 11 67-7 66-28 67-9 67-10 67 10 67-12 67 40 66 0 67-7 67-5 67 14 67-6 67-4M119 1637l67 4 67-1 66-38 67-12 67 13 67-14 67-4 67 18 66-19 67-6 67-1 67 8 67 2 67 2M119 1638l67-4 67 7 66-7 67 6 67-8 67 3 67-6 67 6 66-13 67 2 67-15 67 24 67-21 67 4" stroke="#32fffa" stroke-opacity="0.66"/>
<path d="M119 1634l67 4 67 1 66 0 67-19 67 14 67 1 67-1 67-4 66-1 67-10 67 1 67 13 67-12 67 3M119 1632l67-3 67 8 66-36 67-5 67-2 67 1 67 0 67-6 66-5 67-6 67 2 67 11 67-11 67 11M119 1635l67 7 67 1 66-45 67-8 67 12 67-15 67-7 67 8 66-6 67-4 67 0 67 13 67-3 67 5M119 1654l67 4 67 6 66-37 67 3 67-2 67 7 67-1 67-7 66 1 67-7 67-9 67 17 67-4 67-4M119 1633l67-1 67 15 66-8 67-4 67-7 67 3 67 0 67 1 66-16 67 6 67-10 67 18 67-7 67-2M119 1632l67-3 67 9 66-40 67-7 67 3 67 8 67-8 67-3 66-7 67-1 67-5 67 6 67-4 67 4M119 1640l67 6 67-10 66-2 67 6 67-3 67-15 67 12 67-32 66-12 67-12 67 3 67 19 67-12 67-1M119 1656l67-2 67 8 66-23 67 1 67-7 67-6 67 7 67-46 66-8 67 10 67-12 67 21 67-17 67 2M119 1646l67-17 67 23 66-51 67-11 67 6 67-10 67 2 67 11 66-21 67 10 67-5 67 5 67 8 67-18" stroke="#32dcff" stroke-opacity="0.68"/>
<path d="M119 1637l67 0 67 6 66-47 67-1 67-1 67-7 67 11 67-9 66-9 67 2 67-4 67 10 67-8 67-3M119 1632l67 3 67 1 66-31 67-15 67-1 67-3 67-8 67 10 66 1 67-11 67 4 67 1 67-1 67-6M119 1638l67-9 67 19 66-48 67 3 67-13 67-1 67-4 67 3 66 3 67-10 67-3 67 18 67-16 67 2M119 1634l67 1 67 1 66-40 67 5 67-4 67-10 67 11 67-9 66-10 67 8 67-1 67 5 67-11 67 9M119 1655l67-1 67 5 66-32 67-3 67 12 67-5 67-3 67-1 66-1 67-11 67 7 67 10 67-12 67-11M119 1657l67-1 67 9 66-39 67-2 67 10 67 1 67-16 67 16 66-7 67-8 67 2 67 10 67-21 67 11" stroke="#32b5ff" stroke-opacity="0.70"/>
<path d="M119 1659l67-2 67 9 66-70 67-7 67 10 67-13 67-3 67 13 66-14 67-4 67 0 67 5 67 0 67-7M119 1635l67 5 67 8 66-53 67-5 67-1 67 5 67-15 67 17 66-10 67-3 67-5 67 6 67-5 67 2M119 1638l67-2 67 10 66-50 67 12 67-19 67 1 67-4 67 4 66 0 67-11 67 4 67 21 67-22 67 11" stroke="#328dff" stroke-opacity="0.72"/>
<path d="M119 1632l67 7 67-4 66 4 67 2 67-4 67-10 67 7 67-12 66 2 67 1 67-2 67 9 67-7 67-10M119 1637l67-4 67 11 66-44 67-10 67 14 67-12 67-13 67 17 66-14 67-4 67 0 67 5 67-3 67-4M119 1632l67 6 67 15 66-54 67-10 67 15 67-4 67-21 67 19 66-16 67 7 67-11 67 14 67 3 67-10M119 1646l67-18 67 15 66-10 67 1 67-13 67 3 67-8 67 19 66-14 67-3 67-10 67 24 67-13 67 1" stroke="#3266ff" stroke-opacity="0.74"/>
<path d="M119 1632l67 9 67-5 66-26 67-20 67 9 67-2 67-15 67 18 66-21 67-1 67-1 67 10 67-7 67-3M119 1632l67 6 67 7 66-43 67-13 67 7 67-5 67-12 67 9 66-9 67 4 67-5 67 9 67-4 67-7M119 1631l67-2 67 7 66 3 67 1 67-11 67 2 67 2 67-6 66-3 67-1 67-1 67 10 67-13 67 2M119 1647l67-9 67-2 66-38 67-2 67-7 67-2 67-2 67 21 66-26 67 16 67-18 67 6 67-4 67 3M119 1646l67-17 67 18 66-42 67-10 67 1 67-9 67-5 67 53 66-11 67-2 67 0 67 10 67-8 67-1M119 1631l67 12 67-7 66-40 67 0 67 4 67-14 67 5 67 3 66-7 67-5 67-1 67 16 67-14 67 0" stroke="#323fff" stroke-opacity="0.76"/>
<path d="M119 1658l67 0 67 2 66-21 67-10 67 8 67-15 67 7 67 5 66-19 67 5 67-2 67 12 67-12 67-5M119 1644l67-15 67 8 66-3 67-2 67 3 67 0 67-2 67-7 66 2 67-9 67 3 67 6 67-4 67-11M119 1644l67-14 67 19 66-53 67 10 67-17 67 3 67 1 67-5 66-6 67 15 67-10 67 3 67-2 67-11" stroke="#4d32ff" stroke-opacity="0.77"/>
<path d="M119 1632l67-3 67 7 66 3 67 2 67-4 67-2 67-8 67-1 66-6 67-8 67 0 67 21 67-9 67 2M119 1641l67-6 67 1 66-36 67-11 67 7 67 5 67-22 67 22 66-14 67 1 67-5 67 18 67-19 67-2M119 1658l67-1 67 5 66-33 67 5 67-6 67 2 67-9 67-22 66-19 67 1 67-1 67 20 67-20 67-1" stroke="#7432ff" stroke-opacity="0.79"/>
<path d="M119 1657l67-1 67 6 66-26 67 4 67-19 67 1 67 12 67-4 66-14 67-1 67 4 67 10 67-5 67-6" stroke="#9b32ff" stroke-opacity="0.81"/>
<path d="M119 1636l67-7 67 14 66-34 67-19 67 0 67 1 67-12 67 9 66-4 67 5 67-5 67 2 67-6 67 4" stroke="#c332ff" stroke-opacity="0.83"/>
<path d="M119 1646l67 0 67 4 66-40 67-7 67 0 67-6 67-15 67 11 66-1 67-9 67 10 67 9 67-5 67-11" stroke="#56ff32" stroke-opacity="0.55"/>
<path d="M119 1632l67 11 67 0 66-42 67 7 67-12 67 2 67-11 67 10 66-2 67 0 67-17 67 6 67 6 67-7" stroke="#32ff5d" stroke-opacity="0.59"/>
<path d="M119 1646l67 0 67-3 66-35 67-12 67-4 67 4 67-7 67 42 66-9 67-3 67-6 67 12 67-10 67 2M119 1656l67-1 67 11 66-29 67-13 67 13 67-19 67-2 67 13 66-5 67-8 67 5 67 11 67-15 67 4M119 1656l67-1 67 4 66-31 67 12 67-22 67 10 67 4 67-12 66-6 67 6 67-6 67 3 67 1 67-7" stroke="#32ff85" stroke-opacity="0.61"/>
<path d="M119 1644l67-1 67-6 66-31 67-16 67 5 67-8 67 8 67 12 66-20 67 4 67-8 67 11 67 1 67-14M119 1646l67-9 67 12 66-11 67-8 67 4 67-15 67 4 67 3 66 2 67-4 67-9 67-2 67 2 67 7M119 1655l67 1 67 5 66-34 67 1 67 4 67-5 67-12 67 10 66 0 67-9 67 4 67 1 67-8 67-9M119 1646l67 0 67 2 66-38 67-9 67 4 67-3 67-7 67 12 66-11 67-1 67-1 67 8 67-7 67-8M119 1647l67 0 67-1 66-37 67-14 67 10 67-9 67-10 67 16 66-11 67-3 67 4 67 7 67-9 67 3" stroke="#32ffac" stroke-opacity="0.63"/>
<path d="M119 1658l67-3 67 5 66-22 67-9 67-5 67 11 67-1 67-11 66 5 67-7 67-8 67 15 67-20 67 16M119 1639l67-10 67 7 66-3 67-10 67-2 67-5 67 14 67-10 66 1 67-11 67 2 67 20 67-14 67-1M119 1639l67 6 67 6 66-16 67-1 67-15 67 7 67 8 67-9 66-7 67-6 67 4 67 7 67-12 67 6M119 1646l67-1 67 2 66-42 67-6 67 6 67-2 67-18 67 17 66-8 67-1 67-4 67 7 67 2 67-11" stroke="#32ffd3" stroke-opacity="0.65"/>
<path d="M119 1646l67-13 67 15 66-19 67 11 67-15 67-3 67 7 67 6 66-14 67 3 67-10 67 12 67-8 67-1M119 1654l67 2 67 4 66-21 67-6 67 4 67-11 67 3 67-7 66 2 67-2 67-13 67 14 67-4 67-6M119 1642l67-10 67 9 66-15 67 7 67-13 67-1 67 0 67 8 66-13 67 4 67 4 67-1 67-4 67-7M119 1632l67 13 67-2 66-38 67-6 67 6 67-10 67-8 67 35 66 6 67-4 67-13 67 8 67-4 67 4M119 1636l67-2 67 6 66-12 67-6 67 0 67-2 67 6 67 8 66-20 67-1 67-6 67 14 67-3 67 0" stroke="#32fffa" stroke-opacity="0.66"/>
<path d="M119 1632l67 12 67 9 66-14 67-10 67 1 67 2 67-8 67 3 66 0 67-14 67-8 67 28 67-9 67-9M119 1634l67-5 67 22 66-42 67-19 67 14 67-7 67-17 67 8 66-1 67-9 67 9 67 14 67-10 67 4M119 1646l67-10 67 12 66-15 67-8 67-5 67 14 67-7 67-7 66-5 67 2 67-1 67 1 67-7 67 6M119 1643l67-14 67 13 66-10 67-1 67-7 67-7 67-3 67 5 66 0 67-3 67 6 67-5 67-1 67-6M119 1658l67-1 67 1 66-31 67 9 67-12 67-5 67 0 67 11 66-13 67-2 67-5 67 11 67-6 67 9M119 1646l67-12 67 17 66-43 67 0 67-15 67 4 67-7 67 16 66-10 67-4 67 2 67 3 67-4 67-3M119 1654l67 0 67 6 66-32 67 12 67-21 67 10 67-2 67-9 66 7 67-2 67-9 67 1 67-5 67 2" stroke="#32dcff" stroke-opacity="0.68"/>
<path d="M119 1658l67 0 67 6 66-30 67-5 67 0 67 0 67 5 67-1 66-5 67-13 67-2 67 7 67 2 67-7M119 1632l67 7 67 1 66-40 67-9 67 3 67 8 67-2 67-5 66-14 67 3 67 10 67 1 67-15 67 11M119 1632l67 14 67-7 66-12 67 6 67-3 67-8 67-6 67 18 66-12 67-5 67-4 67 9 67-7 67 7M119 1655l67-1 67 6 66-33 67-6 67 4 67-6 67 11 67-2 66-10 67-5 67 1 67 17 67-9 67-13M119 1637l67 1 67 14 66-50 67 5 67-3 67-2 67-10 67 10 66-9 67-9 67 10 67-1 67 1 67 0M119 1646l67-8 67 6 66-43 67-1 67 8 67-7 67-18 67 12 66-6 67 4 67-11 67 20 67-18 67-6M119 1636l67 4 67 5 66-37 67-3 67-1 67-2 67-2 67 0 66-14 67 7 67 0 67 9 67-12 67-13" stroke="#32b5ff" stroke-opacity="0.70"/>
<path d="M119 1641l67-2 67-3 66-8 67 7 67-2 67-7 67-8 67 11 66-12 67 1 67 1 67 7 67-2 67-7M119 1655l67-2 67 10 66-30 67 7 67-3 67-15 67-4 67 14 66-4 67-9 67-5 67 1 67 8 67-12M119 1635l67-1 67 14 66-40 67-13 67-4 67 2 67-4 67 5 66-14 67 12 67-2 67 5 67-11 67 5M119 1632l67 5 67 14 66-45 67-9 67-2 67 1 67 3 67-1 66-3 67-9 67 9 67 1 67-1 67-18M119 1657l67 1 67 1 66-33 67 11 67-19 67 6 67 3 67 8 66-17 67-6 67-3 67 9 67-8 67 14M119 1656l67-3 67 13 66-34 67 8 67-8 67-8 67 5 67 2 66-14 67 7 67-2 67-4 67-10 67 13M119 1640l67-2 67 5 66-43 67-2 67 1 67 3 67-8 67-1 66 3 67-17 67 4 67 18 67-12 67-12M119 1644l67 1 67 7 66-44 67-2 67 0 67-3 67-8 67-1 66 2 67-12 67 0 67 8 67-2 67-13M119 1641l67-2 67-1 66-42 67 6 67-1 67-3 67-1 67 8 66-14 67-4 67 0 67 10 67-11 67-3M119 1646l67-9 67 15 66-41 67-12 67-5 67-3 67-12 67 27 66-6 67-14 67 4 67 8 67 0 67-15" stroke="#328dff" stroke-opacity="0.72"/>
<path d="M119 1656l67 0 67 7 66-39 67 16 67-9 67-10 67 1 67-2 66-1 67-1 67-3 67 12 67-8 67-9M119 1633l67-4 67 10 66-32 67-10 67-5 67 0 67-7 67 20 66-19 67 8 67-16 67 10 67 2 67-6M119 1655l67-2 67 7 66-64 67 8 67-10 67-2 67-2 67 34 66-1 67-4 67 1 67-3 67 2 67-4M119 1631l67-2 67 13 66-40 67 0 67 4 67-10 67 3 67-1 66-12 67 0 67-8 67 9 67-3 67 6M119 1642l67-11 67 13 66-41 67 5 67-3 67 0 67-9 67 10 66-26 67 0 67 4 67 10 67-14 67 5" stroke="#3266ff" stroke-opacity="0.74"/>
<path d="M119 1655l67 3 67 4 66-50 67-18 67-4 67 14 67-14 67-2 66 0 67 0 67-2 67 2 67 1 67-13M119 1657l67-1 67 4 66-28 67-9 67 1 67-7 67 0 67 11 66-16 67 2 67-5 67 9 67 1 67-8M119 1636l67 2 67 14 66-54 67 5 67-9 67 2 67 5 67 0 66-8 67-9 67-6 67 11 67-3 67 0M119 1632l67-2 67 6 66-10 67 10 67-12 67-8 67 0 67-10 66-24 67-4 67 0 67 16 67-4 67 2M119 1648l67-6 67 8 66-50 67 8 67-8 67 1 67-2 67 0 66-6 67-6 67-3 67 4 67-8 67 2M119 1655l67 0 67 8 66-27 67-9 67 2 67-12 67-1 67 19 66-8 67-14 67-5 67 10 67-3 67 3M119 1647l67-9 67 5 66-14 67-5 67-1 67-7 67-1 67 15 66-19 67 0 67-4 67 17 67-13 67 0M119 1646l67-4 67 8 66-45 67-2 67 2 67-9 67-1 67 11 66-9 67-5 67-2 67 1 67 5 67-10" stroke="#323fff" stroke-opacity="0.76"/>
<path d="M119 1643l67-6 67 14 66-47 67-7 67 8 67-11 67 1 67 10 66-24 67 13 67-2 67 6 67-15 67 4M119 1632l67 0 67 10 66-38 67-3 67-2 67-2 67-4 67 8 66-8 67 1 67-4 67 8 67-18 67 3M119 1638l67 9 67-11 66 3 67-12 67-7 67-2 67 2 67 15 66-16 67-1 67-7 67 16 67-10 67-7M119 1637l67 10 67 1 66-18 67 7 67-4 67-13 67-5 67 17 66-17 67-5 67 2 67 15 67-10 67-3M119 1653l67 0 67 8 66-32 67-1 67-7 67-3 67-2 67 7 66-5 67 0 67-2 67 8 67-7 67 5M119 1656l67-3 67 9 66-34 67 1 67-8 67 1 67-4 67 0 66-3 67-1 67-6 67 6 67-2 67 5M119 1646l67-4 67 8 66-27 67 8 67 3 67-15 67 12 67-4 66-14 67 3 67-10 67 9 67 2 67-1" stroke="#4d32ff" stroke-opacity="0.77"/>
<path d="M119 1639l67 5 67 7 66-45 67-9 67-5 67 10 67-4 67 10 66-14 67 1 67-7 67 15 67-19 67-7" stroke="#7432ff" stroke-opacity="0.79"/>
<path d="M119 1656l67 2 67 7 66-30 67 2 67-10 67 5 67-11 67 8 66-4 67-9 67-3 67 2 67 8 67-11M119 1635l67 3 67 10 66-39 67-2 67-3 67 0 67-10 67 8 66-4 67-4 67-6 67 3 67 3 67-9M119 1647l67-2 67-7 66-42 67 9 67 3 67-7 67-18 67 23 66-17 67 3 67-3 67 4 67-13 67 12" stroke="#9b32ff" stroke-opacity="0.81"/>
<path d="M119 1655l67 1 67 3 66-32 67-3 67-4 67-2 67 9 67-5 66-6 67 7 67-15 67 7 67 2 67 7" stroke="#c332ff" stroke-opacity="0.83"/>
<path d="M119 1646l67-9 67 14 66-41 67-4 67-7 67 3 67-13 67 16 66-15 67 5 67-3 67 8 67-10 67-1" stroke="#ea32ff" stroke-opacity="0.85"/>
<path d="M119 1645l67 1 67 5 66-55 67 11 67-3 67-2 67-4 67 30 66-14 67 10 67-13 67 6 67-4 67-5" stroke="#32ff5d" stroke-opacity="0.59"/>
<path d="M119 1643l67 2 67 3 66-39 67 0 67-12 67 4 67-8 67 12 66-10 67-8 67 7 67 7 67-11 67 2M119 1654l67 3 67 4 66-22 67 1 67-9 67-13 67-2 67 5 66-1 67-7 67-2 67 9 67 3 67-12M119 1654l67-2 67 5 66-29 67 1 67-5 67-10 67 6 67 1 66-2 67-8 67-3 67 9 67-4 67-2M119 1647l67-2 67 7 66-43 67-5 67-4 67 4 67-5 67 8 66-11 67-5 67 3 67 8 67-3 67-8" stroke="#32fffa" stroke-opacity="0.66"/>
<path d="M119 1640l67 3 67 7 66-49 67 6 67-2 67-1 67-5 67 8 66-9 67-15 67 11 67 1 67 1 67-5M119 1648l67-3 67 6 66-42 67-1 67-3 67 3 67-21 67 17 66-9 67 0 67-1 67 8 67-4 67-9M119 1645l67 0 67 5 66-25 67-1 67-2 67-5 67-3 67 7 66-6 67-1 67-5 67 13 67-11 67-2M119 1647l67-13 67 18 66-39 67-7 67-1 67-2 67-4 67 19 66-8 67-2 67 5 67 3 67-8 67 0" stroke="#32b5ff" stroke-opacity="0.70"/>
<path d="M119 1646l67-1 67 7 66-40 67-3 67-1 67-5 67-18 67 19 66-9 67-2 67 1 67 8 67-7 67-1M119 1640l67 3 67 6 66-17 67-10 67 0 67-6 67 0 67 19 66-22 67 0 67-5 67 16 67-12 67-1M119 1653l67 1 67 6 66-36 67-1 67-3 67-3 67 12 67-5 66-8 67-5 67-2 67 7 67-6 67 2M119 1656l67-3 67 7 66-36 67 2 67-7 67-1 67 3 67 2 66-6 67-8 67 5 67 2 67-6 67 5M119 1646l67 0 67 5 66-48 67 1 67-1 67-1 67-3 67 7 66-8 67-4 67 1 67 8 67-5 67-5" stroke="#328dff" stroke-opacity="0.72"/>
<path d="M119 1643l67 3 67 3 66-42 67 3 67-3 67-5 67-19 67 23 66-22 67 9 67 0 67 11 67-18 67 5M119 1639l67-1 67 13 66-45 67 0 67-3 67 0 67-5 67 5 66-6 67-2 67 1 67 6 67-8 67-5M119 1646l67-5 67 2 66-34 67-1 67-3 67-4 67-2 67 5 66-7 67-2 67-9 67 17 67-7 67-4M119 1646l67 0 67 3 66-36 67-5 67-1 67-4 67-16 67 31 66-7 67 0 67-4 67 10 67-6 67-1M119 1647l67-1 67 6 66-41 67-2 67-2 67-3 67-3 67 1 66-2 67-5 67-2 67 5 67-2 67-3" stroke="#3266ff" stroke-opacity="0.74"/>
<path d="M119 1642l67 3 67 7 66-51 67-4 67 4 67 0 67-22 67 27 66-24 67 2 67 11 67-4 67 4 67-5M119 1646l67 0 67 4 66-40 67-4 67-16 67 11 67-15 67 35 66-1 67-11 67 4 67 9 67 0 67-7M119 1655l67-3 67 7 66-33 67-2 67-3 67-2 67-4 67 4 66-5 67-3 67-1 67 17 67-16 67-2M119 1653l67 0 67 5 66-31 67-2 67-7 67 1 67 2 67-2 66-4 67-6 67 0 67 8 67-6 67-3M119 1646l67 0 67 6 66-29 67 2 67-1 67-7 67-1 67 2 66-7 67-1 67 0 67 6 67-5 67 2M119 1647l67 0 67 5 66-39 67-6 67 0 67-7 67 1 67 7 66-10 67-2 67-6 67 14 67-8 67-3M119 1646l67-1 67 7 66-41 67-5 67 2 67-7 67 1 67 5 66-7 67-9 67 3 67 7 67-11 67 3" stroke="#323fff" stroke-opacity="0.76"/>
<path d="M119 1652l67 1 67 9 66-35 67-4 67 4 67-12 67 6 67-1 66-5 67-4 67-6 67 14 67-3 67-6M119 1646l67-1 67 6 66-40 67-4 67-1 67-11 67 7 67 6 66-12 67 0 67-5 67 13 67-13 67-3M119 1645l67 0 67-6 66-34 67 3 67-4 67-2 67-3 67 10 66-16 67-9 67 11 67 7 67-10 67-7M119 1647l67-2 67 7 66-52 67 8 67-3 67-4 67-1 67 8 66-10 67-4 67-1 67 9 67-15 67 5M119 1645l67 0 67 9 66-43 67-3 67-3 67-4 67-2 67 8 66-12 67-2 67 2 67 4 67-3 67-13M119 1645l67 3 67 3 66-41 67-4 67-1 67-8 67 1 67 9 66-11 67 1 67-6 67 15 67-14 67-3M119 1653l67 0 67 6 66-32 67 3 67-6 67-7 67-3 67 7 66-5 67-6 67-4 67 9 67-3 67-4M119 1647l67 0 67 6 66-31 67 1 67-2 67-5 67-4 67 10 66-9 67-2 67-4 67 9 67-5 67-6" stroke="#4d32ff" stroke-opacity="0.77"/>
<path d="M119 1646l67-1 67 2 66-41 67 2 67-2 67-1 67-12 67 6 66 0 67-6 67-7 67 17 67-9 67-5M119 1637l67 10 67-6 66-32 67-8 67 3 67-3 67-12 67 17 66-13 67-2 67 1 67 9 67-6 67-4M119 1659l67-3 67 4 66-35 67-2 67-2 67-3 67-1 67 8 66-11 67-5 67 0 67 5 67-4 67 7M119 1644l67-4 67 1 66-31 67-3 67-6 67-6 67 4 67 7 66-8 67-9 67-5 67 23 67-14 67-2M119 1654l67-2 67 8 66-33 67-4 67-4 67 0 67-4 67 4 66-5 67 1 67-2 67 3 67-7 67 1M119 1646l67-3 67 10 66-41 67-9 67 3 67-1 67-2 67 4 66-11 67 0 67-2 67 11 67-10 67-4" stroke="#7432ff" stroke-opacity="0.79"/>
<path d="M119 1654l67 1 67 7 66-54 67-1 67-4 67-12 67 9 67-2 66 1 67-14 67 6 67 6 67-8 67 0M119 1647l67-1 67 5 66-42 67-2 67-3 67-1 67-5 67-2 66-7 67 4 67-5 67 16 67-17 67-3M119 1645l67 1 67 6 66-40 67-1 67-3 67-6 67 2 67-6 66-3 67-1 67 0 67 8 67-6 67 0M119 1646l67 0 67 6 66-27 67-2 67-2 67-6 67 1 67 5 66-7 67-7 67 2 67 8 67-4 67 0M119 1654l67-1 67 5 66-35 67 0 67-4 67-1 67-5 67-12 66-3 67-12 67 3 67 14 67-5 67-7M119 1647l67-6 67 11 66-42 67-3 67 2 67-9 67-15 67 23 66-13 67 0 67 2 67 7 67-17 67 5M119 1646l67-1 67-4 66-32 67 2 67-5 67-3 67-3 67 8 66-15 67 3 67-2 67 11 67-13 67 4" stroke="#9b32ff" stroke-opacity="0.81"/>
<path d="M119 1636l67-2 67 18 66-42 67-6 67 3 67-4 67-15 67 10 66-5 67-1 67 1 67 3 67 1 67-6M119 1653l67 2 67 7 66-26 67-13 67-5 67-1 67 8 67-6 66 2 67-12 67 9 67-1 67-7 67 6M119 1647l67 0 67 4 66-43 67-3 67-1 67-1 67-4 67 20 66-1 67-3 67-8 67 10 67-6 67 5M119 1634l67 13 67 5 66-43 67-6 67 2 67-4 67-1 67 8 66-11 67-1 67-3 67 11 67-6 67-6M119 1648l67-3 67 7 66-43 67-1 67 1 67-14 67 3 67 23 66-8 67-5 67 3 67 5 67-7 67-2M119 1655l67-3 67 5 66-31 67-3 67-3 67-5 67-3 67 5 66-3 67-6 67 2 67 13 67-12 67-1" stroke="#c332ff" stroke-opacity="0.83"/>
<path d="M119 1653l67 1 67 6 66-34 67 0 67-8 67-3 67 0 67 10 66-9 67-5 67-4 67 10 67-2 67-6M119 1659l67-6 67 8 66-30 67-7 67-4 67 2 67-6 67 6 66-12 67-1 67-2 67 16 67-13 67 4M119 1653l67 1 67 7 66-35 67-2 67-3 67-4 67-2 67 6 66 2 67-2 67-13 67 7 67-5 67-4M119 1646l67-1 67 4 66-39 67-3 67-3 67-11 67 10 67 4 66-8 67 1 67-9 67 14 67-9 67-1M119 1653l67 0 67 9 66-39 67-1 67-1 67-4 67-1 67 5 66-6 67 3 67-12 67 9 67-8 67 4M119 1657l67-4 67 7 66-36 67-4 67-3 67-1 67-1 67 10 66-12 67-3 67-6 67 12 67-6 67 0" stroke="#ea32ff" stroke-opacity="0.85"/>
<path d="M119 1648l67-5 67 8 66-45 67 4 67-4 67-4 67-13 67 17 66-22 67 1 67 9 67 4 67-2 67-10M119 1654l67 0 67 8 66-56 67 3 67 0 67-11 67-8 67 17 66-14 67 0 67-2 67 13 67-12 67-2M119 1655l67-2 67 4 66-27 67-7 67 6 67-10 67-4 67-15 66-14 67 8 67 0 67 8 67-7 67-6" stroke="#ff32ec" stroke-opacity="0.87"/>
<path d="M119 1638l67 4 67 8 66-38 67-2 67-11 67 4 67-3 67 6 66-9 67 1 67-5 67 9 67-8 67-3M119 1653l67 0 67 5 66-32 67-3 67 2 67-5 67-2 67-1 66 0 67-8 67 0 67 4 67-2 67 3" stroke="#ff32c5" stroke-opacity="0.88"/>
<path d="M119 1647l67-6 67 5 66-45 67 6 67-9 67 7 67-12 67 15 66-12 67-14 67 11 67 12 67-8 67-6M119 1644l67 1 67 7 66-40 67-3 67-1 67-9 67-1 67 8 66-10 67 4 67-6 67 8 67-6 67-7" stroke="#ff329e" stroke-opacity="0.90"/>
<path d="M119 1647l67-1 67 5 66-42 67-6 67 3 67-3 67-5 67 8 66-10 67 0 67-11 67 18 67-8 67-2M119 1647l67-2 67 4 66-40 67-6 67 2 67-3 67-8 67 14 66-11 67 0 67-8 67 13 67-3 67-7" stroke="#ff3276" stroke-opacity="0.92"/>
<path d="M119 1653l67-1 67 7 66-34 67-4 67-5 67 2 67-5 67 7 66-8 67-2 67-4 67 9 67-7 67-2M119 1652l67 0 67 4 66-42 67-2 67-2 67-6 67-2 67 5 66-8 67-4 67 1 67 8 67-4 67-3" stroke="#32b5ff" stroke-opacity="0.70"/>
<path d="M119 1653l67-1 67 6 66-39 67 0 67-2 67-7 67 4 67-5 66-11 67-3 67-1 67 13 67-7 67-3M119 1647l67 1 67 4 66-40 67-1 67-3 67 0 67-6 67 7 66-10 67-2 67-2 67 9 67-8 67 2" stroke="#328dff" stroke-opacity="0.72"/>
<path d="M119 1653l67 2 67 4 66-32 67-5 67-1 67-6 67-2 67 8 66-10 67-5 67 0 67 12 67-8 67-2M119 1647l67 0 67 6 66-40 67 0 67-5 67-5 67 1 67 15 66-9 67 2 67-4 67 9 67-9 67-1M119 1653l67-2 67 7 66-35 67-6 67-1 67 0 67-3 67 1 66-3 67-1 67-2 67 7 67-10 67-1" stroke="#3266ff" stroke-opacity="0.74"/>
<path d="M119 1646l67 1 67 4 66-24 67-2 67-9 67-1 67 4 67 2 66-12 67 1 67 1 67 0 67-1 67 1M119 1652l67 2 67 3 66-35 67-3 67-2 67 2 67-4 67 3 66-4 67-4 67-2 67 6 67-6 67 0M119 1652l67 1 67 5 66-33 67-6 67-2 67-3 67 1 67 5 66-4 67-7 67-7 67 11 67-5 67 5M119 1651l67 2 67 4 66-34 67-4 67-1 67-5 67-1 67-4 66-9 67-5 67 4 67 7 67-6 67-6M119 1647l67 0 67 6 66-40 67-5 67-1 67-3 67-2 67 8 66-7 67-9 67 1 67 10 67-7 67-3M119 1653l67-1 67 6 66-36 67-3 67-3 67-3 67-2 67 9 66-13 67-3 67-3 67 13 67-4 67-2" stroke="#323fff" stroke-opacity="0.76"/>
<path d="M119 1653l67-1 67 8 66-39 67-1 67 0 67-7 67 1 67 6 66-5 67-3 67 5 67-4 67-6 67 4M119 1647l67-4 67 8 66-42 67 2 67-4 67-10 67 5 67 8 66-9 67-15 67 9 67 10 67-6 67-5M119 1649l67-2 67 7 66-42 67-1 67-7 67 1 67-3 67 9 66-12 67-2 67-1 67 6 67-3 67 1M119 1647l67 1 67 5 66-42 67-3 67-4 67 0 67 0 67 2 66-5 67-7 67 1 67 12 67-9 67-4M119 1646l67 3 67 4 66-40 67-3 67-3 67-1 67-5 67 9 66-10 67-3 67 1 67 8 67-7 67-3M119 1648l67-1 67 6 66-38 67-5 67-4 67 0 67-4 67 6 66-13 67 3 67-3 67 9 67-4 67-4" stroke="#4d32ff" stroke-opacity="0.77"/>
<path d="M119 1648l67-3 67 6 66-42 67-1 67 2 67-8 67-3 67 9 66-12 67-2 67 0 67 8 67-6 67-7M119 1647l67 0 67 5 66-43 67-7 67 0 67-3 67 4 67 4 66-11 67 0 67-2 67 11 67-8 67-8M119 1653l67-2 67 9 66-35 67-2 67-7 67 0 67-2 67-8 66-2 67-7 67 1 67 6 67-4 67-4M119 1648l67-2 67 7 66-28 67-6 67-1 67-2 67-7 67 9 66-8 67-4 67 1 67 5 67-2 67-7M119 1648l67-1 67 6 66-42 67 3 67-4 67-5 67 0 67 3 66-6 67-8 67 1 67 11 67-8 67 0M119 1653l67 0 67 6 66-36 67-3 67-3 67-4 67 4 67 1 66-9 67-4 67 1 67 7 67-5 67-2M119 1653l67-2 67 7 66-33 67-5 67-3 67-5 67 0 67 8 66-10 67-3 67 0 67 10 67-13 67 4" stroke="#7432ff" stroke-opacity="0.79"/>
<path d="M119 1647l67 1 67 4 66-39 67-3 67-2 67-4 67-16 67 21 66-10 67-4 67-2 67 9 67-4 67-2M119 1647l67 0 67 4 66-42 67-2 67 6 67-11 67 3 67 2 66-12 67 1 67-2 67 8 67-6 67-1M119 1653l67 1 67 6 66-35 67-5 67-5 67 3 67-4 67-1 66-15 67-3 67-1 67 8 67-4 67-3M119 1648l67-1 67 6 66-34 67 0 67-2 67-3 67 2 67 0 66-6 67-4 67-4 67 12 67-9 67 0" stroke="#9b32ff" stroke-opacity="0.81"/>
<path d="M119 1653l67-1 67 7 66-35 67-1 67-5 67-4 67 1 67 5 66-11 67 3 67-6 67 8 67-1 67-5M119 1653l67 0 67 6 66-36 67-4 67 1 67-4 67-1 67 6 66-10 67-1 67-3 67 8 67-2 67-5M119 1647l67 0 67 6 66-44 67 0 67-3 67-2 67-4 67 9 66-6 67-7 67 2 67 6 67-6 67-1M119 1648l67-2 67 6 66-27 67-5 67 1 67-6 67-2 67 3 66-6 67-1 67-4 67 11 67-9 67 0M119 1647l67 0 67 7 66-44 67-2 67 1 67-4 67-2 67 7 66-14 67 3 67-4 67 9 67-8 67 2" stroke="#c332ff" stroke-opacity="0.83"/>
<path d="M119 1652l67 1 67 5 66-33 67-1 67-6 67-5 67 1 67 3 66-6 67 0 67-6 67 13 67-8 67-2M119 1654l67-2 67 7 66-33 67-7 67-1 67 1 67-7 67 7 66-7 67-1 67-6 67 11 67-4 67-3M119 1648l67-1 67 5 66-45 67 2 67-3 67 1 67-7 67 8 66-10 67-4 67 3 67 5 67-4 67-9M119 1646l67 0 67 7 66-42 67-2 67 2 67-6 67-4 67 6 66-6 67-6 67 0 67 7 67-4 67-1M119 1654l67-1 67 5 66-34 67-5 67 0 67-4 67 2 67 3 66-5 67-8 67-2 67 13 67-11 67-1M119 1653l67-1 67 7 66-36 67-2 67-1 67-7 67-4 67 9 66-5 67-5 67-3 67 10 67-10 67 1M119 1651l67 2 67 5 66-34 67-3 67-5 67 1 67-3 67 4 66-8 67-3 67-2 67 8 67-5 67-3M119 1647l67 0 67 6 66-38 67-5 67-3 67-1 67-6 67 9 66-12 67 0 67-2 67 9 67-2 67-4M119 1648l67 0 67 6 66-44 67 1 67-3 67 0 67-6 67 7 66-9 67-2 67-1 67 5 67-1 67-8M119 1652l67 1 67 4 66-34 67-4 67 1 67-4 67-8 67 10 66-9 67-2 67-1 67 6 67-4 67-2" stroke="#ea32ff" stroke-opacity="0.85"/>
<path d="M119 1647l67-1 67 8 66-44 67-1 67 1 67-8 67 3 67 2 66-12 67-2 67 1 67 10 67-7 67-1M119 1652l67 1 67 5 66-37 67 0 67 3 67-12 67 0 67 6 66-6 67 1 67-8 67 7 67-7 67-1M119 1654l67-2 67 5 66-34 67-4 67-3 67-5 67 5 67 2 66-6 67-3 67-2 67 5 67-6 67 3" stroke="#ff32ec" stroke-opacity="0.87"/>
<path d="M119 1653l67-2 67 7 66-32 67-6 67-4 67 8 67-9 67 6 66-10 67-2 67-4 67 11 67-9 67 2M119 1648l67-2 67 6 66-41 67-2 67-5 67 0 67-4 67 7 66-12 67 1 67-5 67 16 67-11 67-4M119 1646l67 1 67 5 66-42 67-2 67 1 67-7 67-3 67 10 66-10 67-4 67-2 67 10 67-2 67-10M119 1647l67-1 67 5 66-36 67-5 67-1 67-5 67-5 67 10 66-7 67-8 67 2 67 9 67-9 67-3M119 1647l67 1 67 5 66-43 67 2 67-4 67-13 67 10 67 4 66-12 67 1 67-2 67 9 67-4 67-3M119 1654l67-1 67 4 66-33 67-2 67-5 67 0 67-9 67 0 66-10 67 0 67-3 67 8 67-2 67-8M119 1653l67-1 67 8 66-38 67 0 67-4 67-4 67-4 67 3 66 0 67-8 67 3 67 5 67-3 67-3" stroke="#ff32c5" stroke-opacity="0.88"/>
<path d="M119 1646l67-1 67 8 66-43 67-2 67 0 67-4 67-4 67 7 66-8 67-4 67-1 67 9 67-3 67-6M119 1652l67 0 67 6 66-35 67-3 67-1 67-1 67-5 67 7 66-7 67-6 67-1 67 11 67-11 67 2M119 1653l67-1 67 7 66-31 67-11 67 3 67-5 67-1 67 7 66-9 67 1 67-5 67 6 67-4 67-6M119 1648l67-1 67 5 66-41 67-1 67-3 67-3 67-4 67 10 66-12 67-1 67-4 67 13 67-9 67-6M119 1652l67 0 67 7 66-36 67-4 67-4 67-3 67 2 67 5 66-15 67 4 67-4 67 10 67-5 67-1M119 1653l67 0 67 5 66-32 67-7 67-1 67-2 67-9 67 11 66-8 67-3 67-4 67 12 67-9 67 3M119 1651l67 1 67 5 66-33 67-4 67-1 67-3 67-4 67 6 66-7 67-1 67-2 67 6 67-8 67-1" stroke="#ff329e" stroke-opacity="0.90"/>
<path d="M119 1644l67 4 67 4 66-27 67-3 67-6 67 0 67 1 67-11 66-8 67-1 67 1 67 4 67-3 67-4M119 1648l67-1 67 4 66-39 67-1 67-2 67-6 67-3 67 8 66-13 67-4 67 2 67 13 67-7 67-4M119 1653l67 0 67 6 66-36 67-3 67 0 67-4 67-5 67 9 66-12 67 1 67-1 67 8 67-9 67 0M119 1648l67-2 67 6 66-29 67 3 67-8 67 0 67-8 67 9 66-7 67-6 67 0 67 9 67-7 67-1M119 1652l67 0 67 7 66-35 67-3 67-4 67-6 67 3 67-10 66-10 67 3 67-3 67 9 67-6 67 0M119 1647l67-1 67 8 66-42 67-4 67-1 67-2 67-2 67 5 66-12 67 2 67-2 67 10 67-7 67-3M119 1652l67-1 67 7 66-36 67-3 67 1 67-5 67-3 67 3 66-5 67-3 67-1 67 8 67-7 67-2" stroke="#ff3276" stroke-opacity="0.92"/>
<path d="M119 1651l67-2 67 7 66-39 67 1 67-4 67 1 67-4 67 6 66-7 67-7 67-1 67 7 67-8 67 2" stroke="#32dcff" stroke-opacity="0.68"/>
<path d="M119 1648l67 0 67 5 66-40 67-1 67-5 67-2 67 1 67 5 66-5 67-8 67 0 67 9 67-6 67-6M119 1649l67 0 67 5 66-41 67 0 67-5 67-3 67 2 67 2 66-6 67-6 67 0 67 10 67-7 67-3" stroke="#32b5ff" stroke-opacity="0.70"/>
<path d="M119 1652l67 0 67 5 66-34 67-1 67-6 67-3 67-3 67 7 66-10 67 2 67-3 67 7 67-7 67 2M119 1647l67 0 67 6 66-38 67-3 67-5 67 0 67-3 67 4 66-10 67 0 67-1 67 11 67-8 67-4M119 1651l67 0 67 7 66-36 67-3 67-3 67-1 67 1 67 2 66-11 67-4 67 0 67 10 67-8 67-3" stroke="#328dff" stroke-opacity="0.72"/>
<path d="M119 1652l67-1 67 7 66-35 67-4 67-5 67-2 67 0 67 5 66-4 67-6 67-3 67 8 67-4 67-3M119 1653l67-2 67 6 66-38 67 1 67-2 67-5 67-3 67 3 66-3 67-6 67 0 67 8 67-6 67 0M119 1655l67-3 67 5 66-31 67-7 67-4 67 1 67-5 67 5 66-7 67-3 67 0 67 9 67-11 67 4M119 1647l67 1 67 5 66-29 67-8 67-2 67 0 67-1 67 3 66-11 67-1 67 3 67 8 67-10 67-3M119 1648l67 1 67 6 66-42 67 1 67-7 67 2 67-7 67 13 66-5 67-5 67 0 67 8 67-7 67 1M119 1652l67-1 67 6 66-39 67 2 67-5 67-2 67 1 67 1 66-5 67-7 67 0 67 10 67-9 67 3M119 1653l67-2 67 7 66-40 67-4 67-3 67-4 67-3 67 7 66-9 67-1 67-3 67 5 67-2 67-2" stroke="#3266ff" stroke-opacity="0.74"/>
<path d="M119 1649l67 0 67 5 66-39 67-3 67-2 67 0 67-6 67 6 66-11 67 1 67-2 67 9 67-4 67 0M119 1649l67 0 67 5 66-38 67-2 67 1 67-5 67-4 67 5 66-8 67-5 67 0 67 8 67-5 67-4" stroke="#323fff" stroke-opacity="0.76"/>
<path d="M119 1648l67-1 67 6 66-34 67-1 67-1 67-3 67-2 67 3 66-7 67-6 67 1 67 12 67-6 67-3M119 1652l67 1 67 3 66-36 67-2 67-2 67 1 67-4 67 5 66-7 67-7 67 0 67 8 67-5 67 1M119 1651l67 1 67 5 66-34 67-4 67-4 67-1 67-4 67 8 66-7 67-5 67-3 67 11 67-7 67-4M119 1648l67 1 67 5 66-40 67-2 67-4 67 1 67-7 67 8 66-9 67-1 67 1 67 4 67-5 67-3" stroke="#4d32ff" stroke-opacity="0.77"/>
<path d="M119 1651l67 1 67 6 66-33 67-7 67 0 67-4 67-5 67 6 66-7 67-1 67 0 67 6 67-6 67-2M119 1652l67 0 67 5 66-35 67-1 67-7 67-2 67-4 67 11 66-11 67-2 67-3 67 10 67-7 67 0M119 1652l67 0 67 6 66-34 67-6 67 1 67-5 67-3 67-1 66-9 67-4 67 3 67 7 67-8 67-1M119 1652l67 0 67 6 66-37 67-3 67-5 67 2 67-4 67 6 66-8 67-6 67 2 67 7 67-6 67-2M119 1652l67-1 67 4 66-40 67 3 67-4 67-1 67-4 67 2 66-7 67-6 67-1 67 11 67-10 67 0M119 1650l67 1 67 5 66-33 67-8 67 0 67-3 67 1 67 4 66-9 67-4 67-2 67 13 67-6 67-5" stroke="#7432ff" stroke-opacity="0.79"/>
<path d="M119 1653l67-2 67 8 66-33 67-10 67 2 67 0 67-9 67 9 66-11 67 3 67-6 67 8 67-5 67 0M119 1652l67 0 67 4 66-32 67-3 67-3 67-3 67-3 67 5 66-9 67-2 67-3 67 9 67-8 67 1M119 1647l67 0 67 6 66-42 67 0 67-4 67 2 67-2 67 2 66-5 67-9 67 3 67 8 67-4 67-4M119 1648l67 0 67 6 66-34 67-6 67-4 67-2 67-1 67 5 66-11 67-4 67 3 67 6 67-6 67 0M119 1648l67 1 67 6 66-39 67-8 67 3 67-4 67-3 67 8 66-10 67-6 67 0 67 10 67-5 67-3M119 1651l67-1 67 6 66-43 67 2 67-4 67-4 67-5 67 9 66-10 67-1 67-4 67 12 67-8 67-2M119 1651l67 0 67 6 66-36 67-1 67-3 67-4 67-3 67 5 66-3 67-7 67-3 67 8 67-4 67-2M119 1653l67-3 67 9 66-40 67-2 67-5 67-2 67 0 67 7 66-6 67-6 67-2 67 12 67-9 67-2M119 1651l67-1 67 6 66-38 67 0 67-4 67-1 67-6 67 11 66-7 67-4 67-4 67 8 67-8 67 2" stroke="#9b32ff" stroke-opacity="0.81"/>
<path d="M119 1649l67-3 67 8 66-37 67-8 67 2 67-3 67-6 67 14 66-2 67-8 67-3 67 11 67-9 67-1M119 1652l67 0 67 6 66-45 67-6 67 3 67-2 67-1 67 3 66-7 67-4 67-1 67 8 67-5 67-5M119 1653l67-1 67 6 66-36 67-1 67-8 67 3 67-3 67 1 66-4 67-5 67-2 67 5 67-1 67-1M119 1651l67 1 67 6 66-40 67 1 67-5 67-3 67 2 67 3 66-7 67-3 67-4 67 10 67-5 67-2M119 1649l67 0 67 5 66-37 67-5 67 0 67-7 67 3 67 4 66-10 67 0 67-5 67 11 67-8 67-2M119 1650l67 1 67 6 66-38 67 0 67-5 67 1 67-5 67 5 66-6 67-6 67 2 67 9 67-9 67 0" stroke="#c332ff" stroke-opacity="0.83"/>
<path d="M119 1653l67-2 67 8 66-32 67-12 67 3 67-3 67-4 67 9 66-12 67-3 67-2 67 9 67-9 67 5M119 1653l67-1 67 6 66-43 67-3 67-1 67-6 67 1 67 12 66-6 67-4 67-3 67 8 67-4 67-3M119 1651l67 0 67 7 66-36 67-3 67-2 67-3 67-2 67 5 66-5 67-3 67-4 67 10 67-8 67-2M119 1648l67-2 67 7 66-38 67-2 67-3 67-6 67 1 67 2 66-8 67-3 67 3 67 8 67-7 67-5M119 1648l67-1 67 6 66-39 67-4 67 0 67-6 67 0 67 6 66-6 67-6 67-3 67 8 67-4 67-2M119 1646l67 2 67 4 66-37 67-3 67-2 67 0 67-11 67 12 66-11 67-1 67-1 67 8 67-7 67-4M119 1648l67-1 67 6 66-38 67-4 67 0 67-6 67-2 67 7 66-9 67-1 67-4 67 13 67-9 67-5M119 1648l67 1 67 4 66-33 67-2 67-4 67 3 67-5 67 4 66-9 67 0 67-5 67 12 67-11 67 3M119 1652l67-2 67 7 66-39 67 3 67-6 67-4 67 1 67 4 66-10 67 1 67-4 67 10 67-8 67-3" stroke="#ea32ff" stroke-opacity="0.85"/>
<path d="M119 1649l67-2 67 8 66-40 67-4 67-2 67-1 67-4 67 7 66-11 67-3 67-1 67 9 67-8 67 1M119 1649l67-1 67 5 66-39 67-4 67 0 67-1 67-3 67 4 66-11 67 1 67-1 67 6 67-7 67-1M119 1652l67-1 67 7 66-42 67-3 67-4 67-1 67-6 67 7 66-11 67 2 67-3 67 11 67-6 67-2M119 1651l67 1 67 6 66-35 67-2 67-1 67-8 67-1 67 4 66-9 67-3 67 1 67 9 67-6 67-7M119 1652l67-2 67 6 66-33 67-9 67 4 67-7 67 0 67 7 66-11 67 1 67-4 67 7 67-5 67-3M119 1651l67 2 67 3 66-32 67-5 67-2 67-6 67-2 67 4 66-11 67-5 67-1 67 9 67-6 67 1M119 1652l67-1 67 7 66-38 67-3 67-4 67-1 67-2 67 5 66-6 67 1 67-8 67 8 67-3 67-4M119 1649l67-2 67 8 66-34 67-2 67-5 67-2 67 0 67 2 66-8 67-5 67 3 67 8 67-8 67 1M119 1649l67 0 67 5 66-37 67-3 67-4 67-2 67-4 67 7 66-8 67-2 67-3 67 9 67-8 67-1M119 1650l67-1 67 9 66-38 67-2 67-2 67-1 67-3 67 5 66-9 67-4 67 0 67 6 67-4 67 0" stroke="#ff32ec" stroke-opacity="0.87"/>
<path d="M119 1649l67 0 67 5 66-41 67-1 67-6 67-1 67-3 67 7 66-11 67-2 67 1 67 7 67-5 67-2M119 1649l67 0 67 3 66-37 67-4 67-3 67-2 67-2 67 6 66-12 67 1 67-1 67 8 67-10 67-2" stroke="#ff32c5" stroke-opacity="0.88"/>
<path d="M119 1648l67 1 67 6 66-41 67-5 67-1 67-2 67-4 67 9 66-11 67-3 67-2 67 12 67-8 67-3M119 1653l67-2 67 6 66-33 67-6 67-1 67-3 67-1 67 2 66-5 67-3 67-4 67 8 67-6 67 0M119 1648l67 1 67 5 66-28 67-5 67-3 67-3 67 0 67-5 66-7 67-5 67 0 67 9 67-5 67-6M119 1648l67 0 67 6 66-38 67-8 67-1 67 0 67-5 67 9 66-8 67-2 67-4 67 11 67-8 67 0" stroke="#ff329e" stroke-opacity="0.90"/>
<path d="M119 1647l67 0 67 7 66-38 67-5 67-2 67-3 67-3 67 6 66-6 67-4 67-2 67 9 67-6 67-1M119 1650l67-3 67 6 66-38 67-4 67-2 67-4 67-2 67 7 66-11 67 1 67-1 67 6 67-4 67 0M119 1652l67 1 67 4 66-37 67-4 67 0 67-4 67-3 67 6 66-9 67 0 67-5 67 15 67-14 67 0M119 1652l67-3 67 8 66-34 67-5 67 0 67-6 67 1 67 4 66-9 67 0 67-3 67 9 67-8 67-3" stroke="#ff3276" stroke-opacity="0.92"/>
<path d="M119 1651l67-1 67 5 66-34 67-4 67-5 67-2 67-4 67 8 66-7 67-2 67-1 67 4 67-4 67-5" stroke="#32ffd3" stroke-opacity="0.65"/>
<path d="M119 1650l67-1 67 6 66-38 67-3 67 2 67-4 67-5 67 5 66-10 67 1 67-1 67 7 67-10 67 2M119 1650l67 0 67 5 66-37 67-3 67-5 67 0 67-1 67 4 66-8 67-3 67-1 67 10 67-9 67-2" stroke="#32dcff" stroke-opacity="0.68"/>
<path d="M119 1650l67 0 67 6 66-38 67 2 67-7 67-3 67 2 67 3 66-11 67 0 67-3 67 10 67-8 67-1" stroke="#328dff" stroke-opacity="0.72"/>
<path d="M119 1652l67-1 67 5 66-37 67-5 67 3 67-4 67-3 67 2 66-3 67-6 67 0 67 8 67-5 67-4M119 1649l67 0 67 5 66-39 67-4 67 1 67-3 67-5 67 9 66-10 67 0 67-1 67 6 67-8 67 1M119 1651l67-2 67 6 66-38 67-1 67-4 67-2 67 0 67 1 66-3 67-5 67-2 67 8 67-6 67-4M119 1650l67-1 67 8 66-35 67-7 67-2 67-4 67 4 67 0 66-8 67-3 67 0 67 8 67-4 67-6" stroke="#3266ff" stroke-opacity="0.74"/>
<path d="M119 1652l67 0 67 4 66-32 67-7 67-3 67-6 67 2 67 5 66-8 67-2 67-3 67 10 67-8 67-3M119 1651l67 0 67 5 66-37 67-3 67-2 67-2 67-2 67 3 66-9 67 0 67-1 67 9 67-8 67 1" stroke="#323fff" stroke-opacity="0.76"/>
<path d="M119 1651l67-2 67 7 66-36 67 1 67-4 67-5 67-2 67 8 66-9 67 0 67-7 67 10 67-8 67 0M119 1648l67 1 67 5 66-36 67-4 67-2 67-3 67-2 67 5 66-7 67-6 67 0 67 8 67-5 67-3" stroke="#4d32ff" stroke-opacity="0.77"/>
<path d="M119 1651l67 1 67 6 66-44 67 2 67-6 67-4 67-3 67 12 66-12 67 2 67-2 67 10 67-7 67-2M119 1650l67 0 67 5 66-37 67-3 67-5 67 0 67-4 67 7 66-8 67-7 67 1 67 8 67-6 67-4M119 1649l67 0 67 6 66-39 67 0 67-6 67 1 67-3 67 2 66-6 67-3 67-1 67 6 67-3 67-3M119 1648l67 1 67 5 66-37 67-2 67-4 67-3 67-2 67 8 66-7 67-3 67-3 67 13 67-11 67 2M119 1650l67-2 67 8 66-37 67-4 67-1 67 0 67-3 67 5 66-7 67-7 67 0 67 9 67-6 67-1M119 1650l67-1 67 6 66-37 67 0 67-5 67-1 67-3 67 5 66-10 67 0 67-5 67 12 67-9 67 1M119 1651l67-2 67 6 66-35 67-8 67 2 67-3 67-4 67 5 66-7 67-3 67-2 67 11 67-7 67-1" stroke="#7432ff" stroke-opacity="0.79"/>
<path d="M119 1651l67 2 67 3 66-34 67-4 67-3 67-5 67-3 67 9 66-7 67-8 67 2 67 7 67-3 67-3M119 1651l67-1 67 5 66-39 67 1 67-1 67-4 67-1 67 3 66-4 67-1 67-5 67 8 67-6 67-3M119 1650l67 0 67 6 66-36 67-4 67 1 67-5 67 1 67 1 66-5 67-4 67-3 67 10 67-8 67-1M119 1651l67-2 67 8 66-37 67-3 67-3 67-3 67-4 67 9 66-8 67-6 67-1 67 10 67-6 67-1M119 1650l67-2 67 8 66-38 67-4 67-4 67-1 67-5 67 9 66-8 67-6 67 2 67 6 67-3 67-3M119 1650l67-2 67 6 66-34 67-3 67-1 67-8 67 2 67 4 66-10 67-2 67-1 67 8 67-6 67-3M119 1650l67 1 67 4 66-36 67-6 67-3 67 1 67-2 67 6 66-10 67 1 67-4 67 6 67-4 67-6M119 1649l67 1 67 7 66-39 67-3 67-4 67-1 67-4 67 8 66-10 67-2 67-2 67 10 67-6 67-4M119 1651l67-2 67 8 66-40 67-4 67-2 67-3 67 0 67 3 66-6 67-2 67-4 67 11 67-7 67 0" stroke="#9b32ff" stroke-opacity="0.81"/>
<path d="M119 1653l67-3 67 7 66-40 67-1 67-2 67-2 67-4 67 6 66-8 67-2 67 0 67 8 67-7 67-2M119 1650l67-1 67 6 66-39 67-1 67-5 67-1 67-3 67 5 66-7 67-3 67-6 67 12 67-7 67-2M119 1650l67-2 67 7 66-33 67-4 67-2 67-5 67-7 67 10 66-6 67-4 67 0 67 5 67-7 67-1M119 1651l67 0 67 6 66-34 67-7 67-4 67-1 67-5 67 11 66-13 67-4 67 2 67 6 67-4 67-7M119 1650l67 1 67 4 66-39 67-5 67 3 67-4 67-4 67 5 66-7 67-3 67-3 67 13 67-10 67 0M119 1649l67-1 67 8 66-40 67-1 67-3 67-3 67-2 67 6 66-9 67-2 67-3 67 11 67-9 67 1M119 1649l67 0 67 6 66-38 67-3 67 1 67-7 67-1 67 4 66-6 67-2 67-5 67 12 67-8 67-1M119 1650l67 0 67 6 66-38 67-4 67-3 67-1 67-3 67 9 66-9 67-6 67 0 67 8 67-4 67 0M119 1650l67 0 67 5 66-37 67-3 67-2 67-3 67-2 67 5 66-10 67-6 67 6 67 6 67-6 67-1M119 1649l67-1 67 6 66-37 67-2 67 0 67-5 67-4 67 7 66-8 67-5 67 0 67 6 67-4 67-1" stroke="#c332ff" stroke-opacity="0.83"/>
<path d="M119 1648l67 0 67 6 66-40 67-3 67 0 67 0 67-8 67 9 66-10 67-3 67 1 67 11 67-7 67-8M119 1651l67-1 67 7 66-36 67-6 67-3 67-2 67 0 67 6 66-10 67 1 67-3 67 8 67-7 67-3M119 1648l67 0 67 5 66-39 67-1 67-2 67-4 67-2 67 7 66-13 67 2 67-1 67 10 67-10 67-4M119 1650l67-1 67 6 66-39 67-2 67-5 67-2 67-3 67 8 66-6 67-7 67-1 67 12 67-10 67 2M119 1648l67 2 67 4 66-37 67-3 67-4 67-1 67-3 67 6 66-7 67-4 67-1 67 8 67-11 67 3M119 1649l67-1 67 6 66-39 67 0 67-6 67 1 67-3 67 6 66-10 67-4 67-1 67 10 67-5 67-4M119 1649l67 0 67 7 66-41 67 1 67-4 67-5 67 1 67 7 66-9 67-4 67 1 67 4 67-6 67-2M119 1650l67-1 67 6 66-38 67 1 67-10 67 2 67-2 67 5 66-12 67 0 67-2 67 9 67-5 67-5" stroke="#ea32ff" stroke-opacity="0.85"/>
<path d="M119 1651l67 0 67 6 66-36 67-5 67-1 67-6 67-1 67 7 66-5 67-3 67-4 67 9 67-10 67 0M119 1650l67-3 67 8 66-35 67-5 67-3 67 1 67 1 67-4 66-7 67-2 67-6 67 15 67-10 67 1M119 1650l67 1 67 3 66-31 67-9 67 1 67-2 67-1 67 1 66-5 67-2 67-8 67 13 67-7 67 0M119 1650l67-2 67 6 66-40 67-1 67 0 67-6 67-4 67 9 66-10 67-1 67-2 67 9 67-7 67-2M119 1650l67 0 67 7 66-36 67-7 67 2 67-3 67 0 67 2 66-13 67-1 67-3 67 10 67-8 67 1M119 1650l67-1 67 8 66-40 67-3 67-1 67-2 67-6 67 8 66-10 67-4 67 0 67 9 67-6 67-5M119 1651l67-2 67 7 66-38 67-4 67-3 67 3 67-5 67 6 66-10 67-3 67-1 67 8 67-5 67-5M119 1650l67 0 67 5 66-40 67 3 67-6 67-1 67-4 67 7 66-8 67-4 67 3 67 5 67-7 67-2" stroke="#ff32ec" stroke-opacity="0.87"/>
<path d="M119 1649l67-2 67 6 66-32 67-3 67-6 67 0 67-1 67 5 66-10 67 0 67 0 67 5 67-6 67-1M119 1651l67 0 67 5 66-35 67-2 67-1 67-5 67-6 67 7 66-6 67-6 67 0 67 10 67-10 67 4M119 1649l67 1 67 5 66-36 67-4 67-3 67-6 67 1 67 7 66-8 67-5 67-1 67 9 67-7 67-5M119 1649l67 0 67 6 66-35 67-6 67 0 67-4 67-4 67 10 66-10 67 0 67-3 67 5 67-4 67-4M119 1649l67 1 67 5 66-37 67-4 67-4 67 1 67-7 67 8 66-11 67 1 67-5 67 13 67-4 67-7" stroke="#ff32c5" stroke-opacity="0.88"/>
<path d="M119 1652l67-1 67 7 66-40 67 0 67-5 67-1 67-4 67 7 66-6 67-4 67-2 67 8 67-4 67-7M119 1649l67 0 67 6 66-37 67-4 67-5 67-2 67-2 67 6 66-6 67-4 67-3 67 9 67-6 67 0" stroke="#ff329e" stroke-opacity="0.90"/>
<path d="M119 1650l67 1 67 6 66-38 67-3 67-2 67-1 67-2 67 5 66-10 67 1 67-2 67 6 67-3 67-3M119 1648l67 0 67 6 66-37 67-5 67-5 67 1 67-4 67 9 66-11 67-3 67 0 67 9 67-6 67-2M119 1651l67-1 67 7 66-34 67-6 67-4 67-2 67 2 67 2 66-12 67-2 67 0 67 12 67-9 67 0M119 1650l67 1 67 6 66-35 67-6 67 1 67-3 67-4 67 3 66-5 67-5 67-3 67 10 67-2 67-7M119 1651l67 1 67 3 66-31 67-6 67-3 67-3 67-5 67 8 66-9 67 0 67-4 67 9 67-8 67-1M119 1652l67-2 67 6 66-37 67-2 67-3 67-1 67-4 67 7 66-8 67-5 67 0 67 9 67-4 67-6M119 1651l67 0 67 5 66-38 67-2 67-4 67-2 67 3 67 0 66-9 67-1 67-3 67 10 67-3 67-3M119 1650l67 0 67 5 66-35 67-6 67 0 67-5 67-2 67 7 66-8 67-4 67 0 67 9 67-8 67-1" stroke="#ff3276" stroke-opacity="0.92"/>
</g>
<path d="M80.0 1541.0 V1680.3 H1093.5" fill="none" stroke="#3a3a3a" stroke-width="1.8"/>
<path d="M79.1 1578.7h-2.5M79.1 1617.1h-2.5M79.1 1656.1h-2.5M119.0 1681.2v3.5M185.8 1681.2v3.5M252.7 1681.2v3.5M319.5 1681.2v3.5M386.3 1681.2v3.5M453.1 1681.2v3.5M520.0 1681.2v3.5M586.8 1681.2v3.5M653.6 1681.2v3.5M720.5 1681.2v3.5M787.3 1681.2v3.5M854.1 1681.2v3.5M921.0 1681.2v3.5M987.8 1681.2v3.5M1054.6 1681.2v3.5" stroke="#3a3a3a" stroke-width="1.2" fill="none"/>
<text x="1081.5" y="1565.1" font-size="19.0" style="font-family:'Liberation Serif',serif;font-weight:normal" text-anchor="start" fill="#000" >Membership</text>
<defs><linearGradient id="g5" x1="0" y1="0" x2="0" y2="1"><stop offset="0.00" stop-color="#ff3276"/><stop offset="0.10" stop-color="#ff32d1"/><stop offset="0.20" stop-color="#d232ff"/><stop offset="0.30" stop-color="#7832ff"/><stop offset="0.40" stop-color="#3247ff"/><stop offset="0.50" stop-color="#32a1ff"/><stop offset="0.60" stop-color="#32fbff"/><stop offset="0.70" stop-color="#32ffa8"/><stop offset="0.80" stop-color="#32ff4e"/><stop offset="0.90" stop-color="#71ff32"/><stop offset="1.00" stop-color="#ccff32"/></linearGradient></defs>
<rect x="1112.3" y="1572.8" width="18.0" height="88.6" fill="url(#g5)" opacity="0.85"/>
<text x="1134.4" y="1584.3" font-size="11.0" style="font-family:'Liberation Sans',sans-serif;font-weight:normal" text-anchor="start" fill="#333" >0.5</text>
<text x="1134.4" y="1610.9" font-size="11.0" style="font-family:'Liberation Sans',sans-serif;font-weight:normal" text-anchor="start" fill="#333" >0.4</text>
<text x="1134.4" y="1637.5" font-size="11.0" style="font-family:'Liberation Sans',sans-serif;font-weight:normal" text-anchor="start" fill="#333" >0.3</text>
<text x="1134.4" y="1663.8" font-size="11.0" style="font-family:'Liberation Sans',sans-serif;font-weight:normal" text-anchor="start" fill="#333" >0.2</text>
<path d="M109.2 1487.6V1495" stroke="#888" stroke-width="1"/>
<text x="0" y="0" font-size="58.5" style="font-family:'Liberation Serif',serif;font-weight:bold" text-anchor="end" transform="translate(134.7 1689.2) rotate(-90) scale(0.930 1)">F<tspan dy="3.2">_</tspan><tspan dy="-3.2">1</tspan></text>
<text x="0" y="0" font-size="58.5" style="font-family:'Liberation Serif',serif;font-weight:bold" text-anchor="end" transform="translate(201.7 1689.7) rotate(-90) scale(0.930 1)">F<tspan dy="3.2">_</tspan><tspan dy="-3.2">2</tspan></text>
<text x="0" y="0" font-size="58.5" style="font-family:'Liberation Serif',serif;font-weight:bold" text-anchor="end" transform="translate(269.4 1690.1) rotate(-90) scale(0.930 1)">F<tspan dy="3.2">_</tspan><tspan dy="-3.2">3</tspan></text>
<text x="0" y="0" font-size="58.5" style="font-family:'Liberation Serif',serif;font-weight:bold" text-anchor="end" transform="translate(334.6 1689.2) rotate(-90) scale(0.930 1)">D1<tspan dy="3.2">_</tspan><tspan dy="-3.2">1</tspan></text>
<text x="0" y="0" font-size="58.5" style="font-family:'Liberation Serif',serif;font-weight:bold" text-anchor="end" transform="translate(401.5 1689.7) rotate(-90) scale(0.930 1)">D1<tspan dy="3.2">_</tspan><tspan dy="-3.2">2</tspan></text>
<text x="0" y="0" font-size="58.5" style="font-family:'Liberation Serif',serif;font-weight:bold" text-anchor="end" transform="translate(473.9 1690.1) rotate(-90) scale(0.930 1)">D1<tspan dy="3.2">_</tspan><tspan dy="-3.2">3</tspan></text>
<text x="0" y="0" font-size="58.5" style="font-family:'Liberation Serif',serif;font-weight:bold" text-anchor="end" transform="translate(541.7 1689.2) rotate(-90) scale(0.930 1)">D3<tspan dy="3.2">_</tspan><tspan dy="-3.2">1</tspan></text>
<text x="0" y="0" font-size="58.5" style="font-family:'Liberation Serif',serif;font-weight:bold" text-anchor="end" transform="translate(608.6 1689.7) rotate(-90) scale(0.930 1)">D3<tspan dy="3.2">_</tspan><tspan dy="-3.2">2</tspan></text>
<text x="0" y="0" font-size="58.5" style="font-family:'Liberation Serif',serif;font-weight:bold" text-anchor="end" transform="translate(671.2 1690.1) rotate(-90) scale(0.930 1)">D3<tspan dy="3.2">_</tspan><tspan dy="-3.2">3</tspan></text>
<text x="0" y="0" font-size="58.5" style="font-family:'Liberation Serif',serif;font-weight:bold" text-anchor="end" transform="translate(737.2 1689.2) rotate(-90) scale(0.930 1)">D5<tspan dy="3.2">_</tspan><tspan dy="-3.2">1</tspan></text>
<text x="0" y="0" font-size="58.5" style="font-family:'Liberation Serif',serif;font-weight:bold" text-anchor="end" transform="translate(802.5 1689.7) rotate(-90) scale(0.930 1)">D5<tspan dy="3.2">_</tspan><tspan dy="-3.2">2</tspan></text>
<text x="0" y="0" font-size="58.5" style="font-family:'Liberation Serif',serif;font-weight:bold" text-anchor="end" transform="translate(872.2 1690.1) rotate(-90) scale(0.930 1)">D5<tspan dy="3.2">_</tspan><tspan dy="-3.2">3</tspan></text>
<text x="0" y="0" font-size="58.5" style="font-family:'Liberation Serif',serif;font-weight:bold" text-anchor="end" transform="translate(934.9 1689.2) rotate(-90) scale(0.930 1)">D10<tspan dy="3.2">_</tspan><tspan dy="-3.2">1</tspan></text>
<text x="0" y="0" font-size="58.5" style="font-family:'Liberation Serif',serif;font-weight:bold" text-anchor="end" transform="translate(1004.2 1689.7) rotate(-90) scale(0.930 1)">D10<tspan dy="3.2">_</tspan><tspan dy="-3.2">2</tspan></text>
<text x="0" y="0" font-size="58.5" style="font-family:'Liberation Serif',serif;font-weight:bold" text-anchor="end" transform="translate(1074.2 1690.1) rotate(-90) scale(0.930 1)">D10<tspan dy="3.2">_</tspan><tspan dy="-3.2">3</tspan></text></svg></body></html>
